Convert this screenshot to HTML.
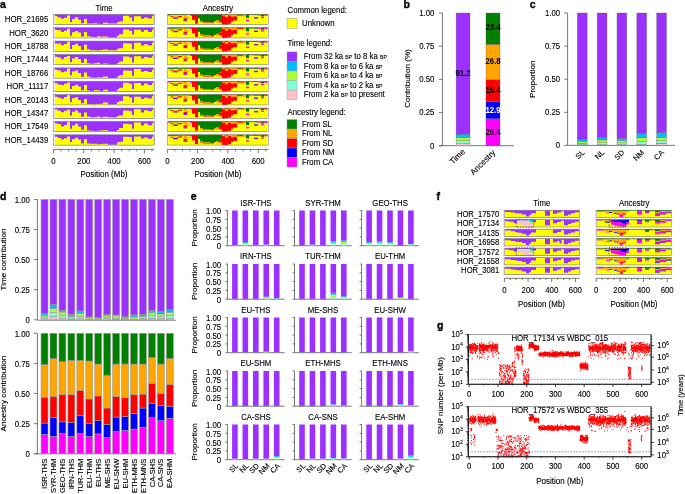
<!DOCTYPE html>
<html><head><meta charset="utf-8"><style>
html,body{margin:0;padding:0;background:#fff;width:685px;height:494px;overflow:hidden}
svg{display:block;will-change:transform}
text{font-family:"Liberation Sans",sans-serif}
</style></head><body>
<svg width="685" height="494" viewBox="0 0 685 494">
<rect width="685" height="494" fill="#fff"/>
<text x="-0.1" y="7.6" font-size="10.5" text-anchor="start" font-weight="bold" fill="#000" stroke="#000" stroke-width="0.35">a</text>
<text transform="translate(104,10.5) scale(0.93,1)" font-size="8.4" text-anchor="middle" font-weight="normal" fill="#000"  stroke="#000" stroke-width="0.12">Time</text>
<text transform="translate(218,10.5) scale(0.93,1)" font-size="8.4" text-anchor="middle" font-weight="normal" fill="#000"  stroke="#000" stroke-width="0.12">Ancestry</text>
<text transform="translate(48.3,22.2) scale(0.93,1)" font-size="8.4" text-anchor="end" font-weight="normal" fill="#000"  stroke="#000" stroke-width="0.12">HOR_21695</text>
<rect x="54.9" y="14.3" width="98.5" height="10.3" fill="#9B30FF" />
<path d="M54.9,24.6 L54.9,16.37 L58,16.37 L58,17.41 L61,17.41 L61,18.65 L64,18.65 L64,17.82 L67,17.82 L67,15.39 L70,15.39 L70,22.09 L72,22.09 L72,18.97 L75,18.97 L75,17.17 L78,17.17 L78,19.82 L81,19.82 L81,23.14 L84,23.14 L84,18.95 L87,18.95 L87,23.56 L90,23.56 L90,23.46 L94,23.46 L94,23.17 L97,23.17 L97,23.73 L100,23.73 L100,23.91 L103,23.91 L103,22.69 L108,22.69 L108,23.53 L117,23.53 L117,22.34 L119,22.34 L119,21.43 L123,21.43 L123,15.77 L129,15.77 L129,17.54 L132,17.54 L132,21.27 L134,21.27 L134,16.21 L141,16.21 L141,18.65 L144,18.65 L144,17.45 L148,17.45 L148,18.45 L152,18.45 L152,15.97 L153.4,15.97 L153.4,24.6 Z" fill="#FFFF00"/>
<rect x="53.5" y="14.3" width="100.8" height="10.3" fill="none" stroke="#7a7a7a" stroke-width="0.6"/>
<rect x="168.2" y="14.3" width="99.4" height="10.3" fill="#FFFF00" />
<rect x="168.2" y="14.3" width="99.4" height="0.72" fill="#008000" />
<rect x="168.2" y="14.3" width="2.35" height="0.82" fill="#008000" />
<rect x="168.2" y="15.12" width="2.35" height="0.62" fill="#FF00FF" />
<rect x="170.5" y="14.3" width="2.55" height="0.82" fill="#008000" />
<rect x="170.5" y="16.15" width="2.55" height="1.03" fill="#FF0000" />
<rect x="173" y="14.3" width="5.05" height="0.82" fill="#008000" />
<rect x="173" y="16.15" width="5.05" height="1.34" fill="#FFA500" />
<rect x="173" y="17.49" width="5.05" height="1.34" fill="#7A12E6" />
<rect x="178" y="14.3" width="4.05" height="0.52" fill="#008000" />
<rect x="178" y="15.85" width="4.05" height="1.24" fill="#FF0000" />
<rect x="182" y="14.3" width="1.55" height="0.52" fill="#008000" />
<rect x="182" y="14.82" width="1.55" height="1.03" fill="#FFA500" />
<rect x="183.5" y="14.3" width="3.55" height="0.82" fill="#008000" />
<rect x="183.5" y="15.12" width="3.55" height="2.58" fill="#FFA500" />
<rect x="183.5" y="18.21" width="3.55" height="2.06" fill="#FF0000" />
<rect x="183.5" y="20.27" width="3.55" height="1.03" fill="#7A12E6" />
<rect x="187" y="14.3" width="3.05" height="0.52" fill="#008000" />
<rect x="187" y="16.88" width="3.05" height="1.03" fill="#FFA500" />
<rect x="190" y="14.3" width="2.05" height="1.55" fill="#FF00FF" />
<rect x="192" y="14.3" width="3.05" height="5.67" fill="#FF0000" />
<rect x="195" y="14.3" width="3.05" height="9.27" fill="#FF0000" />
<rect x="198" y="14.3" width="2.05" height="4.12" fill="#008000" />
<rect x="200" y="14.3" width="3.05" height="6.8" fill="#008000" />
<rect x="200" y="21.1" width="3.05" height="0.62" fill="#FFA500" />
<rect x="200" y="21.72" width="3.05" height="0.52" fill="#FF0000" />
<rect x="203" y="14.3" width="8.05" height="7.73" fill="#008000" />
<rect x="203" y="22.03" width="8.05" height="0.52" fill="#FFA500" />
<rect x="203" y="22.54" width="8.05" height="0.52" fill="#FF0000" />
<rect x="211" y="14.3" width="3.05" height="8.24" fill="#008000" />
<rect x="211" y="22.54" width="3.05" height="0.52" fill="#FF0000" />
<rect x="211" y="23.05" width="3.05" height="0.41" fill="#FFA500" />
<rect x="214" y="14.3" width="2.05" height="7.21" fill="#008000" />
<rect x="214" y="21.51" width="2.05" height="0.62" fill="#FFA500" />
<rect x="216" y="14.3" width="3.05" height="6.18" fill="#008000" />
<rect x="216" y="20.48" width="3.05" height="2.06" fill="#FFA500" />
<rect x="219" y="14.3" width="3.05" height="4.64" fill="#008000" />
<rect x="219" y="18.94" width="3.05" height="3.09" fill="#FF0000" />
<rect x="219" y="22.03" width="3.05" height="1.03" fill="#FFA500" />
<rect x="222" y="14.3" width="3.05" height="1.24" fill="#FFA500" />
<rect x="222" y="15.54" width="3.05" height="9.06" fill="#FF0000" />
<rect x="225" y="14.3" width="3.05" height="0.82" fill="#008000" />
<rect x="225" y="15.12" width="3.05" height="2.06" fill="#FFA500" />
<rect x="225" y="17.18" width="3.05" height="7.42" fill="#FF0000" />
<rect x="228" y="14.3" width="3.05" height="1.24" fill="#FFA500" />
<rect x="228" y="15.54" width="3.05" height="8.24" fill="#FF0000" />
<rect x="231" y="14.3" width="2.05" height="2.58" fill="#FFA500" />
<rect x="231" y="16.88" width="2.05" height="4.64" fill="#FF0000" />
<rect x="233" y="14.3" width="4.05" height="2.06" fill="#FFA500" />
<rect x="233" y="16.36" width="4.05" height="4.12" fill="#FF0000" />
<rect x="237" y="14.3" width="6.05" height="0.62" fill="#008000" />
<rect x="237" y="14.92" width="6.05" height="0.82" fill="#FF0000" />
<rect x="237" y="15.74" width="6.05" height="0.62" fill="#FFA500" />
<rect x="243" y="14.3" width="3.05" height="2.06" fill="#FFA500" />
<rect x="246" y="14.3" width="3.05" height="3.6" fill="#008000" />
<rect x="246" y="19.14" width="3.05" height="0.82" fill="#FFA500" />
<rect x="246" y="19.97" width="3.05" height="1.24" fill="#FF00FF" />
<rect x="249" y="14.3" width="5.05" height="0.52" fill="#FF00FF" />
<rect x="254" y="14.3" width="4.05" height="0.82" fill="#008000" />
<rect x="254" y="17.18" width="4.05" height="1.44" fill="#7A12E6" />
<rect x="258" y="14.3" width="3.05" height="0.62" fill="#FFA500" />
<rect x="258" y="14.92" width="3.05" height="0.62" fill="#FF00FF" />
<rect x="261" y="14.3" width="3.05" height="2.06" fill="#008000" />
<rect x="261" y="16.88" width="3.05" height="1.24" fill="#FF00FF" />
<rect x="264" y="14.3" width="3.65" height="0.62" fill="#FF0000" />
<rect x="264" y="14.92" width="3.65" height="0.82" fill="#FF00FF" />
<rect x="167.3" y="14.3" width="101.2" height="10.3" fill="none" stroke="#7a7a7a" stroke-width="0.6"/>
<text transform="translate(48.3,35.59) scale(0.93,1)" font-size="8.4" text-anchor="end" font-weight="normal" fill="#000"  stroke="#000" stroke-width="0.12">HOR_3620</text>
<rect x="54.9" y="27.69" width="98.5" height="10.3" fill="#9B30FF" />
<path d="M54.9,37.99 L54.9,29.94 L58,29.94 L58,30.27 L61,30.27 L61,32.05 L64,32.05 L64,30.83 L67,30.83 L67,28.76 L70,28.76 L70,35.85 L72,35.85 L72,32.35 L75,32.35 L75,30.94 L78,30.94 L78,32.41 L81,32.41 L81,36.53 L84,36.53 L84,32.04 L87,32.04 L87,36.34 L90,36.34 L90,36.81 L94,36.81 L94,37.21 L97,37.21 L97,36.29 L100,36.29 L100,36.71 L103,36.71 L103,36.56 L108,36.56 L108,37.38 L117,37.38 L117,35.8 L119,35.8 L119,34.23 L123,34.23 L123,29.47 L129,29.47 L129,30.63 L132,30.63 L132,34.51 L134,34.51 L134,29.81 L141,29.81 L141,31.71 L144,31.71 L144,30.05 L148,30.05 L148,32.03 L152,32.03 L152,29.76 L153.4,29.76 L153.4,37.99 Z" fill="#FFFF00"/>
<rect x="53.5" y="27.69" width="100.8" height="10.3" fill="none" stroke="#7a7a7a" stroke-width="0.6"/>
<rect x="168.2" y="27.69" width="99.4" height="10.3" fill="#FFFF00" />
<rect x="168.2" y="27.69" width="99.4" height="0.72" fill="#008000" />
<rect x="168.2" y="27.69" width="2.35" height="0.82" fill="#008000" />
<rect x="168.2" y="28.51" width="2.35" height="0.62" fill="#FF00FF" />
<rect x="170.5" y="27.69" width="2.55" height="0.82" fill="#008000" />
<rect x="170.5" y="29.54" width="2.55" height="1.03" fill="#FF0000" />
<rect x="173" y="27.69" width="5.05" height="0.82" fill="#008000" />
<rect x="173" y="29.54" width="5.05" height="1.34" fill="#FFA500" />
<rect x="173" y="30.88" width="5.05" height="1.34" fill="#7A12E6" />
<rect x="178" y="27.69" width="4.05" height="0.52" fill="#008000" />
<rect x="178" y="29.24" width="4.05" height="1.24" fill="#FF0000" />
<rect x="182" y="27.69" width="1.55" height="0.52" fill="#008000" />
<rect x="182" y="28.21" width="1.55" height="1.03" fill="#FFA500" />
<rect x="183.5" y="27.69" width="3.55" height="0.82" fill="#008000" />
<rect x="183.5" y="28.51" width="3.55" height="2.58" fill="#FFA500" />
<rect x="183.5" y="31.6" width="3.55" height="2.06" fill="#FF0000" />
<rect x="183.5" y="33.66" width="3.55" height="1.03" fill="#7A12E6" />
<rect x="187" y="27.69" width="3.05" height="0.52" fill="#008000" />
<rect x="187" y="30.27" width="3.05" height="1.03" fill="#FFA500" />
<rect x="190" y="27.69" width="2.05" height="1.55" fill="#FF00FF" />
<rect x="192" y="27.69" width="3.05" height="5.67" fill="#FF0000" />
<rect x="195" y="27.69" width="3.05" height="9.27" fill="#FF0000" />
<rect x="198" y="27.69" width="2.05" height="4.12" fill="#008000" />
<rect x="200" y="27.69" width="3.05" height="6.8" fill="#008000" />
<rect x="200" y="34.49" width="3.05" height="0.62" fill="#FFA500" />
<rect x="200" y="35.11" width="3.05" height="0.52" fill="#FF0000" />
<rect x="203" y="27.69" width="8.05" height="7.73" fill="#008000" />
<rect x="203" y="35.41" width="8.05" height="0.52" fill="#FFA500" />
<rect x="203" y="35.93" width="8.05" height="0.52" fill="#FF0000" />
<rect x="211" y="27.69" width="3.05" height="8.24" fill="#008000" />
<rect x="211" y="35.93" width="3.05" height="0.52" fill="#FF0000" />
<rect x="211" y="36.45" width="3.05" height="0.41" fill="#FFA500" />
<rect x="214" y="27.69" width="2.05" height="7.21" fill="#008000" />
<rect x="214" y="34.9" width="2.05" height="0.62" fill="#FFA500" />
<rect x="216" y="27.69" width="3.05" height="6.18" fill="#008000" />
<rect x="216" y="33.87" width="3.05" height="2.06" fill="#FFA500" />
<rect x="219" y="27.69" width="3.05" height="4.64" fill="#008000" />
<rect x="219" y="32.33" width="3.05" height="3.09" fill="#FF0000" />
<rect x="219" y="35.42" width="3.05" height="1.03" fill="#FFA500" />
<rect x="222" y="27.69" width="3.05" height="1.24" fill="#FFA500" />
<rect x="222" y="28.93" width="3.05" height="9.06" fill="#FF0000" />
<rect x="225" y="27.69" width="3.05" height="0.82" fill="#008000" />
<rect x="225" y="28.51" width="3.05" height="2.06" fill="#FFA500" />
<rect x="225" y="30.57" width="3.05" height="7.42" fill="#FF0000" />
<rect x="228" y="27.69" width="3.05" height="1.24" fill="#FFA500" />
<rect x="228" y="28.93" width="3.05" height="8.24" fill="#FF0000" />
<rect x="231" y="27.69" width="2.05" height="2.58" fill="#FFA500" />
<rect x="231" y="30.27" width="2.05" height="4.64" fill="#FF0000" />
<rect x="233" y="27.69" width="4.05" height="2.06" fill="#FFA500" />
<rect x="233" y="29.75" width="4.05" height="4.12" fill="#FF0000" />
<rect x="237" y="27.69" width="6.05" height="0.62" fill="#008000" />
<rect x="237" y="28.31" width="6.05" height="0.82" fill="#FF0000" />
<rect x="237" y="29.13" width="6.05" height="0.62" fill="#FFA500" />
<rect x="243" y="27.69" width="3.05" height="2.06" fill="#FFA500" />
<rect x="246" y="27.69" width="3.05" height="3.6" fill="#008000" />
<rect x="246" y="32.53" width="3.05" height="0.82" fill="#FFA500" />
<rect x="246" y="33.35" width="3.05" height="1.24" fill="#FF00FF" />
<rect x="249" y="27.69" width="5.05" height="0.52" fill="#FF00FF" />
<rect x="254" y="27.69" width="4.05" height="0.82" fill="#008000" />
<rect x="254" y="30.57" width="4.05" height="1.44" fill="#7A12E6" />
<rect x="258" y="27.69" width="3.05" height="0.62" fill="#FFA500" />
<rect x="258" y="28.31" width="3.05" height="0.62" fill="#FF00FF" />
<rect x="261" y="27.69" width="3.05" height="2.06" fill="#008000" />
<rect x="261" y="30.27" width="3.05" height="1.24" fill="#FF00FF" />
<rect x="264" y="27.69" width="3.65" height="0.62" fill="#FF0000" />
<rect x="264" y="28.31" width="3.65" height="0.82" fill="#FF00FF" />
<rect x="167.3" y="27.69" width="101.2" height="10.3" fill="none" stroke="#7a7a7a" stroke-width="0.6"/>
<text transform="translate(48.3,48.98) scale(0.93,1)" font-size="8.4" text-anchor="end" font-weight="normal" fill="#000"  stroke="#000" stroke-width="0.12">HOR_18788</text>
<rect x="54.9" y="41.08" width="98.5" height="10.3" fill="#9B30FF" />
<path d="M54.9,51.38 L54.9,43.5 L58,43.5 L58,43.55 L61,43.55 L61,45.28 L64,45.28 L64,43.98 L67,43.98 L67,41.75 L70,41.75 L70,48.93 L72,48.93 L72,44.96 L75,44.96 L75,43.85 L78,43.85 L78,45.93 L81,45.93 L81,49.89 L84,49.89 L84,44.78 L87,44.78 L87,49.29 L90,49.29 L90,50.18 L94,50.18 L94,50.15 L97,50.15 L97,50.58 L100,50.58 L100,50.1 L103,50.1 L103,49.45 L108,49.45 L108,50.26 L117,50.26 L117,48.82 L119,48.82 L119,48.35 L123,48.35 L123,43.28 L129,43.28 L129,43.55 L132,43.55 L132,49.09 L134,49.09 L134,42.78 L141,42.78 L141,45.4 L144,45.4 L144,44.23 L148,44.23 L148,45.54 L152,45.54 L152,42.81 L153.4,42.81 L153.4,51.38 Z" fill="#FFFF00"/>
<rect x="53.5" y="41.08" width="100.8" height="10.3" fill="none" stroke="#7a7a7a" stroke-width="0.6"/>
<rect x="168.2" y="41.08" width="99.4" height="10.3" fill="#FFFF00" />
<rect x="168.2" y="41.08" width="99.4" height="0.72" fill="#008000" />
<rect x="168.2" y="41.08" width="2.35" height="0.82" fill="#008000" />
<rect x="168.2" y="41.9" width="2.35" height="0.62" fill="#FF00FF" />
<rect x="170.5" y="41.08" width="2.55" height="0.82" fill="#008000" />
<rect x="170.5" y="42.93" width="2.55" height="1.03" fill="#FF0000" />
<rect x="173" y="41.08" width="5.05" height="0.82" fill="#008000" />
<rect x="173" y="42.93" width="5.05" height="1.34" fill="#FFA500" />
<rect x="173" y="44.27" width="5.05" height="1.34" fill="#7A12E6" />
<rect x="178" y="41.08" width="4.05" height="0.52" fill="#008000" />
<rect x="178" y="42.62" width="4.05" height="1.24" fill="#FF0000" />
<rect x="182" y="41.08" width="1.55" height="0.52" fill="#008000" />
<rect x="182" y="41.59" width="1.55" height="1.03" fill="#FFA500" />
<rect x="183.5" y="41.08" width="3.55" height="0.82" fill="#008000" />
<rect x="183.5" y="41.9" width="3.55" height="2.58" fill="#FFA500" />
<rect x="183.5" y="44.99" width="3.55" height="2.06" fill="#FF0000" />
<rect x="183.5" y="47.05" width="3.55" height="1.03" fill="#7A12E6" />
<rect x="187" y="41.08" width="3.05" height="0.52" fill="#008000" />
<rect x="187" y="43.66" width="3.05" height="1.03" fill="#FFA500" />
<rect x="190" y="41.08" width="2.05" height="1.55" fill="#FF00FF" />
<rect x="192" y="41.08" width="3.05" height="5.67" fill="#FF0000" />
<rect x="195" y="41.08" width="3.05" height="9.27" fill="#FF0000" />
<rect x="198" y="41.08" width="2.05" height="4.12" fill="#008000" />
<rect x="200" y="41.08" width="3.05" height="6.8" fill="#008000" />
<rect x="200" y="47.88" width="3.05" height="0.62" fill="#FFA500" />
<rect x="200" y="48.5" width="3.05" height="0.52" fill="#FF0000" />
<rect x="203" y="41.08" width="8.05" height="7.73" fill="#008000" />
<rect x="203" y="48.8" width="8.05" height="0.52" fill="#FFA500" />
<rect x="203" y="49.32" width="8.05" height="0.52" fill="#FF0000" />
<rect x="211" y="41.08" width="3.05" height="8.24" fill="#008000" />
<rect x="211" y="49.32" width="3.05" height="0.52" fill="#FF0000" />
<rect x="211" y="49.84" width="3.05" height="0.41" fill="#FFA500" />
<rect x="214" y="41.08" width="2.05" height="7.21" fill="#008000" />
<rect x="214" y="48.29" width="2.05" height="0.62" fill="#FFA500" />
<rect x="216" y="41.08" width="3.05" height="6.18" fill="#008000" />
<rect x="216" y="47.26" width="3.05" height="2.06" fill="#FFA500" />
<rect x="219" y="41.08" width="3.05" height="4.64" fill="#008000" />
<rect x="219" y="45.71" width="3.05" height="3.09" fill="#FF0000" />
<rect x="219" y="48.8" width="3.05" height="1.03" fill="#FFA500" />
<rect x="222" y="41.08" width="3.05" height="1.24" fill="#FFA500" />
<rect x="222" y="42.32" width="3.05" height="9.06" fill="#FF0000" />
<rect x="225" y="41.08" width="3.05" height="0.82" fill="#008000" />
<rect x="225" y="41.9" width="3.05" height="2.06" fill="#FFA500" />
<rect x="225" y="43.96" width="3.05" height="7.42" fill="#FF0000" />
<rect x="228" y="41.08" width="3.05" height="1.24" fill="#FFA500" />
<rect x="228" y="42.32" width="3.05" height="8.24" fill="#FF0000" />
<rect x="231" y="41.08" width="2.05" height="2.58" fill="#FFA500" />
<rect x="231" y="43.66" width="2.05" height="4.64" fill="#FF0000" />
<rect x="233" y="41.08" width="4.05" height="2.06" fill="#FFA500" />
<rect x="233" y="43.14" width="4.05" height="4.12" fill="#FF0000" />
<rect x="237" y="41.08" width="6.05" height="0.62" fill="#008000" />
<rect x="237" y="41.7" width="6.05" height="0.82" fill="#FF0000" />
<rect x="237" y="42.52" width="6.05" height="0.62" fill="#FFA500" />
<rect x="243" y="41.08" width="3.05" height="2.06" fill="#FFA500" />
<rect x="246" y="41.08" width="3.05" height="3.6" fill="#008000" />
<rect x="246" y="45.92" width="3.05" height="0.82" fill="#FFA500" />
<rect x="246" y="46.74" width="3.05" height="1.24" fill="#FF00FF" />
<rect x="249" y="41.08" width="5.05" height="0.52" fill="#FF00FF" />
<rect x="254" y="41.08" width="4.05" height="0.82" fill="#008000" />
<rect x="254" y="43.96" width="4.05" height="1.44" fill="#7A12E6" />
<rect x="258" y="41.08" width="3.05" height="0.62" fill="#FFA500" />
<rect x="258" y="41.7" width="3.05" height="0.62" fill="#FF00FF" />
<rect x="261" y="41.08" width="3.05" height="2.06" fill="#008000" />
<rect x="261" y="43.66" width="3.05" height="1.24" fill="#FF00FF" />
<rect x="264" y="41.08" width="3.65" height="0.62" fill="#FF0000" />
<rect x="264" y="41.7" width="3.65" height="0.82" fill="#FF00FF" />
<rect x="167.3" y="41.08" width="101.2" height="10.3" fill="none" stroke="#7a7a7a" stroke-width="0.6"/>
<text transform="translate(48.3,62.37) scale(0.93,1)" font-size="8.4" text-anchor="end" font-weight="normal" fill="#000"  stroke="#000" stroke-width="0.12">HOR_17444</text>
<rect x="54.9" y="54.47" width="98.5" height="10.3" fill="#9B30FF" />
<path d="M54.9,64.77 L54.9,56.78 L58,56.78 L58,57.46 L61,57.46 L61,59.14 L64,59.14 L64,57 L67,57 L67,56.12 L70,56.12 L70,62.15 L72,62.15 L72,58.53 L75,58.53 L75,56.88 L78,56.88 L78,59.02 L81,59.02 L81,62.78 L84,62.78 L84,58.86 L87,58.86 L87,63.33 L90,63.33 L90,63.71 L94,63.71 L94,63.27 L97,63.27 L97,62.87 L100,62.87 L100,64.17 L103,64.17 L103,63.42 L108,63.42 L108,64.59 L117,64.59 L117,62.94 L119,62.94 L119,61.49 L123,61.49 L123,56.42 L129,56.42 L129,57.44 L132,57.44 L132,62.5 L134,62.5 L134,56.22 L141,56.22 L141,58.55 L144,58.55 L144,57.07 L148,57.07 L148,57.82 L152,57.82 L152,56.29 L153.4,56.29 L153.4,64.77 Z" fill="#FFFF00"/>
<rect x="53.5" y="54.47" width="100.8" height="10.3" fill="none" stroke="#7a7a7a" stroke-width="0.6"/>
<rect x="168.2" y="54.47" width="99.4" height="10.3" fill="#FFFF00" />
<rect x="168.2" y="54.47" width="99.4" height="0.72" fill="#008000" />
<rect x="168.2" y="54.47" width="2.35" height="0.82" fill="#008000" />
<rect x="168.2" y="55.29" width="2.35" height="0.62" fill="#FF00FF" />
<rect x="170.5" y="54.47" width="2.55" height="0.82" fill="#008000" />
<rect x="170.5" y="56.32" width="2.55" height="1.03" fill="#FF0000" />
<rect x="173" y="54.47" width="5.05" height="0.82" fill="#008000" />
<rect x="173" y="56.32" width="5.05" height="1.34" fill="#FFA500" />
<rect x="173" y="57.66" width="5.05" height="1.34" fill="#7A12E6" />
<rect x="178" y="54.47" width="4.05" height="0.52" fill="#008000" />
<rect x="178" y="56.02" width="4.05" height="1.24" fill="#FF0000" />
<rect x="182" y="54.47" width="1.55" height="0.52" fill="#008000" />
<rect x="182" y="54.98" width="1.55" height="1.03" fill="#FFA500" />
<rect x="183.5" y="54.47" width="3.55" height="0.82" fill="#008000" />
<rect x="183.5" y="55.29" width="3.55" height="2.58" fill="#FFA500" />
<rect x="183.5" y="58.38" width="3.55" height="2.06" fill="#FF0000" />
<rect x="183.5" y="60.44" width="3.55" height="1.03" fill="#7A12E6" />
<rect x="187" y="54.47" width="3.05" height="0.52" fill="#008000" />
<rect x="187" y="57.05" width="3.05" height="1.03" fill="#FFA500" />
<rect x="190" y="54.47" width="2.05" height="1.55" fill="#FF00FF" />
<rect x="192" y="54.47" width="3.05" height="5.67" fill="#FF0000" />
<rect x="195" y="54.47" width="3.05" height="9.27" fill="#FF0000" />
<rect x="198" y="54.47" width="2.05" height="4.12" fill="#008000" />
<rect x="200" y="54.47" width="3.05" height="6.8" fill="#008000" />
<rect x="200" y="61.27" width="3.05" height="0.62" fill="#FFA500" />
<rect x="200" y="61.89" width="3.05" height="0.52" fill="#FF0000" />
<rect x="203" y="54.47" width="8.05" height="7.73" fill="#008000" />
<rect x="203" y="62.2" width="8.05" height="0.52" fill="#FFA500" />
<rect x="203" y="62.71" width="8.05" height="0.52" fill="#FF0000" />
<rect x="211" y="54.47" width="3.05" height="8.24" fill="#008000" />
<rect x="211" y="62.71" width="3.05" height="0.52" fill="#FF0000" />
<rect x="211" y="63.23" width="3.05" height="0.41" fill="#FFA500" />
<rect x="214" y="54.47" width="2.05" height="7.21" fill="#008000" />
<rect x="214" y="61.68" width="2.05" height="0.62" fill="#FFA500" />
<rect x="216" y="54.47" width="3.05" height="6.18" fill="#008000" />
<rect x="216" y="60.65" width="3.05" height="2.06" fill="#FFA500" />
<rect x="219" y="54.47" width="3.05" height="4.64" fill="#008000" />
<rect x="219" y="59.1" width="3.05" height="3.09" fill="#FF0000" />
<rect x="219" y="62.2" width="3.05" height="1.03" fill="#FFA500" />
<rect x="222" y="54.47" width="3.05" height="1.24" fill="#FFA500" />
<rect x="222" y="55.71" width="3.05" height="9.06" fill="#FF0000" />
<rect x="225" y="54.47" width="3.05" height="0.82" fill="#008000" />
<rect x="225" y="55.29" width="3.05" height="2.06" fill="#FFA500" />
<rect x="225" y="57.35" width="3.05" height="7.42" fill="#FF0000" />
<rect x="228" y="54.47" width="3.05" height="1.24" fill="#FFA500" />
<rect x="228" y="55.71" width="3.05" height="8.24" fill="#FF0000" />
<rect x="231" y="54.47" width="2.05" height="2.58" fill="#FFA500" />
<rect x="231" y="57.05" width="2.05" height="4.64" fill="#FF0000" />
<rect x="233" y="54.47" width="4.05" height="2.06" fill="#FFA500" />
<rect x="233" y="56.53" width="4.05" height="4.12" fill="#FF0000" />
<rect x="237" y="54.47" width="6.05" height="0.62" fill="#008000" />
<rect x="237" y="55.09" width="6.05" height="0.82" fill="#FF0000" />
<rect x="237" y="55.91" width="6.05" height="0.62" fill="#FFA500" />
<rect x="243" y="54.47" width="3.05" height="2.06" fill="#FFA500" />
<rect x="246" y="54.47" width="3.05" height="3.6" fill="#008000" />
<rect x="246" y="59.31" width="3.05" height="0.82" fill="#FFA500" />
<rect x="246" y="60.13" width="3.05" height="1.24" fill="#FF00FF" />
<rect x="249" y="54.47" width="5.05" height="0.52" fill="#FF00FF" />
<rect x="254" y="54.47" width="4.05" height="0.82" fill="#008000" />
<rect x="254" y="57.35" width="4.05" height="1.44" fill="#7A12E6" />
<rect x="258" y="54.47" width="3.05" height="0.62" fill="#FFA500" />
<rect x="258" y="55.09" width="3.05" height="0.62" fill="#FF00FF" />
<rect x="261" y="54.47" width="3.05" height="2.06" fill="#008000" />
<rect x="261" y="57.05" width="3.05" height="1.24" fill="#FF00FF" />
<rect x="264" y="54.47" width="3.65" height="0.62" fill="#FF0000" />
<rect x="264" y="55.09" width="3.65" height="0.82" fill="#FF00FF" />
<rect x="167.3" y="54.47" width="101.2" height="10.3" fill="none" stroke="#7a7a7a" stroke-width="0.6"/>
<text transform="translate(48.3,75.76) scale(0.93,1)" font-size="8.4" text-anchor="end" font-weight="normal" fill="#000"  stroke="#000" stroke-width="0.12">HOR_18766</text>
<rect x="54.9" y="67.86" width="98.5" height="10.3" fill="#9B30FF" />
<path d="M54.9,78.16 L54.9,69.69 L58,69.69 L58,70.39 L61,70.39 L61,72.17 L64,72.17 L64,71.4 L67,71.4 L67,68.5 L70,68.5 L70,75.14 L72,75.14 L72,71.52 L75,71.52 L75,70.38 L78,70.38 L78,72.94 L81,72.94 L81,76.74 L84,76.74 L84,72.47 L87,72.47 L87,76.45 L90,76.45 L90,77.47 L94,77.47 L94,77.66 L97,77.66 L97,77.18 L100,77.18 L100,77.55 L103,77.55 L103,76.61 L108,76.61 L108,78.16 L117,78.16 L117,76.61 L119,76.61 L119,75.3 L123,75.3 L123,70.41 L129,70.41 L129,70.71 L132,70.71 L132,75.86 L134,75.86 L134,69.05 L141,69.05 L141,71.63 L144,71.63 L144,70.97 L148,70.97 L148,72.08 L152,72.08 L152,70.11 L153.4,70.11 L153.4,78.16 Z" fill="#FFFF00"/>
<rect x="53.5" y="67.86" width="100.8" height="10.3" fill="none" stroke="#7a7a7a" stroke-width="0.6"/>
<rect x="168.2" y="67.86" width="99.4" height="10.3" fill="#FFFF00" />
<rect x="168.2" y="67.86" width="99.4" height="0.72" fill="#008000" />
<rect x="168.2" y="67.86" width="2.35" height="0.82" fill="#008000" />
<rect x="168.2" y="68.68" width="2.35" height="0.62" fill="#FF00FF" />
<rect x="170.5" y="67.86" width="2.55" height="0.82" fill="#008000" />
<rect x="170.5" y="69.71" width="2.55" height="1.03" fill="#FF0000" />
<rect x="173" y="67.86" width="5.05" height="0.82" fill="#008000" />
<rect x="173" y="69.71" width="5.05" height="1.34" fill="#FFA500" />
<rect x="173" y="71.05" width="5.05" height="1.34" fill="#7A12E6" />
<rect x="178" y="67.86" width="4.05" height="0.52" fill="#008000" />
<rect x="178" y="69.41" width="4.05" height="1.24" fill="#FF0000" />
<rect x="182" y="67.86" width="1.55" height="0.52" fill="#008000" />
<rect x="182" y="68.38" width="1.55" height="1.03" fill="#FFA500" />
<rect x="183.5" y="67.86" width="3.55" height="0.82" fill="#008000" />
<rect x="183.5" y="68.68" width="3.55" height="2.58" fill="#FFA500" />
<rect x="183.5" y="71.77" width="3.55" height="2.06" fill="#FF0000" />
<rect x="183.5" y="73.83" width="3.55" height="1.03" fill="#7A12E6" />
<rect x="187" y="67.86" width="3.05" height="0.52" fill="#008000" />
<rect x="187" y="70.44" width="3.05" height="1.03" fill="#FFA500" />
<rect x="190" y="67.86" width="2.05" height="1.55" fill="#FF00FF" />
<rect x="192" y="67.86" width="3.05" height="5.67" fill="#FF0000" />
<rect x="195" y="67.86" width="3.05" height="9.27" fill="#FF0000" />
<rect x="198" y="67.86" width="2.05" height="4.12" fill="#008000" />
<rect x="200" y="67.86" width="3.05" height="6.8" fill="#008000" />
<rect x="200" y="74.66" width="3.05" height="0.62" fill="#FFA500" />
<rect x="200" y="75.28" width="3.05" height="0.52" fill="#FF0000" />
<rect x="203" y="67.86" width="8.05" height="7.73" fill="#008000" />
<rect x="203" y="75.58" width="8.05" height="0.52" fill="#FFA500" />
<rect x="203" y="76.1" width="8.05" height="0.52" fill="#FF0000" />
<rect x="211" y="67.86" width="3.05" height="8.24" fill="#008000" />
<rect x="211" y="76.1" width="3.05" height="0.52" fill="#FF0000" />
<rect x="211" y="76.61" width="3.05" height="0.41" fill="#FFA500" />
<rect x="214" y="67.86" width="2.05" height="7.21" fill="#008000" />
<rect x="214" y="75.07" width="2.05" height="0.62" fill="#FFA500" />
<rect x="216" y="67.86" width="3.05" height="6.18" fill="#008000" />
<rect x="216" y="74.04" width="3.05" height="2.06" fill="#FFA500" />
<rect x="219" y="67.86" width="3.05" height="4.64" fill="#008000" />
<rect x="219" y="72.5" width="3.05" height="3.09" fill="#FF0000" />
<rect x="219" y="75.59" width="3.05" height="1.03" fill="#FFA500" />
<rect x="222" y="67.86" width="3.05" height="1.24" fill="#FFA500" />
<rect x="222" y="69.1" width="3.05" height="9.06" fill="#FF0000" />
<rect x="225" y="67.86" width="3.05" height="0.82" fill="#008000" />
<rect x="225" y="68.68" width="3.05" height="2.06" fill="#FFA500" />
<rect x="225" y="70.74" width="3.05" height="7.42" fill="#FF0000" />
<rect x="228" y="67.86" width="3.05" height="1.24" fill="#FFA500" />
<rect x="228" y="69.1" width="3.05" height="8.24" fill="#FF0000" />
<rect x="231" y="67.86" width="2.05" height="2.58" fill="#FFA500" />
<rect x="231" y="70.44" width="2.05" height="4.64" fill="#FF0000" />
<rect x="233" y="67.86" width="4.05" height="2.06" fill="#FFA500" />
<rect x="233" y="69.92" width="4.05" height="4.12" fill="#FF0000" />
<rect x="237" y="67.86" width="6.05" height="0.62" fill="#008000" />
<rect x="237" y="68.48" width="6.05" height="0.82" fill="#FF0000" />
<rect x="237" y="69.3" width="6.05" height="0.62" fill="#FFA500" />
<rect x="243" y="67.86" width="3.05" height="2.06" fill="#FFA500" />
<rect x="246" y="67.86" width="3.05" height="3.6" fill="#008000" />
<rect x="246" y="72.7" width="3.05" height="0.82" fill="#FFA500" />
<rect x="246" y="73.53" width="3.05" height="1.24" fill="#FF00FF" />
<rect x="249" y="67.86" width="5.05" height="0.52" fill="#FF00FF" />
<rect x="254" y="67.86" width="4.05" height="0.82" fill="#008000" />
<rect x="254" y="70.74" width="4.05" height="1.44" fill="#7A12E6" />
<rect x="258" y="67.86" width="3.05" height="0.62" fill="#FFA500" />
<rect x="258" y="68.48" width="3.05" height="0.62" fill="#FF00FF" />
<rect x="261" y="67.86" width="3.05" height="2.06" fill="#008000" />
<rect x="261" y="70.44" width="3.05" height="1.24" fill="#FF00FF" />
<rect x="264" y="67.86" width="3.65" height="0.62" fill="#FF0000" />
<rect x="264" y="68.48" width="3.65" height="0.82" fill="#FF00FF" />
<rect x="167.3" y="67.86" width="101.2" height="10.3" fill="none" stroke="#7a7a7a" stroke-width="0.6"/>
<text transform="translate(48.3,89.15) scale(0.93,1)" font-size="8.4" text-anchor="end" font-weight="normal" fill="#000"  stroke="#000" stroke-width="0.12">HOR_11117</text>
<rect x="54.9" y="81.25" width="98.5" height="10.3" fill="#9B30FF" />
<path d="M54.9,91.55 L54.9,83.27 L58,83.27 L58,84.39 L61,84.39 L61,85.35 L64,85.35 L64,83.63 L67,83.63 L67,82.43 L70,82.43 L70,88.89 L72,88.89 L72,85.88 L75,85.88 L75,84.63 L78,84.63 L78,86.39 L81,86.39 L81,90.3 L84,90.3 L84,84.96 L87,84.96 L87,90.42 L90,90.42 L90,90.9 L94,90.9 L94,89.96 L97,89.96 L97,90.18 L100,90.18 L100,90.96 L103,90.96 L103,89.75 L108,89.75 L108,91.55 L117,91.55 L117,89.35 L119,89.35 L119,87.66 L123,87.66 L123,82.86 L129,82.86 L129,83.69 L132,83.69 L132,88.96 L134,88.96 L134,83.06 L141,83.06 L141,85.58 L144,85.58 L144,83.59 L148,83.59 L148,85.12 L152,85.12 L152,82.97 L153.4,82.97 L153.4,91.55 Z" fill="#FFFF00"/>
<rect x="53.5" y="81.25" width="100.8" height="10.3" fill="none" stroke="#7a7a7a" stroke-width="0.6"/>
<rect x="168.2" y="81.25" width="99.4" height="10.3" fill="#FFFF00" />
<rect x="168.2" y="81.25" width="99.4" height="0.72" fill="#008000" />
<rect x="168.2" y="81.25" width="2.35" height="0.82" fill="#008000" />
<rect x="168.2" y="82.07" width="2.35" height="0.62" fill="#FF00FF" />
<rect x="170.5" y="81.25" width="2.55" height="0.82" fill="#008000" />
<rect x="170.5" y="83.1" width="2.55" height="1.03" fill="#FF0000" />
<rect x="173" y="81.25" width="5.05" height="0.82" fill="#008000" />
<rect x="173" y="83.1" width="5.05" height="1.34" fill="#FFA500" />
<rect x="173" y="84.44" width="5.05" height="1.34" fill="#7A12E6" />
<rect x="178" y="81.25" width="4.05" height="0.52" fill="#008000" />
<rect x="178" y="82.8" width="4.05" height="1.24" fill="#FF0000" />
<rect x="182" y="81.25" width="1.55" height="0.52" fill="#008000" />
<rect x="182" y="81.77" width="1.55" height="1.03" fill="#FFA500" />
<rect x="183.5" y="81.25" width="3.55" height="0.82" fill="#008000" />
<rect x="183.5" y="82.07" width="3.55" height="2.58" fill="#FFA500" />
<rect x="183.5" y="85.16" width="3.55" height="2.06" fill="#FF0000" />
<rect x="183.5" y="87.22" width="3.55" height="1.03" fill="#7A12E6" />
<rect x="187" y="81.25" width="3.05" height="0.52" fill="#008000" />
<rect x="187" y="83.83" width="3.05" height="1.03" fill="#FFA500" />
<rect x="190" y="81.25" width="2.05" height="1.55" fill="#FF00FF" />
<rect x="192" y="81.25" width="3.05" height="5.67" fill="#FF0000" />
<rect x="195" y="81.25" width="3.05" height="9.27" fill="#FF0000" />
<rect x="198" y="81.25" width="2.05" height="4.12" fill="#008000" />
<rect x="200" y="81.25" width="3.05" height="6.8" fill="#008000" />
<rect x="200" y="88.05" width="3.05" height="0.62" fill="#FFA500" />
<rect x="200" y="88.67" width="3.05" height="0.52" fill="#FF0000" />
<rect x="203" y="81.25" width="8.05" height="7.73" fill="#008000" />
<rect x="203" y="88.97" width="8.05" height="0.52" fill="#FFA500" />
<rect x="203" y="89.49" width="8.05" height="0.52" fill="#FF0000" />
<rect x="211" y="81.25" width="3.05" height="8.24" fill="#008000" />
<rect x="211" y="89.49" width="3.05" height="0.52" fill="#FF0000" />
<rect x="211" y="90" width="3.05" height="0.41" fill="#FFA500" />
<rect x="214" y="81.25" width="2.05" height="7.21" fill="#008000" />
<rect x="214" y="88.46" width="2.05" height="0.62" fill="#FFA500" />
<rect x="216" y="81.25" width="3.05" height="6.18" fill="#008000" />
<rect x="216" y="87.43" width="3.05" height="2.06" fill="#FFA500" />
<rect x="219" y="81.25" width="3.05" height="4.64" fill="#008000" />
<rect x="219" y="85.89" width="3.05" height="3.09" fill="#FF0000" />
<rect x="219" y="88.98" width="3.05" height="1.03" fill="#FFA500" />
<rect x="222" y="81.25" width="3.05" height="1.24" fill="#FFA500" />
<rect x="222" y="82.49" width="3.05" height="9.06" fill="#FF0000" />
<rect x="225" y="81.25" width="3.05" height="0.82" fill="#008000" />
<rect x="225" y="82.07" width="3.05" height="2.06" fill="#FFA500" />
<rect x="225" y="84.13" width="3.05" height="7.42" fill="#FF0000" />
<rect x="228" y="81.25" width="3.05" height="1.24" fill="#FFA500" />
<rect x="228" y="82.49" width="3.05" height="8.24" fill="#FF0000" />
<rect x="231" y="81.25" width="2.05" height="2.58" fill="#FFA500" />
<rect x="231" y="83.83" width="2.05" height="4.64" fill="#FF0000" />
<rect x="233" y="81.25" width="4.05" height="2.06" fill="#FFA500" />
<rect x="233" y="83.31" width="4.05" height="4.12" fill="#FF0000" />
<rect x="237" y="81.25" width="6.05" height="0.62" fill="#008000" />
<rect x="237" y="81.87" width="6.05" height="0.82" fill="#FF0000" />
<rect x="237" y="82.69" width="6.05" height="0.62" fill="#FFA500" />
<rect x="243" y="81.25" width="3.05" height="2.06" fill="#FFA500" />
<rect x="246" y="81.25" width="3.05" height="3.6" fill="#008000" />
<rect x="246" y="86.09" width="3.05" height="0.82" fill="#FFA500" />
<rect x="246" y="86.92" width="3.05" height="1.24" fill="#FF00FF" />
<rect x="249" y="81.25" width="5.05" height="0.52" fill="#FF00FF" />
<rect x="254" y="81.25" width="4.05" height="0.82" fill="#008000" />
<rect x="254" y="84.13" width="4.05" height="1.44" fill="#7A12E6" />
<rect x="258" y="81.25" width="3.05" height="0.62" fill="#FFA500" />
<rect x="258" y="81.87" width="3.05" height="0.62" fill="#FF00FF" />
<rect x="261" y="81.25" width="3.05" height="2.06" fill="#008000" />
<rect x="261" y="83.83" width="3.05" height="1.24" fill="#FF00FF" />
<rect x="264" y="81.25" width="3.65" height="0.62" fill="#FF0000" />
<rect x="264" y="81.87" width="3.65" height="0.82" fill="#FF00FF" />
<rect x="167.3" y="81.25" width="101.2" height="10.3" fill="none" stroke="#7a7a7a" stroke-width="0.6"/>
<text transform="translate(48.3,102.54) scale(0.93,1)" font-size="8.4" text-anchor="end" font-weight="normal" fill="#000"  stroke="#000" stroke-width="0.12">HOR_20143</text>
<rect x="54.9" y="94.64" width="98.5" height="10.3" fill="#9B30FF" />
<path d="M54.9,104.94 L54.9,96.7 L58,96.7 L58,97.66 L61,97.66 L61,98.79 L64,98.79 L64,97.03 L67,97.03 L67,95.34 L70,95.34 L70,101.88 L72,101.88 L72,98.37 L75,98.37 L75,97.23 L78,97.23 L78,99.92 L81,99.92 L81,103.37 L84,103.37 L84,98.94 L87,98.94 L87,103.98 L90,103.98 L90,104.29 L94,104.29 L94,104.18 L97,104.18 L97,103.9 L100,103.9 L100,103.67 L103,103.67 L103,102.62 L108,102.62 L108,104.49 L117,104.49 L117,102.24 L119,102.24 L119,101.04 L123,101.04 L123,96.14 L129,96.14 L129,97.49 L132,97.49 L132,102.4 L134,102.4 L134,96.63 L141,96.63 L141,98.93 L144,98.93 L144,97.68 L148,97.68 L148,98.4 L152,98.4 L152,96.21 L153.4,96.21 L153.4,104.94 Z" fill="#FFFF00"/>
<rect x="53.5" y="94.64" width="100.8" height="10.3" fill="none" stroke="#7a7a7a" stroke-width="0.6"/>
<rect x="168.2" y="94.64" width="99.4" height="10.3" fill="#FFFF00" />
<rect x="168.2" y="94.64" width="99.4" height="0.72" fill="#008000" />
<rect x="168.2" y="94.64" width="2.35" height="0.82" fill="#008000" />
<rect x="168.2" y="95.46" width="2.35" height="0.62" fill="#FF00FF" />
<rect x="170.5" y="94.64" width="2.55" height="0.82" fill="#008000" />
<rect x="170.5" y="96.49" width="2.55" height="1.03" fill="#FF0000" />
<rect x="173" y="94.64" width="5.05" height="0.82" fill="#008000" />
<rect x="173" y="96.49" width="5.05" height="1.34" fill="#FFA500" />
<rect x="173" y="97.83" width="5.05" height="1.34" fill="#7A12E6" />
<rect x="178" y="94.64" width="4.05" height="0.52" fill="#008000" />
<rect x="178" y="96.19" width="4.05" height="1.24" fill="#FF0000" />
<rect x="182" y="94.64" width="1.55" height="0.52" fill="#008000" />
<rect x="182" y="95.16" width="1.55" height="1.03" fill="#FFA500" />
<rect x="183.5" y="94.64" width="3.55" height="0.82" fill="#008000" />
<rect x="183.5" y="95.46" width="3.55" height="2.58" fill="#FFA500" />
<rect x="183.5" y="98.55" width="3.55" height="2.06" fill="#FF0000" />
<rect x="183.5" y="100.61" width="3.55" height="1.03" fill="#7A12E6" />
<rect x="187" y="94.64" width="3.05" height="0.52" fill="#008000" />
<rect x="187" y="97.22" width="3.05" height="1.03" fill="#FFA500" />
<rect x="190" y="94.64" width="2.05" height="1.55" fill="#FF00FF" />
<rect x="192" y="94.64" width="3.05" height="5.67" fill="#FF0000" />
<rect x="195" y="94.64" width="3.05" height="9.27" fill="#FF0000" />
<rect x="198" y="94.64" width="2.05" height="4.12" fill="#008000" />
<rect x="200" y="94.64" width="3.05" height="6.8" fill="#008000" />
<rect x="200" y="101.44" width="3.05" height="0.62" fill="#FFA500" />
<rect x="200" y="102.06" width="3.05" height="0.52" fill="#FF0000" />
<rect x="203" y="94.64" width="8.05" height="7.73" fill="#008000" />
<rect x="203" y="102.36" width="8.05" height="0.52" fill="#FFA500" />
<rect x="203" y="102.88" width="8.05" height="0.52" fill="#FF0000" />
<rect x="211" y="94.64" width="3.05" height="8.24" fill="#008000" />
<rect x="211" y="102.88" width="3.05" height="0.52" fill="#FF0000" />
<rect x="211" y="103.39" width="3.05" height="0.41" fill="#FFA500" />
<rect x="214" y="94.64" width="2.05" height="7.21" fill="#008000" />
<rect x="214" y="101.85" width="2.05" height="0.62" fill="#FFA500" />
<rect x="216" y="94.64" width="3.05" height="6.18" fill="#008000" />
<rect x="216" y="100.82" width="3.05" height="2.06" fill="#FFA500" />
<rect x="219" y="94.64" width="3.05" height="4.64" fill="#008000" />
<rect x="219" y="99.28" width="3.05" height="3.09" fill="#FF0000" />
<rect x="219" y="102.37" width="3.05" height="1.03" fill="#FFA500" />
<rect x="222" y="94.64" width="3.05" height="1.24" fill="#FFA500" />
<rect x="222" y="95.88" width="3.05" height="9.06" fill="#FF0000" />
<rect x="225" y="94.64" width="3.05" height="0.82" fill="#008000" />
<rect x="225" y="95.46" width="3.05" height="2.06" fill="#FFA500" />
<rect x="225" y="97.52" width="3.05" height="7.42" fill="#FF0000" />
<rect x="228" y="94.64" width="3.05" height="1.24" fill="#FFA500" />
<rect x="228" y="95.88" width="3.05" height="8.24" fill="#FF0000" />
<rect x="231" y="94.64" width="2.05" height="2.58" fill="#FFA500" />
<rect x="231" y="97.22" width="2.05" height="4.64" fill="#FF0000" />
<rect x="233" y="94.64" width="4.05" height="2.06" fill="#FFA500" />
<rect x="233" y="96.7" width="4.05" height="4.12" fill="#FF0000" />
<rect x="237" y="94.64" width="6.05" height="0.62" fill="#008000" />
<rect x="237" y="95.26" width="6.05" height="0.82" fill="#FF0000" />
<rect x="237" y="96.08" width="6.05" height="0.62" fill="#FFA500" />
<rect x="243" y="94.64" width="3.05" height="2.06" fill="#FFA500" />
<rect x="246" y="94.64" width="3.05" height="3.6" fill="#008000" />
<rect x="246" y="99.48" width="3.05" height="0.82" fill="#FFA500" />
<rect x="246" y="100.31" width="3.05" height="1.24" fill="#FF00FF" />
<rect x="249" y="94.64" width="5.05" height="0.52" fill="#FF00FF" />
<rect x="254" y="94.64" width="4.05" height="0.82" fill="#008000" />
<rect x="254" y="97.52" width="4.05" height="1.44" fill="#7A12E6" />
<rect x="258" y="94.64" width="3.05" height="0.62" fill="#FFA500" />
<rect x="258" y="95.26" width="3.05" height="0.62" fill="#FF00FF" />
<rect x="261" y="94.64" width="3.05" height="2.06" fill="#008000" />
<rect x="261" y="97.22" width="3.05" height="1.24" fill="#FF00FF" />
<rect x="264" y="94.64" width="3.65" height="0.62" fill="#FF0000" />
<rect x="264" y="95.26" width="3.65" height="0.82" fill="#FF00FF" />
<rect x="167.3" y="94.64" width="101.2" height="10.3" fill="none" stroke="#7a7a7a" stroke-width="0.6"/>
<text transform="translate(48.3,115.93) scale(0.93,1)" font-size="8.4" text-anchor="end" font-weight="normal" fill="#000"  stroke="#000" stroke-width="0.12">HOR_14347</text>
<rect x="54.9" y="108.03" width="98.5" height="10.3" fill="#9B30FF" />
<path d="M54.9,118.33 L54.9,109.46 L58,109.46 L58,110.73 L61,110.73 L61,112.37 L64,112.37 L64,110.65 L67,110.65 L67,109.68 L70,109.68 L70,115.45 L72,115.45 L72,111.64 L75,111.64 L75,110.57 L78,110.57 L78,112.66 L81,112.66 L81,116.81 L84,116.81 L84,112.55 L87,112.55 L87,116.43 L90,116.43 L90,117.3 L94,117.3 L94,116.93 L97,116.93 L97,116.41 L100,116.41 L100,117.43 L103,117.43 L103,116.7 L108,116.7 L108,117.26 L117,117.26 L117,115.89 L119,115.89 L119,115.44 L123,115.44 L123,110.55 L129,110.55 L129,111.14 L132,111.14 L132,114.95 L134,114.95 L134,109.3 L141,109.3 L141,112.38 L144,112.38 L144,110.3 L148,110.3 L148,111.35 L152,111.35 L152,109.9 L153.4,109.9 L153.4,118.33 Z" fill="#FFFF00"/>
<rect x="53.5" y="108.03" width="100.8" height="10.3" fill="none" stroke="#7a7a7a" stroke-width="0.6"/>
<rect x="168.2" y="108.03" width="99.4" height="10.3" fill="#FFFF00" />
<rect x="168.2" y="108.03" width="99.4" height="0.72" fill="#008000" />
<rect x="168.2" y="108.03" width="2.35" height="0.82" fill="#008000" />
<rect x="168.2" y="108.85" width="2.35" height="0.62" fill="#FF00FF" />
<rect x="170.5" y="108.03" width="2.55" height="0.82" fill="#008000" />
<rect x="170.5" y="109.88" width="2.55" height="1.03" fill="#FF0000" />
<rect x="173" y="108.03" width="5.05" height="0.82" fill="#008000" />
<rect x="173" y="109.88" width="5.05" height="1.34" fill="#FFA500" />
<rect x="173" y="111.22" width="5.05" height="1.34" fill="#7A12E6" />
<rect x="178" y="108.03" width="4.05" height="0.52" fill="#008000" />
<rect x="178" y="109.58" width="4.05" height="1.24" fill="#FF0000" />
<rect x="182" y="108.03" width="1.55" height="0.52" fill="#008000" />
<rect x="182" y="108.55" width="1.55" height="1.03" fill="#FFA500" />
<rect x="183.5" y="108.03" width="3.55" height="0.82" fill="#008000" />
<rect x="183.5" y="108.85" width="3.55" height="2.58" fill="#FFA500" />
<rect x="183.5" y="111.94" width="3.55" height="2.06" fill="#FF0000" />
<rect x="183.5" y="114" width="3.55" height="1.03" fill="#7A12E6" />
<rect x="187" y="108.03" width="3.05" height="0.52" fill="#008000" />
<rect x="187" y="110.61" width="3.05" height="1.03" fill="#FFA500" />
<rect x="190" y="108.03" width="2.05" height="1.55" fill="#FF00FF" />
<rect x="192" y="108.03" width="3.05" height="5.67" fill="#FF0000" />
<rect x="195" y="108.03" width="3.05" height="9.27" fill="#FF0000" />
<rect x="198" y="108.03" width="2.05" height="4.12" fill="#008000" />
<rect x="200" y="108.03" width="3.05" height="6.8" fill="#008000" />
<rect x="200" y="114.83" width="3.05" height="0.62" fill="#FFA500" />
<rect x="200" y="115.45" width="3.05" height="0.52" fill="#FF0000" />
<rect x="203" y="108.03" width="8.05" height="7.73" fill="#008000" />
<rect x="203" y="115.75" width="8.05" height="0.52" fill="#FFA500" />
<rect x="203" y="116.27" width="8.05" height="0.52" fill="#FF0000" />
<rect x="211" y="108.03" width="3.05" height="8.24" fill="#008000" />
<rect x="211" y="116.27" width="3.05" height="0.52" fill="#FF0000" />
<rect x="211" y="116.78" width="3.05" height="0.41" fill="#FFA500" />
<rect x="214" y="108.03" width="2.05" height="7.21" fill="#008000" />
<rect x="214" y="115.24" width="2.05" height="0.62" fill="#FFA500" />
<rect x="216" y="108.03" width="3.05" height="6.18" fill="#008000" />
<rect x="216" y="114.21" width="3.05" height="2.06" fill="#FFA500" />
<rect x="219" y="108.03" width="3.05" height="4.64" fill="#008000" />
<rect x="219" y="112.67" width="3.05" height="3.09" fill="#FF0000" />
<rect x="219" y="115.76" width="3.05" height="1.03" fill="#FFA500" />
<rect x="222" y="108.03" width="3.05" height="1.24" fill="#FFA500" />
<rect x="222" y="109.27" width="3.05" height="9.06" fill="#FF0000" />
<rect x="225" y="108.03" width="3.05" height="0.82" fill="#008000" />
<rect x="225" y="108.85" width="3.05" height="2.06" fill="#FFA500" />
<rect x="225" y="110.91" width="3.05" height="7.42" fill="#FF0000" />
<rect x="228" y="108.03" width="3.05" height="1.24" fill="#FFA500" />
<rect x="228" y="109.27" width="3.05" height="8.24" fill="#FF0000" />
<rect x="231" y="108.03" width="2.05" height="2.58" fill="#FFA500" />
<rect x="231" y="110.61" width="2.05" height="4.64" fill="#FF0000" />
<rect x="233" y="108.03" width="4.05" height="2.06" fill="#FFA500" />
<rect x="233" y="110.09" width="4.05" height="4.12" fill="#FF0000" />
<rect x="237" y="108.03" width="6.05" height="0.62" fill="#008000" />
<rect x="237" y="108.65" width="6.05" height="0.82" fill="#FF0000" />
<rect x="237" y="109.47" width="6.05" height="0.62" fill="#FFA500" />
<rect x="243" y="108.03" width="3.05" height="2.06" fill="#FFA500" />
<rect x="246" y="108.03" width="3.05" height="3.6" fill="#008000" />
<rect x="246" y="112.87" width="3.05" height="0.82" fill="#FFA500" />
<rect x="246" y="113.7" width="3.05" height="1.24" fill="#FF00FF" />
<rect x="249" y="108.03" width="5.05" height="0.52" fill="#FF00FF" />
<rect x="254" y="108.03" width="4.05" height="0.82" fill="#008000" />
<rect x="254" y="110.91" width="4.05" height="1.44" fill="#7A12E6" />
<rect x="258" y="108.03" width="3.05" height="0.62" fill="#FFA500" />
<rect x="258" y="108.65" width="3.05" height="0.62" fill="#FF00FF" />
<rect x="261" y="108.03" width="3.05" height="2.06" fill="#008000" />
<rect x="261" y="110.61" width="3.05" height="1.24" fill="#FF00FF" />
<rect x="264" y="108.03" width="3.65" height="0.62" fill="#FF0000" />
<rect x="264" y="108.65" width="3.65" height="0.82" fill="#FF00FF" />
<rect x="167.3" y="108.03" width="101.2" height="10.3" fill="none" stroke="#7a7a7a" stroke-width="0.6"/>
<text transform="translate(48.3,129.32) scale(0.93,1)" font-size="8.4" text-anchor="end" font-weight="normal" fill="#000"  stroke="#000" stroke-width="0.12">HOR_17549</text>
<rect x="54.9" y="121.42" width="98.5" height="10.3" fill="#9B30FF" />
<path d="M54.9,131.72 L54.9,123.46 L58,123.46 L58,124.04 L61,124.04 L61,126.41 L64,126.41 L64,125.01 L67,125.01 L67,121.97 L70,121.97 L70,128.86 L72,128.86 L72,125.51 L75,125.51 L75,123.77 L78,123.77 L78,126.45 L81,126.45 L81,129.72 L84,129.72 L84,125.14 L87,125.14 L87,130.53 L90,130.53 L90,130.79 L94,130.79 L94,130.95 L97,130.95 L97,130.7 L100,130.7 L100,130.58 L103,130.58 L103,130.27 L108,130.27 L108,131.31 L117,131.31 L117,130.01 L119,130.01 L119,127.92 L123,127.92 L123,123.66 L129,123.66 L129,124.15 L132,124.15 L132,128.73 L134,128.73 L134,122.57 L141,122.57 L141,125.43 L144,125.43 L144,123.58 L148,123.58 L148,125.33 L152,125.33 L152,123.44 L153.4,123.44 L153.4,131.72 Z" fill="#FFFF00"/>
<rect x="53.5" y="121.42" width="100.8" height="10.3" fill="none" stroke="#7a7a7a" stroke-width="0.6"/>
<rect x="168.2" y="121.42" width="99.4" height="10.3" fill="#FFFF00" />
<rect x="168.2" y="121.42" width="99.4" height="0.72" fill="#008000" />
<rect x="168.2" y="121.42" width="2.35" height="0.82" fill="#008000" />
<rect x="168.2" y="122.24" width="2.35" height="0.62" fill="#FF00FF" />
<rect x="170.5" y="121.42" width="2.55" height="0.82" fill="#008000" />
<rect x="170.5" y="123.27" width="2.55" height="1.03" fill="#FF0000" />
<rect x="173" y="121.42" width="5.05" height="0.82" fill="#008000" />
<rect x="173" y="123.27" width="5.05" height="1.34" fill="#FFA500" />
<rect x="173" y="124.61" width="5.05" height="1.34" fill="#7A12E6" />
<rect x="178" y="121.42" width="4.05" height="0.52" fill="#008000" />
<rect x="178" y="122.97" width="4.05" height="1.24" fill="#FF0000" />
<rect x="182" y="121.42" width="1.55" height="0.52" fill="#008000" />
<rect x="182" y="121.94" width="1.55" height="1.03" fill="#FFA500" />
<rect x="183.5" y="121.42" width="3.55" height="0.82" fill="#008000" />
<rect x="183.5" y="122.24" width="3.55" height="2.58" fill="#FFA500" />
<rect x="183.5" y="125.33" width="3.55" height="2.06" fill="#FF0000" />
<rect x="183.5" y="127.39" width="3.55" height="1.03" fill="#7A12E6" />
<rect x="187" y="121.42" width="3.05" height="0.52" fill="#008000" />
<rect x="187" y="124" width="3.05" height="1.03" fill="#FFA500" />
<rect x="190" y="121.42" width="2.05" height="1.55" fill="#FF00FF" />
<rect x="192" y="121.42" width="3.05" height="5.67" fill="#FF0000" />
<rect x="195" y="121.42" width="3.05" height="9.27" fill="#FF0000" />
<rect x="198" y="121.42" width="2.05" height="4.12" fill="#008000" />
<rect x="200" y="121.42" width="3.05" height="6.8" fill="#008000" />
<rect x="200" y="128.22" width="3.05" height="0.62" fill="#FFA500" />
<rect x="200" y="128.84" width="3.05" height="0.52" fill="#FF0000" />
<rect x="203" y="121.42" width="8.05" height="7.73" fill="#008000" />
<rect x="203" y="129.15" width="8.05" height="0.52" fill="#FFA500" />
<rect x="203" y="129.66" width="8.05" height="0.52" fill="#FF0000" />
<rect x="211" y="121.42" width="3.05" height="8.24" fill="#008000" />
<rect x="211" y="129.66" width="3.05" height="0.52" fill="#FF0000" />
<rect x="211" y="130.17" width="3.05" height="0.41" fill="#FFA500" />
<rect x="214" y="121.42" width="2.05" height="7.21" fill="#008000" />
<rect x="214" y="128.63" width="2.05" height="0.62" fill="#FFA500" />
<rect x="216" y="121.42" width="3.05" height="6.18" fill="#008000" />
<rect x="216" y="127.6" width="3.05" height="2.06" fill="#FFA500" />
<rect x="219" y="121.42" width="3.05" height="4.64" fill="#008000" />
<rect x="219" y="126.06" width="3.05" height="3.09" fill="#FF0000" />
<rect x="219" y="129.15" width="3.05" height="1.03" fill="#FFA500" />
<rect x="222" y="121.42" width="3.05" height="1.24" fill="#FFA500" />
<rect x="222" y="122.66" width="3.05" height="9.06" fill="#FF0000" />
<rect x="225" y="121.42" width="3.05" height="0.82" fill="#008000" />
<rect x="225" y="122.24" width="3.05" height="2.06" fill="#FFA500" />
<rect x="225" y="124.3" width="3.05" height="7.42" fill="#FF0000" />
<rect x="228" y="121.42" width="3.05" height="1.24" fill="#FFA500" />
<rect x="228" y="122.66" width="3.05" height="8.24" fill="#FF0000" />
<rect x="231" y="121.42" width="2.05" height="2.58" fill="#FFA500" />
<rect x="231" y="124" width="2.05" height="4.64" fill="#FF0000" />
<rect x="233" y="121.42" width="4.05" height="2.06" fill="#FFA500" />
<rect x="233" y="123.48" width="4.05" height="4.12" fill="#FF0000" />
<rect x="237" y="121.42" width="6.05" height="0.62" fill="#008000" />
<rect x="237" y="122.04" width="6.05" height="0.82" fill="#FF0000" />
<rect x="237" y="122.86" width="6.05" height="0.62" fill="#FFA500" />
<rect x="243" y="121.42" width="3.05" height="2.06" fill="#FFA500" />
<rect x="246" y="121.42" width="3.05" height="3.6" fill="#008000" />
<rect x="246" y="126.26" width="3.05" height="0.82" fill="#FFA500" />
<rect x="246" y="127.09" width="3.05" height="1.24" fill="#FF00FF" />
<rect x="249" y="121.42" width="5.05" height="0.52" fill="#FF00FF" />
<rect x="254" y="121.42" width="4.05" height="0.82" fill="#008000" />
<rect x="254" y="124.3" width="4.05" height="1.44" fill="#7A12E6" />
<rect x="258" y="121.42" width="3.05" height="0.62" fill="#FFA500" />
<rect x="258" y="122.04" width="3.05" height="0.62" fill="#FF00FF" />
<rect x="261" y="121.42" width="3.05" height="2.06" fill="#008000" />
<rect x="261" y="124" width="3.05" height="1.24" fill="#FF00FF" />
<rect x="264" y="121.42" width="3.65" height="0.62" fill="#FF0000" />
<rect x="264" y="122.04" width="3.65" height="0.82" fill="#FF00FF" />
<rect x="167.3" y="121.42" width="101.2" height="10.3" fill="none" stroke="#7a7a7a" stroke-width="0.6"/>
<text transform="translate(48.3,142.71) scale(0.93,1)" font-size="8.4" text-anchor="end" font-weight="normal" fill="#000"  stroke="#000" stroke-width="0.12">HOR_14439</text>
<rect x="54.9" y="134.81" width="98.5" height="10.3" fill="#9B30FF" />
<path d="M54.9,145.11 L54.9,136.63 L58,136.63 L58,138.08 L61,138.08 L61,139.42 L64,139.42 L64,138.19 L67,138.19 L67,136.56 L70,136.56 L70,142.06 L72,142.06 L72,139.33 L75,139.33 L75,137.73 L78,137.73 L78,139.48 L81,139.48 L81,143.5 L84,143.5 L84,139.15 L87,139.15 L87,143.54 L90,143.54 L90,143.81 L94,143.81 L94,143.73 L97,143.73 L97,144.26 L100,144.26 L100,144.01 L103,144.01 L103,143.67 L108,143.67 L108,144.87 L117,144.87 L117,142.61 L119,142.61 L119,141.8 L123,141.8 L123,136.79 L129,136.79 L129,137.17 L132,137.17 L132,141.72 L134,141.72 L134,136.53 L141,136.53 L141,138.58 L144,138.58 L144,137.48 L148,137.48 L148,138.71 L152,138.71 L152,136.63 L153.4,136.63 L153.4,145.11 Z" fill="#FFFF00"/>
<rect x="53.5" y="134.81" width="100.8" height="10.3" fill="none" stroke="#7a7a7a" stroke-width="0.6"/>
<rect x="168.2" y="134.81" width="99.4" height="10.3" fill="#FFFF00" />
<rect x="168.2" y="134.81" width="99.4" height="0.72" fill="#008000" />
<rect x="168.2" y="134.81" width="2.35" height="0.82" fill="#008000" />
<rect x="168.2" y="135.63" width="2.35" height="0.62" fill="#FF00FF" />
<rect x="170.5" y="134.81" width="2.55" height="0.82" fill="#008000" />
<rect x="170.5" y="136.66" width="2.55" height="1.03" fill="#FF0000" />
<rect x="173" y="134.81" width="5.05" height="0.82" fill="#008000" />
<rect x="173" y="136.66" width="5.05" height="1.34" fill="#FFA500" />
<rect x="173" y="138" width="5.05" height="1.34" fill="#7A12E6" />
<rect x="178" y="134.81" width="4.05" height="0.52" fill="#008000" />
<rect x="178" y="136.35" width="4.05" height="1.24" fill="#FF0000" />
<rect x="182" y="134.81" width="1.55" height="0.52" fill="#008000" />
<rect x="182" y="135.32" width="1.55" height="1.03" fill="#FFA500" />
<rect x="183.5" y="134.81" width="3.55" height="0.82" fill="#008000" />
<rect x="183.5" y="135.63" width="3.55" height="2.58" fill="#FFA500" />
<rect x="183.5" y="138.72" width="3.55" height="2.06" fill="#FF0000" />
<rect x="183.5" y="140.78" width="3.55" height="1.03" fill="#7A12E6" />
<rect x="187" y="134.81" width="3.05" height="0.52" fill="#008000" />
<rect x="187" y="137.38" width="3.05" height="1.03" fill="#FFA500" />
<rect x="190" y="134.81" width="2.05" height="1.55" fill="#FF00FF" />
<rect x="192" y="134.81" width="3.05" height="5.67" fill="#FF0000" />
<rect x="195" y="134.81" width="3.05" height="9.27" fill="#FF0000" />
<rect x="198" y="134.81" width="2.05" height="4.12" fill="#008000" />
<rect x="200" y="134.81" width="3.05" height="6.8" fill="#008000" />
<rect x="200" y="141.61" width="3.05" height="0.62" fill="#FFA500" />
<rect x="200" y="142.23" width="3.05" height="0.52" fill="#FF0000" />
<rect x="203" y="134.81" width="8.05" height="7.73" fill="#008000" />
<rect x="203" y="142.53" width="8.05" height="0.52" fill="#FFA500" />
<rect x="203" y="143.05" width="8.05" height="0.52" fill="#FF0000" />
<rect x="211" y="134.81" width="3.05" height="8.24" fill="#008000" />
<rect x="211" y="143.05" width="3.05" height="0.52" fill="#FF0000" />
<rect x="211" y="143.56" width="3.05" height="0.41" fill="#FFA500" />
<rect x="214" y="134.81" width="2.05" height="7.21" fill="#008000" />
<rect x="214" y="142.02" width="2.05" height="0.62" fill="#FFA500" />
<rect x="216" y="134.81" width="3.05" height="6.18" fill="#008000" />
<rect x="216" y="140.99" width="3.05" height="2.06" fill="#FFA500" />
<rect x="219" y="134.81" width="3.05" height="4.64" fill="#008000" />
<rect x="219" y="139.44" width="3.05" height="3.09" fill="#FF0000" />
<rect x="219" y="142.53" width="3.05" height="1.03" fill="#FFA500" />
<rect x="222" y="134.81" width="3.05" height="1.24" fill="#FFA500" />
<rect x="222" y="136.05" width="3.05" height="9.06" fill="#FF0000" />
<rect x="225" y="134.81" width="3.05" height="0.82" fill="#008000" />
<rect x="225" y="135.63" width="3.05" height="2.06" fill="#FFA500" />
<rect x="225" y="137.69" width="3.05" height="7.42" fill="#FF0000" />
<rect x="228" y="134.81" width="3.05" height="1.24" fill="#FFA500" />
<rect x="228" y="136.05" width="3.05" height="8.24" fill="#FF0000" />
<rect x="231" y="134.81" width="2.05" height="2.58" fill="#FFA500" />
<rect x="231" y="137.38" width="2.05" height="4.64" fill="#FF0000" />
<rect x="233" y="134.81" width="4.05" height="2.06" fill="#FFA500" />
<rect x="233" y="136.87" width="4.05" height="4.12" fill="#FF0000" />
<rect x="237" y="134.81" width="6.05" height="0.62" fill="#008000" />
<rect x="237" y="135.43" width="6.05" height="0.82" fill="#FF0000" />
<rect x="237" y="136.25" width="6.05" height="0.62" fill="#FFA500" />
<rect x="243" y="134.81" width="3.05" height="2.06" fill="#FFA500" />
<rect x="246" y="134.81" width="3.05" height="3.6" fill="#008000" />
<rect x="246" y="139.65" width="3.05" height="0.82" fill="#FFA500" />
<rect x="246" y="140.47" width="3.05" height="1.24" fill="#FF00FF" />
<rect x="249" y="134.81" width="5.05" height="0.52" fill="#FF00FF" />
<rect x="254" y="134.81" width="4.05" height="0.82" fill="#008000" />
<rect x="254" y="137.69" width="4.05" height="1.44" fill="#7A12E6" />
<rect x="258" y="134.81" width="3.05" height="0.62" fill="#FFA500" />
<rect x="258" y="135.43" width="3.05" height="0.62" fill="#FF00FF" />
<rect x="261" y="134.81" width="3.05" height="2.06" fill="#008000" />
<rect x="261" y="137.38" width="3.05" height="1.24" fill="#FF00FF" />
<rect x="264" y="134.81" width="3.65" height="0.62" fill="#FF0000" />
<rect x="264" y="135.43" width="3.65" height="0.82" fill="#FF00FF" />
<rect x="167.3" y="134.81" width="101.2" height="10.3" fill="none" stroke="#7a7a7a" stroke-width="0.6"/>
<line x1="53.5" y1="149.4" x2="154.3" y2="149.4" stroke="#555" stroke-width="0.8" />
<line x1="53.5" y1="149.4" x2="53.5" y2="153.4" stroke="#555" stroke-width="0.8" />
<line x1="61.08" y1="149.4" x2="61.08" y2="151.4" stroke="#555" stroke-width="0.8" />
<line x1="68.65" y1="149.4" x2="68.65" y2="151.4" stroke="#555" stroke-width="0.8" />
<line x1="76.22" y1="149.4" x2="76.22" y2="151.4" stroke="#555" stroke-width="0.8" />
<line x1="83.8" y1="149.4" x2="83.8" y2="153.4" stroke="#555" stroke-width="0.8" />
<line x1="91.38" y1="149.4" x2="91.38" y2="151.4" stroke="#555" stroke-width="0.8" />
<line x1="98.95" y1="149.4" x2="98.95" y2="151.4" stroke="#555" stroke-width="0.8" />
<line x1="106.53" y1="149.4" x2="106.53" y2="151.4" stroke="#555" stroke-width="0.8" />
<line x1="114.1" y1="149.4" x2="114.1" y2="153.4" stroke="#555" stroke-width="0.8" />
<line x1="121.67" y1="149.4" x2="121.67" y2="151.4" stroke="#555" stroke-width="0.8" />
<line x1="129.25" y1="149.4" x2="129.25" y2="151.4" stroke="#555" stroke-width="0.8" />
<line x1="136.82" y1="149.4" x2="136.82" y2="151.4" stroke="#555" stroke-width="0.8" />
<line x1="144.4" y1="149.4" x2="144.4" y2="153.4" stroke="#555" stroke-width="0.8" />
<line x1="151.97" y1="149.4" x2="151.97" y2="151.4" stroke="#555" stroke-width="0.8" />
<text transform="translate(53.5,163.6) scale(0.93,1)" font-size="8.4" text-anchor="middle" font-weight="normal" fill="#000"  stroke="#000" stroke-width="0.12">0</text>
<text transform="translate(83.8,163.6) scale(0.93,1)" font-size="8.4" text-anchor="middle" font-weight="normal" fill="#000"  stroke="#000" stroke-width="0.12">200</text>
<text transform="translate(114.1,163.6) scale(0.93,1)" font-size="8.4" text-anchor="middle" font-weight="normal" fill="#000"  stroke="#000" stroke-width="0.12">400</text>
<text transform="translate(144.4,163.6) scale(0.93,1)" font-size="8.4" text-anchor="middle" font-weight="normal" fill="#000"  stroke="#000" stroke-width="0.12">600</text>
<text transform="translate(104,177.3) scale(0.93,1)" font-size="8.6" text-anchor="middle" font-weight="normal" fill="#000"  stroke="#000" stroke-width="0.12">Position (Mb)</text>
<line x1="167.3" y1="149.4" x2="268.5" y2="149.4" stroke="#555" stroke-width="0.8" />
<line x1="167.3" y1="149.4" x2="167.3" y2="153.4" stroke="#555" stroke-width="0.8" />
<line x1="174.88" y1="149.4" x2="174.88" y2="151.4" stroke="#555" stroke-width="0.8" />
<line x1="182.45" y1="149.4" x2="182.45" y2="151.4" stroke="#555" stroke-width="0.8" />
<line x1="190.03" y1="149.4" x2="190.03" y2="151.4" stroke="#555" stroke-width="0.8" />
<line x1="197.6" y1="149.4" x2="197.6" y2="153.4" stroke="#555" stroke-width="0.8" />
<line x1="205.18" y1="149.4" x2="205.18" y2="151.4" stroke="#555" stroke-width="0.8" />
<line x1="212.75" y1="149.4" x2="212.75" y2="151.4" stroke="#555" stroke-width="0.8" />
<line x1="220.33" y1="149.4" x2="220.33" y2="151.4" stroke="#555" stroke-width="0.8" />
<line x1="227.9" y1="149.4" x2="227.9" y2="153.4" stroke="#555" stroke-width="0.8" />
<line x1="235.48" y1="149.4" x2="235.48" y2="151.4" stroke="#555" stroke-width="0.8" />
<line x1="243.05" y1="149.4" x2="243.05" y2="151.4" stroke="#555" stroke-width="0.8" />
<line x1="250.62" y1="149.4" x2="250.62" y2="151.4" stroke="#555" stroke-width="0.8" />
<line x1="258.2" y1="149.4" x2="258.2" y2="153.4" stroke="#555" stroke-width="0.8" />
<line x1="265.77" y1="149.4" x2="265.77" y2="151.4" stroke="#555" stroke-width="0.8" />
<text transform="translate(167.3,163.6) scale(0.93,1)" font-size="8.4" text-anchor="middle" font-weight="normal" fill="#000"  stroke="#000" stroke-width="0.12">0</text>
<text transform="translate(197.6,163.6) scale(0.93,1)" font-size="8.4" text-anchor="middle" font-weight="normal" fill="#000"  stroke="#000" stroke-width="0.12">200</text>
<text transform="translate(227.9,163.6) scale(0.93,1)" font-size="8.4" text-anchor="middle" font-weight="normal" fill="#000"  stroke="#000" stroke-width="0.12">400</text>
<text transform="translate(258.2,163.6) scale(0.93,1)" font-size="8.4" text-anchor="middle" font-weight="normal" fill="#000"  stroke="#000" stroke-width="0.12">600</text>
<text transform="translate(218,177.3) scale(0.93,1)" font-size="8.6" text-anchor="middle" font-weight="normal" fill="#000"  stroke="#000" stroke-width="0.12">Position (Mb)</text>
<text transform="translate(287.5,12.8) scale(0.93,1)" font-size="8.4" text-anchor="start" font-weight="normal" fill="#000"  stroke="#000" stroke-width="0.12">Common legend:</text>
<rect x="287" y="18.3" width="10" height="10" fill="#FFFF00" stroke="#999" stroke-width="0.5"/>
<text transform="translate(302,26.2) scale(0.93,1)" font-size="8.4" text-anchor="start" font-weight="normal" fill="#000"  stroke="#000" stroke-width="0.12">Unknown</text>
<text transform="translate(287.5,46.2) scale(0.93,1)" font-size="8.4" text-anchor="start" font-weight="normal" fill="#000"  stroke="#000" stroke-width="0.12">Time legend:</text>
<rect x="287" y="51.9" width="10" height="9.56" fill="#9B30FF" stroke="#999" stroke-width="0.4"/>
<text transform="translate(303.7,59.1) scale(0.93,1)" font-size="8.4" text-anchor="start" font-weight="normal" fill="#000"  stroke="#000" stroke-width="0.12">From 32 ka <tspan font-size="5.5">BP</tspan> to 8 ka <tspan font-size="5.5">BP</tspan></text>
<rect x="287" y="61.46" width="10" height="9.56" fill="#00BFFF" stroke="#999" stroke-width="0.4"/>
<text transform="translate(303.7,68.66) scale(0.93,1)" font-size="8.4" text-anchor="start" font-weight="normal" fill="#000"  stroke="#000" stroke-width="0.12">From 8 ka <tspan font-size="5.5">BP</tspan> to 6 ka <tspan font-size="5.5">BP</tspan></text>
<rect x="287" y="71.02" width="10" height="9.56" fill="#ADFF2F" stroke="#999" stroke-width="0.4"/>
<text transform="translate(303.7,78.22) scale(0.93,1)" font-size="8.4" text-anchor="start" font-weight="normal" fill="#000"  stroke="#000" stroke-width="0.12">From 6 ka <tspan font-size="5.5">BP</tspan> to 4 ka <tspan font-size="5.5">BP</tspan></text>
<rect x="287" y="80.58" width="10" height="9.56" fill="#7FFFD4" stroke="#999" stroke-width="0.4"/>
<text transform="translate(303.7,87.78) scale(0.93,1)" font-size="8.4" text-anchor="start" font-weight="normal" fill="#000"  stroke="#000" stroke-width="0.12">From 4 ka <tspan font-size="5.5">BP</tspan> to 2 ka <tspan font-size="5.5">BP</tspan></text>
<rect x="287" y="90.14" width="10" height="9.56" fill="#FFC0CB" stroke="#999" stroke-width="0.4"/>
<text transform="translate(303.7,97.34) scale(0.93,1)" font-size="8.4" text-anchor="start" font-weight="normal" fill="#000"  stroke="#000" stroke-width="0.12">From 2 ka <tspan font-size="5.5">BP</tspan> to present</text>
<text transform="translate(287.5,114.9) scale(0.93,1)" font-size="8.4" text-anchor="start" font-weight="normal" fill="#000"  stroke="#000" stroke-width="0.12">Ancestry legend:</text>
<rect x="287" y="119.6" width="10" height="9.48" fill="#008000" stroke="#999" stroke-width="0.4"/>
<text transform="translate(302,126.8) scale(0.93,1)" font-size="8.4" text-anchor="start" font-weight="normal" fill="#000"  stroke="#000" stroke-width="0.12">From SL</text>
<rect x="287" y="129.08" width="10" height="9.48" fill="#FFA500" stroke="#999" stroke-width="0.4"/>
<text transform="translate(302,136.28) scale(0.93,1)" font-size="8.4" text-anchor="start" font-weight="normal" fill="#000"  stroke="#000" stroke-width="0.12">From NL</text>
<rect x="287" y="138.56" width="10" height="9.48" fill="#FF0000" stroke="#999" stroke-width="0.4"/>
<text transform="translate(302,145.76) scale(0.93,1)" font-size="8.4" text-anchor="start" font-weight="normal" fill="#000"  stroke="#000" stroke-width="0.12">From SD</text>
<rect x="287" y="148.04" width="10" height="9.48" fill="#0000FF" stroke="#999" stroke-width="0.4"/>
<text transform="translate(302,155.24) scale(0.93,1)" font-size="8.4" text-anchor="start" font-weight="normal" fill="#000"  stroke="#000" stroke-width="0.12">From NM</text>
<rect x="287" y="157.52" width="10" height="9.48" fill="#FF00FF" stroke="#999" stroke-width="0.4"/>
<text transform="translate(302,164.72) scale(0.93,1)" font-size="8.4" text-anchor="start" font-weight="normal" fill="#000"  stroke="#000" stroke-width="0.12">From CA</text>
<text x="403.6" y="7.6" font-size="10.5" text-anchor="start" font-weight="bold" fill="#000" stroke="#000" stroke-width="0.35">b</text>
<line x1="442.4" y1="13" x2="442.4" y2="145.8" stroke="#555" stroke-width="0.8" />
<line x1="438.9" y1="145.8" x2="442.4" y2="145.8" stroke="#555" stroke-width="0.8" />
<text transform="translate(434.4,148.55) scale(0.93,1)" font-size="8.4" text-anchor="end" font-weight="normal" fill="#000"  stroke="#000" stroke-width="0.12">0</text>
<line x1="438.9" y1="112.6" x2="442.4" y2="112.6" stroke="#555" stroke-width="0.8" />
<text transform="translate(434.4,115.35) scale(0.93,1)" font-size="8.4" text-anchor="end" font-weight="normal" fill="#000"  stroke="#000" stroke-width="0.12">0.25</text>
<line x1="438.9" y1="79.4" x2="442.4" y2="79.4" stroke="#555" stroke-width="0.8" />
<text transform="translate(434.4,82.15) scale(0.93,1)" font-size="8.4" text-anchor="end" font-weight="normal" fill="#000"  stroke="#000" stroke-width="0.12">0.50</text>
<line x1="438.9" y1="46.2" x2="442.4" y2="46.2" stroke="#555" stroke-width="0.8" />
<text transform="translate(434.4,48.95) scale(0.93,1)" font-size="8.4" text-anchor="end" font-weight="normal" fill="#000"  stroke="#000" stroke-width="0.12">0.75</text>
<line x1="438.9" y1="13" x2="442.4" y2="13" stroke="#555" stroke-width="0.8" />
<text transform="translate(434.4,15.75) scale(0.93,1)" font-size="8.4" text-anchor="end" font-weight="normal" fill="#000"  stroke="#000" stroke-width="0.12">1.00</text>
<text fill="#000" stroke="#000" stroke-width="0.12" transform="translate(410.4,78.5) rotate(-90)" font-size="8.1" text-anchor="middle">Contribution (%)</text>
<line x1="439" y1="145.7" x2="514" y2="145.7" stroke="#555" stroke-width="0.8" />
<rect x="456.1" y="143.68" width="13.9" height="2.12" fill="#FFC0CB" stroke="#666" stroke-width="0.35"/>
<rect x="456.1" y="140.75" width="13.9" height="2.92" fill="#7FFFD4" stroke="#666" stroke-width="0.35"/>
<rect x="456.1" y="137.43" width="13.9" height="3.32" fill="#ADFF2F" stroke="#666" stroke-width="0.35"/>
<rect x="456.1" y="134.11" width="13.9" height="3.32" fill="#00BFFF" stroke="#666" stroke-width="0.35"/>
<rect x="456.1" y="13" width="13.9" height="121.11" fill="#9B30FF" stroke="#666" stroke-width="0.35"/>
<rect x="486" y="118.71" width="14" height="27.09" fill="#FF00FF" stroke="#666" stroke-width="0.35"/>
<rect x="486" y="101.58" width="14" height="17.13" fill="#0000FF" stroke="#666" stroke-width="0.35"/>
<rect x="486" y="79.8" width="14" height="21.78" fill="#FF0000" stroke="#666" stroke-width="0.35"/>
<rect x="486" y="44.21" width="14" height="35.59" fill="#FFA500" stroke="#666" stroke-width="0.35"/>
<rect x="486" y="13" width="14" height="31.21" fill="#008000" stroke="#666" stroke-width="0.35"/>
<text transform="translate(463,76.2) scale(0.93,1)" font-size="8.4" text-anchor="middle" font-weight="bold" fill="#000" >91.2</text>
<text transform="translate(493.1,30) scale(0.93,1)" font-size="8.4" text-anchor="middle" font-weight="bold" fill="#000" >23.4</text>
<text transform="translate(493.1,63.8) scale(0.93,1)" font-size="8.4" text-anchor="middle" font-weight="bold" fill="#000" >26.8</text>
<text transform="translate(493.1,93.2) scale(0.93,1)" font-size="8.4" text-anchor="middle" font-weight="bold" fill="#000" >16.4</text>
<text transform="translate(493.1,112.6) scale(0.93,1)" font-size="8.4" text-anchor="middle" font-weight="bold" fill="#fff" >12.9</text>
<text transform="translate(493.1,134.8) scale(0.93,1)" font-size="8.4" text-anchor="middle" font-weight="bold" fill="#000" >20.4</text>
<text fill="#000" stroke="#000" stroke-width="0.12" transform="translate(465.6,152.2) rotate(-45)" font-size="8.2" text-anchor="end">Time</text>
<text fill="#000" stroke="#000" stroke-width="0.12" transform="translate(496,153) rotate(-45)" font-size="8.2" text-anchor="end">Ancestry</text>
<text x="529.7" y="7.5" font-size="10.5" text-anchor="start" font-weight="bold" fill="#000" stroke="#000" stroke-width="0.35">c</text>
<line x1="567.6" y1="13" x2="567.6" y2="145.4" stroke="#555" stroke-width="0.8" />
<line x1="564.1" y1="145.4" x2="567.6" y2="145.4" stroke="#555" stroke-width="0.8" />
<text transform="translate(560.2,148.15) scale(0.93,1)" font-size="8.4" text-anchor="end" font-weight="normal" fill="#000"  stroke="#000" stroke-width="0.12">0</text>
<line x1="564.1" y1="112.3" x2="567.6" y2="112.3" stroke="#555" stroke-width="0.8" />
<text transform="translate(560.2,115.05) scale(0.93,1)" font-size="8.4" text-anchor="end" font-weight="normal" fill="#000"  stroke="#000" stroke-width="0.12">0.25</text>
<line x1="564.1" y1="79.2" x2="567.6" y2="79.2" stroke="#555" stroke-width="0.8" />
<text transform="translate(560.2,81.95) scale(0.93,1)" font-size="8.4" text-anchor="end" font-weight="normal" fill="#000"  stroke="#000" stroke-width="0.12">0.50</text>
<line x1="564.1" y1="46.1" x2="567.6" y2="46.1" stroke="#555" stroke-width="0.8" />
<text transform="translate(560.2,48.85) scale(0.93,1)" font-size="8.4" text-anchor="end" font-weight="normal" fill="#000"  stroke="#000" stroke-width="0.12">0.75</text>
<line x1="564.1" y1="13" x2="567.6" y2="13" stroke="#555" stroke-width="0.8" />
<text transform="translate(560.2,15.75) scale(0.93,1)" font-size="8.4" text-anchor="end" font-weight="normal" fill="#000"  stroke="#000" stroke-width="0.12">1.00</text>
<text fill="#000" stroke="#000" stroke-width="0.12" transform="translate(535,79.3) rotate(-90)" font-size="8.1" text-anchor="middle">Proportion</text>
<line x1="567.6" y1="145.4" x2="675" y2="145.4" stroke="#555" stroke-width="0.8" />
<rect x="577.3" y="144.74" width="9.8" height="0.66" fill="#FFC0CB" stroke="#666" stroke-width="0.35"/>
<rect x="577.3" y="143.15" width="9.8" height="1.59" fill="#7FFFD4" stroke="#666" stroke-width="0.35"/>
<rect x="577.3" y="141.43" width="9.8" height="1.72" fill="#ADFF2F" stroke="#666" stroke-width="0.35"/>
<rect x="577.3" y="139.44" width="9.8" height="1.99" fill="#00BFFF" stroke="#666" stroke-width="0.35"/>
<rect x="577.3" y="13" width="9.8" height="126.44" fill="#9B30FF" stroke="#666" stroke-width="0.35"/>
<text fill="#000" stroke="#000" stroke-width="0.12" transform="translate(585.1,153) rotate(-45)" font-size="7.55" text-anchor="end">SL</text>
<rect x="597.15" y="144.61" width="9.8" height="0.79" fill="#FFC0CB" stroke="#666" stroke-width="0.35"/>
<rect x="597.15" y="142.62" width="9.8" height="1.99" fill="#7FFFD4" stroke="#666" stroke-width="0.35"/>
<rect x="597.15" y="139.97" width="9.8" height="2.65" fill="#ADFF2F" stroke="#666" stroke-width="0.35"/>
<rect x="597.15" y="137.19" width="9.8" height="2.78" fill="#00BFFF" stroke="#666" stroke-width="0.35"/>
<rect x="597.15" y="13" width="9.8" height="124.19" fill="#9B30FF" stroke="#666" stroke-width="0.35"/>
<text fill="#000" stroke="#000" stroke-width="0.12" transform="translate(604.95,153) rotate(-45)" font-size="7.55" text-anchor="end">NL</text>
<rect x="617" y="144.74" width="9.8" height="0.66" fill="#FFC0CB" stroke="#666" stroke-width="0.35"/>
<rect x="617" y="142.88" width="9.8" height="1.85" fill="#7FFFD4" stroke="#666" stroke-width="0.35"/>
<rect x="617" y="140.77" width="9.8" height="2.12" fill="#ADFF2F" stroke="#666" stroke-width="0.35"/>
<rect x="617" y="138.52" width="9.8" height="2.25" fill="#00BFFF" stroke="#666" stroke-width="0.35"/>
<rect x="617" y="13" width="9.8" height="125.52" fill="#9B30FF" stroke="#666" stroke-width="0.35"/>
<text fill="#000" stroke="#000" stroke-width="0.12" transform="translate(624.8,153) rotate(-45)" font-size="7.55" text-anchor="end">SD</text>
<rect x="636.85" y="144.47" width="9.8" height="0.93" fill="#FFC0CB" stroke="#666" stroke-width="0.35"/>
<rect x="636.85" y="141.83" width="9.8" height="2.65" fill="#7FFFD4" stroke="#666" stroke-width="0.35"/>
<rect x="636.85" y="137.85" width="9.8" height="3.97" fill="#ADFF2F" stroke="#666" stroke-width="0.35"/>
<rect x="636.85" y="133.22" width="9.8" height="4.63" fill="#00BFFF" stroke="#666" stroke-width="0.35"/>
<rect x="636.85" y="13" width="9.8" height="120.22" fill="#9B30FF" stroke="#666" stroke-width="0.35"/>
<text fill="#000" stroke="#000" stroke-width="0.12" transform="translate(644.65,153) rotate(-45)" font-size="7.55" text-anchor="end">NM</text>
<rect x="656.7" y="143.15" width="9.8" height="2.25" fill="#FFC0CB" stroke="#666" stroke-width="0.35"/>
<rect x="656.7" y="140.5" width="9.8" height="2.65" fill="#7FFFD4" stroke="#666" stroke-width="0.35"/>
<rect x="656.7" y="137.19" width="9.8" height="3.31" fill="#ADFF2F" stroke="#666" stroke-width="0.35"/>
<rect x="656.7" y="132.42" width="9.8" height="4.77" fill="#00BFFF" stroke="#666" stroke-width="0.35"/>
<rect x="656.7" y="13" width="9.8" height="119.42" fill="#9B30FF" stroke="#666" stroke-width="0.35"/>
<text fill="#000" stroke="#000" stroke-width="0.12" transform="translate(664.5,153) rotate(-45)" font-size="7.55" text-anchor="end">CA</text>
<text x="-0.1" y="199.7" font-size="10.5" text-anchor="start" font-weight="bold" fill="#000" stroke="#000" stroke-width="0.35">d</text>
<line x1="37.4" y1="199.5" x2="37.4" y2="319.8" stroke="#555" stroke-width="0.8" />
<line x1="33.9" y1="319.8" x2="37.4" y2="319.8" stroke="#555" stroke-width="0.8" />
<text transform="translate(29.9,323.4) scale(0.93,1)" font-size="8.4" text-anchor="end" font-weight="normal" fill="#000"  stroke="#000" stroke-width="0.12">0</text>
<line x1="33.9" y1="289.73" x2="37.4" y2="289.73" stroke="#555" stroke-width="0.8" />
<text transform="translate(29.9,293.33) scale(0.93,1)" font-size="8.4" text-anchor="end" font-weight="normal" fill="#000"  stroke="#000" stroke-width="0.12">0.25</text>
<line x1="33.9" y1="259.65" x2="37.4" y2="259.65" stroke="#555" stroke-width="0.8" />
<text transform="translate(29.9,263.25) scale(0.93,1)" font-size="8.4" text-anchor="end" font-weight="normal" fill="#000"  stroke="#000" stroke-width="0.12">0.50</text>
<line x1="33.9" y1="229.57" x2="37.4" y2="229.57" stroke="#555" stroke-width="0.8" />
<text transform="translate(29.9,233.17) scale(0.93,1)" font-size="8.4" text-anchor="end" font-weight="normal" fill="#000"  stroke="#000" stroke-width="0.12">0.75</text>
<line x1="33.9" y1="199.5" x2="37.4" y2="199.5" stroke="#555" stroke-width="0.8" />
<text transform="translate(29.9,203.1) scale(0.93,1)" font-size="8.4" text-anchor="end" font-weight="normal" fill="#000"  stroke="#000" stroke-width="0.12">1.00</text>
<text fill="#000" stroke="#000" stroke-width="0.12" transform="translate(6.2,259.5) rotate(-90)" font-size="8.1" text-anchor="middle">Time contribution</text>
<line x1="37.4" y1="320.2" x2="175.9" y2="320.2" stroke="#555" stroke-width="0.8" />
<rect x="41.05" y="318.6" width="6.95" height="1.2" fill="#FFC0CB" stroke="#999" stroke-width="0.6"/>
<rect x="41.05" y="316.9" width="6.95" height="1.7" fill="#7FFFD4" stroke="#999" stroke-width="0.6"/>
<rect x="41.05" y="315.2" width="6.95" height="1.7" fill="#ADFF2F" stroke="#999" stroke-width="0.6"/>
<rect x="41.05" y="313.7" width="6.95" height="1.5" fill="#00BFFF" stroke="#999" stroke-width="0.6"/>
<rect x="41.05" y="199.5" width="6.95" height="114.2" fill="#9B30FF" stroke="#999" stroke-width="0.6"/>
<rect x="50" y="316.5" width="6.95" height="3.3" fill="#FFC0CB" stroke="#999" stroke-width="0.6"/>
<rect x="50" y="312.6" width="6.95" height="3.9" fill="#7FFFD4" stroke="#999" stroke-width="0.6"/>
<rect x="50" y="308.7" width="6.95" height="3.9" fill="#ADFF2F" stroke="#999" stroke-width="0.6"/>
<rect x="50" y="304.7" width="6.95" height="4" fill="#00BFFF" stroke="#999" stroke-width="0.6"/>
<rect x="50" y="199.5" width="6.95" height="105.2" fill="#9B30FF" stroke="#999" stroke-width="0.6"/>
<rect x="58.95" y="318" width="6.95" height="1.8" fill="#FFC0CB" stroke="#999" stroke-width="0.6"/>
<rect x="58.95" y="315.2" width="6.95" height="2.8" fill="#7FFFD4" stroke="#999" stroke-width="0.6"/>
<rect x="58.95" y="312" width="6.95" height="3.2" fill="#ADFF2F" stroke="#999" stroke-width="0.6"/>
<rect x="58.95" y="310.4" width="6.95" height="1.6" fill="#00BFFF" stroke="#999" stroke-width="0.6"/>
<rect x="58.95" y="199.5" width="6.95" height="110.9" fill="#9B30FF" stroke="#999" stroke-width="0.6"/>
<rect x="67.9" y="319.3" width="6.95" height="0.5" fill="#FFC0CB" stroke="#999" stroke-width="0.6"/>
<rect x="67.9" y="318" width="6.95" height="1.3" fill="#7FFFD4" stroke="#999" stroke-width="0.6"/>
<rect x="67.9" y="316.3" width="6.95" height="1.7" fill="#ADFF2F" stroke="#999" stroke-width="0.6"/>
<rect x="67.9" y="314.3" width="6.95" height="2" fill="#00BFFF" stroke="#999" stroke-width="0.6"/>
<rect x="67.9" y="199.5" width="6.95" height="114.8" fill="#9B30FF" stroke="#999" stroke-width="0.6"/>
<rect x="76.85" y="318.5" width="6.95" height="1.3" fill="#FFC0CB" stroke="#999" stroke-width="0.6"/>
<rect x="76.85" y="316.3" width="6.95" height="2.2" fill="#7FFFD4" stroke="#999" stroke-width="0.6"/>
<rect x="76.85" y="313.7" width="6.95" height="2.6" fill="#ADFF2F" stroke="#999" stroke-width="0.6"/>
<rect x="76.85" y="311" width="6.95" height="2.7" fill="#00BFFF" stroke="#999" stroke-width="0.6"/>
<rect x="76.85" y="199.5" width="6.95" height="111.5" fill="#9B30FF" stroke="#999" stroke-width="0.6"/>
<rect x="85.8" y="319.6" width="6.95" height="0.2" fill="#FFC0CB" stroke="#999" stroke-width="0.6"/>
<rect x="85.8" y="319" width="6.95" height="0.6" fill="#7FFFD4" stroke="#999" stroke-width="0.6"/>
<rect x="85.8" y="317.5" width="6.95" height="1.5" fill="#ADFF2F" stroke="#999" stroke-width="0.6"/>
<rect x="85.8" y="316.9" width="6.95" height="0.6" fill="#00BFFF" stroke="#999" stroke-width="0.6"/>
<rect x="85.8" y="199.5" width="6.95" height="117.4" fill="#9B30FF" stroke="#999" stroke-width="0.6"/>
<rect x="94.75" y="319.6" width="6.95" height="0.2" fill="#FFC0CB" stroke="#999" stroke-width="0.6"/>
<rect x="94.75" y="319" width="6.95" height="0.6" fill="#7FFFD4" stroke="#999" stroke-width="0.6"/>
<rect x="94.75" y="318" width="6.95" height="1" fill="#ADFF2F" stroke="#999" stroke-width="0.6"/>
<rect x="94.75" y="317.6" width="6.95" height="0.4" fill="#00BFFF" stroke="#999" stroke-width="0.6"/>
<rect x="94.75" y="199.5" width="6.95" height="118.1" fill="#9B30FF" stroke="#999" stroke-width="0.6"/>
<rect x="103.7" y="318.5" width="6.95" height="1.3" fill="#FFC0CB" stroke="#999" stroke-width="0.6"/>
<rect x="103.7" y="317" width="6.95" height="1.5" fill="#7FFFD4" stroke="#999" stroke-width="0.6"/>
<rect x="103.7" y="315.5" width="6.95" height="1.5" fill="#ADFF2F" stroke="#999" stroke-width="0.6"/>
<rect x="103.7" y="314.3" width="6.95" height="1.2" fill="#00BFFF" stroke="#999" stroke-width="0.6"/>
<rect x="103.7" y="199.5" width="6.95" height="114.8" fill="#9B30FF" stroke="#999" stroke-width="0.6"/>
<rect x="112.65" y="319.2" width="6.95" height="0.6" fill="#FFC0CB" stroke="#999" stroke-width="0.6"/>
<rect x="112.65" y="318" width="6.95" height="1.2" fill="#7FFFD4" stroke="#999" stroke-width="0.6"/>
<rect x="112.65" y="315.8" width="6.95" height="2.2" fill="#ADFF2F" stroke="#999" stroke-width="0.6"/>
<rect x="112.65" y="315" width="6.95" height="0.8" fill="#00BFFF" stroke="#999" stroke-width="0.6"/>
<rect x="112.65" y="199.5" width="6.95" height="115.5" fill="#9B30FF" stroke="#999" stroke-width="0.6"/>
<rect x="121.6" y="319.6" width="6.95" height="0.2" fill="#FFC0CB" stroke="#999" stroke-width="0.6"/>
<rect x="121.6" y="319" width="6.95" height="0.6" fill="#7FFFD4" stroke="#999" stroke-width="0.6"/>
<rect x="121.6" y="318" width="6.95" height="1" fill="#ADFF2F" stroke="#999" stroke-width="0.6"/>
<rect x="121.6" y="316.7" width="6.95" height="1.3" fill="#00BFFF" stroke="#999" stroke-width="0.6"/>
<rect x="121.6" y="199.5" width="6.95" height="117.2" fill="#9B30FF" stroke="#999" stroke-width="0.6"/>
<rect x="130.55" y="319.6" width="6.95" height="0.2" fill="#FFC0CB" stroke="#999" stroke-width="0.6"/>
<rect x="130.55" y="319" width="6.95" height="0.6" fill="#7FFFD4" stroke="#999" stroke-width="0.6"/>
<rect x="130.55" y="317" width="6.95" height="2" fill="#ADFF2F" stroke="#999" stroke-width="0.6"/>
<rect x="130.55" y="314.9" width="6.95" height="2.1" fill="#00BFFF" stroke="#999" stroke-width="0.6"/>
<rect x="130.55" y="199.5" width="6.95" height="115.4" fill="#9B30FF" stroke="#999" stroke-width="0.6"/>
<rect x="139.5" y="319.6" width="6.95" height="0.2" fill="#FFC0CB" stroke="#999" stroke-width="0.6"/>
<rect x="139.5" y="318.5" width="6.95" height="1.1" fill="#7FFFD4" stroke="#999" stroke-width="0.6"/>
<rect x="139.5" y="316.5" width="6.95" height="2" fill="#ADFF2F" stroke="#999" stroke-width="0.6"/>
<rect x="139.5" y="314.3" width="6.95" height="2.2" fill="#00BFFF" stroke="#999" stroke-width="0.6"/>
<rect x="139.5" y="199.5" width="6.95" height="114.8" fill="#9B30FF" stroke="#999" stroke-width="0.6"/>
<rect x="148.45" y="318.2" width="6.95" height="1.6" fill="#FFC0CB" stroke="#999" stroke-width="0.6"/>
<rect x="148.45" y="315.5" width="6.95" height="2.7" fill="#7FFFD4" stroke="#999" stroke-width="0.6"/>
<rect x="148.45" y="312.8" width="6.95" height="2.7" fill="#ADFF2F" stroke="#999" stroke-width="0.6"/>
<rect x="148.45" y="310.4" width="6.95" height="2.4" fill="#00BFFF" stroke="#999" stroke-width="0.6"/>
<rect x="148.45" y="199.5" width="6.95" height="110.9" fill="#9B30FF" stroke="#999" stroke-width="0.6"/>
<rect x="157.4" y="318.5" width="6.95" height="1.3" fill="#FFC0CB" stroke="#999" stroke-width="0.6"/>
<rect x="157.4" y="316.5" width="6.95" height="2" fill="#7FFFD4" stroke="#999" stroke-width="0.6"/>
<rect x="157.4" y="314" width="6.95" height="2.5" fill="#ADFF2F" stroke="#999" stroke-width="0.6"/>
<rect x="157.4" y="311.6" width="6.95" height="2.4" fill="#00BFFF" stroke="#999" stroke-width="0.6"/>
<rect x="157.4" y="199.5" width="6.95" height="112.1" fill="#9B30FF" stroke="#999" stroke-width="0.6"/>
<rect x="166.35" y="318.3" width="6.95" height="1.5" fill="#FFC0CB" stroke="#999" stroke-width="0.6"/>
<rect x="166.35" y="315.5" width="6.95" height="2.8" fill="#7FFFD4" stroke="#999" stroke-width="0.6"/>
<rect x="166.35" y="312.5" width="6.95" height="3" fill="#ADFF2F" stroke="#999" stroke-width="0.6"/>
<rect x="166.35" y="309.7" width="6.95" height="2.8" fill="#00BFFF" stroke="#999" stroke-width="0.6"/>
<rect x="166.35" y="199.5" width="6.95" height="110.2" fill="#9B30FF" stroke="#999" stroke-width="0.6"/>
<line x1="37.4" y1="333.3" x2="37.4" y2="453.8" stroke="#555" stroke-width="0.8" />
<line x1="33.9" y1="453.8" x2="37.4" y2="453.8" stroke="#555" stroke-width="0.8" />
<text transform="translate(29.9,457.4) scale(0.93,1)" font-size="8.4" text-anchor="end" font-weight="normal" fill="#000"  stroke="#000" stroke-width="0.12">0</text>
<line x1="33.9" y1="423.68" x2="37.4" y2="423.68" stroke="#555" stroke-width="0.8" />
<text transform="translate(29.9,427.28) scale(0.93,1)" font-size="8.4" text-anchor="end" font-weight="normal" fill="#000"  stroke="#000" stroke-width="0.12">0.25</text>
<line x1="33.9" y1="393.55" x2="37.4" y2="393.55" stroke="#555" stroke-width="0.8" />
<text transform="translate(29.9,397.15) scale(0.93,1)" font-size="8.4" text-anchor="end" font-weight="normal" fill="#000"  stroke="#000" stroke-width="0.12">0.50</text>
<line x1="33.9" y1="363.43" x2="37.4" y2="363.43" stroke="#555" stroke-width="0.8" />
<text transform="translate(29.9,367.03) scale(0.93,1)" font-size="8.4" text-anchor="end" font-weight="normal" fill="#000"  stroke="#000" stroke-width="0.12">0.75</text>
<line x1="33.9" y1="333.3" x2="37.4" y2="333.3" stroke="#555" stroke-width="0.8" />
<text transform="translate(29.9,336.9) scale(0.93,1)" font-size="8.4" text-anchor="end" font-weight="normal" fill="#000"  stroke="#000" stroke-width="0.12">1.00</text>
<text fill="#000" stroke="#000" stroke-width="0.12" transform="translate(6.2,393.6) rotate(-90)" font-size="8.1" text-anchor="middle">Ancestry contribution</text>
<line x1="34.7" y1="453.8" x2="175.9" y2="453.8" stroke="#555" stroke-width="0.8" />
<rect x="41.05" y="434.52" width="6.95" height="19.28" fill="#FF00FF" stroke="#999" stroke-width="0.6"/>
<rect x="41.05" y="423.07" width="6.95" height="11.45" fill="#0000FF" stroke="#999" stroke-width="0.6"/>
<rect x="41.05" y="397.17" width="6.95" height="25.91" fill="#FF0000" stroke="#999" stroke-width="0.6"/>
<rect x="41.05" y="364.63" width="6.95" height="32.54" fill="#FFA500" stroke="#999" stroke-width="0.6"/>
<rect x="41.05" y="333.3" width="6.95" height="31.33" fill="#008000" stroke="#999" stroke-width="0.6"/>
<text fill="#000" stroke="#000" stroke-width="0.12" transform="translate(47.12,458.7) rotate(-90)" font-size="7.55" text-anchor="end">ISR-THS</text>
<rect x="50" y="436.33" width="6.95" height="17.47" fill="#FF00FF" stroke="#999" stroke-width="0.6"/>
<rect x="50" y="417.65" width="6.95" height="18.68" fill="#0000FF" stroke="#999" stroke-width="0.6"/>
<rect x="50" y="396.56" width="6.95" height="21.09" fill="#FF0000" stroke="#999" stroke-width="0.6"/>
<rect x="50" y="358.61" width="6.95" height="37.96" fill="#FFA500" stroke="#999" stroke-width="0.6"/>
<rect x="50" y="333.3" width="6.95" height="25.3" fill="#008000" stroke="#999" stroke-width="0.6"/>
<text fill="#000" stroke="#000" stroke-width="0.12" transform="translate(56.08,458.7) rotate(-90)" font-size="7.55" text-anchor="end">SYR-THM</text>
<rect x="58.95" y="433.31" width="6.95" height="20.49" fill="#FF00FF" stroke="#999" stroke-width="0.6"/>
<rect x="58.95" y="421.87" width="6.95" height="11.45" fill="#0000FF" stroke="#999" stroke-width="0.6"/>
<rect x="58.95" y="394.75" width="6.95" height="27.11" fill="#FF0000" stroke="#999" stroke-width="0.6"/>
<rect x="58.95" y="361.62" width="6.95" height="33.14" fill="#FFA500" stroke="#999" stroke-width="0.6"/>
<rect x="58.95" y="333.3" width="6.95" height="28.32" fill="#008000" stroke="#999" stroke-width="0.6"/>
<text fill="#000" stroke="#000" stroke-width="0.12" transform="translate(65.02,458.7) rotate(-90)" font-size="7.55" text-anchor="end">GEO-THS</text>
<rect x="67.9" y="436.33" width="6.95" height="17.47" fill="#FF00FF" stroke="#999" stroke-width="0.6"/>
<rect x="67.9" y="422.47" width="6.95" height="13.86" fill="#0000FF" stroke="#999" stroke-width="0.6"/>
<rect x="67.9" y="394.75" width="6.95" height="27.71" fill="#FF0000" stroke="#999" stroke-width="0.6"/>
<rect x="67.9" y="360.41" width="6.95" height="34.34" fill="#FFA500" stroke="#999" stroke-width="0.6"/>
<rect x="67.9" y="333.3" width="6.95" height="27.11" fill="#008000" stroke="#999" stroke-width="0.6"/>
<text fill="#000" stroke="#000" stroke-width="0.12" transform="translate(73.97,458.7) rotate(-90)" font-size="7.55" text-anchor="end">IRN-THS</text>
<rect x="76.85" y="433.31" width="6.95" height="20.49" fill="#FF00FF" stroke="#999" stroke-width="0.6"/>
<rect x="76.85" y="415.24" width="6.95" height="18.07" fill="#0000FF" stroke="#999" stroke-width="0.6"/>
<rect x="76.85" y="390.54" width="6.95" height="24.7" fill="#FF0000" stroke="#999" stroke-width="0.6"/>
<rect x="76.85" y="360.41" width="6.95" height="30.12" fill="#FFA500" stroke="#999" stroke-width="0.6"/>
<rect x="76.85" y="333.3" width="6.95" height="27.11" fill="#008000" stroke="#999" stroke-width="0.6"/>
<text fill="#000" stroke="#000" stroke-width="0.12" transform="translate(82.92,458.7) rotate(-90)" font-size="7.55" text-anchor="end">TUR-THM</text>
<rect x="85.8" y="436.33" width="6.95" height="17.47" fill="#FF00FF" stroke="#999" stroke-width="0.6"/>
<rect x="85.8" y="423.68" width="6.95" height="12.65" fill="#0000FF" stroke="#999" stroke-width="0.6"/>
<rect x="85.8" y="398.97" width="6.95" height="24.7" fill="#FF0000" stroke="#999" stroke-width="0.6"/>
<rect x="85.8" y="361.02" width="6.95" height="37.96" fill="#FFA500" stroke="#999" stroke-width="0.6"/>
<rect x="85.8" y="333.3" width="6.95" height="27.71" fill="#008000" stroke="#999" stroke-width="0.6"/>
<text fill="#000" stroke="#000" stroke-width="0.12" transform="translate(91.87,458.7) rotate(-90)" font-size="7.55" text-anchor="end">EU-THM</text>
<rect x="94.75" y="433.92" width="6.95" height="19.88" fill="#FF00FF" stroke="#999" stroke-width="0.6"/>
<rect x="94.75" y="420.66" width="6.95" height="13.26" fill="#0000FF" stroke="#999" stroke-width="0.6"/>
<rect x="94.75" y="395.96" width="6.95" height="24.7" fill="#FF0000" stroke="#999" stroke-width="0.6"/>
<rect x="94.75" y="364.03" width="6.95" height="31.93" fill="#FFA500" stroke="#999" stroke-width="0.6"/>
<rect x="94.75" y="333.3" width="6.95" height="30.73" fill="#008000" stroke="#999" stroke-width="0.6"/>
<text fill="#000" stroke="#000" stroke-width="0.12" transform="translate(100.82,458.7) rotate(-90)" font-size="7.55" text-anchor="end">EU-THS</text>
<rect x="103.7" y="437.53" width="6.95" height="16.27" fill="#FF00FF" stroke="#999" stroke-width="0.6"/>
<rect x="103.7" y="424.28" width="6.95" height="13.25" fill="#0000FF" stroke="#999" stroke-width="0.6"/>
<rect x="103.7" y="408.01" width="6.95" height="16.27" fill="#FF0000" stroke="#999" stroke-width="0.6"/>
<rect x="103.7" y="375.48" width="6.95" height="32.54" fill="#FFA500" stroke="#999" stroke-width="0.6"/>
<rect x="103.7" y="333.3" width="6.95" height="42.17" fill="#008000" stroke="#999" stroke-width="0.6"/>
<text fill="#000" stroke="#000" stroke-width="0.12" transform="translate(109.77,458.7) rotate(-90)" font-size="7.55" text-anchor="end">ME-SHS</text>
<rect x="112.65" y="431.51" width="6.95" height="22.29" fill="#FF00FF" stroke="#999" stroke-width="0.6"/>
<rect x="112.65" y="417.05" width="6.95" height="14.46" fill="#0000FF" stroke="#999" stroke-width="0.6"/>
<rect x="112.65" y="396.56" width="6.95" height="20.48" fill="#FF0000" stroke="#999" stroke-width="0.6"/>
<rect x="112.65" y="364.03" width="6.95" height="32.54" fill="#FFA500" stroke="#999" stroke-width="0.6"/>
<rect x="112.65" y="333.3" width="6.95" height="30.73" fill="#008000" stroke="#999" stroke-width="0.6"/>
<text fill="#000" stroke="#000" stroke-width="0.12" transform="translate(118.72,458.7) rotate(-90)" font-size="7.55" text-anchor="end">EU-SHW</text>
<rect x="121.6" y="430.3" width="6.95" height="23.5" fill="#FF00FF" stroke="#999" stroke-width="0.6"/>
<rect x="121.6" y="416.44" width="6.95" height="13.86" fill="#0000FF" stroke="#999" stroke-width="0.6"/>
<rect x="121.6" y="397.77" width="6.95" height="18.68" fill="#FF0000" stroke="#999" stroke-width="0.6"/>
<rect x="121.6" y="364.03" width="6.95" height="33.74" fill="#FFA500" stroke="#999" stroke-width="0.6"/>
<rect x="121.6" y="333.3" width="6.95" height="30.73" fill="#008000" stroke="#999" stroke-width="0.6"/>
<text fill="#000" stroke="#000" stroke-width="0.12" transform="translate(127.67,458.7) rotate(-90)" font-size="7.55" text-anchor="end">EU-SHM</text>
<rect x="130.55" y="429.1" width="6.95" height="24.7" fill="#FF00FF" stroke="#999" stroke-width="0.6"/>
<rect x="130.55" y="413.43" width="6.95" height="15.67" fill="#0000FF" stroke="#999" stroke-width="0.6"/>
<rect x="130.55" y="394.75" width="6.95" height="18.68" fill="#FF0000" stroke="#999" stroke-width="0.6"/>
<rect x="130.55" y="364.03" width="6.95" height="30.73" fill="#FFA500" stroke="#999" stroke-width="0.6"/>
<rect x="130.55" y="333.3" width="6.95" height="30.73" fill="#008000" stroke="#999" stroke-width="0.6"/>
<text fill="#000" stroke="#000" stroke-width="0.12" transform="translate(136.62,458.7) rotate(-90)" font-size="7.55" text-anchor="end">ETH-MHS</text>
<rect x="139.5" y="427.29" width="6.95" height="26.51" fill="#FF00FF" stroke="#999" stroke-width="0.6"/>
<rect x="139.5" y="408.01" width="6.95" height="19.28" fill="#0000FF" stroke="#999" stroke-width="0.6"/>
<rect x="139.5" y="394.15" width="6.95" height="13.86" fill="#FF0000" stroke="#999" stroke-width="0.6"/>
<rect x="139.5" y="364.03" width="6.95" height="30.12" fill="#FFA500" stroke="#999" stroke-width="0.6"/>
<rect x="139.5" y="333.3" width="6.95" height="30.73" fill="#008000" stroke="#999" stroke-width="0.6"/>
<text fill="#000" stroke="#000" stroke-width="0.12" transform="translate(145.57,458.7) rotate(-90)" font-size="7.55" text-anchor="end">ETH-MNS</text>
<rect x="148.45" y="417.65" width="6.95" height="36.15" fill="#FF00FF" stroke="#999" stroke-width="0.6"/>
<rect x="148.45" y="403.19" width="6.95" height="14.46" fill="#0000FF" stroke="#999" stroke-width="0.6"/>
<rect x="148.45" y="383.31" width="6.95" height="19.88" fill="#FF0000" stroke="#999" stroke-width="0.6"/>
<rect x="148.45" y="357.4" width="6.95" height="25.91" fill="#FFA500" stroke="#999" stroke-width="0.6"/>
<rect x="148.45" y="333.3" width="6.95" height="24.1" fill="#008000" stroke="#999" stroke-width="0.6"/>
<text fill="#000" stroke="#000" stroke-width="0.12" transform="translate(154.52,458.7) rotate(-90)" font-size="7.55" text-anchor="end">CA-SHS</text>
<rect x="157.4" y="420.66" width="6.95" height="33.14" fill="#FF00FF" stroke="#999" stroke-width="0.6"/>
<rect x="157.4" y="405.6" width="6.95" height="15.06" fill="#0000FF" stroke="#999" stroke-width="0.6"/>
<rect x="157.4" y="393.55" width="6.95" height="12.05" fill="#FF0000" stroke="#999" stroke-width="0.6"/>
<rect x="157.4" y="364.03" width="6.95" height="29.52" fill="#FFA500" stroke="#999" stroke-width="0.6"/>
<rect x="157.4" y="333.3" width="6.95" height="30.73" fill="#008000" stroke="#999" stroke-width="0.6"/>
<text fill="#000" stroke="#000" stroke-width="0.12" transform="translate(163.47,458.7) rotate(-90)" font-size="7.55" text-anchor="end">CA-SNS</text>
<rect x="166.35" y="418.25" width="6.95" height="35.55" fill="#FF00FF" stroke="#999" stroke-width="0.6"/>
<rect x="166.35" y="406.2" width="6.95" height="12.05" fill="#0000FF" stroke="#999" stroke-width="0.6"/>
<rect x="166.35" y="384.51" width="6.95" height="21.69" fill="#FF0000" stroke="#999" stroke-width="0.6"/>
<rect x="166.35" y="358.6" width="6.95" height="25.91" fill="#FFA500" stroke="#999" stroke-width="0.6"/>
<rect x="166.35" y="333.3" width="6.95" height="25.3" fill="#008000" stroke="#999" stroke-width="0.6"/>
<text fill="#000" stroke="#000" stroke-width="0.12" transform="translate(172.42,458.7) rotate(-90)" font-size="7.55" text-anchor="end">EA-SHM</text>
<text x="190.8" y="199.5" font-size="10.5" text-anchor="start" font-weight="bold" fill="#000" stroke="#000" stroke-width="0.35">e</text>
<line x1="227.4" y1="210.3" x2="227.4" y2="245.7" stroke="#555" stroke-width="0.8" />
<line x1="225.4" y1="245.7" x2="227.4" y2="245.7" stroke="#555" stroke-width="0.8" />
<line x1="225.4" y1="236.9" x2="227.4" y2="236.9" stroke="#555" stroke-width="0.8" />
<line x1="225.4" y1="228.1" x2="227.4" y2="228.1" stroke="#555" stroke-width="0.8" />
<line x1="225.4" y1="219.3" x2="227.4" y2="219.3" stroke="#555" stroke-width="0.8" />
<line x1="225.4" y1="210.5" x2="227.4" y2="210.5" stroke="#555" stroke-width="0.8" />
<text transform="translate(221.2,249.2) scale(0.93,1)" font-size="8.4" text-anchor="end" font-weight="normal" fill="#000"  stroke="#000" stroke-width="0.12">0</text>
<text transform="translate(221.2,240.4) scale(0.93,1)" font-size="8.4" text-anchor="end" font-weight="normal" fill="#000"  stroke="#000" stroke-width="0.12">0.25</text>
<text transform="translate(221.2,231.6) scale(0.93,1)" font-size="8.4" text-anchor="end" font-weight="normal" fill="#000"  stroke="#000" stroke-width="0.12">0.50</text>
<text transform="translate(221.2,222.8) scale(0.93,1)" font-size="8.4" text-anchor="end" font-weight="normal" fill="#000"  stroke="#000" stroke-width="0.12">0.75</text>
<text transform="translate(221.2,214) scale(0.93,1)" font-size="8.4" text-anchor="end" font-weight="normal" fill="#000"  stroke="#000" stroke-width="0.12">1.00</text>
<line x1="227.4" y1="245.7" x2="284.6" y2="245.7" stroke="#555" stroke-width="0.8" />
<text transform="translate(255.9,205.8) scale(0.93,1)" font-size="8.4" text-anchor="middle" font-weight="normal" fill="#000"  stroke="#000" stroke-width="0.12">ISR-THS</text>
<rect x="232.1" y="245.65" width="5.6" height="0.05" fill="#FFC0CB" stroke="none" stroke-width="0"/>
<rect x="232.1" y="245.52" width="5.6" height="0.13" fill="#7FFFD4" stroke="none" stroke-width="0"/>
<rect x="232.1" y="245.33" width="5.6" height="0.18" fill="#ADFF2F" stroke="none" stroke-width="0"/>
<rect x="232.1" y="245.17" width="5.6" height="0.16" fill="#00BFFF" stroke="none" stroke-width="0"/>
<rect x="232.1" y="210.5" width="5.6" height="34.67" fill="#9B30FF" stroke="none" stroke-width="0"/>
<rect x="242.55" y="245.35" width="5.6" height="0.35" fill="#FFC0CB" stroke="none" stroke-width="0"/>
<rect x="242.55" y="244.47" width="5.6" height="0.88" fill="#7FFFD4" stroke="none" stroke-width="0"/>
<rect x="242.55" y="243.24" width="5.6" height="1.23" fill="#ADFF2F" stroke="none" stroke-width="0"/>
<rect x="242.55" y="242.18" width="5.6" height="1.06" fill="#00BFFF" stroke="none" stroke-width="0"/>
<rect x="242.55" y="210.5" width="5.6" height="31.68" fill="#9B30FF" stroke="none" stroke-width="0"/>
<rect x="253" y="245.65" width="5.6" height="0.05" fill="#FFC0CB" stroke="none" stroke-width="0"/>
<rect x="253" y="245.52" width="5.6" height="0.13" fill="#7FFFD4" stroke="none" stroke-width="0"/>
<rect x="253" y="245.33" width="5.6" height="0.18" fill="#ADFF2F" stroke="none" stroke-width="0"/>
<rect x="253" y="245.17" width="5.6" height="0.16" fill="#00BFFF" stroke="none" stroke-width="0"/>
<rect x="253" y="210.5" width="5.6" height="34.67" fill="#9B30FF" stroke="none" stroke-width="0"/>
<rect x="263.45" y="245.59" width="5.6" height="0.11" fill="#FFC0CB" stroke="none" stroke-width="0"/>
<rect x="263.45" y="245.33" width="5.6" height="0.26" fill="#7FFFD4" stroke="none" stroke-width="0"/>
<rect x="263.45" y="244.96" width="5.6" height="0.37" fill="#ADFF2F" stroke="none" stroke-width="0"/>
<rect x="263.45" y="244.64" width="5.6" height="0.32" fill="#00BFFF" stroke="none" stroke-width="0"/>
<rect x="263.45" y="210.5" width="5.6" height="34.14" fill="#9B30FF" stroke="none" stroke-width="0"/>
<rect x="273.9" y="245.52" width="5.6" height="0.18" fill="#008000" stroke="none" stroke-width="0"/>
<rect x="273.9" y="245.35" width="5.6" height="0.18" fill="#7FFFD4" stroke="none" stroke-width="0"/>
<rect x="273.9" y="210.5" width="5.6" height="34.85" fill="#9B30FF" stroke="none" stroke-width="0"/>
<line x1="294.5" y1="210.3" x2="294.5" y2="245.7" stroke="#555" stroke-width="0.8" />
<line x1="292.5" y1="245.7" x2="294.5" y2="245.7" stroke="#555" stroke-width="0.8" />
<line x1="292.5" y1="236.9" x2="294.5" y2="236.9" stroke="#555" stroke-width="0.8" />
<line x1="292.5" y1="228.1" x2="294.5" y2="228.1" stroke="#555" stroke-width="0.8" />
<line x1="292.5" y1="219.3" x2="294.5" y2="219.3" stroke="#555" stroke-width="0.8" />
<line x1="292.5" y1="210.5" x2="294.5" y2="210.5" stroke="#555" stroke-width="0.8" />
<line x1="294.5" y1="245.7" x2="351.7" y2="245.7" stroke="#555" stroke-width="0.8" />
<text transform="translate(323,205.8) scale(0.93,1)" font-size="8.4" text-anchor="middle" font-weight="normal" fill="#000"  stroke="#000" stroke-width="0.12">SYR-THM</text>
<rect x="299.2" y="245.52" width="5.6" height="0.18" fill="#008000" stroke="none" stroke-width="0"/>
<rect x="299.2" y="245.35" width="5.6" height="0.18" fill="#7FFFD4" stroke="none" stroke-width="0"/>
<rect x="299.2" y="210.5" width="5.6" height="34.85" fill="#9B30FF" stroke="none" stroke-width="0"/>
<rect x="309.65" y="245.59" width="5.6" height="0.11" fill="#FFC0CB" stroke="none" stroke-width="0"/>
<rect x="309.65" y="245.33" width="5.6" height="0.26" fill="#7FFFD4" stroke="none" stroke-width="0"/>
<rect x="309.65" y="244.96" width="5.6" height="0.37" fill="#ADFF2F" stroke="none" stroke-width="0"/>
<rect x="309.65" y="244.64" width="5.6" height="0.32" fill="#00BFFF" stroke="none" stroke-width="0"/>
<rect x="309.65" y="210.5" width="5.6" height="34.14" fill="#9B30FF" stroke="none" stroke-width="0"/>
<rect x="320.1" y="245.52" width="5.6" height="0.18" fill="#008000" stroke="none" stroke-width="0"/>
<rect x="320.1" y="245.35" width="5.6" height="0.18" fill="#7FFFD4" stroke="none" stroke-width="0"/>
<rect x="320.1" y="210.5" width="5.6" height="34.85" fill="#9B30FF" stroke="none" stroke-width="0"/>
<rect x="330.55" y="245.28" width="5.6" height="0.42" fill="#FFC0CB" stroke="none" stroke-width="0"/>
<rect x="330.55" y="244.22" width="5.6" height="1.06" fill="#7FFFD4" stroke="none" stroke-width="0"/>
<rect x="330.55" y="242.74" width="5.6" height="1.48" fill="#ADFF2F" stroke="none" stroke-width="0"/>
<rect x="330.55" y="241.48" width="5.6" height="1.27" fill="#00BFFF" stroke="none" stroke-width="0"/>
<rect x="330.55" y="210.5" width="5.6" height="30.98" fill="#9B30FF" stroke="none" stroke-width="0"/>
<rect x="341" y="245.17" width="5.6" height="0.53" fill="#FFC0CB" stroke="none" stroke-width="0"/>
<rect x="341" y="243.85" width="5.6" height="1.32" fill="#7FFFD4" stroke="none" stroke-width="0"/>
<rect x="341" y="242" width="5.6" height="1.85" fill="#ADFF2F" stroke="none" stroke-width="0"/>
<rect x="341" y="240.42" width="5.6" height="1.58" fill="#00BFFF" stroke="none" stroke-width="0"/>
<rect x="341" y="210.5" width="5.6" height="29.92" fill="#9B30FF" stroke="none" stroke-width="0"/>
<line x1="361.6" y1="210.3" x2="361.6" y2="245.7" stroke="#555" stroke-width="0.8" />
<line x1="359.6" y1="245.7" x2="361.6" y2="245.7" stroke="#555" stroke-width="0.8" />
<line x1="359.6" y1="236.9" x2="361.6" y2="236.9" stroke="#555" stroke-width="0.8" />
<line x1="359.6" y1="228.1" x2="361.6" y2="228.1" stroke="#555" stroke-width="0.8" />
<line x1="359.6" y1="219.3" x2="361.6" y2="219.3" stroke="#555" stroke-width="0.8" />
<line x1="359.6" y1="210.5" x2="361.6" y2="210.5" stroke="#555" stroke-width="0.8" />
<line x1="361.6" y1="245.7" x2="418.8" y2="245.7" stroke="#555" stroke-width="0.8" />
<text transform="translate(390.1,205.8) scale(0.93,1)" font-size="8.4" text-anchor="middle" font-weight="normal" fill="#000"  stroke="#000" stroke-width="0.12">GEO-THS</text>
<rect x="366.3" y="245.35" width="5.6" height="0.35" fill="#FFC0CB" stroke="none" stroke-width="0"/>
<rect x="366.3" y="244.47" width="5.6" height="0.88" fill="#7FFFD4" stroke="none" stroke-width="0"/>
<rect x="366.3" y="243.24" width="5.6" height="1.23" fill="#ADFF2F" stroke="none" stroke-width="0"/>
<rect x="366.3" y="242.18" width="5.6" height="1.06" fill="#00BFFF" stroke="none" stroke-width="0"/>
<rect x="366.3" y="210.5" width="5.6" height="31.68" fill="#9B30FF" stroke="none" stroke-width="0"/>
<rect x="376.75" y="245.28" width="5.6" height="0.42" fill="#FFC0CB" stroke="none" stroke-width="0"/>
<rect x="376.75" y="244.22" width="5.6" height="1.06" fill="#7FFFD4" stroke="none" stroke-width="0"/>
<rect x="376.75" y="242.74" width="5.6" height="1.48" fill="#ADFF2F" stroke="none" stroke-width="0"/>
<rect x="376.75" y="241.48" width="5.6" height="1.27" fill="#00BFFF" stroke="none" stroke-width="0"/>
<rect x="376.75" y="210.5" width="5.6" height="30.98" fill="#9B30FF" stroke="none" stroke-width="0"/>
<rect x="387.2" y="245.35" width="5.6" height="0.35" fill="#FFC0CB" stroke="none" stroke-width="0"/>
<rect x="387.2" y="244.47" width="5.6" height="0.88" fill="#7FFFD4" stroke="none" stroke-width="0"/>
<rect x="387.2" y="243.24" width="5.6" height="1.23" fill="#ADFF2F" stroke="none" stroke-width="0"/>
<rect x="387.2" y="242.18" width="5.6" height="1.06" fill="#00BFFF" stroke="none" stroke-width="0"/>
<rect x="387.2" y="210.5" width="5.6" height="31.68" fill="#9B30FF" stroke="none" stroke-width="0"/>
<rect x="397.65" y="245.52" width="5.6" height="0.18" fill="#008000" stroke="none" stroke-width="0"/>
<rect x="397.65" y="245.35" width="5.6" height="0.18" fill="#7FFFD4" stroke="none" stroke-width="0"/>
<rect x="397.65" y="210.5" width="5.6" height="34.85" fill="#9B30FF" stroke="none" stroke-width="0"/>
<rect x="408.1" y="245.52" width="5.6" height="0.18" fill="#FFC0CB" stroke="none" stroke-width="0"/>
<rect x="408.1" y="245.08" width="5.6" height="0.44" fill="#7FFFD4" stroke="none" stroke-width="0"/>
<rect x="408.1" y="244.47" width="5.6" height="0.62" fill="#ADFF2F" stroke="none" stroke-width="0"/>
<rect x="408.1" y="243.94" width="5.6" height="0.53" fill="#00BFFF" stroke="none" stroke-width="0"/>
<rect x="408.1" y="210.5" width="5.6" height="33.44" fill="#9B30FF" stroke="none" stroke-width="0"/>
<text fill="#000" stroke="#000" stroke-width="0.12" transform="translate(197.3,227.9) rotate(-90)" font-size="8.1" text-anchor="middle">Proportion</text>
<line x1="227.4" y1="263.8" x2="227.4" y2="299.2" stroke="#555" stroke-width="0.8" />
<line x1="225.4" y1="299.2" x2="227.4" y2="299.2" stroke="#555" stroke-width="0.8" />
<line x1="225.4" y1="290.4" x2="227.4" y2="290.4" stroke="#555" stroke-width="0.8" />
<line x1="225.4" y1="281.6" x2="227.4" y2="281.6" stroke="#555" stroke-width="0.8" />
<line x1="225.4" y1="272.8" x2="227.4" y2="272.8" stroke="#555" stroke-width="0.8" />
<line x1="225.4" y1="264" x2="227.4" y2="264" stroke="#555" stroke-width="0.8" />
<text transform="translate(221.2,302.7) scale(0.93,1)" font-size="8.4" text-anchor="end" font-weight="normal" fill="#000"  stroke="#000" stroke-width="0.12">0</text>
<text transform="translate(221.2,293.9) scale(0.93,1)" font-size="8.4" text-anchor="end" font-weight="normal" fill="#000"  stroke="#000" stroke-width="0.12">0.25</text>
<text transform="translate(221.2,285.1) scale(0.93,1)" font-size="8.4" text-anchor="end" font-weight="normal" fill="#000"  stroke="#000" stroke-width="0.12">0.50</text>
<text transform="translate(221.2,276.3) scale(0.93,1)" font-size="8.4" text-anchor="end" font-weight="normal" fill="#000"  stroke="#000" stroke-width="0.12">0.75</text>
<text transform="translate(221.2,267.5) scale(0.93,1)" font-size="8.4" text-anchor="end" font-weight="normal" fill="#000"  stroke="#000" stroke-width="0.12">1.00</text>
<line x1="227.4" y1="299.2" x2="284.6" y2="299.2" stroke="#555" stroke-width="0.8" />
<text transform="translate(255.9,259.3) scale(0.93,1)" font-size="8.4" text-anchor="middle" font-weight="normal" fill="#000"  stroke="#000" stroke-width="0.12">IRN-THS</text>
<rect x="232.1" y="299.02" width="5.6" height="0.18" fill="#008000" stroke="none" stroke-width="0"/>
<rect x="232.1" y="298.85" width="5.6" height="0.18" fill="#7FFFD4" stroke="none" stroke-width="0"/>
<rect x="232.1" y="264" width="5.6" height="34.85" fill="#9B30FF" stroke="none" stroke-width="0"/>
<rect x="242.55" y="299.02" width="5.6" height="0.18" fill="#008000" stroke="none" stroke-width="0"/>
<rect x="242.55" y="298.85" width="5.6" height="0.18" fill="#7FFFD4" stroke="none" stroke-width="0"/>
<rect x="242.55" y="264" width="5.6" height="34.85" fill="#9B30FF" stroke="none" stroke-width="0"/>
<rect x="253" y="299.02" width="5.6" height="0.18" fill="#008000" stroke="none" stroke-width="0"/>
<rect x="253" y="298.85" width="5.6" height="0.18" fill="#7FFFD4" stroke="none" stroke-width="0"/>
<rect x="253" y="264" width="5.6" height="34.85" fill="#9B30FF" stroke="none" stroke-width="0"/>
<rect x="263.45" y="298.95" width="5.6" height="0.25" fill="#FFC0CB" stroke="none" stroke-width="0"/>
<rect x="263.45" y="298.34" width="5.6" height="0.62" fill="#7FFFD4" stroke="none" stroke-width="0"/>
<rect x="263.45" y="297.48" width="5.6" height="0.86" fill="#ADFF2F" stroke="none" stroke-width="0"/>
<rect x="263.45" y="296.74" width="5.6" height="0.74" fill="#00BFFF" stroke="none" stroke-width="0"/>
<rect x="263.45" y="264" width="5.6" height="32.74" fill="#9B30FF" stroke="none" stroke-width="0"/>
<rect x="273.9" y="299.09" width="5.6" height="0.11" fill="#FFC0CB" stroke="none" stroke-width="0"/>
<rect x="273.9" y="298.83" width="5.6" height="0.26" fill="#7FFFD4" stroke="none" stroke-width="0"/>
<rect x="273.9" y="298.46" width="5.6" height="0.37" fill="#ADFF2F" stroke="none" stroke-width="0"/>
<rect x="273.9" y="298.14" width="5.6" height="0.32" fill="#00BFFF" stroke="none" stroke-width="0"/>
<rect x="273.9" y="264" width="5.6" height="34.14" fill="#9B30FF" stroke="none" stroke-width="0"/>
<line x1="294.5" y1="263.8" x2="294.5" y2="299.2" stroke="#555" stroke-width="0.8" />
<line x1="292.5" y1="299.2" x2="294.5" y2="299.2" stroke="#555" stroke-width="0.8" />
<line x1="292.5" y1="290.4" x2="294.5" y2="290.4" stroke="#555" stroke-width="0.8" />
<line x1="292.5" y1="281.6" x2="294.5" y2="281.6" stroke="#555" stroke-width="0.8" />
<line x1="292.5" y1="272.8" x2="294.5" y2="272.8" stroke="#555" stroke-width="0.8" />
<line x1="292.5" y1="264" x2="294.5" y2="264" stroke="#555" stroke-width="0.8" />
<line x1="294.5" y1="299.2" x2="351.7" y2="299.2" stroke="#555" stroke-width="0.8" />
<text transform="translate(323,259.3) scale(0.93,1)" font-size="8.4" text-anchor="middle" font-weight="normal" fill="#000"  stroke="#000" stroke-width="0.12">TUR-THM</text>
<rect x="299.2" y="299.02" width="5.6" height="0.18" fill="#008000" stroke="none" stroke-width="0"/>
<rect x="299.2" y="298.85" width="5.6" height="0.18" fill="#7FFFD4" stroke="none" stroke-width="0"/>
<rect x="299.2" y="264" width="5.6" height="34.85" fill="#9B30FF" stroke="none" stroke-width="0"/>
<rect x="309.65" y="299.02" width="5.6" height="0.18" fill="#008000" stroke="none" stroke-width="0"/>
<rect x="309.65" y="298.85" width="5.6" height="0.18" fill="#7FFFD4" stroke="none" stroke-width="0"/>
<rect x="309.65" y="264" width="5.6" height="34.85" fill="#9B30FF" stroke="none" stroke-width="0"/>
<rect x="320.1" y="299.02" width="5.6" height="0.18" fill="#008000" stroke="none" stroke-width="0"/>
<rect x="320.1" y="298.85" width="5.6" height="0.18" fill="#7FFFD4" stroke="none" stroke-width="0"/>
<rect x="320.1" y="264" width="5.6" height="34.85" fill="#9B30FF" stroke="none" stroke-width="0"/>
<rect x="330.55" y="298.57" width="5.6" height="0.63" fill="#FFC0CB" stroke="none" stroke-width="0"/>
<rect x="330.55" y="296.98" width="5.6" height="1.58" fill="#7FFFD4" stroke="none" stroke-width="0"/>
<rect x="330.55" y="294.76" width="5.6" height="2.22" fill="#ADFF2F" stroke="none" stroke-width="0"/>
<rect x="330.55" y="292.86" width="5.6" height="1.9" fill="#00BFFF" stroke="none" stroke-width="0"/>
<rect x="330.55" y="264" width="5.6" height="28.86" fill="#9B30FF" stroke="none" stroke-width="0"/>
<rect x="341" y="298.92" width="5.6" height="0.28" fill="#FFC0CB" stroke="none" stroke-width="0"/>
<rect x="341" y="298.21" width="5.6" height="0.7" fill="#7FFFD4" stroke="none" stroke-width="0"/>
<rect x="341" y="297.23" width="5.6" height="0.99" fill="#ADFF2F" stroke="none" stroke-width="0"/>
<rect x="341" y="296.38" width="5.6" height="0.84" fill="#00BFFF" stroke="none" stroke-width="0"/>
<rect x="341" y="264" width="5.6" height="32.38" fill="#9B30FF" stroke="none" stroke-width="0"/>
<line x1="361.6" y1="263.8" x2="361.6" y2="299.2" stroke="#555" stroke-width="0.8" />
<line x1="359.6" y1="299.2" x2="361.6" y2="299.2" stroke="#555" stroke-width="0.8" />
<line x1="359.6" y1="290.4" x2="361.6" y2="290.4" stroke="#555" stroke-width="0.8" />
<line x1="359.6" y1="281.6" x2="361.6" y2="281.6" stroke="#555" stroke-width="0.8" />
<line x1="359.6" y1="272.8" x2="361.6" y2="272.8" stroke="#555" stroke-width="0.8" />
<line x1="359.6" y1="264" x2="361.6" y2="264" stroke="#555" stroke-width="0.8" />
<line x1="361.6" y1="299.2" x2="418.8" y2="299.2" stroke="#555" stroke-width="0.8" />
<text transform="translate(390.1,259.3) scale(0.93,1)" font-size="8.4" text-anchor="middle" font-weight="normal" fill="#000"  stroke="#000" stroke-width="0.12">EU-THM</text>
<rect x="366.3" y="299.02" width="5.6" height="0.18" fill="#008000" stroke="none" stroke-width="0"/>
<rect x="366.3" y="298.85" width="5.6" height="0.18" fill="#7FFFD4" stroke="none" stroke-width="0"/>
<rect x="366.3" y="264" width="5.6" height="34.85" fill="#9B30FF" stroke="none" stroke-width="0"/>
<rect x="376.75" y="299.02" width="5.6" height="0.18" fill="#008000" stroke="none" stroke-width="0"/>
<rect x="376.75" y="298.85" width="5.6" height="0.18" fill="#7FFFD4" stroke="none" stroke-width="0"/>
<rect x="376.75" y="264" width="5.6" height="34.85" fill="#9B30FF" stroke="none" stroke-width="0"/>
<rect x="387.2" y="299.02" width="5.6" height="0.18" fill="#008000" stroke="none" stroke-width="0"/>
<rect x="387.2" y="298.85" width="5.6" height="0.18" fill="#7FFFD4" stroke="none" stroke-width="0"/>
<rect x="387.2" y="264" width="5.6" height="34.85" fill="#9B30FF" stroke="none" stroke-width="0"/>
<rect x="397.65" y="299.02" width="5.6" height="0.18" fill="#FFC0CB" stroke="none" stroke-width="0"/>
<rect x="397.65" y="298.58" width="5.6" height="0.44" fill="#7FFFD4" stroke="none" stroke-width="0"/>
<rect x="397.65" y="297.97" width="5.6" height="0.62" fill="#ADFF2F" stroke="none" stroke-width="0"/>
<rect x="397.65" y="297.44" width="5.6" height="0.53" fill="#00BFFF" stroke="none" stroke-width="0"/>
<rect x="397.65" y="264" width="5.6" height="33.44" fill="#9B30FF" stroke="none" stroke-width="0"/>
<rect x="408.1" y="299.02" width="5.6" height="0.18" fill="#008000" stroke="none" stroke-width="0"/>
<rect x="408.1" y="298.85" width="5.6" height="0.18" fill="#7FFFD4" stroke="none" stroke-width="0"/>
<rect x="408.1" y="264" width="5.6" height="34.85" fill="#9B30FF" stroke="none" stroke-width="0"/>
<text fill="#000" stroke="#000" stroke-width="0.12" transform="translate(197.3,281.4) rotate(-90)" font-size="8.1" text-anchor="middle">Proportion</text>
<line x1="227.4" y1="317.3" x2="227.4" y2="352.7" stroke="#555" stroke-width="0.8" />
<line x1="225.4" y1="352.7" x2="227.4" y2="352.7" stroke="#555" stroke-width="0.8" />
<line x1="225.4" y1="343.9" x2="227.4" y2="343.9" stroke="#555" stroke-width="0.8" />
<line x1="225.4" y1="335.1" x2="227.4" y2="335.1" stroke="#555" stroke-width="0.8" />
<line x1="225.4" y1="326.3" x2="227.4" y2="326.3" stroke="#555" stroke-width="0.8" />
<line x1="225.4" y1="317.5" x2="227.4" y2="317.5" stroke="#555" stroke-width="0.8" />
<text transform="translate(221.2,356.2) scale(0.93,1)" font-size="8.4" text-anchor="end" font-weight="normal" fill="#000"  stroke="#000" stroke-width="0.12">0</text>
<text transform="translate(221.2,347.4) scale(0.93,1)" font-size="8.4" text-anchor="end" font-weight="normal" fill="#000"  stroke="#000" stroke-width="0.12">0.25</text>
<text transform="translate(221.2,338.6) scale(0.93,1)" font-size="8.4" text-anchor="end" font-weight="normal" fill="#000"  stroke="#000" stroke-width="0.12">0.50</text>
<text transform="translate(221.2,329.8) scale(0.93,1)" font-size="8.4" text-anchor="end" font-weight="normal" fill="#000"  stroke="#000" stroke-width="0.12">0.75</text>
<text transform="translate(221.2,321) scale(0.93,1)" font-size="8.4" text-anchor="end" font-weight="normal" fill="#000"  stroke="#000" stroke-width="0.12">1.00</text>
<line x1="227.4" y1="352.7" x2="284.6" y2="352.7" stroke="#555" stroke-width="0.8" />
<text transform="translate(255.9,312.8) scale(0.93,1)" font-size="8.4" text-anchor="middle" font-weight="normal" fill="#000"  stroke="#000" stroke-width="0.12">EU-THS</text>
<rect x="232.1" y="352.52" width="5.6" height="0.18" fill="#008000" stroke="none" stroke-width="0"/>
<rect x="232.1" y="352.35" width="5.6" height="0.18" fill="#7FFFD4" stroke="none" stroke-width="0"/>
<rect x="232.1" y="317.5" width="5.6" height="34.85" fill="#9B30FF" stroke="none" stroke-width="0"/>
<rect x="242.55" y="352.52" width="5.6" height="0.18" fill="#008000" stroke="none" stroke-width="0"/>
<rect x="242.55" y="352.35" width="5.6" height="0.18" fill="#7FFFD4" stroke="none" stroke-width="0"/>
<rect x="242.55" y="317.5" width="5.6" height="34.85" fill="#9B30FF" stroke="none" stroke-width="0"/>
<rect x="253" y="352.52" width="5.6" height="0.18" fill="#008000" stroke="none" stroke-width="0"/>
<rect x="253" y="352.35" width="5.6" height="0.18" fill="#7FFFD4" stroke="none" stroke-width="0"/>
<rect x="253" y="317.5" width="5.6" height="34.85" fill="#9B30FF" stroke="none" stroke-width="0"/>
<rect x="263.45" y="352.59" width="5.6" height="0.11" fill="#FFC0CB" stroke="none" stroke-width="0"/>
<rect x="263.45" y="352.33" width="5.6" height="0.26" fill="#7FFFD4" stroke="none" stroke-width="0"/>
<rect x="263.45" y="351.96" width="5.6" height="0.37" fill="#ADFF2F" stroke="none" stroke-width="0"/>
<rect x="263.45" y="351.64" width="5.6" height="0.32" fill="#00BFFF" stroke="none" stroke-width="0"/>
<rect x="263.45" y="317.5" width="5.6" height="34.14" fill="#9B30FF" stroke="none" stroke-width="0"/>
<rect x="273.9" y="352.52" width="5.6" height="0.18" fill="#008000" stroke="none" stroke-width="0"/>
<rect x="273.9" y="352.35" width="5.6" height="0.18" fill="#7FFFD4" stroke="none" stroke-width="0"/>
<rect x="273.9" y="317.5" width="5.6" height="34.85" fill="#9B30FF" stroke="none" stroke-width="0"/>
<line x1="294.5" y1="317.3" x2="294.5" y2="352.7" stroke="#555" stroke-width="0.8" />
<line x1="292.5" y1="352.7" x2="294.5" y2="352.7" stroke="#555" stroke-width="0.8" />
<line x1="292.5" y1="343.9" x2="294.5" y2="343.9" stroke="#555" stroke-width="0.8" />
<line x1="292.5" y1="335.1" x2="294.5" y2="335.1" stroke="#555" stroke-width="0.8" />
<line x1="292.5" y1="326.3" x2="294.5" y2="326.3" stroke="#555" stroke-width="0.8" />
<line x1="292.5" y1="317.5" x2="294.5" y2="317.5" stroke="#555" stroke-width="0.8" />
<line x1="294.5" y1="352.7" x2="351.7" y2="352.7" stroke="#555" stroke-width="0.8" />
<text transform="translate(323,312.8) scale(0.93,1)" font-size="8.4" text-anchor="middle" font-weight="normal" fill="#000"  stroke="#000" stroke-width="0.12">ME-SHS</text>
<rect x="299.2" y="352.52" width="5.6" height="0.18" fill="#008000" stroke="none" stroke-width="0"/>
<rect x="299.2" y="352.35" width="5.6" height="0.18" fill="#7FFFD4" stroke="none" stroke-width="0"/>
<rect x="299.2" y="317.5" width="5.6" height="34.85" fill="#9B30FF" stroke="none" stroke-width="0"/>
<rect x="309.65" y="352.52" width="5.6" height="0.18" fill="#008000" stroke="none" stroke-width="0"/>
<rect x="309.65" y="352.35" width="5.6" height="0.18" fill="#7FFFD4" stroke="none" stroke-width="0"/>
<rect x="309.65" y="317.5" width="5.6" height="34.85" fill="#9B30FF" stroke="none" stroke-width="0"/>
<rect x="320.1" y="352.52" width="5.6" height="0.18" fill="#008000" stroke="none" stroke-width="0"/>
<rect x="320.1" y="352.35" width="5.6" height="0.18" fill="#7FFFD4" stroke="none" stroke-width="0"/>
<rect x="320.1" y="317.5" width="5.6" height="34.85" fill="#9B30FF" stroke="none" stroke-width="0"/>
<rect x="330.55" y="352.52" width="5.6" height="0.18" fill="#008000" stroke="none" stroke-width="0"/>
<rect x="330.55" y="352.35" width="5.6" height="0.18" fill="#7FFFD4" stroke="none" stroke-width="0"/>
<rect x="330.55" y="317.5" width="5.6" height="34.85" fill="#9B30FF" stroke="none" stroke-width="0"/>
<rect x="341" y="352.52" width="5.6" height="0.18" fill="#008000" stroke="none" stroke-width="0"/>
<rect x="341" y="352.35" width="5.6" height="0.18" fill="#7FFFD4" stroke="none" stroke-width="0"/>
<rect x="341" y="317.5" width="5.6" height="34.85" fill="#9B30FF" stroke="none" stroke-width="0"/>
<line x1="361.6" y1="317.3" x2="361.6" y2="352.7" stroke="#555" stroke-width="0.8" />
<line x1="359.6" y1="352.7" x2="361.6" y2="352.7" stroke="#555" stroke-width="0.8" />
<line x1="359.6" y1="343.9" x2="361.6" y2="343.9" stroke="#555" stroke-width="0.8" />
<line x1="359.6" y1="335.1" x2="361.6" y2="335.1" stroke="#555" stroke-width="0.8" />
<line x1="359.6" y1="326.3" x2="361.6" y2="326.3" stroke="#555" stroke-width="0.8" />
<line x1="359.6" y1="317.5" x2="361.6" y2="317.5" stroke="#555" stroke-width="0.8" />
<line x1="361.6" y1="352.7" x2="418.8" y2="352.7" stroke="#555" stroke-width="0.8" />
<text transform="translate(390.1,312.8) scale(0.93,1)" font-size="8.4" text-anchor="middle" font-weight="normal" fill="#000"  stroke="#000" stroke-width="0.12">EU-SHW</text>
<rect x="366.3" y="352.52" width="5.6" height="0.18" fill="#008000" stroke="none" stroke-width="0"/>
<rect x="366.3" y="352.35" width="5.6" height="0.18" fill="#7FFFD4" stroke="none" stroke-width="0"/>
<rect x="366.3" y="317.5" width="5.6" height="34.85" fill="#9B30FF" stroke="none" stroke-width="0"/>
<rect x="376.75" y="352.52" width="5.6" height="0.18" fill="#008000" stroke="none" stroke-width="0"/>
<rect x="376.75" y="352.35" width="5.6" height="0.18" fill="#7FFFD4" stroke="none" stroke-width="0"/>
<rect x="376.75" y="317.5" width="5.6" height="34.85" fill="#9B30FF" stroke="none" stroke-width="0"/>
<rect x="387.2" y="352.52" width="5.6" height="0.18" fill="#008000" stroke="none" stroke-width="0"/>
<rect x="387.2" y="352.35" width="5.6" height="0.18" fill="#7FFFD4" stroke="none" stroke-width="0"/>
<rect x="387.2" y="317.5" width="5.6" height="34.85" fill="#9B30FF" stroke="none" stroke-width="0"/>
<rect x="397.65" y="352.52" width="5.6" height="0.18" fill="#008000" stroke="none" stroke-width="0"/>
<rect x="397.65" y="352.35" width="5.6" height="0.18" fill="#7FFFD4" stroke="none" stroke-width="0"/>
<rect x="397.65" y="317.5" width="5.6" height="34.85" fill="#9B30FF" stroke="none" stroke-width="0"/>
<rect x="408.1" y="352.52" width="5.6" height="0.18" fill="#FFC0CB" stroke="none" stroke-width="0"/>
<rect x="408.1" y="352.08" width="5.6" height="0.44" fill="#7FFFD4" stroke="none" stroke-width="0"/>
<rect x="408.1" y="351.47" width="5.6" height="0.62" fill="#ADFF2F" stroke="none" stroke-width="0"/>
<rect x="408.1" y="350.94" width="5.6" height="0.53" fill="#00BFFF" stroke="none" stroke-width="0"/>
<rect x="408.1" y="317.5" width="5.6" height="33.44" fill="#9B30FF" stroke="none" stroke-width="0"/>
<text fill="#000" stroke="#000" stroke-width="0.12" transform="translate(197.3,334.9) rotate(-90)" font-size="8.1" text-anchor="middle">Proportion</text>
<line x1="227.4" y1="370.8" x2="227.4" y2="406.2" stroke="#555" stroke-width="0.8" />
<line x1="225.4" y1="406.2" x2="227.4" y2="406.2" stroke="#555" stroke-width="0.8" />
<line x1="225.4" y1="397.4" x2="227.4" y2="397.4" stroke="#555" stroke-width="0.8" />
<line x1="225.4" y1="388.6" x2="227.4" y2="388.6" stroke="#555" stroke-width="0.8" />
<line x1="225.4" y1="379.8" x2="227.4" y2="379.8" stroke="#555" stroke-width="0.8" />
<line x1="225.4" y1="371" x2="227.4" y2="371" stroke="#555" stroke-width="0.8" />
<text transform="translate(221.2,409.7) scale(0.93,1)" font-size="8.4" text-anchor="end" font-weight="normal" fill="#000"  stroke="#000" stroke-width="0.12">0</text>
<text transform="translate(221.2,400.9) scale(0.93,1)" font-size="8.4" text-anchor="end" font-weight="normal" fill="#000"  stroke="#000" stroke-width="0.12">0.25</text>
<text transform="translate(221.2,392.1) scale(0.93,1)" font-size="8.4" text-anchor="end" font-weight="normal" fill="#000"  stroke="#000" stroke-width="0.12">0.50</text>
<text transform="translate(221.2,383.3) scale(0.93,1)" font-size="8.4" text-anchor="end" font-weight="normal" fill="#000"  stroke="#000" stroke-width="0.12">0.75</text>
<text transform="translate(221.2,374.5) scale(0.93,1)" font-size="8.4" text-anchor="end" font-weight="normal" fill="#000"  stroke="#000" stroke-width="0.12">1.00</text>
<line x1="227.4" y1="406.2" x2="284.6" y2="406.2" stroke="#555" stroke-width="0.8" />
<text transform="translate(255.9,366.3) scale(0.93,1)" font-size="8.4" text-anchor="middle" font-weight="normal" fill="#000"  stroke="#000" stroke-width="0.12">EU-SHM</text>
<rect x="232.1" y="406.02" width="5.6" height="0.18" fill="#008000" stroke="none" stroke-width="0"/>
<rect x="232.1" y="405.85" width="5.6" height="0.18" fill="#7FFFD4" stroke="none" stroke-width="0"/>
<rect x="232.1" y="371" width="5.6" height="34.85" fill="#9B30FF" stroke="none" stroke-width="0"/>
<rect x="242.55" y="406.02" width="5.6" height="0.18" fill="#008000" stroke="none" stroke-width="0"/>
<rect x="242.55" y="405.85" width="5.6" height="0.18" fill="#7FFFD4" stroke="none" stroke-width="0"/>
<rect x="242.55" y="371" width="5.6" height="34.85" fill="#9B30FF" stroke="none" stroke-width="0"/>
<rect x="253" y="406.02" width="5.6" height="0.18" fill="#008000" stroke="none" stroke-width="0"/>
<rect x="253" y="405.85" width="5.6" height="0.18" fill="#7FFFD4" stroke="none" stroke-width="0"/>
<rect x="253" y="371" width="5.6" height="34.85" fill="#9B30FF" stroke="none" stroke-width="0"/>
<rect x="263.45" y="406.02" width="5.6" height="0.18" fill="#008000" stroke="none" stroke-width="0"/>
<rect x="263.45" y="405.85" width="5.6" height="0.18" fill="#7FFFD4" stroke="none" stroke-width="0"/>
<rect x="263.45" y="371" width="5.6" height="34.85" fill="#9B30FF" stroke="none" stroke-width="0"/>
<rect x="273.9" y="406.02" width="5.6" height="0.18" fill="#008000" stroke="none" stroke-width="0"/>
<rect x="273.9" y="405.85" width="5.6" height="0.18" fill="#7FFFD4" stroke="none" stroke-width="0"/>
<rect x="273.9" y="371" width="5.6" height="34.85" fill="#9B30FF" stroke="none" stroke-width="0"/>
<line x1="294.5" y1="370.8" x2="294.5" y2="406.2" stroke="#555" stroke-width="0.8" />
<line x1="292.5" y1="406.2" x2="294.5" y2="406.2" stroke="#555" stroke-width="0.8" />
<line x1="292.5" y1="397.4" x2="294.5" y2="397.4" stroke="#555" stroke-width="0.8" />
<line x1="292.5" y1="388.6" x2="294.5" y2="388.6" stroke="#555" stroke-width="0.8" />
<line x1="292.5" y1="379.8" x2="294.5" y2="379.8" stroke="#555" stroke-width="0.8" />
<line x1="292.5" y1="371" x2="294.5" y2="371" stroke="#555" stroke-width="0.8" />
<line x1="294.5" y1="406.2" x2="351.7" y2="406.2" stroke="#555" stroke-width="0.8" />
<text transform="translate(323,366.3) scale(0.93,1)" font-size="8.4" text-anchor="middle" font-weight="normal" fill="#000"  stroke="#000" stroke-width="0.12">ETH-MHS</text>
<rect x="299.2" y="406.02" width="5.6" height="0.18" fill="#008000" stroke="none" stroke-width="0"/>
<rect x="299.2" y="405.85" width="5.6" height="0.18" fill="#7FFFD4" stroke="none" stroke-width="0"/>
<rect x="299.2" y="371" width="5.6" height="34.85" fill="#9B30FF" stroke="none" stroke-width="0"/>
<rect x="309.65" y="406.02" width="5.6" height="0.18" fill="#008000" stroke="none" stroke-width="0"/>
<rect x="309.65" y="405.85" width="5.6" height="0.18" fill="#7FFFD4" stroke="none" stroke-width="0"/>
<rect x="309.65" y="371" width="5.6" height="34.85" fill="#9B30FF" stroke="none" stroke-width="0"/>
<rect x="320.1" y="406.02" width="5.6" height="0.18" fill="#008000" stroke="none" stroke-width="0"/>
<rect x="320.1" y="405.85" width="5.6" height="0.18" fill="#7FFFD4" stroke="none" stroke-width="0"/>
<rect x="320.1" y="371" width="5.6" height="34.85" fill="#9B30FF" stroke="none" stroke-width="0"/>
<rect x="330.55" y="406.02" width="5.6" height="0.18" fill="#FFC0CB" stroke="none" stroke-width="0"/>
<rect x="330.55" y="405.58" width="5.6" height="0.44" fill="#7FFFD4" stroke="none" stroke-width="0"/>
<rect x="330.55" y="404.97" width="5.6" height="0.62" fill="#ADFF2F" stroke="none" stroke-width="0"/>
<rect x="330.55" y="404.44" width="5.6" height="0.53" fill="#00BFFF" stroke="none" stroke-width="0"/>
<rect x="330.55" y="371" width="5.6" height="33.44" fill="#9B30FF" stroke="none" stroke-width="0"/>
<rect x="341" y="406.13" width="5.6" height="0.07" fill="#FFC0CB" stroke="none" stroke-width="0"/>
<rect x="341" y="405.95" width="5.6" height="0.18" fill="#7FFFD4" stroke="none" stroke-width="0"/>
<rect x="341" y="405.71" width="5.6" height="0.25" fill="#ADFF2F" stroke="none" stroke-width="0"/>
<rect x="341" y="405.5" width="5.6" height="0.21" fill="#00BFFF" stroke="none" stroke-width="0"/>
<rect x="341" y="371" width="5.6" height="34.5" fill="#9B30FF" stroke="none" stroke-width="0"/>
<line x1="361.6" y1="370.8" x2="361.6" y2="406.2" stroke="#555" stroke-width="0.8" />
<line x1="359.6" y1="406.2" x2="361.6" y2="406.2" stroke="#555" stroke-width="0.8" />
<line x1="359.6" y1="397.4" x2="361.6" y2="397.4" stroke="#555" stroke-width="0.8" />
<line x1="359.6" y1="388.6" x2="361.6" y2="388.6" stroke="#555" stroke-width="0.8" />
<line x1="359.6" y1="379.8" x2="361.6" y2="379.8" stroke="#555" stroke-width="0.8" />
<line x1="359.6" y1="371" x2="361.6" y2="371" stroke="#555" stroke-width="0.8" />
<line x1="361.6" y1="406.2" x2="418.8" y2="406.2" stroke="#555" stroke-width="0.8" />
<text transform="translate(390.1,366.3) scale(0.93,1)" font-size="8.4" text-anchor="middle" font-weight="normal" fill="#000"  stroke="#000" stroke-width="0.12">ETH-MNS</text>
<rect x="366.3" y="406.02" width="5.6" height="0.18" fill="#008000" stroke="none" stroke-width="0"/>
<rect x="366.3" y="405.85" width="5.6" height="0.18" fill="#7FFFD4" stroke="none" stroke-width="0"/>
<rect x="366.3" y="371" width="5.6" height="34.85" fill="#9B30FF" stroke="none" stroke-width="0"/>
<rect x="376.75" y="406.02" width="5.6" height="0.18" fill="#008000" stroke="none" stroke-width="0"/>
<rect x="376.75" y="405.85" width="5.6" height="0.18" fill="#7FFFD4" stroke="none" stroke-width="0"/>
<rect x="376.75" y="371" width="5.6" height="34.85" fill="#9B30FF" stroke="none" stroke-width="0"/>
<rect x="387.2" y="406.02" width="5.6" height="0.18" fill="#008000" stroke="none" stroke-width="0"/>
<rect x="387.2" y="405.85" width="5.6" height="0.18" fill="#7FFFD4" stroke="none" stroke-width="0"/>
<rect x="387.2" y="371" width="5.6" height="34.85" fill="#9B30FF" stroke="none" stroke-width="0"/>
<rect x="397.65" y="405.99" width="5.6" height="0.21" fill="#FFC0CB" stroke="none" stroke-width="0"/>
<rect x="397.65" y="405.46" width="5.6" height="0.53" fill="#7FFFD4" stroke="none" stroke-width="0"/>
<rect x="397.65" y="404.72" width="5.6" height="0.74" fill="#ADFF2F" stroke="none" stroke-width="0"/>
<rect x="397.65" y="404.09" width="5.6" height="0.63" fill="#00BFFF" stroke="none" stroke-width="0"/>
<rect x="397.65" y="371" width="5.6" height="33.09" fill="#9B30FF" stroke="none" stroke-width="0"/>
<rect x="408.1" y="406.09" width="5.6" height="0.11" fill="#FFC0CB" stroke="none" stroke-width="0"/>
<rect x="408.1" y="405.83" width="5.6" height="0.26" fill="#7FFFD4" stroke="none" stroke-width="0"/>
<rect x="408.1" y="405.46" width="5.6" height="0.37" fill="#ADFF2F" stroke="none" stroke-width="0"/>
<rect x="408.1" y="405.14" width="5.6" height="0.32" fill="#00BFFF" stroke="none" stroke-width="0"/>
<rect x="408.1" y="371" width="5.6" height="34.14" fill="#9B30FF" stroke="none" stroke-width="0"/>
<text fill="#000" stroke="#000" stroke-width="0.12" transform="translate(197.3,388.4) rotate(-90)" font-size="8.1" text-anchor="middle">Proportion</text>
<line x1="227.4" y1="424.3" x2="227.4" y2="459.7" stroke="#555" stroke-width="0.8" />
<line x1="225.4" y1="459.7" x2="227.4" y2="459.7" stroke="#555" stroke-width="0.8" />
<line x1="225.4" y1="450.9" x2="227.4" y2="450.9" stroke="#555" stroke-width="0.8" />
<line x1="225.4" y1="442.1" x2="227.4" y2="442.1" stroke="#555" stroke-width="0.8" />
<line x1="225.4" y1="433.3" x2="227.4" y2="433.3" stroke="#555" stroke-width="0.8" />
<line x1="225.4" y1="424.5" x2="227.4" y2="424.5" stroke="#555" stroke-width="0.8" />
<text transform="translate(221.2,463.2) scale(0.93,1)" font-size="8.4" text-anchor="end" font-weight="normal" fill="#000"  stroke="#000" stroke-width="0.12">0</text>
<text transform="translate(221.2,454.4) scale(0.93,1)" font-size="8.4" text-anchor="end" font-weight="normal" fill="#000"  stroke="#000" stroke-width="0.12">0.25</text>
<text transform="translate(221.2,445.6) scale(0.93,1)" font-size="8.4" text-anchor="end" font-weight="normal" fill="#000"  stroke="#000" stroke-width="0.12">0.50</text>
<text transform="translate(221.2,436.8) scale(0.93,1)" font-size="8.4" text-anchor="end" font-weight="normal" fill="#000"  stroke="#000" stroke-width="0.12">0.75</text>
<text transform="translate(221.2,428) scale(0.93,1)" font-size="8.4" text-anchor="end" font-weight="normal" fill="#000"  stroke="#000" stroke-width="0.12">1.00</text>
<line x1="227.4" y1="459.7" x2="284.6" y2="459.7" stroke="#555" stroke-width="0.8" />
<text transform="translate(255.9,419.8) scale(0.93,1)" font-size="8.4" text-anchor="middle" font-weight="normal" fill="#000"  stroke="#000" stroke-width="0.12">CA-SHS</text>
<rect x="232.1" y="459.59" width="5.6" height="0.11" fill="#FFC0CB" stroke="none" stroke-width="0"/>
<rect x="232.1" y="459.33" width="5.6" height="0.26" fill="#7FFFD4" stroke="none" stroke-width="0"/>
<rect x="232.1" y="458.96" width="5.6" height="0.37" fill="#ADFF2F" stroke="none" stroke-width="0"/>
<rect x="232.1" y="458.64" width="5.6" height="0.32" fill="#00BFFF" stroke="none" stroke-width="0"/>
<rect x="232.1" y="424.5" width="5.6" height="34.14" fill="#9B30FF" stroke="none" stroke-width="0"/>
<text fill="#000" stroke="#000" stroke-width="0.12" transform="translate(238.8,466.4) rotate(-45)" font-size="7.55" text-anchor="end">SL</text>
<rect x="242.55" y="459.63" width="5.6" height="0.07" fill="#FFC0CB" stroke="none" stroke-width="0"/>
<rect x="242.55" y="459.45" width="5.6" height="0.18" fill="#7FFFD4" stroke="none" stroke-width="0"/>
<rect x="242.55" y="459.21" width="5.6" height="0.25" fill="#ADFF2F" stroke="none" stroke-width="0"/>
<rect x="242.55" y="459" width="5.6" height="0.21" fill="#00BFFF" stroke="none" stroke-width="0"/>
<rect x="242.55" y="424.5" width="5.6" height="34.5" fill="#9B30FF" stroke="none" stroke-width="0"/>
<text fill="#000" stroke="#000" stroke-width="0.12" transform="translate(249.25,466.4) rotate(-45)" font-size="7.55" text-anchor="end">NL</text>
<rect x="253" y="459.59" width="5.6" height="0.11" fill="#FFC0CB" stroke="none" stroke-width="0"/>
<rect x="253" y="459.33" width="5.6" height="0.26" fill="#7FFFD4" stroke="none" stroke-width="0"/>
<rect x="253" y="458.96" width="5.6" height="0.37" fill="#ADFF2F" stroke="none" stroke-width="0"/>
<rect x="253" y="458.64" width="5.6" height="0.32" fill="#00BFFF" stroke="none" stroke-width="0"/>
<rect x="253" y="424.5" width="5.6" height="34.14" fill="#9B30FF" stroke="none" stroke-width="0"/>
<text fill="#000" stroke="#000" stroke-width="0.12" transform="translate(259.7,466.4) rotate(-45)" font-size="7.55" text-anchor="end">SD</text>
<rect x="263.45" y="459.59" width="5.6" height="0.11" fill="#FFC0CB" stroke="none" stroke-width="0"/>
<rect x="263.45" y="459.33" width="5.6" height="0.26" fill="#7FFFD4" stroke="none" stroke-width="0"/>
<rect x="263.45" y="458.96" width="5.6" height="0.37" fill="#ADFF2F" stroke="none" stroke-width="0"/>
<rect x="263.45" y="458.64" width="5.6" height="0.32" fill="#00BFFF" stroke="none" stroke-width="0"/>
<rect x="263.45" y="424.5" width="5.6" height="34.14" fill="#9B30FF" stroke="none" stroke-width="0"/>
<text fill="#000" stroke="#000" stroke-width="0.12" transform="translate(270.15,466.4) rotate(-45)" font-size="7.55" text-anchor="end">NM</text>
<rect x="273.9" y="459.35" width="5.6" height="0.35" fill="#FFC0CB" stroke="none" stroke-width="0"/>
<rect x="273.9" y="458.47" width="5.6" height="0.88" fill="#7FFFD4" stroke="none" stroke-width="0"/>
<rect x="273.9" y="457.24" width="5.6" height="1.23" fill="#ADFF2F" stroke="none" stroke-width="0"/>
<rect x="273.9" y="456.18" width="5.6" height="1.06" fill="#00BFFF" stroke="none" stroke-width="0"/>
<rect x="273.9" y="424.5" width="5.6" height="31.68" fill="#9B30FF" stroke="none" stroke-width="0"/>
<text fill="#000" stroke="#000" stroke-width="0.12" transform="translate(280.6,466.4) rotate(-45)" font-size="7.55" text-anchor="end">CA</text>
<line x1="294.5" y1="424.3" x2="294.5" y2="459.7" stroke="#555" stroke-width="0.8" />
<line x1="292.5" y1="459.7" x2="294.5" y2="459.7" stroke="#555" stroke-width="0.8" />
<line x1="292.5" y1="450.9" x2="294.5" y2="450.9" stroke="#555" stroke-width="0.8" />
<line x1="292.5" y1="442.1" x2="294.5" y2="442.1" stroke="#555" stroke-width="0.8" />
<line x1="292.5" y1="433.3" x2="294.5" y2="433.3" stroke="#555" stroke-width="0.8" />
<line x1="292.5" y1="424.5" x2="294.5" y2="424.5" stroke="#555" stroke-width="0.8" />
<line x1="294.5" y1="459.7" x2="351.7" y2="459.7" stroke="#555" stroke-width="0.8" />
<text transform="translate(323,419.8) scale(0.93,1)" font-size="8.4" text-anchor="middle" font-weight="normal" fill="#000"  stroke="#000" stroke-width="0.12">CA-SNS</text>
<rect x="299.2" y="459.52" width="5.6" height="0.18" fill="#008000" stroke="none" stroke-width="0"/>
<rect x="299.2" y="459.35" width="5.6" height="0.18" fill="#7FFFD4" stroke="none" stroke-width="0"/>
<rect x="299.2" y="424.5" width="5.6" height="34.85" fill="#9B30FF" stroke="none" stroke-width="0"/>
<text fill="#000" stroke="#000" stroke-width="0.12" transform="translate(305.9,466.4) rotate(-45)" font-size="7.55" text-anchor="end">SL</text>
<rect x="309.65" y="459.59" width="5.6" height="0.11" fill="#FFC0CB" stroke="none" stroke-width="0"/>
<rect x="309.65" y="459.33" width="5.6" height="0.26" fill="#7FFFD4" stroke="none" stroke-width="0"/>
<rect x="309.65" y="458.96" width="5.6" height="0.37" fill="#ADFF2F" stroke="none" stroke-width="0"/>
<rect x="309.65" y="458.64" width="5.6" height="0.32" fill="#00BFFF" stroke="none" stroke-width="0"/>
<rect x="309.65" y="424.5" width="5.6" height="34.14" fill="#9B30FF" stroke="none" stroke-width="0"/>
<text fill="#000" stroke="#000" stroke-width="0.12" transform="translate(316.35,466.4) rotate(-45)" font-size="7.55" text-anchor="end">NL</text>
<rect x="320.1" y="459.59" width="5.6" height="0.11" fill="#FFC0CB" stroke="none" stroke-width="0"/>
<rect x="320.1" y="459.33" width="5.6" height="0.26" fill="#7FFFD4" stroke="none" stroke-width="0"/>
<rect x="320.1" y="458.96" width="5.6" height="0.37" fill="#ADFF2F" stroke="none" stroke-width="0"/>
<rect x="320.1" y="458.64" width="5.6" height="0.32" fill="#00BFFF" stroke="none" stroke-width="0"/>
<rect x="320.1" y="424.5" width="5.6" height="34.14" fill="#9B30FF" stroke="none" stroke-width="0"/>
<text fill="#000" stroke="#000" stroke-width="0.12" transform="translate(326.8,466.4) rotate(-45)" font-size="7.55" text-anchor="end">SD</text>
<rect x="330.55" y="459.52" width="5.6" height="0.18" fill="#FFC0CB" stroke="none" stroke-width="0"/>
<rect x="330.55" y="459.08" width="5.6" height="0.44" fill="#7FFFD4" stroke="none" stroke-width="0"/>
<rect x="330.55" y="458.47" width="5.6" height="0.62" fill="#ADFF2F" stroke="none" stroke-width="0"/>
<rect x="330.55" y="457.94" width="5.6" height="0.53" fill="#00BFFF" stroke="none" stroke-width="0"/>
<rect x="330.55" y="424.5" width="5.6" height="33.44" fill="#9B30FF" stroke="none" stroke-width="0"/>
<text fill="#000" stroke="#000" stroke-width="0.12" transform="translate(337.25,466.4) rotate(-45)" font-size="7.55" text-anchor="end">NM</text>
<rect x="341" y="459.56" width="5.6" height="0.14" fill="#FFC0CB" stroke="none" stroke-width="0"/>
<rect x="341" y="459.21" width="5.6" height="0.35" fill="#7FFFD4" stroke="none" stroke-width="0"/>
<rect x="341" y="458.71" width="5.6" height="0.49" fill="#ADFF2F" stroke="none" stroke-width="0"/>
<rect x="341" y="458.29" width="5.6" height="0.42" fill="#00BFFF" stroke="none" stroke-width="0"/>
<rect x="341" y="424.5" width="5.6" height="33.79" fill="#9B30FF" stroke="none" stroke-width="0"/>
<text fill="#000" stroke="#000" stroke-width="0.12" transform="translate(347.7,466.4) rotate(-45)" font-size="7.55" text-anchor="end">CA</text>
<line x1="361.6" y1="424.3" x2="361.6" y2="459.7" stroke="#555" stroke-width="0.8" />
<line x1="359.6" y1="459.7" x2="361.6" y2="459.7" stroke="#555" stroke-width="0.8" />
<line x1="359.6" y1="450.9" x2="361.6" y2="450.9" stroke="#555" stroke-width="0.8" />
<line x1="359.6" y1="442.1" x2="361.6" y2="442.1" stroke="#555" stroke-width="0.8" />
<line x1="359.6" y1="433.3" x2="361.6" y2="433.3" stroke="#555" stroke-width="0.8" />
<line x1="359.6" y1="424.5" x2="361.6" y2="424.5" stroke="#555" stroke-width="0.8" />
<line x1="361.6" y1="459.7" x2="418.8" y2="459.7" stroke="#555" stroke-width="0.8" />
<text transform="translate(390.1,419.8) scale(0.93,1)" font-size="8.4" text-anchor="middle" font-weight="normal" fill="#000"  stroke="#000" stroke-width="0.12">EA-SHM</text>
<rect x="366.3" y="459.52" width="5.6" height="0.18" fill="#008000" stroke="none" stroke-width="0"/>
<rect x="366.3" y="459.35" width="5.6" height="0.18" fill="#7FFFD4" stroke="none" stroke-width="0"/>
<rect x="366.3" y="424.5" width="5.6" height="34.85" fill="#9B30FF" stroke="none" stroke-width="0"/>
<text fill="#000" stroke="#000" stroke-width="0.12" transform="translate(373,466.4) rotate(-45)" font-size="7.55" text-anchor="end">SL</text>
<rect x="376.75" y="459.52" width="5.6" height="0.18" fill="#008000" stroke="none" stroke-width="0"/>
<rect x="376.75" y="459.35" width="5.6" height="0.18" fill="#7FFFD4" stroke="none" stroke-width="0"/>
<rect x="376.75" y="424.5" width="5.6" height="34.85" fill="#9B30FF" stroke="none" stroke-width="0"/>
<text fill="#000" stroke="#000" stroke-width="0.12" transform="translate(383.45,466.4) rotate(-45)" font-size="7.55" text-anchor="end">NL</text>
<rect x="387.2" y="459.52" width="5.6" height="0.18" fill="#008000" stroke="none" stroke-width="0"/>
<rect x="387.2" y="459.35" width="5.6" height="0.18" fill="#7FFFD4" stroke="none" stroke-width="0"/>
<rect x="387.2" y="424.5" width="5.6" height="34.85" fill="#9B30FF" stroke="none" stroke-width="0"/>
<text fill="#000" stroke="#000" stroke-width="0.12" transform="translate(393.9,466.4) rotate(-45)" font-size="7.55" text-anchor="end">SD</text>
<rect x="397.65" y="459.59" width="5.6" height="0.11" fill="#FFC0CB" stroke="none" stroke-width="0"/>
<rect x="397.65" y="459.33" width="5.6" height="0.26" fill="#7FFFD4" stroke="none" stroke-width="0"/>
<rect x="397.65" y="458.96" width="5.6" height="0.37" fill="#ADFF2F" stroke="none" stroke-width="0"/>
<rect x="397.65" y="458.64" width="5.6" height="0.32" fill="#00BFFF" stroke="none" stroke-width="0"/>
<rect x="397.65" y="424.5" width="5.6" height="34.14" fill="#9B30FF" stroke="none" stroke-width="0"/>
<text fill="#000" stroke="#000" stroke-width="0.12" transform="translate(404.35,466.4) rotate(-45)" font-size="7.55" text-anchor="end">NM</text>
<rect x="408.1" y="459.28" width="5.6" height="0.42" fill="#FFC0CB" stroke="none" stroke-width="0"/>
<rect x="408.1" y="458.22" width="5.6" height="1.06" fill="#7FFFD4" stroke="none" stroke-width="0"/>
<rect x="408.1" y="456.74" width="5.6" height="1.48" fill="#ADFF2F" stroke="none" stroke-width="0"/>
<rect x="408.1" y="455.48" width="5.6" height="1.27" fill="#00BFFF" stroke="none" stroke-width="0"/>
<rect x="408.1" y="424.5" width="5.6" height="30.98" fill="#9B30FF" stroke="none" stroke-width="0"/>
<text fill="#000" stroke="#000" stroke-width="0.12" transform="translate(414.8,466.4) rotate(-45)" font-size="7.55" text-anchor="end">CA</text>
<text fill="#000" stroke="#000" stroke-width="0.12" transform="translate(197.3,441.9) rotate(-90)" font-size="8.1" text-anchor="middle">Proportion</text>
<path d="M472.75 349.25h.9v.9h-.9zM476.75 347.5h.9v.9h-.9zM474.75 343.75h.9v.9h-.9zM471 350.5h.9v.9h-.9zM473.5 343.5h.9v.9h-.9zM470 348.5h.9v.9h-.9zM469.75 347.75h.9v.9h-.9zM470.75 346.75h.9v.9h-.9zM469.5 348.75h.9v.9h-.9zM476.5 350h.9v.9h-.9zM470 347.75h.9v.9h-.9zM470 350h.9v.9h-.9zM476.25 345.75h.9v.9h-.9zM477 347.25h.9v.9h-.9zM472.25 353h.9v.9h-.9zM476 346.5h.9v.9h-.9zM470.25 349.25h.9v.9h-.9zM471.75 346h.9v.9h-.9zM470.5 348.5h.9v.9h-.9zM469 344.25h.9v.9h-.9zM473.5 347.5h.9v.9h-.9zM471.5 347h.9v.9h-.9zM474.25 347.75h.9v.9h-.9zM477.25 347h.9v.9h-.9zM475.5 346h.9v.9h-.9zM471 347.25h.9v.9h-.9zM469 346.75h.9v.9h-.9zM469.75 348.5h.9v.9h-.9zM472.5 344h.9v.9h-.9zM471 349h.9v.9h-.9zM470 344.75h.9v.9h-.9zM474.75 348.25h.9v.9h-.9zM469.5 344.25h.9v.9h-.9zM472.5 346h.9v.9h-.9zM469.25 344.5h.9v.9h-.9zM475.75 348h.9v.9h-.9zM469.5 346.5h.9v.9h-.9zM476.25 347.75h.9v.9h-.9zM472.75 348.5h.9v.9h-.9zM476.75 345h.9v.9h-.9zM471 345.25h.9v.9h-.9zM470.75 345.25h.9v.9h-.9zM469.75 346.75h.9v.9h-.9zM470.5 346.5h.9v.9h-.9zM471.5 348.25h.9v.9h-.9zM471.25 344h.9v.9h-.9zM473 346.25h.9v.9h-.9zM469 345.5h.9v.9h-.9zM471 343.75h.9v.9h-.9zM473.5 346.75h.9v.9h-.9zM470.5 351.75h.9v.9h-.9zM469.75 346.25h.9v.9h-.9zM475.75 349.25h.9v.9h-.9zM476 346h.9v.9h-.9zM472.25 350h.9v.9h-.9zM477.25 347.25h.9v.9h-.9zM471.75 345.5h.9v.9h-.9zM474.25 349.75h.9v.9h-.9zM472.25 347.5h.9v.9h-.9zM469.75 346.5h.9v.9h-.9zM469.25 347.25h.9v.9h-.9zM470.25 348.5h.9v.9h-.9zM469.5 344.75h.9v.9h-.9zM474.5 350.5h.9v.9h-.9zM471.25 347h.9v.9h-.9zM472.75 345.5h.9v.9h-.9zM470 348.5h.9v.9h-.9zM477 346.5h.9v.9h-.9zM477.25 348.5h.9v.9h-.9zM477 347.5h.9v.9h-.9zM471.5 347h.9v.9h-.9zM472 347h.9v.9h-.9zM472.75 348.5h.9v.9h-.9zM473 347h.9v.9h-.9zM468.75 347.25h.9v.9h-.9zM472.25 346.25h.9v.9h-.9zM469 345.25h.9v.9h-.9zM470.75 346.75h.9v.9h-.9zM473.75 350.25h.9v.9h-.9zM474.5 347.75h.9v.9h-.9zM475 345.5h.9v.9h-.9zM471.5 348.5h.9v.9h-.9zM477.25 345.25h.9v.9h-.9zM474.25 344.5h.9v.9h-.9zM469.25 345h.9v.9h-.9zM474.25 350.75h.9v.9h-.9zM475 346.75h.9v.9h-.9zM473.25 348h.9v.9h-.9zM473 345.25h.9v.9h-.9zM476 350.25h.9v.9h-.9zM473.75 344.75h.9v.9h-.9zM474.75 349h.9v.9h-.9zM470.75 346h.9v.9h-.9zM471.75 346.75h.9v.9h-.9zM469.75 345.75h.9v.9h-.9zM474.25 349.25h.9v.9h-.9zM474.25 348h.9v.9h-.9zM468.75 349.25h.9v.9h-.9zM475.75 347h.9v.9h-.9zM473.25 349.5h.9v.9h-.9zM474.5 344h.9v.9h-.9zM471 345.75h.9v.9h-.9zM469.5 347.25h.9v.9h-.9zM470.5 343.75h.9v.9h-.9zM475.25 344.75h.9v.9h-.9zM472 347.5h.9v.9h-.9zM473 348.5h.9v.9h-.9zM474 350.25h.9v.9h-.9zM474.25 346h.9v.9h-.9zM471 346.5h.9v.9h-.9zM475.25 348h.9v.9h-.9zM468.75 344.5h.9v.9h-.9zM469.25 347.5h.9v.9h-.9zM474.75 344h.9v.9h-.9zM474.5 347.75h.9v.9h-.9zM472.75 344.75h.9v.9h-.9zM472.75 344h.9v.9h-.9zM470.5 344.25h.9v.9h-.9zM477.25 346.75h.9v.9h-.9zM472.75 347.25h.9v.9h-.9zM475.75 345h.9v.9h-.9zM471 347.5h.9v.9h-.9zM470.5 345.75h.9v.9h-.9zM473.75 347.5h.9v.9h-.9zM470 352h.9v.9h-.9zM470 347.75h.9v.9h-.9zM475.75 351.25h.9v.9h-.9zM474.75 347.25h.9v.9h-.9zM470.75 345.25h.9v.9h-.9zM469 348.5h.9v.9h-.9zM468.75 349.25h.9v.9h-.9zM471.25 347h.9v.9h-.9zM470 348h.9v.9h-.9zM476 345.5h.9v.9h-.9zM468.75 347h.9v.9h-.9zM469.75 350.75h.9v.9h-.9zM476.75 348h.9v.9h-.9zM471.25 351.25h.9v.9h-.9zM472 352.75h.9v.9h-.9zM473.75 342.5h.9v.9h-.9zM471.75 348.5h.9v.9h-.9zM469.25 346.25h.9v.9h-.9zM469.75 346.25h.9v.9h-.9zM476.75 348.5h.9v.9h-.9zM471 347.25h.9v.9h-.9zM470.5 344.75h.9v.9h-.9zM472 343h.9v.9h-.9zM475.75 348.25h.9v.9h-.9zM474.25 343h.9v.9h-.9zM473.5 349.5h.9v.9h-.9zM475 344h.9v.9h-.9zM472.75 346h.9v.9h-.9zM475.25 348h.9v.9h-.9zM469.25 348.25h.9v.9h-.9zM476.75 345.5h.9v.9h-.9zM471.75 345.5h.9v.9h-.9zM471.25 347.5h.9v.9h-.9zM471 352.5h.9v.9h-.9zM474.5 347.75h.9v.9h-.9zM472.25 344.75h.9v.9h-.9zM470.25 346.25h.9v.9h-.9zM476.5 346h.9v.9h-.9zM473 346.25h.9v.9h-.9zM477.25 342.75h.9v.9h-.9zM472.75 346.25h.9v.9h-.9zM469.5 346h.9v.9h-.9zM471.75 345.75h.9v.9h-.9zM471 346.25h.9v.9h-.9zM473.75 344.5h.9v.9h-.9zM472.25 349.25h.9v.9h-.9zM486.5 349h.9v.9h-.9zM485 347.25h.9v.9h-.9zM479.75 348h.9v.9h-.9zM481 342h.9v.9h-.9zM488 349.75h.9v.9h-.9zM482.5 350h.9v.9h-.9zM483.75 347h.9v.9h-.9zM487 345h.9v.9h-.9zM496.75 344.75h.9v.9h-.9zM479 350.25h.9v.9h-.9zM479.25 348h.9v.9h-.9zM487.5 351.25h.9v.9h-.9zM489.75 345h.9v.9h-.9zM496 347h.9v.9h-.9zM494.25 343.75h.9v.9h-.9zM483.25 351.25h.9v.9h-.9zM480.5 345.75h.9v.9h-.9zM491.5 345h.9v.9h-.9zM496.5 347.5h.9v.9h-.9zM493 350h.9v.9h-.9zM487.25 347.5h.9v.9h-.9zM493.25 347.25h.9v.9h-.9zM483 344.5h.9v.9h-.9zM484.25 348.5h.9v.9h-.9zM481 347h.9v.9h-.9zM491.75 344.25h.9v.9h-.9zM480.75 344.75h.9v.9h-.9zM489.5 346h.9v.9h-.9zM486 346.5h.9v.9h-.9zM478.75 344.5h.9v.9h-.9zM484.25 352h.9v.9h-.9zM490.75 345.75h.9v.9h-.9zM495.25 348.5h.9v.9h-.9zM483.25 346.75h.9v.9h-.9zM496.75 347.5h.9v.9h-.9zM479 348.75h.9v.9h-.9zM488 348h.9v.9h-.9zM483.5 349h.9v.9h-.9zM491.25 345.75h.9v.9h-.9zM479.25 347.75h.9v.9h-.9zM485 349.75h.9v.9h-.9zM482.25 345.5h.9v.9h-.9zM493.75 347.25h.9v.9h-.9zM482.5 349.5h.9v.9h-.9zM497 348.5h.9v.9h-.9zM483 343.75h.9v.9h-.9zM482.75 347h.9v.9h-.9zM496.5 348.75h.9v.9h-.9zM488 346.5h.9v.9h-.9zM486.5 345.75h.9v.9h-.9zM491.25 346h.9v.9h-.9zM486 347.5h.9v.9h-.9zM482.5 346h.9v.9h-.9zM479.5 347.25h.9v.9h-.9zM479.75 350.5h.9v.9h-.9zM495.25 344.5h.9v.9h-.9zM492.5 342.5h.9v.9h-.9zM484.75 347h.9v.9h-.9zM482 344h.9v.9h-.9zM479.25 348.25h.9v.9h-.9zM491.25 348.5h.9v.9h-.9zM484.75 345.75h.9v.9h-.9zM481.75 345.5h.9v.9h-.9zM485.25 347h.9v.9h-.9zM496.75 343.5h.9v.9h-.9zM482.5 343.5h.9v.9h-.9zM485.25 345.5h.9v.9h-.9zM486.75 350.5h.9v.9h-.9zM479.5 349h.9v.9h-.9zM496 346.75h.9v.9h-.9zM482.25 349.75h.9v.9h-.9zM479 343.75h.9v.9h-.9zM486.25 345.75h.9v.9h-.9zM479.25 350.25h.9v.9h-.9zM479.25 343h.9v.9h-.9zM483.5 345.25h.9v.9h-.9zM492.75 345.5h.9v.9h-.9zM483.75 348.25h.9v.9h-.9zM496.75 348.25h.9v.9h-.9zM492 348h.9v.9h-.9zM484.5 347h.9v.9h-.9zM492.75 347h.9v.9h-.9zM496 350.25h.9v.9h-.9zM479 350.5h.9v.9h-.9zM483 352h.9v.9h-.9zM496.75 346.25h.9v.9h-.9zM485.75 347h.9v.9h-.9zM488 345h.9v.9h-.9zM496.25 345.5h.9v.9h-.9zM492.5 343.75h.9v.9h-.9zM494.25 346.75h.9v.9h-.9zM484.75 349.75h.9v.9h-.9zM484.5 349.25h.9v.9h-.9zM480 344.5h.9v.9h-.9zM482.25 347h.9v.9h-.9zM479.75 348.5h.9v.9h-.9zM479.25 348.75h.9v.9h-.9zM497.25 347.5h.9v.9h-.9zM495.25 345.5h.9v.9h-.9zM480 347.25h.9v.9h-.9zM480.25 350.25h.9v.9h-.9zM487 347h.9v.9h-.9zM483 349.5h.9v.9h-.9zM491.25 345.75h.9v.9h-.9zM492.75 345.25h.9v.9h-.9zM480.75 349.5h.9v.9h-.9zM494.5 347.75h.9v.9h-.9zM485.5 344.5h.9v.9h-.9zM492.5 346.5h.9v.9h-.9zM483.25 345.5h.9v.9h-.9zM481.5 345h.9v.9h-.9zM484.75 348.75h.9v.9h-.9zM486 344.75h.9v.9h-.9zM483 347.25h.9v.9h-.9zM493.75 350.5h.9v.9h-.9zM480.5 352h.9v.9h-.9zM487.5 345.5h.9v.9h-.9zM496 350.5h.9v.9h-.9zM479.25 347.25h.9v.9h-.9zM482 346h.9v.9h-.9zM497 351h.9v.9h-.9zM485.5 349.25h.9v.9h-.9zM495 348.5h.9v.9h-.9zM493.25 346.5h.9v.9h-.9zM496.5 345h.9v.9h-.9zM490.25 345.5h.9v.9h-.9zM482.75 347.75h.9v.9h-.9zM482.5 346.25h.9v.9h-.9zM483.25 349.5h.9v.9h-.9zM482.5 348.75h.9v.9h-.9zM478.75 348.5h.9v.9h-.9zM482 344.5h.9v.9h-.9zM484.5 346h.9v.9h-.9zM489 343.75h.9v.9h-.9zM479.75 345.5h.9v.9h-.9zM489 345.75h.9v.9h-.9zM490.75 346h.9v.9h-.9zM491.75 346.5h.9v.9h-.9zM486.25 347.5h.9v.9h-.9zM496.5 345.25h.9v.9h-.9zM484.5 348.75h.9v.9h-.9zM486.5 347.75h.9v.9h-.9zM495 345.25h.9v.9h-.9zM482.25 347h.9v.9h-.9zM492.25 347h.9v.9h-.9zM495.75 346.75h.9v.9h-.9zM486.5 346.25h.9v.9h-.9zM495.25 349h.9v.9h-.9zM487.25 346.75h.9v.9h-.9zM489 346.75h.9v.9h-.9zM490.75 346.25h.9v.9h-.9zM490.25 347.5h.9v.9h-.9zM485.5 348.25h.9v.9h-.9zM484 347h.9v.9h-.9zM488.5 346.25h.9v.9h-.9zM487.75 347.5h.9v.9h-.9zM493.75 345.75h.9v.9h-.9zM481 347.25h.9v.9h-.9zM496.5 344.75h.9v.9h-.9zM479.5 347.5h.9v.9h-.9zM496 350.25h.9v.9h-.9zM490.25 344.25h.9v.9h-.9zM494.25 345.25h.9v.9h-.9zM482.75 344h.9v.9h-.9zM486.25 345h.9v.9h-.9zM482 350.25h.9v.9h-.9zM482.75 349h.9v.9h-.9zM485.75 345.75h.9v.9h-.9zM480.75 347h.9v.9h-.9zM495.5 343.75h.9v.9h-.9zM479.25 350.25h.9v.9h-.9zM479.25 348.25h.9v.9h-.9zM494.5 345h.9v.9h-.9zM489 345.25h.9v.9h-.9zM490.5 347.75h.9v.9h-.9zM489.5 345h.9v.9h-.9zM486.5 348.25h.9v.9h-.9zM486.75 348.75h.9v.9h-.9zM479 348.75h.9v.9h-.9zM483 348.5h.9v.9h-.9zM493 346.75h.9v.9h-.9zM482 349.25h.9v.9h-.9zM487.5 346.25h.9v.9h-.9zM486.75 346.5h.9v.9h-.9zM480.25 349.25h.9v.9h-.9zM479.25 346.25h.9v.9h-.9zM490.5 344.25h.9v.9h-.9zM493.25 345.5h.9v.9h-.9zM488.25 344.75h.9v.9h-.9zM485.75 346.25h.9v.9h-.9zM496.5 344.5h.9v.9h-.9zM497.5 344h.9v.9h-.9zM492.5 346.5h.9v.9h-.9zM497.25 348.25h.9v.9h-.9zM487.75 342.75h.9v.9h-.9zM481.75 348.25h.9v.9h-.9zM493.5 346.5h.9v.9h-.9zM485.25 347.25h.9v.9h-.9zM492.75 344.75h.9v.9h-.9zM483.75 343.5h.9v.9h-.9zM494 345.5h.9v.9h-.9zM496 345.25h.9v.9h-.9zM482.5 347.25h.9v.9h-.9zM484.5 344.75h.9v.9h-.9zM479.25 346.5h.9v.9h-.9zM496.25 346h.9v.9h-.9zM491.5 346h.9v.9h-.9zM493.5 347.75h.9v.9h-.9zM480.75 349.75h.9v.9h-.9zM485.25 347.5h.9v.9h-.9zM495 349.5h.9v.9h-.9zM495.25 348h.9v.9h-.9zM480.5 344.25h.9v.9h-.9zM486 347.25h.9v.9h-.9zM493.75 347.5h.9v.9h-.9zM489.5 341h.9v.9h-.9zM485.25 346.75h.9v.9h-.9zM482 349.25h.9v.9h-.9zM492.75 343.5h.9v.9h-.9zM483.25 346h.9v.9h-.9zM490.75 344.5h.9v.9h-.9zM491 347.25h.9v.9h-.9zM484.5 346.5h.9v.9h-.9zM481.25 347h.9v.9h-.9zM490.25 349.25h.9v.9h-.9zM495.5 346h.9v.9h-.9zM481 346.75h.9v.9h-.9zM479 344.25h.9v.9h-.9zM478.5 347.75h.9v.9h-.9zM485.25 346.25h.9v.9h-.9zM482.75 349.25h.9v.9h-.9zM482.5 348.5h.9v.9h-.9zM490.25 348h.9v.9h-.9zM496.25 347h.9v.9h-.9zM483.25 346.5h.9v.9h-.9zM490.75 346.25h.9v.9h-.9zM495 346.75h.9v.9h-.9zM483.5 349h.9v.9h-.9zM478.75 348.5h.9v.9h-.9zM485.25 349h.9v.9h-.9zM490.75 351.5h.9v.9h-.9zM492.5 345.5h.9v.9h-.9zM483.25 346.5h.9v.9h-.9zM488.5 347.5h.9v.9h-.9zM486.25 347h.9v.9h-.9zM493.25 346.25h.9v.9h-.9zM478.75 351.5h.9v.9h-.9zM481.25 348.5h.9v.9h-.9zM482.25 349h.9v.9h-.9zM490.75 348.5h.9v.9h-.9zM494 346.25h.9v.9h-.9zM484.25 345.5h.9v.9h-.9zM479.5 344.25h.9v.9h-.9zM492 349.25h.9v.9h-.9zM478.75 345.25h.9v.9h-.9zM487.25 349.75h.9v.9h-.9zM492.5 348.5h.9v.9h-.9zM480.5 346.75h.9v.9h-.9zM483 345.25h.9v.9h-.9zM492.75 346.5h.9v.9h-.9zM491.75 345.25h.9v.9h-.9zM483.5 349.75h.9v.9h-.9zM489 350.25h.9v.9h-.9zM488.5 345.75h.9v.9h-.9zM483.5 350.25h.9v.9h-.9zM482.75 351h.9v.9h-.9zM495.25 345.5h.9v.9h-.9zM483 347h.9v.9h-.9zM492.75 344h.9v.9h-.9zM484.75 348.25h.9v.9h-.9zM495.25 347.75h.9v.9h-.9zM495.75 345.75h.9v.9h-.9zM490.5 348h.9v.9h-.9zM497 349.75h.9v.9h-.9zM487.5 345.5h.9v.9h-.9zM494.75 349.75h.9v.9h-.9zM486.75 347.5h.9v.9h-.9zM484.25 349.5h.9v.9h-.9zM482.5 347.75h.9v.9h-.9zM495.75 347.5h.9v.9h-.9zM481.25 346h.9v.9h-.9zM496.25 347h.9v.9h-.9zM485 346.75h.9v.9h-.9zM479.25 346.75h.9v.9h-.9zM491.75 349h.9v.9h-.9zM492.5 349.25h.9v.9h-.9zM479.75 348.75h.9v.9h-.9zM494 348h.9v.9h-.9zM494 346.5h.9v.9h-.9zM495 347.5h.9v.9h-.9zM496 346.25h.9v.9h-.9zM482.5 347.25h.9v.9h-.9zM480.75 343.25h.9v.9h-.9zM494 346.25h.9v.9h-.9zM490.5 345.75h.9v.9h-.9zM484 349.5h.9v.9h-.9zM480.5 344.25h.9v.9h-.9zM482.5 345h.9v.9h-.9zM484.5 347.5h.9v.9h-.9zM483.5 346.75h.9v.9h-.9zM484 347.5h.9v.9h-.9zM484.5 349h.9v.9h-.9zM496.75 351h.9v.9h-.9zM490.25 347.25h.9v.9h-.9zM479 348.75h.9v.9h-.9zM493.25 346h.9v.9h-.9zM485 347.75h.9v.9h-.9zM482.75 349.5h.9v.9h-.9zM495 344h.9v.9h-.9zM481.75 345h.9v.9h-.9zM478.5 346h.9v.9h-.9zM497 343.75h.9v.9h-.9zM478.5 349.25h.9v.9h-.9zM493.75 347h.9v.9h-.9zM482 349h.9v.9h-.9zM494.25 347h.9v.9h-.9zM483.5 345.5h.9v.9h-.9zM482.5 347.5h.9v.9h-.9zM491.75 348h.9v.9h-.9zM490.5 347h.9v.9h-.9zM480 346.25h.9v.9h-.9zM493.5 350h.9v.9h-.9zM490.5 348.25h.9v.9h-.9zM486 345.5h.9v.9h-.9zM495.5 343.5h.9v.9h-.9zM479 345h.9v.9h-.9zM482.5 347.5h.9v.9h-.9zM488 342.75h.9v.9h-.9zM485.75 346h.9v.9h-.9zM487.25 348h.9v.9h-.9zM488.5 347h.9v.9h-.9zM490.75 350.5h.9v.9h-.9zM485.25 347.5h.9v.9h-.9zM494.5 346h.9v.9h-.9zM491 347h.9v.9h-.9zM486.75 348.25h.9v.9h-.9zM493.25 348h.9v.9h-.9zM487.25 347.5h.9v.9h-.9zM495.25 347h.9v.9h-.9zM484.25 345.75h.9v.9h-.9zM491.75 346.5h.9v.9h-.9zM481.5 348h.9v.9h-.9zM483.25 348.25h.9v.9h-.9zM481.5 345h.9v.9h-.9zM484.75 345h.9v.9h-.9zM492.25 342h.9v.9h-.9zM480.5 346.25h.9v.9h-.9zM485.75 347.25h.9v.9h-.9zM497.25 346.25h.9v.9h-.9zM486.75 350.25h.9v.9h-.9zM482.25 347.75h.9v.9h-.9zM482.5 347.75h.9v.9h-.9zM486 345h.9v.9h-.9zM493.5 346.5h.9v.9h-.9zM491.75 349.75h.9v.9h-.9zM487.25 347h.9v.9h-.9zM481.25 348.75h.9v.9h-.9zM492.5 348.25h.9v.9h-.9zM495.75 349.5h.9v.9h-.9zM492.75 346h.9v.9h-.9zM486.5 346.5h.9v.9h-.9zM495.25 344h.9v.9h-.9zM493.25 348.25h.9v.9h-.9zM491.5 350.75h.9v.9h-.9zM490.75 348.75h.9v.9h-.9zM490.5 346.5h.9v.9h-.9zM480.5 350h.9v.9h-.9zM492 345.25h.9v.9h-.9zM490.5 347h.9v.9h-.9zM487.25 345h.9v.9h-.9zM490.25 349.5h.9v.9h-.9zM496.25 345.5h.9v.9h-.9zM482 349h.9v.9h-.9zM486 350h.9v.9h-.9zM487.75 346.5h.9v.9h-.9zM488.75 347.25h.9v.9h-.9zM481.5 346h.9v.9h-.9zM488.5 351.75h.9v.9h-.9zM480.5 349.25h.9v.9h-.9zM492.25 348.25h.9v.9h-.9zM483.5 353.25h.9v.9h-.9zM492.5 354.25h.9v.9h-.9zM480.5 350.5h.9v.9h-.9zM474.75 353h.9v.9h-.9zM480 352.25h.9v.9h-.9zM472.25 350.25h.9v.9h-.9zM479 358.5h.9v.9h-.9zM476.75 355.5h.9v.9h-.9zM469.25 355.25h.9v.9h-.9zM480.75 352.75h.9v.9h-.9zM478.75 356.5h.9v.9h-.9zM475.25 352.5h.9v.9h-.9zM495.75 354.25h.9v.9h-.9zM475 352h.9v.9h-.9zM480 357h.9v.9h-.9zM472.5 352h.9v.9h-.9zM492 353.25h.9v.9h-.9zM482.25 354h.9v.9h-.9zM475.25 350.5h.9v.9h-.9zM479 353.25h.9v.9h-.9zM492.25 351.75h.9v.9h-.9zM482.25 356.25h.9v.9h-.9zM484.5 357.75h.9v.9h-.9zM492.75 355.75h.9v.9h-.9zM493.25 356.5h.9v.9h-.9zM479.5 356.75h.9v.9h-.9zM481 357.25h.9v.9h-.9zM468.75 352.5h.9v.9h-.9zM476.75 356.75h.9v.9h-.9zM477.5 354.75h.9v.9h-.9zM481 353.25h.9v.9h-.9zM487.75 355.75h.9v.9h-.9zM495.5 351.5h.9v.9h-.9zM470.5 351.75h.9v.9h-.9zM494.75 352h.9v.9h-.9zM472.75 351.75h.9v.9h-.9zM487 358.75h.9v.9h-.9zM469 350.5h.9v.9h-.9zM487.5 356.75h.9v.9h-.9zM471.75 357.75h.9v.9h-.9zM497.75 353h.9v.9h-.9zM498 357.75h.9v.9h-.9zM498.5 353h.9v.9h-.9zM497.75 352.25h.9v.9h-.9zM498.25 353h.9v.9h-.9zM498.25 352.25h.9v.9h-.9zM509.25 368.75h.9v.9h-.9zM501.5 372.75h.9v.9h-.9zM505.75 371.5h.9v.9h-.9zM504.5 367.5h.9v.9h-.9zM506 381.5h.9v.9h-.9zM502 383h.9v.9h-.9zM505.25 383.75h.9v.9h-.9zM505 383h.9v.9h-.9zM505.25 377.25h.9v.9h-.9zM506 368h.9v.9h-.9zM499 368.75h.9v.9h-.9zM505 376h.9v.9h-.9zM507.5 368.75h.9v.9h-.9zM503.75 379h.9v.9h-.9zM511.25 383.5h.9v.9h-.9zM507.25 374.25h.9v.9h-.9zM499.25 374.75h.9v.9h-.9zM507.75 366h.9v.9h-.9zM503.25 364.5h.9v.9h-.9zM505.5 377.5h.9v.9h-.9zM510.5 383.75h.9v.9h-.9zM508.25 374.5h.9v.9h-.9zM503.25 368h.9v.9h-.9zM503.75 377.75h.9v.9h-.9zM505.75 370.75h.9v.9h-.9zM501.75 378.5h.9v.9h-.9zM504.5 376h.9v.9h-.9zM509.75 381h.9v.9h-.9zM509.75 379.25h.9v.9h-.9zM505.5 381.25h.9v.9h-.9zM505.5 364.75h.9v.9h-.9zM507.5 370h.9v.9h-.9zM503.25 380.75h.9v.9h-.9zM502.75 375.25h.9v.9h-.9zM507.25 370.25h.9v.9h-.9zM499.5 372h.9v.9h-.9zM510.5 376.25h.9v.9h-.9zM499.5 381h.9v.9h-.9zM499 382.5h.9v.9h-.9zM510.75 374.75h.9v.9h-.9zM507.5 370.25h.9v.9h-.9zM510.75 374.75h.9v.9h-.9zM507 374.5h.9v.9h-.9zM508 375h.9v.9h-.9zM507.75 382.25h.9v.9h-.9zM507.5 378.25h.9v.9h-.9zM508.75 383.25h.9v.9h-.9zM501.25 383.75h.9v.9h-.9zM509 366.5h.9v.9h-.9zM507.5 379.75h.9v.9h-.9zM509.5 370.25h.9v.9h-.9zM506.25 381.5h.9v.9h-.9zM502.75 378.75h.9v.9h-.9zM503 378.75h.9v.9h-.9zM507.25 366h.9v.9h-.9zM499.75 375.75h.9v.9h-.9zM499.5 383.25h.9v.9h-.9zM509.5 375.5h.9v.9h-.9zM510.75 378.25h.9v.9h-.9zM499 379.5h.9v.9h-.9zM506.5 365.75h.9v.9h-.9zM511.75 377.75h.9v.9h-.9zM504.25 383.25h.9v.9h-.9zM507.25 382.25h.9v.9h-.9zM501 383.75h.9v.9h-.9zM499 373h.9v.9h-.9zM500.5 365h.9v.9h-.9zM500 368h.9v.9h-.9zM500.5 383.75h.9v.9h-.9zM508.25 381.75h.9v.9h-.9zM508.5 382.5h.9v.9h-.9zM499.5 370.5h.9v.9h-.9zM508.25 368.25h.9v.9h-.9zM508.5 383.5h.9v.9h-.9zM507 372.25h.9v.9h-.9zM505 366h.9v.9h-.9zM502.25 365h.9v.9h-.9zM508.25 383.75h.9v.9h-.9zM499.25 373.75h.9v.9h-.9zM509.5 383.5h.9v.9h-.9zM503 371.75h.9v.9h-.9zM501 368.25h.9v.9h-.9zM505.25 383.75h.9v.9h-.9zM503.75 375.5h.9v.9h-.9zM504.5 373.25h.9v.9h-.9zM500.75 370h.9v.9h-.9zM503.75 374h.9v.9h-.9zM507 379h.9v.9h-.9zM504 370.25h.9v.9h-.9zM511.25 370.25h.9v.9h-.9zM506.25 381h.9v.9h-.9zM499.75 364.75h.9v.9h-.9zM508 369h.9v.9h-.9zM503.25 375h.9v.9h-.9zM511.5 369h.9v.9h-.9zM506.75 380.75h.9v.9h-.9zM504.5 367.25h.9v.9h-.9zM503.75 373h.9v.9h-.9zM506.75 367h.9v.9h-.9zM509.5 381.25h.9v.9h-.9zM499 381.5h.9v.9h-.9zM504.5 375.25h.9v.9h-.9zM509.5 367.25h.9v.9h-.9zM499.5 369h.9v.9h-.9zM509.5 368h.9v.9h-.9zM506.25 381.25h.9v.9h-.9zM510 369.75h.9v.9h-.9zM507.75 366.5h.9v.9h-.9zM503.5 383.5h.9v.9h-.9zM506 370h.9v.9h-.9zM501.5 371.25h.9v.9h-.9zM511 382h.9v.9h-.9zM506.75 373.25h.9v.9h-.9zM505 382.25h.9v.9h-.9zM502.25 371.25h.9v.9h-.9zM509.25 378h.9v.9h-.9zM500 369.75h.9v.9h-.9zM509 382h.9v.9h-.9zM506.5 367h.9v.9h-.9zM510.5 376.75h.9v.9h-.9zM505 375.25h.9v.9h-.9zM501.5 382.5h.9v.9h-.9zM501.25 372.5h.9v.9h-.9zM503.75 375.75h.9v.9h-.9zM504.25 377h.9v.9h-.9zM500.75 383.75h.9v.9h-.9zM511.75 379.75h.9v.9h-.9zM500.25 374.25h.9v.9h-.9zM509 382.75h.9v.9h-.9zM506.75 380.25h.9v.9h-.9zM505.75 383.75h.9v.9h-.9zM499.25 364.25h.9v.9h-.9zM510.25 377.5h.9v.9h-.9zM506.25 381.5h.9v.9h-.9zM509 378.75h.9v.9h-.9zM511.25 370.75h.9v.9h-.9zM509.5 365h.9v.9h-.9zM502.25 383.75h.9v.9h-.9zM501.5 382.5h.9v.9h-.9zM500 383.75h.9v.9h-.9zM506.25 367.75h.9v.9h-.9zM504.75 365.5h.9v.9h-.9zM510.75 383.5h.9v.9h-.9zM506.75 379.25h.9v.9h-.9zM500.5 365.25h.9v.9h-.9zM502.25 375.75h.9v.9h-.9zM507.25 365.25h.9v.9h-.9zM507.5 379.25h.9v.9h-.9zM504.75 382.75h.9v.9h-.9zM511.5 364.25h.9v.9h-.9zM501.75 383.75h.9v.9h-.9zM502.25 380h.9v.9h-.9zM510.5 366.75h.9v.9h-.9zM509.75 383.75h.9v.9h-.9zM509 372.25h.9v.9h-.9zM507.25 364.25h.9v.9h-.9zM499.75 383h.9v.9h-.9zM508.75 365.75h.9v.9h-.9zM507.75 381h.9v.9h-.9zM506.5 371h.9v.9h-.9zM500.25 380.5h.9v.9h-.9zM502.25 383.25h.9v.9h-.9zM505.25 382.75h.9v.9h-.9zM502 383h.9v.9h-.9zM507.75 383.75h.9v.9h-.9zM508.25 382.5h.9v.9h-.9zM499.5 366.25h.9v.9h-.9zM501.75 366h.9v.9h-.9zM510.25 367.25h.9v.9h-.9zM500.75 378.25h.9v.9h-.9zM500.25 366h.9v.9h-.9zM509.75 374.25h.9v.9h-.9zM504.75 380.25h.9v.9h-.9zM509.5 377.75h.9v.9h-.9zM507 383h.9v.9h-.9zM501.75 383.75h.9v.9h-.9zM508.25 376h.9v.9h-.9zM500.75 367.75h.9v.9h-.9zM502.5 379h.9v.9h-.9zM501 381.5h.9v.9h-.9zM509.75 380.5h.9v.9h-.9zM501 377.5h.9v.9h-.9zM503 367h.9v.9h-.9zM500.5 364.5h.9v.9h-.9zM499.75 367.25h.9v.9h-.9zM507.5 382.25h.9v.9h-.9zM505 381.25h.9v.9h-.9zM502.25 382.25h.9v.9h-.9zM503.75 364.25h.9v.9h-.9zM511.75 366.25h.9v.9h-.9zM500.25 381h.9v.9h-.9zM510.5 383.75h.9v.9h-.9zM508.25 381h.9v.9h-.9zM511.5 383.75h.9v.9h-.9zM509.5 380.25h.9v.9h-.9zM500.75 383.75h.9v.9h-.9zM509.75 376.75h.9v.9h-.9zM501.25 378.5h.9v.9h-.9zM510.75 382h.9v.9h-.9zM506.25 383h.9v.9h-.9zM501.25 370.75h.9v.9h-.9zM508.25 382.25h.9v.9h-.9zM500 383.5h.9v.9h-.9zM506.75 377.25h.9v.9h-.9zM502.5 382.25h.9v.9h-.9zM506.75 372.25h.9v.9h-.9zM509.5 375.5h.9v.9h-.9zM501.5 383.5h.9v.9h-.9zM508.5 379h.9v.9h-.9zM508.25 383.75h.9v.9h-.9zM512.5 375.5h.9v.9h-.9zM512.5 362.25h.9v.9h-.9zM512.25 383.5h.9v.9h-.9zM512.75 372h.9v.9h-.9zM512.75 377.25h.9v.9h-.9zM512 363h.9v.9h-.9zM512.25 379.75h.9v.9h-.9zM512.25 369h.9v.9h-.9zM512 371h.9v.9h-.9zM512.25 371h.9v.9h-.9zM512 366h.9v.9h-.9zM512.5 362.25h.9v.9h-.9zM512.25 366h.9v.9h-.9zM512.25 365h.9v.9h-.9zM512 362h.9v.9h-.9zM512.75 371.5h.9v.9h-.9zM512.25 370.5h.9v.9h-.9zM512.25 383.25h.9v.9h-.9zM512.75 378.25h.9v.9h-.9zM512 381.25h.9v.9h-.9zM512 363.5h.9v.9h-.9zM512 381.5h.9v.9h-.9zM512.5 379h.9v.9h-.9zM512 369h.9v.9h-.9zM512.25 370.75h.9v.9h-.9zM514.25 374.5h.9v.9h-.9zM514.5 355.25h.9v.9h-.9zM513.5 373.75h.9v.9h-.9zM514 362h.9v.9h-.9zM513.75 373.75h.9v.9h-.9zM514 373.25h.9v.9h-.9zM514.25 350.75h.9v.9h-.9zM513.5 359.75h.9v.9h-.9zM514.5 372.5h.9v.9h-.9zM514.5 348.25h.9v.9h-.9zM513.75 364.5h.9v.9h-.9zM514.5 361.25h.9v.9h-.9zM514 348.25h.9v.9h-.9zM514.5 367h.9v.9h-.9zM513.75 367.25h.9v.9h-.9zM514 347h.9v.9h-.9zM514.5 349.25h.9v.9h-.9zM514.5 351.25h.9v.9h-.9zM513.5 361.5h.9v.9h-.9zM514.75 348.5h.9v.9h-.9zM513.75 364.5h.9v.9h-.9zM514.25 366.25h.9v.9h-.9zM514 375.5h.9v.9h-.9zM514 361.75h.9v.9h-.9zM513.25 373.25h.9v.9h-.9zM514.75 353.5h.9v.9h-.9zM514.75 357.75h.9v.9h-.9zM514.5 350h.9v.9h-.9zM514.5 376.5h.9v.9h-.9zM514.25 369.25h.9v.9h-.9zM515.25 374.5h.9v.9h-.9zM515 367.25h.9v.9h-.9zM515 374.75h.9v.9h-.9zM515 372.75h.9v.9h-.9zM515.5 374.5h.9v.9h-.9zM514.5 370.25h.9v.9h-.9zM514.25 371h.9v.9h-.9zM515.5 371.75h.9v.9h-.9zM514.5 372.5h.9v.9h-.9zM515 376h.9v.9h-.9zM514.25 376.25h.9v.9h-.9zM514.5 373h.9v.9h-.9zM514.5 375h.9v.9h-.9zM514.25 371.5h.9v.9h-.9zM515.5 370.75h.9v.9h-.9zM515 370.25h.9v.9h-.9zM514.5 369.75h.9v.9h-.9zM514.75 371.5h.9v.9h-.9zM515 372.25h.9v.9h-.9zM514.5 375h.9v.9h-.9zM514.5 371.75h.9v.9h-.9zM514.75 371h.9v.9h-.9zM514.25 373.75h.9v.9h-.9zM515.5 375h.9v.9h-.9zM515 372h.9v.9h-.9zM514.5 366.5h.9v.9h-.9zM514.5 369h.9v.9h-.9zM514.5 376.75h.9v.9h-.9zM515.5 372.75h.9v.9h-.9zM514.25 373.25h.9v.9h-.9zM518.5 348.25h.9v.9h-.9zM517 349h.9v.9h-.9zM521.75 348.25h.9v.9h-.9zM517.75 349.25h.9v.9h-.9zM517.75 349.25h.9v.9h-.9zM521 350.25h.9v.9h-.9zM520.75 350.75h.9v.9h-.9zM520.25 348.5h.9v.9h-.9zM520.5 351h.9v.9h-.9zM520 348h.9v.9h-.9zM521.5 346.25h.9v.9h-.9zM515.75 346h.9v.9h-.9zM520.5 349.75h.9v.9h-.9zM521.75 349.25h.9v.9h-.9zM519.25 350.5h.9v.9h-.9zM521.25 347h.9v.9h-.9zM519.5 349.5h.9v.9h-.9zM518.5 347.25h.9v.9h-.9zM520.25 348.75h.9v.9h-.9zM519.25 346.75h.9v.9h-.9zM518 349.5h.9v.9h-.9zM521 346h.9v.9h-.9zM518.75 349.25h.9v.9h-.9zM517.5 348h.9v.9h-.9zM516.5 350h.9v.9h-.9zM516.25 349.25h.9v.9h-.9zM521.5 349.5h.9v.9h-.9zM521 345.75h.9v.9h-.9zM521.75 347.75h.9v.9h-.9zM521.25 346.75h.9v.9h-.9zM515.75 346.5h.9v.9h-.9zM518.75 347.75h.9v.9h-.9zM521.5 348h.9v.9h-.9zM522 350.25h.9v.9h-.9zM519 350.5h.9v.9h-.9zM518 348.5h.9v.9h-.9zM518 349.5h.9v.9h-.9zM521.5 349h.9v.9h-.9zM520 349h.9v.9h-.9zM518 348.5h.9v.9h-.9zM518.25 350h.9v.9h-.9zM521.25 349h.9v.9h-.9zM521.75 350h.9v.9h-.9zM519.5 348.25h.9v.9h-.9zM522 349.25h.9v.9h-.9zM520.75 346.75h.9v.9h-.9zM516.75 350h.9v.9h-.9zM520.75 344.5h.9v.9h-.9zM518.75 345.75h.9v.9h-.9zM520 346.25h.9v.9h-.9zM520.75 345.25h.9v.9h-.9zM518.25 348.5h.9v.9h-.9zM516.5 348.75h.9v.9h-.9zM518.75 346.5h.9v.9h-.9zM516.75 347.5h.9v.9h-.9zM519.5 346.25h.9v.9h-.9zM517.75 346.25h.9v.9h-.9zM516 348.5h.9v.9h-.9zM518.25 348h.9v.9h-.9zM520 349.5h.9v.9h-.9zM515.75 349.25h.9v.9h-.9zM519.25 345.5h.9v.9h-.9zM519.75 347.75h.9v.9h-.9zM519 346.75h.9v.9h-.9zM517.25 349.5h.9v.9h-.9zM522 349.75h.9v.9h-.9zM519.25 349h.9v.9h-.9zM516.5 348h.9v.9h-.9zM520.5 347.75h.9v.9h-.9zM516.75 347.75h.9v.9h-.9zM519 347.5h.9v.9h-.9zM520.75 350.25h.9v.9h-.9zM516 345.75h.9v.9h-.9zM517.75 348h.9v.9h-.9zM520.25 348.75h.9v.9h-.9zM517.25 347.5h.9v.9h-.9zM516.25 346.75h.9v.9h-.9zM517.75 349.5h.9v.9h-.9zM518.5 348.75h.9v.9h-.9zM521.25 348h.9v.9h-.9zM519.25 346.75h.9v.9h-.9zM519.5 348.75h.9v.9h-.9zM517.25 345h.9v.9h-.9zM521 347.25h.9v.9h-.9zM517.5 346h.9v.9h-.9zM517.5 350h.9v.9h-.9zM519.5 346.5h.9v.9h-.9zM521.5 348.75h.9v.9h-.9zM517.25 350.25h.9v.9h-.9zM517 346.75h.9v.9h-.9zM517.5 347h.9v.9h-.9zM520.75 349.5h.9v.9h-.9zM517.25 347.75h.9v.9h-.9zM516.75 347h.9v.9h-.9zM521.75 348.75h.9v.9h-.9zM516.25 346.5h.9v.9h-.9zM519 349.5h.9v.9h-.9zM516 347.25h.9v.9h-.9zM516.5 347.75h.9v.9h-.9zM517.25 349.5h.9v.9h-.9zM516.75 348.5h.9v.9h-.9zM515.75 347.25h.9v.9h-.9zM519.75 348.75h.9v.9h-.9zM520 347.5h.9v.9h-.9zM516.25 348.75h.9v.9h-.9zM516.5 345.5h.9v.9h-.9zM518.5 347h.9v.9h-.9zM516.5 350.5h.9v.9h-.9zM517.75 348.5h.9v.9h-.9zM521.75 349.75h.9v.9h-.9zM517 346.5h.9v.9h-.9zM517 348.75h.9v.9h-.9zM518.5 346.75h.9v.9h-.9zM517.25 346.5h.9v.9h-.9zM521.25 349.5h.9v.9h-.9zM517.25 349h.9v.9h-.9zM519.5 347.5h.9v.9h-.9zM516.5 345.25h.9v.9h-.9zM518.75 349.5h.9v.9h-.9zM520.5 348.5h.9v.9h-.9zM518.25 354h.9v.9h-.9zM519.25 356.5h.9v.9h-.9zM518.25 358.25h.9v.9h-.9zM517 352.5h.9v.9h-.9zM517.75 354h.9v.9h-.9zM516.75 354.75h.9v.9h-.9zM518 355.25h.9v.9h-.9zM517.75 358.5h.9v.9h-.9zM517.75 357.25h.9v.9h-.9zM516.75 353.5h.9v.9h-.9zM517.75 356h.9v.9h-.9zM521 353h.9v.9h-.9zM520.75 352.5h.9v.9h-.9zM516.75 356.75h.9v.9h-.9zM516.25 353.75h.9v.9h-.9zM522 359.5h.9v.9h-.9zM521.75 355.75h.9v.9h-.9zM522 360.75h.9v.9h-.9zM522 359.5h.9v.9h-.9zM522 361.5h.9v.9h-.9zM521.5 352.5h.9v.9h-.9zM522 355h.9v.9h-.9zM521.5 363.5h.9v.9h-.9zM521.5 361.5h.9v.9h-.9zM521.5 359.25h.9v.9h-.9zM521.5 360h.9v.9h-.9zM522 361.75h.9v.9h-.9zM522 356.75h.9v.9h-.9zM522 360.75h.9v.9h-.9zM521.75 355.25h.9v.9h-.9zM521.75 364h.9v.9h-.9zM522 354.25h.9v.9h-.9zM521.5 363.25h.9v.9h-.9zM522 356.25h.9v.9h-.9zM521.5 360.75h.9v.9h-.9zM523.5 372.75h.9v.9h-.9zM524 369.75h.9v.9h-.9zM527 383.5h.9v.9h-.9zM526.75 380.25h.9v.9h-.9zM527 371.75h.9v.9h-.9zM524.5 383.5h.9v.9h-.9zM528.25 379.75h.9v.9h-.9zM528.25 374.75h.9v.9h-.9zM527 371.75h.9v.9h-.9zM526.5 379.25h.9v.9h-.9zM523 374.75h.9v.9h-.9zM525.25 378.25h.9v.9h-.9zM528.25 383.25h.9v.9h-.9zM527.25 383.75h.9v.9h-.9zM526.75 372.25h.9v.9h-.9zM524.25 377.75h.9v.9h-.9zM528.25 376h.9v.9h-.9zM526 382h.9v.9h-.9zM523.25 380.75h.9v.9h-.9zM525.25 382.5h.9v.9h-.9zM524.5 383.25h.9v.9h-.9zM526.75 375.25h.9v.9h-.9zM524.25 382.25h.9v.9h-.9zM525.75 379.5h.9v.9h-.9zM528.25 380.75h.9v.9h-.9zM524.5 370.5h.9v.9h-.9zM523.5 377.5h.9v.9h-.9zM524.75 372.25h.9v.9h-.9zM526 373.5h.9v.9h-.9zM523.75 375.5h.9v.9h-.9zM526.25 379.25h.9v.9h-.9zM527.25 371.75h.9v.9h-.9zM523.5 381.5h.9v.9h-.9zM524.75 382.5h.9v.9h-.9zM523.25 381.75h.9v.9h-.9zM524 374.75h.9v.9h-.9zM525.5 383.25h.9v.9h-.9zM524.75 379h.9v.9h-.9zM525 383h.9v.9h-.9zM523.25 383.75h.9v.9h-.9zM528.5 373.5h.9v.9h-.9zM523.25 374.25h.9v.9h-.9zM528.5 377.25h.9v.9h-.9zM523.5 378.75h.9v.9h-.9zM525.25 382.75h.9v.9h-.9zM526 383.75h.9v.9h-.9zM528 375.75h.9v.9h-.9zM526.5 369.25h.9v.9h-.9zM526.5 382h.9v.9h-.9zM524.25 383.25h.9v.9h-.9zM523 373h.9v.9h-.9zM527.75 381.5h.9v.9h-.9zM523.75 376h.9v.9h-.9zM527.75 369.5h.9v.9h-.9zM523.75 372.75h.9v.9h-.9zM527.5 373.75h.9v.9h-.9zM524.75 382.75h.9v.9h-.9zM527.5 381.25h.9v.9h-.9zM525 377.5h.9v.9h-.9zM525 371.75h.9v.9h-.9zM524.25 383.75h.9v.9h-.9zM526 376.25h.9v.9h-.9zM527.5 374.5h.9v.9h-.9zM528 369h.9v.9h-.9zM525.75 378.5h.9v.9h-.9zM523.75 381.5h.9v.9h-.9zM526.25 383.5h.9v.9h-.9zM526.75 383h.9v.9h-.9zM525.25 368.5h.9v.9h-.9zM523.25 383.75h.9v.9h-.9zM525.25 382.75h.9v.9h-.9zM527 383.75h.9v.9h-.9zM527.75 371.25h.9v.9h-.9zM527.25 379.75h.9v.9h-.9zM524.5 375.5h.9v.9h-.9zM525.75 379.75h.9v.9h-.9zM524.75 379.5h.9v.9h-.9zM526.75 372h.9v.9h-.9zM528 383h.9v.9h-.9zM524.5 379.5h.9v.9h-.9zM526 380.75h.9v.9h-.9zM524 383.5h.9v.9h-.9zM524.75 379.25h.9v.9h-.9zM528.5 370h.9v.9h-.9zM527.75 368.25h.9v.9h-.9zM528.25 376.25h.9v.9h-.9zM527.5 383.75h.9v.9h-.9zM526.75 376.5h.9v.9h-.9zM524.5 377.25h.9v.9h-.9zM528.25 378.75h.9v.9h-.9zM526.5 381.5h.9v.9h-.9zM524.75 370.5h.9v.9h-.9zM523 382.75h.9v.9h-.9zM526.75 379.25h.9v.9h-.9zM523.25 375.5h.9v.9h-.9zM525 377h.9v.9h-.9zM525.25 378h.9v.9h-.9zM526 380.25h.9v.9h-.9zM523.5 382.75h.9v.9h-.9zM528 377.75h.9v.9h-.9zM523.5 371h.9v.9h-.9zM524.25 383.5h.9v.9h-.9zM525.75 382h.9v.9h-.9zM525.5 377.5h.9v.9h-.9zM524 377.25h.9v.9h-.9zM523.5 378.25h.9v.9h-.9zM526.25 383.5h.9v.9h-.9zM525.25 383.5h.9v.9h-.9zM525.25 371h.9v.9h-.9zM526 374.5h.9v.9h-.9zM532.25 342.25h.9v.9h-.9zM532 342.75h.9v.9h-.9zM529 344.5h.9v.9h-.9zM529.5 346.25h.9v.9h-.9zM533.25 347.25h.9v.9h-.9zM529.25 346h.9v.9h-.9zM532.25 344.25h.9v.9h-.9zM530.25 344.75h.9v.9h-.9zM528.5 346h.9v.9h-.9zM530 345.75h.9v.9h-.9zM532 347.5h.9v.9h-.9zM531.5 344h.9v.9h-.9zM532.75 347.75h.9v.9h-.9zM532.75 346.25h.9v.9h-.9zM529.25 345.25h.9v.9h-.9zM532.25 346.25h.9v.9h-.9zM532 345h.9v.9h-.9zM530.25 345.75h.9v.9h-.9zM532.25 343.25h.9v.9h-.9zM528.75 345.75h.9v.9h-.9zM531.5 344h.9v.9h-.9zM532.5 344.25h.9v.9h-.9zM529 343.5h.9v.9h-.9zM529.75 346h.9v.9h-.9zM529.5 347.5h.9v.9h-.9zM531.5 344.5h.9v.9h-.9zM529 344.5h.9v.9h-.9zM532.5 345h.9v.9h-.9zM529.5 346.25h.9v.9h-.9zM532 345.5h.9v.9h-.9zM530.5 343.5h.9v.9h-.9zM531.25 343.25h.9v.9h-.9zM532 344h.9v.9h-.9zM528.5 348h.9v.9h-.9zM530.25 344.25h.9v.9h-.9zM532.75 344h.9v.9h-.9zM532.5 344.5h.9v.9h-.9zM532.5 345h.9v.9h-.9zM531.75 346.25h.9v.9h-.9zM529.25 344.25h.9v.9h-.9zM532.75 347.25h.9v.9h-.9zM531.5 343.5h.9v.9h-.9zM529 345.5h.9v.9h-.9zM533 344.5h.9v.9h-.9zM531.5 344.5h.9v.9h-.9zM530.25 345h.9v.9h-.9zM530.75 346.25h.9v.9h-.9zM530.25 345.75h.9v.9h-.9zM528.5 346.25h.9v.9h-.9zM528.75 345.75h.9v.9h-.9zM530.75 344.75h.9v.9h-.9zM529.25 345.25h.9v.9h-.9zM531.75 345.25h.9v.9h-.9zM531 344.25h.9v.9h-.9zM529.75 346.5h.9v.9h-.9zM533.25 345.75h.9v.9h-.9zM533.5 343.5h.9v.9h-.9zM532.25 344.75h.9v.9h-.9zM532.75 345h.9v.9h-.9zM531.75 347h.9v.9h-.9zM530.25 345.5h.9v.9h-.9zM532.75 343h.9v.9h-.9zM533.25 345.5h.9v.9h-.9zM532.25 346.25h.9v.9h-.9zM532.25 347h.9v.9h-.9zM530.25 345.25h.9v.9h-.9zM531.25 345.5h.9v.9h-.9zM530.25 345h.9v.9h-.9zM530.25 343.75h.9v.9h-.9zM530.25 345.25h.9v.9h-.9zM529.75 345h.9v.9h-.9zM529.25 344h.9v.9h-.9zM528.5 344.25h.9v.9h-.9zM530.75 346.25h.9v.9h-.9zM531.25 345.5h.9v.9h-.9zM528.75 344.5h.9v.9h-.9zM530 346h.9v.9h-.9zM531.25 343.25h.9v.9h-.9zM533.25 346.75h.9v.9h-.9zM531.5 342.75h.9v.9h-.9zM529 344.5h.9v.9h-.9zM533.5 343.75h.9v.9h-.9zM530.25 345h.9v.9h-.9zM532.75 346.5h.9v.9h-.9zM529 347.75h.9v.9h-.9zM530 345h.9v.9h-.9zM529.75 344.5h.9v.9h-.9zM529.75 345h.9v.9h-.9zM532 345h.9v.9h-.9zM529.5 344h.9v.9h-.9zM531.5 344h.9v.9h-.9zM529.5 346.5h.9v.9h-.9zM532.25 343.5h.9v.9h-.9zM529 345.5h.9v.9h-.9zM532.5 344.25h.9v.9h-.9zM529.25 346h.9v.9h-.9zM529.5 347.75h.9v.9h-.9zM531.75 345.75h.9v.9h-.9zM533 345h.9v.9h-.9zM532.25 344h.9v.9h-.9zM531.75 346.75h.9v.9h-.9zM530.25 344h.9v.9h-.9zM528.75 345.5h.9v.9h-.9zM531.5 345h.9v.9h-.9zM530.25 346.75h.9v.9h-.9zM529.75 345h.9v.9h-.9zM530.75 342.25h.9v.9h-.9zM531.25 345h.9v.9h-.9zM533.5 343.5h.9v.9h-.9zM532 344.5h.9v.9h-.9zM530.25 344.5h.9v.9h-.9zM529.25 344.75h.9v.9h-.9zM532.25 343.25h.9v.9h-.9zM530.5 344h.9v.9h-.9zM531.25 346.5h.9v.9h-.9zM531.75 346h.9v.9h-.9zM531.5 346.25h.9v.9h-.9zM529.75 343.5h.9v.9h-.9zM532 345h.9v.9h-.9zM530 347.25h.9v.9h-.9zM532.25 343.75h.9v.9h-.9zM530 345.25h.9v.9h-.9zM531 344.5h.9v.9h-.9zM528.5 345.5h.9v.9h-.9zM531 346.5h.9v.9h-.9zM530.25 347h.9v.9h-.9zM533.5 345h.9v.9h-.9zM529 343h.9v.9h-.9zM528.75 345h.9v.9h-.9zM531 344.75h.9v.9h-.9zM536.25 346.25h.9v.9h-.9zM535.25 344.75h.9v.9h-.9zM534.25 346.5h.9v.9h-.9zM538 345.5h.9v.9h-.9zM534.25 345.25h.9v.9h-.9zM534.5 347h.9v.9h-.9zM538.25 349.25h.9v.9h-.9zM535 347.5h.9v.9h-.9zM537.25 348.5h.9v.9h-.9zM537.75 347.25h.9v.9h-.9zM534 347.5h.9v.9h-.9zM536.5 348h.9v.9h-.9zM535.5 347.25h.9v.9h-.9zM536.25 347.75h.9v.9h-.9zM535.5 344.75h.9v.9h-.9zM536.5 349h.9v.9h-.9zM534.5 347.5h.9v.9h-.9zM535.5 346.5h.9v.9h-.9zM534.5 346.75h.9v.9h-.9zM536.5 345.5h.9v.9h-.9zM535 346.5h.9v.9h-.9zM536.25 347.5h.9v.9h-.9zM534.25 345.75h.9v.9h-.9zM534.75 349.25h.9v.9h-.9zM537 347h.9v.9h-.9zM535 348.25h.9v.9h-.9zM535.75 346.75h.9v.9h-.9zM536.75 348h.9v.9h-.9zM536.25 349h.9v.9h-.9zM537.75 347h.9v.9h-.9zM534.5 346.5h.9v.9h-.9zM537.25 348.25h.9v.9h-.9zM537.75 346.5h.9v.9h-.9zM538.25 345.25h.9v.9h-.9zM535 346.75h.9v.9h-.9zM538.25 347.25h.9v.9h-.9zM533.5 346.75h.9v.9h-.9zM537 347.75h.9v.9h-.9zM534 346.5h.9v.9h-.9zM534 345.75h.9v.9h-.9zM535 345.75h.9v.9h-.9zM537.75 348.5h.9v.9h-.9zM538.25 346.5h.9v.9h-.9zM537.25 347.25h.9v.9h-.9zM536.75 346h.9v.9h-.9zM534.5 347h.9v.9h-.9zM535.5 347.25h.9v.9h-.9zM538.25 347.25h.9v.9h-.9zM535 347h.9v.9h-.9zM535.75 347.75h.9v.9h-.9zM534 348.25h.9v.9h-.9zM536.75 347h.9v.9h-.9zM534.25 347.5h.9v.9h-.9zM534 349h.9v.9h-.9zM535.25 350.25h.9v.9h-.9zM535.25 347.25h.9v.9h-.9zM534.5 345h.9v.9h-.9zM537 348h.9v.9h-.9zM534.75 347h.9v.9h-.9zM533.75 346.5h.9v.9h-.9zM533.75 348.75h.9v.9h-.9zM536.25 347.5h.9v.9h-.9zM535.25 345.5h.9v.9h-.9zM536.75 347.25h.9v.9h-.9zM536 349.25h.9v.9h-.9zM538.25 348h.9v.9h-.9zM537.75 347.75h.9v.9h-.9zM535 348.75h.9v.9h-.9zM535.5 346.25h.9v.9h-.9zM535.25 347.75h.9v.9h-.9zM535.5 344.75h.9v.9h-.9zM533.5 344h.9v.9h-.9zM536.5 346.5h.9v.9h-.9zM536.5 347.75h.9v.9h-.9zM535.25 347.25h.9v.9h-.9zM534 346.5h.9v.9h-.9zM537.5 346.75h.9v.9h-.9zM533.75 350h.9v.9h-.9zM536.75 348.25h.9v.9h-.9zM536 345.75h.9v.9h-.9zM535 347.25h.9v.9h-.9zM537 347.5h.9v.9h-.9zM537.5 349h.9v.9h-.9zM538.25 347.5h.9v.9h-.9zM534.5 348.75h.9v.9h-.9zM535.25 349h.9v.9h-.9zM537 348.5h.9v.9h-.9zM536.5 346.5h.9v.9h-.9zM536.75 348.25h.9v.9h-.9zM536 345.75h.9v.9h-.9zM534.5 348.25h.9v.9h-.9zM538 348h.9v.9h-.9zM535.75 347.75h.9v.9h-.9zM535.75 349h.9v.9h-.9zM534.5 345.75h.9v.9h-.9zM536 345.25h.9v.9h-.9zM536 349.75h.9v.9h-.9zM534.5 347.75h.9v.9h-.9zM534.25 346.75h.9v.9h-.9zM536.5 348.75h.9v.9h-.9zM537.5 345.5h.9v.9h-.9zM533.75 349h.9v.9h-.9zM535.25 346.25h.9v.9h-.9zM534 349.5h.9v.9h-.9zM534.25 347.5h.9v.9h-.9zM535.25 346.75h.9v.9h-.9zM537.25 348.75h.9v.9h-.9zM533.75 347.5h.9v.9h-.9zM535.25 345.5h.9v.9h-.9zM535.75 347.5h.9v.9h-.9zM558 353.25h.9v.9h-.9zM544.5 355.25h.9v.9h-.9zM566.25 354.5h.9v.9h-.9zM548 352.75h.9v.9h-.9zM553.5 354.25h.9v.9h-.9zM539 352.75h.9v.9h-.9zM546.5 354h.9v.9h-.9zM545.75 353.75h.9v.9h-.9zM567.75 353.75h.9v.9h-.9zM548.25 352.75h.9v.9h-.9zM572.5 352.5h.9v.9h-.9zM573.75 352.75h.9v.9h-.9zM546.5 355.25h.9v.9h-.9zM563.75 352.75h.9v.9h-.9zM553.5 352.5h.9v.9h-.9zM553.5 353.25h.9v.9h-.9zM567.5 354h.9v.9h-.9zM565 352.5h.9v.9h-.9zM571.75 354.25h.9v.9h-.9zM562 352.75h.9v.9h-.9zM576.25 352.75h.9v.9h-.9zM567.5 351h.9v.9h-.9zM553.75 354.25h.9v.9h-.9zM541.25 354.5h.9v.9h-.9zM569.5 354.5h.9v.9h-.9zM558.75 352.75h.9v.9h-.9zM575.5 353.75h.9v.9h-.9zM562.75 354h.9v.9h-.9zM557.25 355.75h.9v.9h-.9zM555.5 353.25h.9v.9h-.9zM557.75 352.75h.9v.9h-.9zM558.5 354.5h.9v.9h-.9zM559.25 353h.9v.9h-.9zM568.75 355h.9v.9h-.9zM554.75 352h.9v.9h-.9zM561 353.25h.9v.9h-.9zM570 353.5h.9v.9h-.9zM547.5 354.25h.9v.9h-.9zM541.5 353.5h.9v.9h-.9zM542 354h.9v.9h-.9zM569.25 354h.9v.9h-.9zM566.25 353.75h.9v.9h-.9zM567.5 354h.9v.9h-.9zM566.75 353.5h.9v.9h-.9zM555.5 357h.9v.9h-.9zM572 355.5h.9v.9h-.9zM574.25 353h.9v.9h-.9zM559.75 353h.9v.9h-.9zM538.5 352.75h.9v.9h-.9zM549 353.75h.9v.9h-.9zM551.25 353.75h.9v.9h-.9zM561.25 351.5h.9v.9h-.9zM559.25 354h.9v.9h-.9zM550.75 353.5h.9v.9h-.9zM574 353h.9v.9h-.9zM549 355.75h.9v.9h-.9zM546.75 352.5h.9v.9h-.9zM553.75 353.25h.9v.9h-.9zM557.5 355h.9v.9h-.9zM553.25 353.5h.9v.9h-.9zM571.25 353h.9v.9h-.9zM561.25 351.5h.9v.9h-.9zM540.5 354.25h.9v.9h-.9zM555.25 352.5h.9v.9h-.9zM561.5 354h.9v.9h-.9zM571 353h.9v.9h-.9zM550.25 354.25h.9v.9h-.9zM562.75 355.5h.9v.9h-.9zM557 352.5h.9v.9h-.9zM574.5 354h.9v.9h-.9zM540.75 355h.9v.9h-.9zM540.25 353h.9v.9h-.9zM573.75 352.5h.9v.9h-.9zM545.75 353h.9v.9h-.9zM576.25 355.5h.9v.9h-.9zM558.75 354.25h.9v.9h-.9zM566 354h.9v.9h-.9zM547 354.5h.9v.9h-.9zM572.75 352.25h.9v.9h-.9zM546.75 351.75h.9v.9h-.9zM542.5 352.25h.9v.9h-.9zM577.5 352.5h.9v.9h-.9zM555.25 354h.9v.9h-.9zM575.5 354.25h.9v.9h-.9zM566.5 353.5h.9v.9h-.9zM567 353.25h.9v.9h-.9zM540 353.25h.9v.9h-.9zM548 354.5h.9v.9h-.9zM562.25 354.25h.9v.9h-.9zM544.75 352.5h.9v.9h-.9zM575.75 354.5h.9v.9h-.9zM544.5 351.75h.9v.9h-.9zM571.25 352.5h.9v.9h-.9zM539.75 353.75h.9v.9h-.9zM554 354.25h.9v.9h-.9zM560.75 354.25h.9v.9h-.9zM542.25 355.25h.9v.9h-.9zM556 353.25h.9v.9h-.9zM566.25 352.25h.9v.9h-.9zM543.25 352.25h.9v.9h-.9zM576.25 351.25h.9v.9h-.9zM560 353.75h.9v.9h-.9zM550.25 354.75h.9v.9h-.9zM558.75 352.25h.9v.9h-.9zM576.5 352.75h.9v.9h-.9zM573.75 353h.9v.9h-.9zM563 354h.9v.9h-.9zM544 353.75h.9v.9h-.9zM549.5 352h.9v.9h-.9zM547.75 355h.9v.9h-.9zM576.25 352.25h.9v.9h-.9zM578 353.25h.9v.9h-.9zM552.5 352.25h.9v.9h-.9zM540.5 354.25h.9v.9h-.9zM552 354.5h.9v.9h-.9zM568.75 353.5h.9v.9h-.9zM545.75 353.5h.9v.9h-.9zM541.25 354.5h.9v.9h-.9zM561.25 352.5h.9v.9h-.9zM570.75 353h.9v.9h-.9zM562.75 354h.9v.9h-.9zM559.5 353.5h.9v.9h-.9zM542.25 354h.9v.9h-.9zM562 354h.9v.9h-.9zM552.75 354.75h.9v.9h-.9zM545 352.5h.9v.9h-.9zM545.25 352.75h.9v.9h-.9zM573 354h.9v.9h-.9zM574.25 354.25h.9v.9h-.9zM542.25 353.5h.9v.9h-.9zM574.5 352.75h.9v.9h-.9zM560.25 352.75h.9v.9h-.9zM543.25 354.25h.9v.9h-.9zM560.25 353.5h.9v.9h-.9zM559.25 354.25h.9v.9h-.9zM555 353.25h.9v.9h-.9zM546.75 353h.9v.9h-.9zM574.25 353h.9v.9h-.9zM559 353.5h.9v.9h-.9zM577 353.75h.9v.9h-.9zM558.5 353.25h.9v.9h-.9zM566.75 355h.9v.9h-.9zM547.75 353.75h.9v.9h-.9zM549.25 354.25h.9v.9h-.9zM539.5 354.75h.9v.9h-.9zM550.25 352.75h.9v.9h-.9zM575 352.5h.9v.9h-.9zM548 353h.9v.9h-.9zM562.75 353.25h.9v.9h-.9zM541 355.25h.9v.9h-.9zM548.5 356h.9v.9h-.9zM540 355.5h.9v.9h-.9zM563.75 354.25h.9v.9h-.9zM552.5 355.5h.9v.9h-.9zM571.75 356h.9v.9h-.9zM538.75 353h.9v.9h-.9zM577 354.5h.9v.9h-.9zM542 353h.9v.9h-.9zM548.5 353.75h.9v.9h-.9zM544.5 355.25h.9v.9h-.9zM552.5 353.25h.9v.9h-.9zM547.25 353h.9v.9h-.9zM552 350h.9v.9h-.9zM570.75 354.25h.9v.9h-.9zM558 355.5h.9v.9h-.9zM575.75 353.75h.9v.9h-.9zM569.25 354h.9v.9h-.9zM564 354.25h.9v.9h-.9zM573 353.5h.9v.9h-.9zM567.75 354h.9v.9h-.9zM552.75 352.25h.9v.9h-.9zM566 351.25h.9v.9h-.9zM569 352.25h.9v.9h-.9zM576.75 352.25h.9v.9h-.9zM575.5 353.75h.9v.9h-.9zM571.25 355.75h.9v.9h-.9zM562.5 355.5h.9v.9h-.9zM570.5 353h.9v.9h-.9zM574.25 354.5h.9v.9h-.9zM560.25 351h.9v.9h-.9zM577.25 351.5h.9v.9h-.9zM570.75 351.75h.9v.9h-.9zM548.75 353.25h.9v.9h-.9zM546.5 354.25h.9v.9h-.9zM557.25 353.5h.9v.9h-.9zM575.75 352.5h.9v.9h-.9zM566.5 354h.9v.9h-.9zM570.5 354.75h.9v.9h-.9zM571 354.75h.9v.9h-.9zM572.25 356h.9v.9h-.9zM555 352.25h.9v.9h-.9zM572.75 352.75h.9v.9h-.9zM552.25 355.25h.9v.9h-.9zM571 354.75h.9v.9h-.9zM538.5 353.75h.9v.9h-.9zM542.75 353.75h.9v.9h-.9zM571.75 355h.9v.9h-.9zM557.25 353h.9v.9h-.9zM552 353.5h.9v.9h-.9zM573 352.75h.9v.9h-.9zM563.75 353.75h.9v.9h-.9zM549.5 353.25h.9v.9h-.9zM567.25 355h.9v.9h-.9zM571.5 353h.9v.9h-.9zM543.25 353.75h.9v.9h-.9zM572.25 354h.9v.9h-.9zM546 354h.9v.9h-.9zM553.25 351h.9v.9h-.9zM547.5 352.5h.9v.9h-.9zM575 354.5h.9v.9h-.9zM554.5 356.25h.9v.9h-.9zM559.25 353.75h.9v.9h-.9zM579 353h.9v.9h-.9zM545 351.75h.9v.9h-.9zM560 353h.9v.9h-.9zM577.25 353.75h.9v.9h-.9zM557 353.25h.9v.9h-.9zM552.75 354.5h.9v.9h-.9zM542.5 355.75h.9v.9h-.9zM559.5 354.25h.9v.9h-.9zM553.75 351.75h.9v.9h-.9zM565.75 354.75h.9v.9h-.9zM541.5 354.5h.9v.9h-.9zM577.75 354.5h.9v.9h-.9zM553.25 354.5h.9v.9h-.9zM553.75 355h.9v.9h-.9zM559.75 354.75h.9v.9h-.9zM558.75 355.75h.9v.9h-.9zM553.25 353.25h.9v.9h-.9zM572.75 353.75h.9v.9h-.9zM566.5 354.75h.9v.9h-.9zM569.25 354h.9v.9h-.9zM575 354h.9v.9h-.9zM539.75 355.5h.9v.9h-.9zM551.75 352h.9v.9h-.9zM575 351.75h.9v.9h-.9zM544.25 354.75h.9v.9h-.9zM540.25 354.5h.9v.9h-.9zM554.5 353.75h.9v.9h-.9zM549.75 355.25h.9v.9h-.9zM569.75 354h.9v.9h-.9zM555.5 352.5h.9v.9h-.9zM578.5 354.75h.9v.9h-.9zM566.25 355.25h.9v.9h-.9zM554 352h.9v.9h-.9zM566.75 354h.9v.9h-.9zM549.75 353h.9v.9h-.9zM572.25 352.5h.9v.9h-.9zM571 354h.9v.9h-.9zM559.5 353.25h.9v.9h-.9zM574.5 352.75h.9v.9h-.9zM545.25 352.25h.9v.9h-.9zM551.25 352.75h.9v.9h-.9zM554 353.25h.9v.9h-.9zM578 353h.9v.9h-.9zM551 353.75h.9v.9h-.9zM577 353.25h.9v.9h-.9zM556.25 352.75h.9v.9h-.9zM542.75 353.75h.9v.9h-.9zM554.25 352.5h.9v.9h-.9zM578 353.75h.9v.9h-.9zM575.75 353h.9v.9h-.9zM556.75 352.75h.9v.9h-.9zM570.25 355h.9v.9h-.9zM551.25 352.75h.9v.9h-.9zM557.75 352.25h.9v.9h-.9zM561.25 354.5h.9v.9h-.9zM549.75 355.25h.9v.9h-.9zM553.25 352.5h.9v.9h-.9zM550.25 354.25h.9v.9h-.9zM564.25 353.75h.9v.9h-.9zM540 351.75h.9v.9h-.9zM572.25 354.5h.9v.9h-.9zM577 354h.9v.9h-.9zM549.25 353.75h.9v.9h-.9zM561 353.25h.9v.9h-.9zM569.25 354.25h.9v.9h-.9zM571.5 354.75h.9v.9h-.9zM543 354.25h.9v.9h-.9zM578 352.25h.9v.9h-.9zM564.5 354.25h.9v.9h-.9zM554.5 355.25h.9v.9h-.9zM577 353.75h.9v.9h-.9zM554.5 354.75h.9v.9h-.9zM571.5 354h.9v.9h-.9zM574.25 353h.9v.9h-.9zM560.25 355.25h.9v.9h-.9zM575.5 353.75h.9v.9h-.9zM543.75 353.75h.9v.9h-.9zM555.25 353.25h.9v.9h-.9zM559 352.75h.9v.9h-.9zM562 355h.9v.9h-.9zM555 354.5h.9v.9h-.9zM573 354h.9v.9h-.9zM570.75 353.25h.9v.9h-.9zM566 354.25h.9v.9h-.9zM569.25 356h.9v.9h-.9zM575.25 353.75h.9v.9h-.9zM568.75 353h.9v.9h-.9zM574.5 355h.9v.9h-.9zM543.75 354.25h.9v.9h-.9zM563.5 355.25h.9v.9h-.9zM549.75 352.25h.9v.9h-.9zM572.25 353h.9v.9h-.9zM549.5 353.5h.9v.9h-.9zM542.25 353h.9v.9h-.9zM566 351.75h.9v.9h-.9zM553 354h.9v.9h-.9zM567 351.75h.9v.9h-.9zM551.75 352.75h.9v.9h-.9zM538.5 354h.9v.9h-.9zM549.75 354h.9v.9h-.9zM540.75 355h.9v.9h-.9zM571.5 353.25h.9v.9h-.9zM540 353.5h.9v.9h-.9zM547.5 354h.9v.9h-.9zM564.25 354.25h.9v.9h-.9zM561.75 352.75h.9v.9h-.9zM547.25 353.5h.9v.9h-.9zM572.75 354.25h.9v.9h-.9zM571.5 354h.9v.9h-.9zM570.25 353.75h.9v.9h-.9zM539.5 354.75h.9v.9h-.9zM541 353.75h.9v.9h-.9zM564.25 354h.9v.9h-.9zM554.75 355h.9v.9h-.9zM559.5 354.25h.9v.9h-.9zM574 354h.9v.9h-.9zM579.25 352.75h.9v.9h-.9zM551.75 356.25h.9v.9h-.9zM578.75 352.5h.9v.9h-.9zM543.75 353.25h.9v.9h-.9zM557 354.25h.9v.9h-.9zM557 355.25h.9v.9h-.9zM552.25 353.25h.9v.9h-.9zM550 352.75h.9v.9h-.9zM546.25 353.75h.9v.9h-.9zM556.25 355h.9v.9h-.9zM546.5 353.75h.9v.9h-.9zM549.25 354.25h.9v.9h-.9zM561.25 354.5h.9v.9h-.9zM569 356.5h.9v.9h-.9zM577.25 352.25h.9v.9h-.9zM568 354.5h.9v.9h-.9zM541 353.5h.9v.9h-.9zM573.75 353.5h.9v.9h-.9zM568 354.25h.9v.9h-.9zM553 354.25h.9v.9h-.9zM545 355.75h.9v.9h-.9zM551 356h.9v.9h-.9zM540.25 353.25h.9v.9h-.9zM575.25 352.75h.9v.9h-.9zM571.5 354.25h.9v.9h-.9zM542.75 353.5h.9v.9h-.9zM544.75 353.5h.9v.9h-.9zM579 354.75h.9v.9h-.9zM575.75 353.25h.9v.9h-.9zM572 354.75h.9v.9h-.9zM543.5 352.5h.9v.9h-.9zM559.25 352.75h.9v.9h-.9zM547 353.75h.9v.9h-.9zM575.75 353.5h.9v.9h-.9zM567.5 350.75h.9v.9h-.9zM556.25 354.75h.9v.9h-.9zM568.5 355h.9v.9h-.9zM573 352.25h.9v.9h-.9zM543.75 353h.9v.9h-.9zM562.5 353.5h.9v.9h-.9zM554 351.75h.9v.9h-.9zM570.75 353.5h.9v.9h-.9zM557.5 351.5h.9v.9h-.9zM560.25 353h.9v.9h-.9zM541.25 354.25h.9v.9h-.9zM574.75 352.25h.9v.9h-.9zM558.25 354h.9v.9h-.9zM548.25 354.25h.9v.9h-.9zM575.5 354h.9v.9h-.9zM562.75 353.25h.9v.9h-.9zM543.5 353.25h.9v.9h-.9zM562.5 352.5h.9v.9h-.9zM564.5 354h.9v.9h-.9zM541 354.75h.9v.9h-.9zM568 352.5h.9v.9h-.9zM554.75 353.25h.9v.9h-.9zM566 353.75h.9v.9h-.9zM565 354.5h.9v.9h-.9zM566.75 354.25h.9v.9h-.9zM575.75 353.5h.9v.9h-.9zM563 353h.9v.9h-.9zM579 353.25h.9v.9h-.9zM547.75 355h.9v.9h-.9zM572.25 352.5h.9v.9h-.9zM564.5 353.75h.9v.9h-.9zM542.25 354h.9v.9h-.9zM578.5 353.5h.9v.9h-.9zM540.25 354h.9v.9h-.9zM548.25 353h.9v.9h-.9zM566 354h.9v.9h-.9zM576.5 355.25h.9v.9h-.9zM549.25 355.5h.9v.9h-.9zM544.75 352h.9v.9h-.9zM542.5 353.5h.9v.9h-.9zM578.25 353.75h.9v.9h-.9zM571.5 354.25h.9v.9h-.9zM545 354.25h.9v.9h-.9zM570.75 353.75h.9v.9h-.9zM575 353.5h.9v.9h-.9zM573.25 353.75h.9v.9h-.9zM561.25 353h.9v.9h-.9zM563.75 354.75h.9v.9h-.9zM562.75 353.5h.9v.9h-.9zM540.5 354h.9v.9h-.9zM560.75 354h.9v.9h-.9zM538.75 352.75h.9v.9h-.9zM569 351.75h.9v.9h-.9zM571.75 353.25h.9v.9h-.9zM557.25 352.5h.9v.9h-.9zM546.75 352.5h.9v.9h-.9zM556 351.5h.9v.9h-.9zM560.75 351.75h.9v.9h-.9zM552.75 352.25h.9v.9h-.9zM573.25 352.75h.9v.9h-.9zM573.25 352.75h.9v.9h-.9zM550.75 353h.9v.9h-.9zM569.75 352.75h.9v.9h-.9zM578.5 352.5h.9v.9h-.9zM570 353.25h.9v.9h-.9zM543 353.75h.9v.9h-.9zM566.75 354.75h.9v.9h-.9zM557 354.5h.9v.9h-.9zM555 354.75h.9v.9h-.9zM576 354.75h.9v.9h-.9zM568.5 353h.9v.9h-.9zM572.75 356h.9v.9h-.9zM567.75 352h.9v.9h-.9zM573.25 353.25h.9v.9h-.9zM556 353.25h.9v.9h-.9zM577 354h.9v.9h-.9zM556.5 354h.9v.9h-.9zM550.75 354.5h.9v.9h-.9zM552.75 353.75h.9v.9h-.9zM556.5 353.25h.9v.9h-.9zM578.75 355h.9v.9h-.9zM569.75 355.75h.9v.9h-.9zM572.75 352h.9v.9h-.9zM549.5 353.75h.9v.9h-.9zM548.5 353.75h.9v.9h-.9zM547.75 353.5h.9v.9h-.9zM574.75 352.75h.9v.9h-.9zM570 354h.9v.9h-.9zM570.25 352.25h.9v.9h-.9zM560.25 354.75h.9v.9h-.9zM542.75 353.25h.9v.9h-.9zM564 354.5h.9v.9h-.9zM553.5 356.25h.9v.9h-.9zM545 354.25h.9v.9h-.9zM560.25 354.5h.9v.9h-.9zM577 354.75h.9v.9h-.9zM555 352.25h.9v.9h-.9zM578 354.5h.9v.9h-.9zM542 353.5h.9v.9h-.9zM575.5 352.75h.9v.9h-.9zM539 353.75h.9v.9h-.9zM579 352h.9v.9h-.9zM545.5 355.25h.9v.9h-.9zM566.75 353h.9v.9h-.9zM569 353.75h.9v.9h-.9zM549 354.5h.9v.9h-.9zM539.5 354h.9v.9h-.9zM549 354.25h.9v.9h-.9zM578 354.5h.9v.9h-.9zM565.25 354.75h.9v.9h-.9zM563 354h.9v.9h-.9zM541 354.5h.9v.9h-.9zM541 352.75h.9v.9h-.9zM544.25 353.5h.9v.9h-.9zM543 356.5h.9v.9h-.9zM566.5 353.5h.9v.9h-.9zM549.5 353.5h.9v.9h-.9zM542.5 354.25h.9v.9h-.9zM550.75 355h.9v.9h-.9zM556.5 352.75h.9v.9h-.9zM568.25 351.5h.9v.9h-.9zM552.5 352.25h.9v.9h-.9zM572.5 351.75h.9v.9h-.9zM547.75 353.25h.9v.9h-.9zM573.5 353.25h.9v.9h-.9zM549.75 355.25h.9v.9h-.9zM538.75 352.75h.9v.9h-.9zM544.75 351.5h.9v.9h-.9zM565.5 355h.9v.9h-.9zM545.75 354.5h.9v.9h-.9zM544.25 351.25h.9v.9h-.9zM554 352h.9v.9h-.9zM565.25 354.25h.9v.9h-.9zM541 354h.9v.9h-.9zM539 353.25h.9v.9h-.9zM578 354h.9v.9h-.9zM553.25 353.75h.9v.9h-.9zM570.75 354.25h.9v.9h-.9zM548.75 354.5h.9v.9h-.9zM543 352.75h.9v.9h-.9zM548.5 353.5h.9v.9h-.9zM554 354.5h.9v.9h-.9zM569.75 353.5h.9v.9h-.9zM547.25 353h.9v.9h-.9zM554 354.75h.9v.9h-.9zM557.75 352.5h.9v.9h-.9zM574 352.25h.9v.9h-.9zM572.75 353.25h.9v.9h-.9zM548 352.5h.9v.9h-.9zM543 353.5h.9v.9h-.9zM557.25 353.75h.9v.9h-.9zM543.25 354h.9v.9h-.9zM558 353.25h.9v.9h-.9zM556.5 353h.9v.9h-.9zM543.25 352.75h.9v.9h-.9zM557.5 353.25h.9v.9h-.9zM576.75 354h.9v.9h-.9zM547.5 353.75h.9v.9h-.9zM569 355.75h.9v.9h-.9zM578 354.5h.9v.9h-.9zM573.5 351.75h.9v.9h-.9zM560 352h.9v.9h-.9zM548.25 352.75h.9v.9h-.9zM547 351.75h.9v.9h-.9zM541.75 354h.9v.9h-.9zM557.25 351.25h.9v.9h-.9zM568.5 352.5h.9v.9h-.9zM551.5 353.25h.9v.9h-.9zM546.75 354.25h.9v.9h-.9zM543.25 354.5h.9v.9h-.9zM578.75 354.25h.9v.9h-.9zM538.75 353.5h.9v.9h-.9zM565.25 354h.9v.9h-.9zM557.75 353.75h.9v.9h-.9zM568.75 354.5h.9v.9h-.9zM558.75 353.75h.9v.9h-.9zM563.25 354h.9v.9h-.9zM571.25 354.25h.9v.9h-.9zM577.25 353.75h.9v.9h-.9zM553.5 355.75h.9v.9h-.9zM575.5 353.25h.9v.9h-.9zM563 353h.9v.9h-.9zM575.5 353h.9v.9h-.9zM539.75 353.25h.9v.9h-.9zM556.25 353.25h.9v.9h-.9zM569 353.25h.9v.9h-.9zM562.25 352.75h.9v.9h-.9zM566.25 354h.9v.9h-.9zM538.75 353h.9v.9h-.9zM558 354h.9v.9h-.9zM559.25 352.5h.9v.9h-.9zM579 354h.9v.9h-.9zM563.75 353.25h.9v.9h-.9zM546.75 351.75h.9v.9h-.9zM579.5 354.5h.9v.9h-.9zM577.75 353.5h.9v.9h-.9zM551.5 354.5h.9v.9h-.9zM565.75 353h.9v.9h-.9zM539.25 354h.9v.9h-.9zM572.25 353.25h.9v.9h-.9zM538.25 354.25h.9v.9h-.9zM557 354.25h.9v.9h-.9zM561.5 353.75h.9v.9h-.9zM548.25 354.25h.9v.9h-.9zM543.25 353h.9v.9h-.9zM544 353.75h.9v.9h-.9zM559.75 355.5h.9v.9h-.9zM540.75 354.75h.9v.9h-.9zM548 353h.9v.9h-.9zM557 352.5h.9v.9h-.9zM555.25 352.5h.9v.9h-.9zM573.75 354.75h.9v.9h-.9zM577.75 354h.9v.9h-.9zM555 351.25h.9v.9h-.9zM540.5 353.25h.9v.9h-.9zM539 354h.9v.9h-.9zM550.25 354.25h.9v.9h-.9zM574 351h.9v.9h-.9zM555.5 355.75h.9v.9h-.9zM571.5 354h.9v.9h-.9zM565.25 354.25h.9v.9h-.9zM548.25 353.75h.9v.9h-.9zM565.5 355.25h.9v.9h-.9zM575.25 354.75h.9v.9h-.9zM578 353.5h.9v.9h-.9zM575.25 353.25h.9v.9h-.9zM561.75 353h.9v.9h-.9zM548.75 352.25h.9v.9h-.9zM548 354.5h.9v.9h-.9zM566.25 352.75h.9v.9h-.9zM541.25 353.75h.9v.9h-.9zM557.75 355.25h.9v.9h-.9zM566 353.5h.9v.9h-.9zM557.75 353.75h.9v.9h-.9zM566.25 354h.9v.9h-.9zM545.75 355.25h.9v.9h-.9zM577.75 353.5h.9v.9h-.9zM556 354.5h.9v.9h-.9zM577.75 353.25h.9v.9h-.9zM577.75 352.5h.9v.9h-.9zM575.25 353.5h.9v.9h-.9zM553 352h.9v.9h-.9zM565.5 353.5h.9v.9h-.9zM547.5 354.25h.9v.9h-.9zM547.25 353.75h.9v.9h-.9zM544 353.5h.9v.9h-.9zM555 354h.9v.9h-.9zM562.25 353.5h.9v.9h-.9zM577 354.5h.9v.9h-.9zM567.25 354h.9v.9h-.9zM556.25 353h.9v.9h-.9zM539 352.5h.9v.9h-.9zM566 353h.9v.9h-.9zM578 352.75h.9v.9h-.9zM569.75 353h.9v.9h-.9zM564.5 355h.9v.9h-.9zM567.25 353h.9v.9h-.9zM569.75 353.75h.9v.9h-.9zM550.75 353.75h.9v.9h-.9zM563 351.75h.9v.9h-.9zM573.25 352.75h.9v.9h-.9zM546.5 354.75h.9v.9h-.9zM539 355.25h.9v.9h-.9zM549.5 354h.9v.9h-.9zM541.25 353h.9v.9h-.9zM567 353.75h.9v.9h-.9zM538.5 353.5h.9v.9h-.9zM567.5 352.75h.9v.9h-.9zM579 353.25h.9v.9h-.9zM576.75 353.5h.9v.9h-.9zM578.25 353h.9v.9h-.9zM559.75 353h.9v.9h-.9zM551.5 354.75h.9v.9h-.9zM549 353h.9v.9h-.9zM540.5 353h.9v.9h-.9zM542 353.25h.9v.9h-.9zM564 354h.9v.9h-.9zM571 354.5h.9v.9h-.9zM568.25 354.25h.9v.9h-.9zM546 352.75h.9v.9h-.9zM576.5 354h.9v.9h-.9zM544.75 353.75h.9v.9h-.9zM566.75 355h.9v.9h-.9zM547.75 352.5h.9v.9h-.9zM571 353.5h.9v.9h-.9zM562.5 354h.9v.9h-.9zM546.25 354.25h.9v.9h-.9zM570.75 355.5h.9v.9h-.9zM547.75 352.25h.9v.9h-.9zM561.5 352.75h.9v.9h-.9zM544 353.25h.9v.9h-.9zM542.75 352.25h.9v.9h-.9zM564.5 353.5h.9v.9h-.9zM555.75 352.75h.9v.9h-.9zM560.25 353.75h.9v.9h-.9zM568 354h.9v.9h-.9zM547.5 354h.9v.9h-.9zM566.75 352.25h.9v.9h-.9zM563.5 353h.9v.9h-.9zM551 354h.9v.9h-.9zM565.5 353.75h.9v.9h-.9zM547.75 353h.9v.9h-.9zM570 353h.9v.9h-.9zM577.75 355.25h.9v.9h-.9zM571 354h.9v.9h-.9zM568 352.75h.9v.9h-.9zM540.5 354h.9v.9h-.9zM540.25 354h.9v.9h-.9zM559.5 352.25h.9v.9h-.9zM574.5 351.75h.9v.9h-.9zM557.25 353.5h.9v.9h-.9zM559.25 353.25h.9v.9h-.9zM559.75 354.75h.9v.9h-.9zM560 352.5h.9v.9h-.9zM570.25 353.25h.9v.9h-.9zM554.25 353.5h.9v.9h-.9zM558.25 353.75h.9v.9h-.9zM547.5 352h.9v.9h-.9zM551.5 355.25h.9v.9h-.9zM570 353.5h.9v.9h-.9zM553.5 356h.9v.9h-.9zM576.75 352.75h.9v.9h-.9zM563.75 352.75h.9v.9h-.9zM564.5 353h.9v.9h-.9zM549.75 350.75h.9v.9h-.9zM575.75 353h.9v.9h-.9zM543.75 355h.9v.9h-.9zM550.75 353.25h.9v.9h-.9zM541.25 353.75h.9v.9h-.9zM556.25 355.5h.9v.9h-.9zM541.75 354h.9v.9h-.9zM578 353.25h.9v.9h-.9zM540.5 354h.9v.9h-.9zM544 352h.9v.9h-.9zM542.75 353h.9v.9h-.9zM560.25 353.5h.9v.9h-.9zM572.5 353.25h.9v.9h-.9zM569.75 353h.9v.9h-.9zM555.75 354h.9v.9h-.9zM548.25 353.25h.9v.9h-.9zM578.25 353h.9v.9h-.9zM568.75 353h.9v.9h-.9zM575 352.75h.9v.9h-.9zM577.75 354.25h.9v.9h-.9zM563.25 354h.9v.9h-.9zM567.75 352.5h.9v.9h-.9zM568.5 353.25h.9v.9h-.9zM577.75 353.25h.9v.9h-.9zM542.75 353.25h.9v.9h-.9zM548.5 354.5h.9v.9h-.9zM548.75 356.75h.9v.9h-.9zM544.5 353h.9v.9h-.9zM573.5 354h.9v.9h-.9zM569 353h.9v.9h-.9zM552.25 353.25h.9v.9h-.9zM572 352.75h.9v.9h-.9zM573.75 353.75h.9v.9h-.9zM569.75 353.75h.9v.9h-.9zM563.25 351.5h.9v.9h-.9zM551.75 355.25h.9v.9h-.9zM573.25 353.25h.9v.9h-.9zM553.25 354.5h.9v.9h-.9zM553.75 354.25h.9v.9h-.9zM542.75 352.75h.9v.9h-.9zM547.75 352.75h.9v.9h-.9zM564.5 354.25h.9v.9h-.9zM574.75 353.75h.9v.9h-.9zM576.25 354.5h.9v.9h-.9zM571.5 352h.9v.9h-.9zM569.25 353.75h.9v.9h-.9zM571.75 353.75h.9v.9h-.9zM554 352h.9v.9h-.9zM572.75 352.75h.9v.9h-.9zM552.25 352.75h.9v.9h-.9zM572 354.75h.9v.9h-.9zM573.25 352h.9v.9h-.9zM574.5 352h.9v.9h-.9zM569 351.75h.9v.9h-.9zM566.25 353.75h.9v.9h-.9zM574 354h.9v.9h-.9zM560.75 354.5h.9v.9h-.9zM570.5 353.5h.9v.9h-.9zM570.5 353.25h.9v.9h-.9zM552.25 354.25h.9v.9h-.9zM548.5 353h.9v.9h-.9zM539.5 353h.9v.9h-.9zM571 353.5h.9v.9h-.9zM541 353.25h.9v.9h-.9zM568.75 353.25h.9v.9h-.9zM554.75 352.5h.9v.9h-.9zM571.25 352.75h.9v.9h-.9zM564.25 354h.9v.9h-.9zM575 356h.9v.9h-.9zM568.5 353.25h.9v.9h-.9zM551.25 352.75h.9v.9h-.9zM542.75 354.75h.9v.9h-.9zM562.5 353h.9v.9h-.9zM558.25 354.75h.9v.9h-.9zM555.5 352.5h.9v.9h-.9zM546.75 354.75h.9v.9h-.9zM553.25 355.5h.9v.9h-.9zM567 351.75h.9v.9h-.9zM543.5 353.5h.9v.9h-.9zM562.5 353.75h.9v.9h-.9zM556 354h.9v.9h-.9zM542 354.75h.9v.9h-.9zM559.75 352.75h.9v.9h-.9zM553 355.25h.9v.9h-.9zM547.5 353.75h.9v.9h-.9zM547.25 355.5h.9v.9h-.9zM574.75 352.5h.9v.9h-.9zM554 353.75h.9v.9h-.9zM567.5 353h.9v.9h-.9zM550.75 354h.9v.9h-.9zM551.75 353.75h.9v.9h-.9zM560.75 354.25h.9v.9h-.9zM559 354h.9v.9h-.9zM577.75 354.25h.9v.9h-.9zM579.5 355.5h.9v.9h-.9zM545.75 354.25h.9v.9h-.9zM575.75 355.25h.9v.9h-.9zM574 354.25h.9v.9h-.9zM553.25 353h.9v.9h-.9zM539.25 354h.9v.9h-.9zM559 351.75h.9v.9h-.9zM577.5 355h.9v.9h-.9zM559.25 352.5h.9v.9h-.9zM544.25 354.25h.9v.9h-.9zM564.25 353.25h.9v.9h-.9zM563 354.75h.9v.9h-.9zM549 353.75h.9v.9h-.9zM559.5 352.5h.9v.9h-.9zM557.5 353.5h.9v.9h-.9zM552.25 353.5h.9v.9h-.9zM567.75 353.75h.9v.9h-.9zM548.75 354.5h.9v.9h-.9zM559.5 353h.9v.9h-.9zM575.5 352.25h.9v.9h-.9zM546.75 355h.9v.9h-.9zM569.25 354.5h.9v.9h-.9zM567.5 353.75h.9v.9h-.9zM572.75 354.5h.9v.9h-.9zM576.25 351.25h.9v.9h-.9zM556.5 352.75h.9v.9h-.9zM541.75 352h.9v.9h-.9zM566.25 352.75h.9v.9h-.9zM544.25 355.25h.9v.9h-.9zM579.25 353.25h.9v.9h-.9zM552.25 353.5h.9v.9h-.9zM546.5 354.5h.9v.9h-.9zM545 355h.9v.9h-.9zM550.75 352.75h.9v.9h-.9zM545 353.5h.9v.9h-.9zM546.25 353.25h.9v.9h-.9zM551.25 354.25h.9v.9h-.9zM558 353.75h.9v.9h-.9zM556.5 352.5h.9v.9h-.9zM577.25 353.75h.9v.9h-.9zM557.75 353.25h.9v.9h-.9zM544.25 352.25h.9v.9h-.9zM545.25 352.25h.9v.9h-.9zM578 353h.9v.9h-.9zM555 354.25h.9v.9h-.9zM552.75 352.75h.9v.9h-.9zM566.75 354.25h.9v.9h-.9zM573.75 353.25h.9v.9h-.9zM561.75 351.5h.9v.9h-.9zM568.25 353.5h.9v.9h-.9zM553 355.25h.9v.9h-.9zM554.75 355.5h.9v.9h-.9zM556 354h.9v.9h-.9zM565.5 352.25h.9v.9h-.9zM568.5 353h.9v.9h-.9zM553.25 353.75h.9v.9h-.9zM573.25 353.25h.9v.9h-.9zM566.25 355h.9v.9h-.9zM552.25 352.5h.9v.9h-.9zM554.75 354h.9v.9h-.9zM545.75 352h.9v.9h-.9zM571.25 352.25h.9v.9h-.9zM539.5 354.25h.9v.9h-.9zM558.75 352.5h.9v.9h-.9zM553.25 353h.9v.9h-.9zM560.25 354.25h.9v.9h-.9zM576.5 354.5h.9v.9h-.9zM552 354.5h.9v.9h-.9zM554.25 355h.9v.9h-.9zM549 354.75h.9v.9h-.9zM553.5 354.5h.9v.9h-.9zM575.75 353h.9v.9h-.9zM560.5 353.75h.9v.9h-.9zM572 352.75h.9v.9h-.9zM545 353.75h.9v.9h-.9zM546.25 353.75h.9v.9h-.9zM540.75 353.5h.9v.9h-.9zM547.75 354.25h.9v.9h-.9zM540.75 353.75h.9v.9h-.9zM568 352h.9v.9h-.9zM575.75 352.5h.9v.9h-.9zM576.25 354h.9v.9h-.9zM542 352.75h.9v.9h-.9zM546.25 354.25h.9v.9h-.9zM569 353h.9v.9h-.9zM542.25 354.5h.9v.9h-.9zM574.25 353.75h.9v.9h-.9zM578.5 355h.9v.9h-.9zM540 353.25h.9v.9h-.9zM539.25 353.5h.9v.9h-.9zM567.5 354h.9v.9h-.9zM545 354h.9v.9h-.9zM545.75 355h.9v.9h-.9zM578.25 354.75h.9v.9h-.9zM553.25 352.5h.9v.9h-.9zM554.5 353.75h.9v.9h-.9zM548.75 353.25h.9v.9h-.9zM579.25 350.75h.9v.9h-.9zM567.25 353.25h.9v.9h-.9zM544.5 353h.9v.9h-.9zM552.75 353.75h.9v.9h-.9zM560 354h.9v.9h-.9zM566.25 352.5h.9v.9h-.9zM570.75 353.5h.9v.9h-.9zM562 355.75h.9v.9h-.9zM563 353h.9v.9h-.9zM552.25 355.75h.9v.9h-.9zM573.75 352h.9v.9h-.9zM576 354.25h.9v.9h-.9zM545.5 354h.9v.9h-.9zM554 353.75h.9v.9h-.9zM571.25 353.75h.9v.9h-.9zM570.75 353.75h.9v.9h-.9zM571.25 353.75h.9v.9h-.9zM555.25 354.25h.9v.9h-.9zM568.25 354.75h.9v.9h-.9zM555.25 351h.9v.9h-.9zM576.5 354.25h.9v.9h-.9zM563.5 354h.9v.9h-.9zM549.5 352.75h.9v.9h-.9zM586.75 365h.9v.9h-.9zM586 368.25h.9v.9h-.9zM587.5 366.25h.9v.9h-.9zM585.5 367h.9v.9h-.9zM581.5 366.5h.9v.9h-.9zM586.25 366.25h.9v.9h-.9zM583.25 366.25h.9v.9h-.9zM580 362.5h.9v.9h-.9zM587 365.75h.9v.9h-.9zM585.5 366.5h.9v.9h-.9zM584 364h.9v.9h-.9zM583 366.75h.9v.9h-.9zM587 363.5h.9v.9h-.9zM580.25 364.5h.9v.9h-.9zM581.75 363.5h.9v.9h-.9zM583 363.75h.9v.9h-.9zM585.25 365.75h.9v.9h-.9zM584.75 363.25h.9v.9h-.9zM580.25 368.25h.9v.9h-.9zM581.25 365.75h.9v.9h-.9zM584.75 366h.9v.9h-.9zM586.75 364.25h.9v.9h-.9zM587 364.25h.9v.9h-.9zM584 365.75h.9v.9h-.9zM586 365.75h.9v.9h-.9zM586.5 367.5h.9v.9h-.9zM582.75 364.25h.9v.9h-.9zM580.5 366.25h.9v.9h-.9zM585.5 364.5h.9v.9h-.9zM579.75 364h.9v.9h-.9zM587.5 368.25h.9v.9h-.9zM580.5 366.5h.9v.9h-.9zM584.5 366.5h.9v.9h-.9zM586 365h.9v.9h-.9zM579.75 366.5h.9v.9h-.9zM586.25 365.75h.9v.9h-.9zM586.75 364.25h.9v.9h-.9zM583.25 365.5h.9v.9h-.9zM585.25 366h.9v.9h-.9zM587 367h.9v.9h-.9zM581 364h.9v.9h-.9zM580.5 363.75h.9v.9h-.9zM581 367h.9v.9h-.9zM580.75 365.75h.9v.9h-.9zM587 368.25h.9v.9h-.9zM581.5 365.25h.9v.9h-.9zM586.75 365.25h.9v.9h-.9zM584.25 362.5h.9v.9h-.9zM587.25 365.5h.9v.9h-.9zM583.75 367.75h.9v.9h-.9zM586.25 366.5h.9v.9h-.9zM586.75 365.5h.9v.9h-.9zM586 366.75h.9v.9h-.9zM581.25 368h.9v.9h-.9zM583.25 364h.9v.9h-.9zM586.75 369.25h.9v.9h-.9zM580.75 366.5h.9v.9h-.9zM582.75 367.5h.9v.9h-.9zM580.75 364.75h.9v.9h-.9zM583.5 364.5h.9v.9h-.9zM581.5 367h.9v.9h-.9zM585.5 364.25h.9v.9h-.9zM584.25 364h.9v.9h-.9zM582.5 363h.9v.9h-.9zM587.25 365h.9v.9h-.9zM584 365.75h.9v.9h-.9zM587.25 367.25h.9v.9h-.9zM582 364.5h.9v.9h-.9zM579.75 365.5h.9v.9h-.9zM581.75 365h.9v.9h-.9zM584.5 369h.9v.9h-.9zM585 367.25h.9v.9h-.9zM582.25 363.75h.9v.9h-.9zM583.75 366.5h.9v.9h-.9zM586.5 366.5h.9v.9h-.9zM584.25 367h.9v.9h-.9zM581.75 364.75h.9v.9h-.9zM587.25 366h.9v.9h-.9zM580 363.75h.9v.9h-.9zM581 365.75h.9v.9h-.9zM583.5 363.75h.9v.9h-.9zM584.75 363.75h.9v.9h-.9zM585 361.5h.9v.9h-.9zM585 367.75h.9v.9h-.9zM585.25 365.25h.9v.9h-.9zM582.75 365.75h.9v.9h-.9zM587.25 366.5h.9v.9h-.9zM579.5 364h.9v.9h-.9zM582.75 364.25h.9v.9h-.9zM586 367h.9v.9h-.9zM579.5 365.5h.9v.9h-.9zM586.25 364.75h.9v.9h-.9zM580.25 364.75h.9v.9h-.9zM586.5 366.25h.9v.9h-.9zM583.5 367.5h.9v.9h-.9zM582.75 362.25h.9v.9h-.9zM585 363.25h.9v.9h-.9zM587.25 364.5h.9v.9h-.9zM580.25 365.75h.9v.9h-.9zM580.75 367h.9v.9h-.9zM582.25 367.75h.9v.9h-.9zM587.5 369h.9v.9h-.9zM587.5 367.25h.9v.9h-.9zM580.75 367.25h.9v.9h-.9zM585.25 367h.9v.9h-.9zM586.75 366.25h.9v.9h-.9zM581.5 365.25h.9v.9h-.9zM580.75 365h.9v.9h-.9zM584.25 365.5h.9v.9h-.9zM583.5 366.5h.9v.9h-.9zM584 367.25h.9v.9h-.9zM583.75 366.25h.9v.9h-.9zM579.5 364.25h.9v.9h-.9zM581.25 365.25h.9v.9h-.9zM585.5 365.5h.9v.9h-.9zM581.5 363h.9v.9h-.9zM580.25 367.25h.9v.9h-.9zM582.25 365.5h.9v.9h-.9zM585.5 365.5h.9v.9h-.9zM586.25 363.5h.9v.9h-.9zM583 369.25h.9v.9h-.9zM584.25 365.75h.9v.9h-.9zM581 365.25h.9v.9h-.9zM582 365.5h.9v.9h-.9zM580.25 366.75h.9v.9h-.9zM582 367h.9v.9h-.9zM583.5 364.75h.9v.9h-.9zM580.75 366.25h.9v.9h-.9zM582 367.25h.9v.9h-.9zM585 362.75h.9v.9h-.9zM583 365.5h.9v.9h-.9zM580.5 365.25h.9v.9h-.9zM586.25 366.25h.9v.9h-.9zM584.5 366.5h.9v.9h-.9zM580 367h.9v.9h-.9zM580.25 365.75h.9v.9h-.9zM585.5 366.25h.9v.9h-.9zM580.75 367.5h.9v.9h-.9zM584.75 367.75h.9v.9h-.9zM580.25 364.75h.9v.9h-.9zM586.75 364.75h.9v.9h-.9zM582.75 365.75h.9v.9h-.9zM581 363.75h.9v.9h-.9zM587.5 364.5h.9v.9h-.9zM582.25 366h.9v.9h-.9zM581.25 363.5h.9v.9h-.9zM582.75 366.25h.9v.9h-.9zM580.75 367.25h.9v.9h-.9zM580 370.25h.9v.9h-.9zM586.75 367h.9v.9h-.9zM580.25 367.5h.9v.9h-.9zM581 365.75h.9v.9h-.9zM584.75 368.5h.9v.9h-.9zM581.75 365.75h.9v.9h-.9zM587 365h.9v.9h-.9zM580.5 367.25h.9v.9h-.9zM583.25 364.25h.9v.9h-.9zM585 364.25h.9v.9h-.9zM584 365.25h.9v.9h-.9zM585.25 365.75h.9v.9h-.9zM586 364.75h.9v.9h-.9zM579.75 365h.9v.9h-.9zM584.25 366h.9v.9h-.9zM585 367.25h.9v.9h-.9zM582.5 366h.9v.9h-.9zM587.25 367h.9v.9h-.9zM583 365h.9v.9h-.9zM585.25 365.75h.9v.9h-.9zM586.5 366.25h.9v.9h-.9zM586.5 366.5h.9v.9h-.9zM585.25 364.75h.9v.9h-.9zM584.75 364.75h.9v.9h-.9zM579.5 364.5h.9v.9h-.9zM586.5 365.5h.9v.9h-.9zM587.5 367h.9v.9h-.9zM585.75 362.75h.9v.9h-.9zM586.5 369h.9v.9h-.9zM584.5 367.75h.9v.9h-.9zM587 366.75h.9v.9h-.9zM583.5 366.25h.9v.9h-.9zM583.25 366.5h.9v.9h-.9zM583.5 364.5h.9v.9h-.9zM584.25 365.5h.9v.9h-.9zM583.5 364.5h.9v.9h-.9zM583.5 367.75h.9v.9h-.9zM581 364.75h.9v.9h-.9zM583.75 366.25h.9v.9h-.9zM585 363.25h.9v.9h-.9zM585.75 367h.9v.9h-.9zM587 366h.9v.9h-.9zM583.5 366.75h.9v.9h-.9zM582.75 365h.9v.9h-.9zM585.25 365h.9v.9h-.9zM585.25 367.25h.9v.9h-.9zM581.25 367h.9v.9h-.9zM582 365.25h.9v.9h-.9zM582.25 365.75h.9v.9h-.9zM581 368.25h.9v.9h-.9zM581.25 365.25h.9v.9h-.9zM585 368h.9v.9h-.9zM612 348.25h.9v.9h-.9zM590.25 349.25h.9v.9h-.9zM601.75 342h.9v.9h-.9zM607.75 346.5h.9v.9h-.9zM613.25 343.75h.9v.9h-.9zM596.75 348.5h.9v.9h-.9zM600.75 344.5h.9v.9h-.9zM615.75 345.25h.9v.9h-.9zM606.5 349h.9v.9h-.9zM606.5 346.25h.9v.9h-.9zM615 344.25h.9v.9h-.9zM620.75 350.25h.9v.9h-.9zM604.5 349.5h.9v.9h-.9zM624.75 346.75h.9v.9h-.9zM595 346.75h.9v.9h-.9zM622.75 346.25h.9v.9h-.9zM620.25 349.75h.9v.9h-.9zM621.5 343.75h.9v.9h-.9zM604.25 346.25h.9v.9h-.9zM602.25 344h.9v.9h-.9zM592.5 345.75h.9v.9h-.9zM603 349h.9v.9h-.9zM610.5 347.75h.9v.9h-.9zM602.75 347.25h.9v.9h-.9zM602.25 345.5h.9v.9h-.9zM616.75 347.5h.9v.9h-.9zM600.5 349h.9v.9h-.9zM595.25 350.5h.9v.9h-.9zM588.75 349h.9v.9h-.9zM599.25 350.5h.9v.9h-.9zM595.5 344.75h.9v.9h-.9zM596.75 351.5h.9v.9h-.9zM610.25 349.5h.9v.9h-.9zM589.5 348.5h.9v.9h-.9zM600.25 349.5h.9v.9h-.9zM607.25 350h.9v.9h-.9zM592.75 347.25h.9v.9h-.9zM603.75 345.75h.9v.9h-.9zM601.75 346.75h.9v.9h-.9zM625.25 348.25h.9v.9h-.9zM597 346.75h.9v.9h-.9zM610.25 349h.9v.9h-.9zM602.25 343.75h.9v.9h-.9zM618.5 346.75h.9v.9h-.9zM598.25 347.25h.9v.9h-.9zM625.25 350.25h.9v.9h-.9zM590 348.75h.9v.9h-.9zM611.5 346.5h.9v.9h-.9zM617.25 346h.9v.9h-.9zM602.75 350h.9v.9h-.9zM618.25 346.25h.9v.9h-.9zM616.5 346.5h.9v.9h-.9zM604.75 346.75h.9v.9h-.9zM605.5 347.75h.9v.9h-.9zM596 346.75h.9v.9h-.9zM591.5 347.75h.9v.9h-.9zM602 350h.9v.9h-.9zM599 346.5h.9v.9h-.9zM614.5 354h.9v.9h-.9zM594.5 348.25h.9v.9h-.9zM607.25 349.75h.9v.9h-.9zM620.5 347.5h.9v.9h-.9zM596 346.25h.9v.9h-.9zM600.75 349.25h.9v.9h-.9zM611.25 349.25h.9v.9h-.9zM591.25 348.5h.9v.9h-.9zM624 348.5h.9v.9h-.9zM612.75 346.75h.9v.9h-.9zM608 348.5h.9v.9h-.9zM620 346h.9v.9h-.9zM600.75 352.5h.9v.9h-.9zM601.75 345h.9v.9h-.9zM603.25 346h.9v.9h-.9zM613 344.75h.9v.9h-.9zM604.75 349h.9v.9h-.9zM617.75 346.75h.9v.9h-.9zM605.25 346.5h.9v.9h-.9zM615.75 349.5h.9v.9h-.9zM589.25 346.5h.9v.9h-.9zM613.75 342h.9v.9h-.9zM613.5 350.25h.9v.9h-.9zM595.5 347.5h.9v.9h-.9zM594.5 349.75h.9v.9h-.9zM597.75 350.5h.9v.9h-.9zM612.25 345.75h.9v.9h-.9zM594.5 345.25h.9v.9h-.9zM607.25 348.75h.9v.9h-.9zM593 345h.9v.9h-.9zM606.25 348.5h.9v.9h-.9zM599.75 348.5h.9v.9h-.9zM613.5 350.75h.9v.9h-.9zM617.5 348.5h.9v.9h-.9zM609.5 347.25h.9v.9h-.9zM619.25 345.25h.9v.9h-.9zM609.5 347.75h.9v.9h-.9zM605 349.75h.9v.9h-.9zM624.5 346.25h.9v.9h-.9zM592 350.5h.9v.9h-.9zM611 342.5h.9v.9h-.9zM624.75 346.5h.9v.9h-.9zM615.5 348.25h.9v.9h-.9zM594.75 343.25h.9v.9h-.9zM619.25 348h.9v.9h-.9zM621.5 347.75h.9v.9h-.9zM604.75 346h.9v.9h-.9zM608.25 350.75h.9v.9h-.9zM620.5 346.25h.9v.9h-.9zM600.75 343h.9v.9h-.9zM589 348h.9v.9h-.9zM590.75 347h.9v.9h-.9zM611.5 346.75h.9v.9h-.9zM599 346.75h.9v.9h-.9zM598.5 343.5h.9v.9h-.9zM620.75 350h.9v.9h-.9zM625.25 351.5h.9v.9h-.9zM598.75 346.25h.9v.9h-.9zM623 346.25h.9v.9h-.9zM596.75 351h.9v.9h-.9zM591.5 345.25h.9v.9h-.9zM611 349h.9v.9h-.9zM620.5 345.5h.9v.9h-.9zM605.5 345h.9v.9h-.9zM617.75 349h.9v.9h-.9zM624 347.25h.9v.9h-.9zM598.75 347.75h.9v.9h-.9zM597.5 352h.9v.9h-.9zM614.25 349h.9v.9h-.9zM596.25 346.75h.9v.9h-.9zM624 349.5h.9v.9h-.9zM607 345.75h.9v.9h-.9zM589 347.5h.9v.9h-.9zM621 351.5h.9v.9h-.9zM601.5 347.25h.9v.9h-.9zM615.75 345.75h.9v.9h-.9zM612.75 350h.9v.9h-.9zM593.75 346.25h.9v.9h-.9zM622.75 350.25h.9v.9h-.9zM617.75 347.25h.9v.9h-.9zM595.5 348h.9v.9h-.9zM618.75 349.75h.9v.9h-.9zM591.5 348.25h.9v.9h-.9zM606.25 344.5h.9v.9h-.9zM602.25 349h.9v.9h-.9zM604.5 348.5h.9v.9h-.9zM588.25 347.25h.9v.9h-.9zM619.25 349.25h.9v.9h-.9zM608.75 350.25h.9v.9h-.9zM592.75 349.5h.9v.9h-.9zM617.25 348.75h.9v.9h-.9zM617.75 343.25h.9v.9h-.9zM613.5 346.75h.9v.9h-.9zM613.5 350h.9v.9h-.9zM624 347.25h.9v.9h-.9zM603.5 346.75h.9v.9h-.9zM607.25 346.75h.9v.9h-.9zM620.75 346.5h.9v.9h-.9zM602.75 346.75h.9v.9h-.9zM609.75 346.5h.9v.9h-.9zM595.25 350.5h.9v.9h-.9zM604.5 347.25h.9v.9h-.9zM607 347.5h.9v.9h-.9zM623 348h.9v.9h-.9zM595.5 344h.9v.9h-.9zM609.5 346.75h.9v.9h-.9zM608.25 347h.9v.9h-.9zM599.5 343.75h.9v.9h-.9zM615.5 347.25h.9v.9h-.9zM612.5 344.75h.9v.9h-.9zM602 348.5h.9v.9h-.9zM612.25 347.5h.9v.9h-.9zM614 346h.9v.9h-.9zM615.75 345.25h.9v.9h-.9zM591.75 345.25h.9v.9h-.9zM590 351.5h.9v.9h-.9zM597.5 346.25h.9v.9h-.9zM591.25 346.75h.9v.9h-.9zM606.5 347.75h.9v.9h-.9zM605.5 345.75h.9v.9h-.9zM602 346.75h.9v.9h-.9zM592.25 351.25h.9v.9h-.9zM596.5 345.75h.9v.9h-.9zM592.25 347.5h.9v.9h-.9zM614.25 346.25h.9v.9h-.9zM596 355h.9v.9h-.9zM589.5 347.5h.9v.9h-.9zM623.25 350h.9v.9h-.9zM602.75 348h.9v.9h-.9zM623.75 346.75h.9v.9h-.9zM607.25 350h.9v.9h-.9zM617 346.75h.9v.9h-.9zM619.25 349h.9v.9h-.9zM603.25 347.5h.9v.9h-.9zM621.75 350.5h.9v.9h-.9zM609.25 345.75h.9v.9h-.9zM605.5 349.25h.9v.9h-.9zM609 348.5h.9v.9h-.9zM620.75 345.75h.9v.9h-.9zM621.25 346.75h.9v.9h-.9zM625 344.5h.9v.9h-.9zM611.75 347.5h.9v.9h-.9zM619.75 348.75h.9v.9h-.9zM599.25 347.5h.9v.9h-.9zM615 348h.9v.9h-.9zM612.25 349.25h.9v.9h-.9zM612.75 348h.9v.9h-.9zM604.75 348h.9v.9h-.9zM600.25 349.25h.9v.9h-.9zM593 348.75h.9v.9h-.9zM613.25 348.5h.9v.9h-.9zM599.5 343.75h.9v.9h-.9zM608.5 347.25h.9v.9h-.9zM615.5 348.75h.9v.9h-.9zM590.75 347.25h.9v.9h-.9zM615.25 347.75h.9v.9h-.9zM602 346.75h.9v.9h-.9zM607 345.75h.9v.9h-.9zM603.75 345.75h.9v.9h-.9zM599.25 345.75h.9v.9h-.9zM624.5 349.5h.9v.9h-.9zM596.75 346h.9v.9h-.9zM624.5 349h.9v.9h-.9zM619.5 344.75h.9v.9h-.9zM602.75 347.5h.9v.9h-.9zM592.25 349.5h.9v.9h-.9zM589.75 352h.9v.9h-.9zM595.75 346.25h.9v.9h-.9zM604.75 347.5h.9v.9h-.9zM593.75 349.5h.9v.9h-.9zM607.5 352.5h.9v.9h-.9zM621.75 345.25h.9v.9h-.9zM597 349.75h.9v.9h-.9zM589.25 348.5h.9v.9h-.9zM604.75 346h.9v.9h-.9zM610.25 348.75h.9v.9h-.9zM614.75 343h.9v.9h-.9zM592.25 345.75h.9v.9h-.9zM599.5 347.75h.9v.9h-.9zM602.25 348h.9v.9h-.9zM592.75 348h.9v.9h-.9zM593.75 347.5h.9v.9h-.9zM596.5 346.75h.9v.9h-.9zM595.5 347.25h.9v.9h-.9zM607.5 345h.9v.9h-.9zM603.75 344.5h.9v.9h-.9zM597.5 347.5h.9v.9h-.9zM589.75 343.5h.9v.9h-.9zM616 343.25h.9v.9h-.9zM603.5 344.5h.9v.9h-.9zM610.5 347h.9v.9h-.9zM590.5 348.5h.9v.9h-.9zM614.25 350.75h.9v.9h-.9zM598.5 349.5h.9v.9h-.9zM606.75 346.75h.9v.9h-.9zM598.75 345.5h.9v.9h-.9zM610 348.25h.9v.9h-.9zM612.25 346h.9v.9h-.9zM591.25 346.75h.9v.9h-.9zM596.75 350.25h.9v.9h-.9zM592.5 350.25h.9v.9h-.9zM615.25 347.75h.9v.9h-.9zM602.25 351.75h.9v.9h-.9zM598.25 345.25h.9v.9h-.9zM625 342.25h.9v.9h-.9zM623.5 352h.9v.9h-.9zM597.75 346.5h.9v.9h-.9zM595.75 350.5h.9v.9h-.9zM625.75 350h.9v.9h-.9zM609 351h.9v.9h-.9zM591 346.75h.9v.9h-.9zM597.75 348.75h.9v.9h-.9zM611.25 346.75h.9v.9h-.9zM615 345.25h.9v.9h-.9zM591.75 348.25h.9v.9h-.9zM606 348.5h.9v.9h-.9zM612.5 348h.9v.9h-.9zM595.25 348.25h.9v.9h-.9zM624.25 349.5h.9v.9h-.9zM602.25 346.25h.9v.9h-.9zM614.25 347.75h.9v.9h-.9zM603.25 351h.9v.9h-.9zM609.5 349h.9v.9h-.9zM623.75 347.75h.9v.9h-.9zM624.5 346.5h.9v.9h-.9zM605.5 354.5h.9v.9h-.9zM619.75 347.5h.9v.9h-.9zM615 344h.9v.9h-.9zM623.5 345.25h.9v.9h-.9zM598.25 351.75h.9v.9h-.9zM617.75 349.5h.9v.9h-.9zM602 347.25h.9v.9h-.9zM618.25 345.25h.9v.9h-.9zM613.25 351.25h.9v.9h-.9zM594.5 346h.9v.9h-.9zM596 345.25h.9v.9h-.9zM600.75 346.75h.9v.9h-.9zM615 347h.9v.9h-.9zM596.5 346.5h.9v.9h-.9zM620 349.25h.9v.9h-.9zM599.5 348h.9v.9h-.9zM588.5 345.5h.9v.9h-.9zM604.5 348h.9v.9h-.9zM620.5 347.5h.9v.9h-.9zM602.25 342h.9v.9h-.9zM596.75 347.75h.9v.9h-.9zM597.5 346.75h.9v.9h-.9zM614.75 347.5h.9v.9h-.9zM610 349.25h.9v.9h-.9zM598.75 347.75h.9v.9h-.9zM624.5 352.5h.9v.9h-.9zM621.5 342.75h.9v.9h-.9zM592.75 347.5h.9v.9h-.9zM614.75 348h.9v.9h-.9zM618.5 348.75h.9v.9h-.9zM618.75 350.25h.9v.9h-.9zM594 349.5h.9v.9h-.9zM603 348h.9v.9h-.9zM595.25 348.5h.9v.9h-.9zM617.5 350.5h.9v.9h-.9zM611.75 351.75h.9v.9h-.9zM618.75 350.75h.9v.9h-.9zM609.5 350h.9v.9h-.9zM602 343h.9v.9h-.9zM592 349.5h.9v.9h-.9zM623.25 344.75h.9v.9h-.9zM612.5 350.5h.9v.9h-.9zM617.25 352.25h.9v.9h-.9zM604.75 351.25h.9v.9h-.9zM600 346.75h.9v.9h-.9zM592.25 350.75h.9v.9h-.9zM597.5 350.5h.9v.9h-.9zM613.75 346.75h.9v.9h-.9zM593.25 348.5h.9v.9h-.9zM606.75 350.5h.9v.9h-.9zM625.5 343h.9v.9h-.9zM604.75 346.75h.9v.9h-.9zM594.5 350.75h.9v.9h-.9zM624.75 347.25h.9v.9h-.9zM605 347h.9v.9h-.9zM588.75 350h.9v.9h-.9zM624 347.5h.9v.9h-.9zM603.75 345.5h.9v.9h-.9zM610.25 350.75h.9v.9h-.9zM597 348.5h.9v.9h-.9zM603 345.25h.9v.9h-.9zM612.5 349.75h.9v.9h-.9zM611 347.75h.9v.9h-.9zM625.5 347h.9v.9h-.9zM588.5 345.75h.9v.9h-.9zM591.5 345.5h.9v.9h-.9zM619.5 346.75h.9v.9h-.9zM614.25 343.5h.9v.9h-.9zM610.25 348.5h.9v.9h-.9zM610 345.5h.9v.9h-.9zM598 347.5h.9v.9h-.9zM611.5 345h.9v.9h-.9zM602.25 346.5h.9v.9h-.9zM606.5 348.5h.9v.9h-.9zM615.5 347h.9v.9h-.9zM618.25 348.5h.9v.9h-.9zM610.75 348.25h.9v.9h-.9zM620.75 344h.9v.9h-.9zM589.75 348h.9v.9h-.9zM621.25 348.5h.9v.9h-.9zM622.75 349.25h.9v.9h-.9zM619.25 346.25h.9v.9h-.9zM609.75 348.75h.9v.9h-.9zM602.25 348.75h.9v.9h-.9zM611.25 344h.9v.9h-.9zM600.5 352.75h.9v.9h-.9zM609.5 349h.9v.9h-.9zM622.5 354h.9v.9h-.9zM589.25 350.5h.9v.9h-.9zM605.5 351h.9v.9h-.9zM624.5 348.75h.9v.9h-.9zM611.5 350.75h.9v.9h-.9zM608.25 347.25h.9v.9h-.9zM614.5 347.25h.9v.9h-.9zM600.25 347.75h.9v.9h-.9zM621 344h.9v.9h-.9zM589.25 346.25h.9v.9h-.9zM612.5 347.25h.9v.9h-.9zM602.5 349.25h.9v.9h-.9zM596.5 348.5h.9v.9h-.9zM610.75 350.25h.9v.9h-.9zM600.25 352.5h.9v.9h-.9zM617.5 350.5h.9v.9h-.9zM624 347.5h.9v.9h-.9zM602.5 345h.9v.9h-.9zM601 347.25h.9v.9h-.9zM609 349h.9v.9h-.9zM617.25 347.25h.9v.9h-.9zM598.25 347.75h.9v.9h-.9zM606.75 346.5h.9v.9h-.9zM619.75 348.25h.9v.9h-.9zM603 352.5h.9v.9h-.9zM590.5 349.25h.9v.9h-.9zM600.5 347h.9v.9h-.9zM599.5 346.75h.9v.9h-.9zM614.5 348.75h.9v.9h-.9zM618.25 348.25h.9v.9h-.9zM607.25 345h.9v.9h-.9zM619 344.5h.9v.9h-.9zM596.25 343.75h.9v.9h-.9zM596.75 349.25h.9v.9h-.9zM588 344.75h.9v.9h-.9zM591.75 350.75h.9v.9h-.9zM617 347.25h.9v.9h-.9zM619.5 350.75h.9v.9h-.9zM625.25 349.75h.9v.9h-.9zM622.75 344h.9v.9h-.9zM599.75 349h.9v.9h-.9zM620 350.75h.9v.9h-.9zM609.5 348h.9v.9h-.9zM608.5 346h.9v.9h-.9zM593.25 344.75h.9v.9h-.9zM597.25 351.25h.9v.9h-.9zM614.25 348.25h.9v.9h-.9zM617.5 348.75h.9v.9h-.9zM617 348h.9v.9h-.9zM598.75 346.75h.9v.9h-.9zM617 351.75h.9v.9h-.9zM594 346.75h.9v.9h-.9zM592 350.25h.9v.9h-.9zM594.25 344h.9v.9h-.9zM590.75 347.75h.9v.9h-.9zM613.25 348.75h.9v.9h-.9zM591.25 347.5h.9v.9h-.9zM621 344.25h.9v.9h-.9zM603.5 348.25h.9v.9h-.9zM601 347.5h.9v.9h-.9zM597.25 346.75h.9v.9h-.9zM617.5 351h.9v.9h-.9zM608 348h.9v.9h-.9zM602.5 348.75h.9v.9h-.9zM599 348.5h.9v.9h-.9zM596.25 344h.9v.9h-.9zM600.25 348.5h.9v.9h-.9zM612 343.25h.9v.9h-.9zM606.25 351.25h.9v.9h-.9zM623.5 344.25h.9v.9h-.9zM605 351.75h.9v.9h-.9zM597.75 349.5h.9v.9h-.9zM597.75 345.5h.9v.9h-.9zM617 346h.9v.9h-.9zM594 354h.9v.9h-.9zM606.25 344.75h.9v.9h-.9zM602.5 345.25h.9v.9h-.9zM602.25 351.75h.9v.9h-.9zM592.75 350h.9v.9h-.9zM622.75 350.5h.9v.9h-.9zM613 348.75h.9v.9h-.9zM599 345.25h.9v.9h-.9zM604.75 352.5h.9v.9h-.9zM622.25 346.75h.9v.9h-.9zM623 353.5h.9v.9h-.9zM593.25 346.75h.9v.9h-.9zM622.75 350.5h.9v.9h-.9zM603.75 351.25h.9v.9h-.9zM625.5 343.25h.9v.9h-.9zM619 347h.9v.9h-.9zM602.25 347h.9v.9h-.9zM616.5 349h.9v.9h-.9zM605.75 349h.9v.9h-.9zM618.25 347h.9v.9h-.9zM615.5 342.5h.9v.9h-.9zM596.5 344.5h.9v.9h-.9zM602.25 350.25h.9v.9h-.9zM621.5 346.25h.9v.9h-.9zM623.75 349h.9v.9h-.9zM592 349.25h.9v.9h-.9zM590.75 350.5h.9v.9h-.9zM605 348h.9v.9h-.9zM625 349.5h.9v.9h-.9zM603.75 346.5h.9v.9h-.9zM594.5 345h.9v.9h-.9zM608.5 348.75h.9v.9h-.9zM604 347.75h.9v.9h-.9zM606.75 345.75h.9v.9h-.9zM604.75 344.75h.9v.9h-.9zM595.75 348h.9v.9h-.9zM590 346.5h.9v.9h-.9zM617.5 346h.9v.9h-.9zM621.5 347.25h.9v.9h-.9zM604.75 343.75h.9v.9h-.9zM608.25 348.25h.9v.9h-.9zM590.5 347.75h.9v.9h-.9zM613.25 348.5h.9v.9h-.9zM622.75 349.75h.9v.9h-.9zM619 348h.9v.9h-.9zM609 347h.9v.9h-.9zM612.75 347.5h.9v.9h-.9zM606.5 347h.9v.9h-.9zM589.25 348h.9v.9h-.9zM598.5 350.75h.9v.9h-.9zM604.75 347.5h.9v.9h-.9zM595 346.25h.9v.9h-.9zM618.75 351h.9v.9h-.9zM601.25 346.75h.9v.9h-.9zM618.5 350.25h.9v.9h-.9zM602.75 349.5h.9v.9h-.9zM609.25 345.5h.9v.9h-.9zM613.5 342h.9v.9h-.9zM608 348.25h.9v.9h-.9zM600.75 348.5h.9v.9h-.9zM596.75 347.5h.9v.9h-.9zM604.75 348h.9v.9h-.9zM620.75 347h.9v.9h-.9zM599.5 351.25h.9v.9h-.9zM596.75 348.25h.9v.9h-.9zM615.25 349.5h.9v.9h-.9zM601.25 347.5h.9v.9h-.9zM618.75 350.5h.9v.9h-.9zM625.25 352.5h.9v.9h-.9zM588.5 343h.9v.9h-.9zM621 345h.9v.9h-.9zM602.75 347.25h.9v.9h-.9zM617 348.25h.9v.9h-.9zM617.5 346.25h.9v.9h-.9zM608.75 347.5h.9v.9h-.9zM589.5 350.25h.9v.9h-.9zM617 347.25h.9v.9h-.9zM588 345.25h.9v.9h-.9zM597.75 349.5h.9v.9h-.9zM612 351h.9v.9h-.9zM604.75 348h.9v.9h-.9zM595.75 351h.9v.9h-.9zM608.25 350.75h.9v.9h-.9zM595.5 349.75h.9v.9h-.9zM599.75 348.25h.9v.9h-.9zM601.25 346.75h.9v.9h-.9zM615.5 349h.9v.9h-.9zM615.5 348.25h.9v.9h-.9zM592.5 347.75h.9v.9h-.9zM591.75 349h.9v.9h-.9zM597.5 349.5h.9v.9h-.9zM621.25 347.75h.9v.9h-.9zM623.5 348.5h.9v.9h-.9zM614.25 344h.9v.9h-.9zM609.25 347.75h.9v.9h-.9zM624 342.25h.9v.9h-.9zM588.5 348.75h.9v.9h-.9zM595.5 346h.9v.9h-.9zM604.25 347.25h.9v.9h-.9zM619.5 348h.9v.9h-.9zM599.75 342.75h.9v.9h-.9zM598.25 347.25h.9v.9h-.9zM596 346h.9v.9h-.9zM592.5 346.25h.9v.9h-.9zM594.75 347.75h.9v.9h-.9zM604.75 344.75h.9v.9h-.9zM599.5 351.5h.9v.9h-.9zM615.25 348.25h.9v.9h-.9zM601 344.25h.9v.9h-.9zM609.25 349.75h.9v.9h-.9zM606 348.25h.9v.9h-.9zM621.5 346.5h.9v.9h-.9zM611 343.5h.9v.9h-.9zM621.5 344.75h.9v.9h-.9zM589.25 348.25h.9v.9h-.9zM608.25 349.25h.9v.9h-.9zM619.5 349.25h.9v.9h-.9zM613 345.5h.9v.9h-.9zM595.25 349.25h.9v.9h-.9zM625 349.25h.9v.9h-.9zM595.25 347.75h.9v.9h-.9zM598.5 348.25h.9v.9h-.9zM592.5 346h.9v.9h-.9zM594.75 345.5h.9v.9h-.9zM618 345h.9v.9h-.9zM620.5 346h.9v.9h-.9zM592.75 347h.9v.9h-.9zM605.75 344h.9v.9h-.9zM623.25 348.75h.9v.9h-.9zM624.25 345.75h.9v.9h-.9zM601 343h.9v.9h-.9zM595.5 348.75h.9v.9h-.9zM608.5 346.75h.9v.9h-.9zM620 348h.9v.9h-.9zM617.25 347.75h.9v.9h-.9zM591.75 350.75h.9v.9h-.9zM624.25 344.5h.9v.9h-.9zM615.25 345.25h.9v.9h-.9zM600 348.5h.9v.9h-.9zM616.25 349.75h.9v.9h-.9zM589.75 345.75h.9v.9h-.9zM618.25 348.5h.9v.9h-.9zM605.75 347h.9v.9h-.9zM608.5 349.5h.9v.9h-.9zM589 348.5h.9v.9h-.9zM620.5 347.5h.9v.9h-.9zM613.5 353h.9v.9h-.9zM623.75 345h.9v.9h-.9zM624 344.75h.9v.9h-.9zM615.5 346h.9v.9h-.9zM611 342.5h.9v.9h-.9zM604.5 347.25h.9v.9h-.9zM610.5 347h.9v.9h-.9zM589.25 349.25h.9v.9h-.9zM622.75 347.75h.9v.9h-.9zM593.25 347h.9v.9h-.9zM625.5 347.75h.9v.9h-.9zM593.5 349.25h.9v.9h-.9zM621.75 349.25h.9v.9h-.9zM593 350.25h.9v.9h-.9zM603.75 347.5h.9v.9h-.9zM603.75 347.75h.9v.9h-.9zM590.25 346.5h.9v.9h-.9zM624 347.75h.9v.9h-.9zM619.75 347.75h.9v.9h-.9zM614.25 348.25h.9v.9h-.9zM606.75 349h.9v.9h-.9zM607.25 347.5h.9v.9h-.9zM618.25 344.5h.9v.9h-.9zM604 344.25h.9v.9h-.9zM598 347.5h.9v.9h-.9zM612.5 345.25h.9v.9h-.9zM609.5 345.5h.9v.9h-.9zM607.25 349.5h.9v.9h-.9zM625.25 347.5h.9v.9h-.9zM600.5 347.25h.9v.9h-.9zM599.75 346h.9v.9h-.9zM589.25 346h.9v.9h-.9zM622.75 352.25h.9v.9h-.9zM614.25 347.25h.9v.9h-.9zM615.5 347.5h.9v.9h-.9zM615.5 349.5h.9v.9h-.9zM595.75 350.5h.9v.9h-.9zM617.25 348.75h.9v.9h-.9zM594.5 350h.9v.9h-.9zM618.25 344.25h.9v.9h-.9zM625 346.5h.9v.9h-.9zM592 346.75h.9v.9h-.9zM615.25 347.75h.9v.9h-.9zM617.5 351h.9v.9h-.9zM607.5 352.25h.9v.9h-.9zM612.5 349.5h.9v.9h-.9zM612.75 350h.9v.9h-.9zM616.5 349h.9v.9h-.9zM609.75 346h.9v.9h-.9zM604 346h.9v.9h-.9zM604.25 349.75h.9v.9h-.9zM602.75 348.5h.9v.9h-.9zM604.25 351.75h.9v.9h-.9zM591.5 343.25h.9v.9h-.9zM588.75 348h.9v.9h-.9zM605 350h.9v.9h-.9zM610.25 348.75h.9v.9h-.9zM588.75 346.5h.9v.9h-.9zM621 346h.9v.9h-.9zM605.5 348.25h.9v.9h-.9zM600.25 343.25h.9v.9h-.9zM619.5 346h.9v.9h-.9zM597.25 347.75h.9v.9h-.9zM618 344.25h.9v.9h-.9zM605.75 349h.9v.9h-.9zM618.25 346.5h.9v.9h-.9zM620.5 347h.9v.9h-.9zM610.5 348.5h.9v.9h-.9zM625.25 348.25h.9v.9h-.9zM593.5 350h.9v.9h-.9zM590.25 347.75h.9v.9h-.9zM618.5 348.5h.9v.9h-.9zM613.25 352.25h.9v.9h-.9zM623.25 347h.9v.9h-.9zM611.25 345.25h.9v.9h-.9zM604 346h.9v.9h-.9zM597.5 344.5h.9v.9h-.9zM592.75 349.25h.9v.9h-.9zM596.75 349.25h.9v.9h-.9zM600.25 345.25h.9v.9h-.9zM604.5 347h.9v.9h-.9zM615.25 349h.9v.9h-.9zM600.5 342.5h.9v.9h-.9zM600.5 349.5h.9v.9h-.9zM611 346h.9v.9h-.9zM611.5 346.25h.9v.9h-.9zM612 348h.9v.9h-.9zM592.75 347.25h.9v.9h-.9zM609.25 346.75h.9v.9h-.9zM611.25 346h.9v.9h-.9zM622 349.5h.9v.9h-.9zM610.25 347.75h.9v.9h-.9zM598.5 347.5h.9v.9h-.9zM598 349h.9v.9h-.9zM604.5 346.5h.9v.9h-.9zM595.25 348.5h.9v.9h-.9zM593 347.25h.9v.9h-.9zM603 345.75h.9v.9h-.9zM616.75 349.75h.9v.9h-.9zM603 346.25h.9v.9h-.9zM617.25 345.75h.9v.9h-.9zM622.75 349h.9v.9h-.9zM597.5 345h.9v.9h-.9zM613.75 348h.9v.9h-.9zM602.5 347.75h.9v.9h-.9zM621.5 346.5h.9v.9h-.9zM601.5 348.5h.9v.9h-.9zM608 350h.9v.9h-.9zM595.75 346.75h.9v.9h-.9zM613.75 345.75h.9v.9h-.9zM608.5 344.25h.9v.9h-.9zM604.5 347.5h.9v.9h-.9zM590.75 347.75h.9v.9h-.9zM619 346.25h.9v.9h-.9zM608.75 348.5h.9v.9h-.9zM599 346.25h.9v.9h-.9zM598.5 350h.9v.9h-.9zM617.75 344.5h.9v.9h-.9zM614.25 345.25h.9v.9h-.9zM592.25 349.75h.9v.9h-.9zM589.75 346.75h.9v.9h-.9zM608 346.25h.9v.9h-.9zM619 349.75h.9v.9h-.9zM597.25 349h.9v.9h-.9zM625 347.75h.9v.9h-.9zM589.75 349.75h.9v.9h-.9zM625 347.75h.9v.9h-.9zM592.5 343.25h.9v.9h-.9zM612.75 350.5h.9v.9h-.9zM599.25 344h.9v.9h-.9zM591.75 346.5h.9v.9h-.9zM625 343.75h.9v.9h-.9zM612.25 348.5h.9v.9h-.9zM598.25 349.25h.9v.9h-.9zM591.25 347h.9v.9h-.9zM611.25 347.75h.9v.9h-.9zM601.25 346.75h.9v.9h-.9zM623 345.5h.9v.9h-.9zM597.5 346h.9v.9h-.9zM612.75 345h.9v.9h-.9zM607.25 345.75h.9v.9h-.9zM592.25 343.5h.9v.9h-.9zM594.5 347.5h.9v.9h-.9zM606 345h.9v.9h-.9zM609 348.25h.9v.9h-.9zM605.75 352.5h.9v.9h-.9zM589.75 347.5h.9v.9h-.9zM600 348h.9v.9h-.9zM593.5 350.75h.9v.9h-.9zM593 350h.9v.9h-.9zM599.25 345.75h.9v.9h-.9zM592.25 350.5h.9v.9h-.9zM614 347h.9v.9h-.9zM594 350h.9v.9h-.9zM613 348.25h.9v.9h-.9zM594.25 346.5h.9v.9h-.9zM603.25 346.25h.9v.9h-.9zM608.75 346h.9v.9h-.9zM608.75 351h.9v.9h-.9zM591.25 345.5h.9v.9h-.9zM600.5 343.5h.9v.9h-.9zM622.75 349.5h.9v.9h-.9zM617 351.5h.9v.9h-.9zM609.75 348.5h.9v.9h-.9zM592.5 347.75h.9v.9h-.9zM621 346.75h.9v.9h-.9zM600.25 350h.9v.9h-.9zM591.75 346.25h.9v.9h-.9zM614.75 346.5h.9v.9h-.9zM621.25 351.5h.9v.9h-.9zM636.75 345.25h.9v.9h-.9zM644 344.75h.9v.9h-.9zM637.75 348.5h.9v.9h-.9zM646.75 346.5h.9v.9h-.9zM639.5 347h.9v.9h-.9zM636.75 349.5h.9v.9h-.9zM640.5 347.75h.9v.9h-.9zM637.5 352.25h.9v.9h-.9zM644 351.25h.9v.9h-.9zM645.25 345.25h.9v.9h-.9zM641.25 348.75h.9v.9h-.9zM647.75 346.25h.9v.9h-.9zM646 348h.9v.9h-.9zM634.25 346.75h.9v.9h-.9zM649.25 343.75h.9v.9h-.9zM640.75 346.75h.9v.9h-.9zM641.25 350h.9v.9h-.9zM641.25 348.25h.9v.9h-.9zM632.25 346.75h.9v.9h-.9zM633.25 348.25h.9v.9h-.9zM643.5 350.25h.9v.9h-.9zM644 350.75h.9v.9h-.9zM648.5 347.25h.9v.9h-.9zM635.25 347.5h.9v.9h-.9zM645.5 346h.9v.9h-.9zM645.5 345.5h.9v.9h-.9zM633.5 352.5h.9v.9h-.9zM645 348.5h.9v.9h-.9zM638.25 349.5h.9v.9h-.9zM649 347.5h.9v.9h-.9zM645.75 348.5h.9v.9h-.9zM644.75 349.5h.9v.9h-.9zM640 347h.9v.9h-.9zM647.5 349.75h.9v.9h-.9zM643.75 350.5h.9v.9h-.9zM646 346.75h.9v.9h-.9zM640.75 347.5h.9v.9h-.9zM648 347.75h.9v.9h-.9zM644.25 352h.9v.9h-.9zM633.5 347.5h.9v.9h-.9zM637 348.5h.9v.9h-.9zM637.75 351.75h.9v.9h-.9zM649.75 348h.9v.9h-.9zM633 348.25h.9v.9h-.9zM632 349.5h.9v.9h-.9zM635.75 348.5h.9v.9h-.9zM639.25 343.25h.9v.9h-.9zM646.75 345.25h.9v.9h-.9zM641.25 349.5h.9v.9h-.9zM642.25 347h.9v.9h-.9zM637.25 342h.9v.9h-.9zM644.5 348.5h.9v.9h-.9zM646.5 346.75h.9v.9h-.9zM637.25 347.25h.9v.9h-.9zM633 353.5h.9v.9h-.9zM646.75 344.5h.9v.9h-.9zM649 347.5h.9v.9h-.9zM631 346h.9v.9h-.9zM636 345h.9v.9h-.9zM636.5 346.75h.9v.9h-.9zM643.5 350.5h.9v.9h-.9zM636.5 348.75h.9v.9h-.9zM644.75 349h.9v.9h-.9zM639.75 351h.9v.9h-.9zM639.5 347.75h.9v.9h-.9zM639.5 347h.9v.9h-.9zM642.5 346h.9v.9h-.9zM647.5 343.5h.9v.9h-.9zM647 346.5h.9v.9h-.9zM634 350h.9v.9h-.9zM635.75 348.25h.9v.9h-.9zM632.75 354.25h.9v.9h-.9zM630.75 349h.9v.9h-.9zM642.25 346h.9v.9h-.9zM632.75 346.5h.9v.9h-.9zM648 349.25h.9v.9h-.9zM637 348.25h.9v.9h-.9zM649.25 346.25h.9v.9h-.9zM642 347.25h.9v.9h-.9zM641 348.5h.9v.9h-.9zM644.75 342.5h.9v.9h-.9zM632.5 348.25h.9v.9h-.9zM637.75 345h.9v.9h-.9zM649 347.75h.9v.9h-.9zM635.5 342.25h.9v.9h-.9zM635.75 346.75h.9v.9h-.9zM641.5 349.5h.9v.9h-.9zM648.5 345.5h.9v.9h-.9zM648.75 346.5h.9v.9h-.9zM646.5 349h.9v.9h-.9zM631 352.25h.9v.9h-.9zM635.5 345h.9v.9h-.9zM637.75 349h.9v.9h-.9zM644.25 348.5h.9v.9h-.9zM643.25 343.5h.9v.9h-.9zM632 344.75h.9v.9h-.9zM644 348.5h.9v.9h-.9zM632 346.75h.9v.9h-.9zM649.75 347h.9v.9h-.9zM646 350h.9v.9h-.9zM649.25 345.25h.9v.9h-.9zM636 349h.9v.9h-.9zM640.5 344h.9v.9h-.9zM643.5 348h.9v.9h-.9zM646.75 350h.9v.9h-.9zM647 346h.9v.9h-.9zM634.5 347.25h.9v.9h-.9zM641 348h.9v.9h-.9zM641.75 344.5h.9v.9h-.9zM639 343.75h.9v.9h-.9zM634.25 350.25h.9v.9h-.9zM639 346h.9v.9h-.9zM630.75 344.75h.9v.9h-.9zM633.25 345.75h.9v.9h-.9zM635.5 346h.9v.9h-.9zM647.5 351.75h.9v.9h-.9zM634 344h.9v.9h-.9zM642.25 347.5h.9v.9h-.9zM637.75 345.25h.9v.9h-.9zM635.25 347.5h.9v.9h-.9zM642 346.25h.9v.9h-.9zM632 347.75h.9v.9h-.9zM644 346.5h.9v.9h-.9zM639 346.75h.9v.9h-.9zM649.5 348.5h.9v.9h-.9zM639.75 346h.9v.9h-.9zM633.75 350.5h.9v.9h-.9zM636.75 345.75h.9v.9h-.9zM646 347.25h.9v.9h-.9zM642.75 346.75h.9v.9h-.9zM639.25 346.75h.9v.9h-.9zM645 348.25h.9v.9h-.9zM643.5 348.5h.9v.9h-.9zM642.5 346.75h.9v.9h-.9zM645.25 350.25h.9v.9h-.9zM643.75 347.25h.9v.9h-.9zM642.25 349h.9v.9h-.9zM639.5 347h.9v.9h-.9zM641.25 342h.9v.9h-.9zM641.25 352h.9v.9h-.9zM637 347.25h.9v.9h-.9zM644.75 344.5h.9v.9h-.9zM635.5 350.75h.9v.9h-.9zM638.25 355.5h.9v.9h-.9zM648.75 350.75h.9v.9h-.9zM647.25 346.5h.9v.9h-.9zM634.5 351.25h.9v.9h-.9zM631.75 342.25h.9v.9h-.9zM636.5 351.25h.9v.9h-.9zM642.75 347.25h.9v.9h-.9zM648.5 347.75h.9v.9h-.9zM632 347.75h.9v.9h-.9zM631.25 348.25h.9v.9h-.9zM640.75 347.5h.9v.9h-.9zM642.75 346.25h.9v.9h-.9zM638.5 343.5h.9v.9h-.9zM649 349.75h.9v.9h-.9zM641 345.25h.9v.9h-.9zM635.75 347.75h.9v.9h-.9zM635.5 347.75h.9v.9h-.9zM636.75 345.75h.9v.9h-.9zM631.25 349.5h.9v.9h-.9zM636.25 350.75h.9v.9h-.9zM632.75 350.25h.9v.9h-.9zM645.5 349.75h.9v.9h-.9zM638.75 346h.9v.9h-.9zM639 342.75h.9v.9h-.9zM648.25 348h.9v.9h-.9zM644.75 348h.9v.9h-.9zM631.25 348.75h.9v.9h-.9zM646.5 349.25h.9v.9h-.9zM636.75 350.5h.9v.9h-.9zM635.75 345.25h.9v.9h-.9zM631 349h.9v.9h-.9zM637.25 348.25h.9v.9h-.9zM649.5 347h.9v.9h-.9zM648 347.5h.9v.9h-.9zM638.75 347.75h.9v.9h-.9zM632.75 348.25h.9v.9h-.9zM645.75 351.75h.9v.9h-.9zM645.75 347.5h.9v.9h-.9zM632.5 347.5h.9v.9h-.9zM646.75 346.5h.9v.9h-.9zM635.25 350h.9v.9h-.9zM647 346.25h.9v.9h-.9zM630.75 346.25h.9v.9h-.9zM649.5 351h.9v.9h-.9zM646 345.75h.9v.9h-.9zM641.75 343.75h.9v.9h-.9zM648.5 348h.9v.9h-.9zM649.25 344.5h.9v.9h-.9zM635 345.75h.9v.9h-.9zM636.75 351.25h.9v.9h-.9zM631.75 342h.9v.9h-.9zM639 342.25h.9v.9h-.9zM640.25 342h.9v.9h-.9zM644.25 351.5h.9v.9h-.9zM637 348.25h.9v.9h-.9zM638.5 347.75h.9v.9h-.9zM647.75 351.25h.9v.9h-.9zM636.5 345.5h.9v.9h-.9zM641.75 350.75h.9v.9h-.9zM638.5 348.5h.9v.9h-.9zM632.5 348h.9v.9h-.9zM636.5 347.25h.9v.9h-.9zM644.5 347.25h.9v.9h-.9zM644.75 348.75h.9v.9h-.9zM644.5 348.75h.9v.9h-.9zM646.5 348.75h.9v.9h-.9zM641.5 348.75h.9v.9h-.9zM638.25 347.75h.9v.9h-.9zM647.25 346.5h.9v.9h-.9zM642.75 346.5h.9v.9h-.9zM635.75 348.25h.9v.9h-.9zM640.5 346h.9v.9h-.9zM641 347h.9v.9h-.9zM640 345.25h.9v.9h-.9zM643 349.25h.9v.9h-.9zM642 347.25h.9v.9h-.9zM630.5 349.75h.9v.9h-.9zM649.5 347.25h.9v.9h-.9zM632.75 348.75h.9v.9h-.9zM635 348.25h.9v.9h-.9zM631 348.75h.9v.9h-.9zM640.25 346h.9v.9h-.9zM638 347.5h.9v.9h-.9zM634.5 346h.9v.9h-.9zM635.25 347.75h.9v.9h-.9zM636.75 349.5h.9v.9h-.9zM636.75 346.5h.9v.9h-.9zM631 345.75h.9v.9h-.9zM640 350.75h.9v.9h-.9zM630.75 347.25h.9v.9h-.9zM639.5 342.75h.9v.9h-.9zM634.5 345.75h.9v.9h-.9zM633 352h.9v.9h-.9zM640.25 348.75h.9v.9h-.9zM636.75 348h.9v.9h-.9zM642.5 349.25h.9v.9h-.9zM642.5 350.5h.9v.9h-.9zM638 347.25h.9v.9h-.9zM646.75 347.5h.9v.9h-.9zM647.25 347h.9v.9h-.9zM645.5 348.25h.9v.9h-.9zM634 348.5h.9v.9h-.9zM647.25 346.5h.9v.9h-.9zM646.5 346.5h.9v.9h-.9zM648.75 349.5h.9v.9h-.9zM635.5 350.75h.9v.9h-.9zM635 349.25h.9v.9h-.9zM638 344.5h.9v.9h-.9zM634.25 345.25h.9v.9h-.9zM633.25 348.25h.9v.9h-.9zM643 344.5h.9v.9h-.9zM640.75 345.5h.9v.9h-.9zM634.75 350.75h.9v.9h-.9zM641 346.75h.9v.9h-.9zM633.5 346.25h.9v.9h-.9zM632 350.5h.9v.9h-.9zM643.25 344h.9v.9h-.9zM632.25 347h.9v.9h-.9zM640.75 344.75h.9v.9h-.9zM631.25 345.25h.9v.9h-.9zM642.25 346h.9v.9h-.9zM632.25 347.5h.9v.9h-.9zM642 349.25h.9v.9h-.9zM640.75 350.5h.9v.9h-.9zM638.25 343h.9v.9h-.9zM638.75 351.75h.9v.9h-.9zM649.75 348.75h.9v.9h-.9zM645.5 351.25h.9v.9h-.9zM643 348.5h.9v.9h-.9zM649 344h.9v.9h-.9zM634.75 348.25h.9v.9h-.9zM641.5 349.25h.9v.9h-.9zM645.75 347h.9v.9h-.9zM634.75 348.25h.9v.9h-.9zM638.75 350.25h.9v.9h-.9zM644.25 348.75h.9v.9h-.9zM649.75 354.5h.9v.9h-.9zM646 348h.9v.9h-.9zM640.25 344.25h.9v.9h-.9zM648.75 349.75h.9v.9h-.9zM631 347h.9v.9h-.9zM639.75 349.5h.9v.9h-.9zM632.75 348h.9v.9h-.9zM640 346.5h.9v.9h-.9zM639.25 347h.9v.9h-.9zM637.25 350.5h.9v.9h-.9zM638 347.75h.9v.9h-.9zM633.25 344.75h.9v.9h-.9zM649.25 347.25h.9v.9h-.9zM636 348.75h.9v.9h-.9zM645 346h.9v.9h-.9zM640 347.5h.9v.9h-.9zM633.25 348h.9v.9h-.9zM634.5 349.25h.9v.9h-.9zM638 346h.9v.9h-.9zM649.25 350.5h.9v.9h-.9zM649.25 346.5h.9v.9h-.9zM643 351.25h.9v.9h-.9zM637 350h.9v.9h-.9zM631.25 345h.9v.9h-.9zM641.75 348.5h.9v.9h-.9zM632 347.75h.9v.9h-.9zM643 349.75h.9v.9h-.9zM636 345.75h.9v.9h-.9zM636 348.75h.9v.9h-.9zM647.75 347.25h.9v.9h-.9zM640 346h.9v.9h-.9zM649.5 346.5h.9v.9h-.9zM646 346.75h.9v.9h-.9zM632 351h.9v.9h-.9zM644.25 345.75h.9v.9h-.9zM646 344.25h.9v.9h-.9zM637.5 344.5h.9v.9h-.9zM646.25 352.25h.9v.9h-.9zM639.75 346.75h.9v.9h-.9zM635.5 346.25h.9v.9h-.9zM631.5 345.5h.9v.9h-.9zM633.75 345.5h.9v.9h-.9zM647.25 349.75h.9v.9h-.9zM633.5 350.25h.9v.9h-.9zM632.75 347.25h.9v.9h-.9zM635.75 344.5h.9v.9h-.9zM640.5 349.25h.9v.9h-.9zM642.25 344h.9v.9h-.9zM642 352h.9v.9h-.9zM631.5 346.75h.9v.9h-.9zM635.25 348.75h.9v.9h-.9zM633.25 350.75h.9v.9h-.9zM639.5 348h.9v.9h-.9zM639.75 345.5h.9v.9h-.9zM641 345h.9v.9h-.9zM636.5 345h.9v.9h-.9zM648.5 352.25h.9v.9h-.9zM649.5 345.75h.9v.9h-.9zM639.25 346.75h.9v.9h-.9zM635.5 347.75h.9v.9h-.9zM633.25 352.5h.9v.9h-.9zM640.25 343h.9v.9h-.9zM639.25 348.75h.9v.9h-.9zM632.75 350.25h.9v.9h-.9zM645.75 347h.9v.9h-.9zM634.25 348.75h.9v.9h-.9zM630.75 341.25h.9v.9h-.9zM642.5 344.5h.9v.9h-.9zM638.75 345.5h.9v.9h-.9zM648.5 347h.9v.9h-.9zM635 343.25h.9v.9h-.9zM631.5 347h.9v.9h-.9zM638 347.25h.9v.9h-.9zM649.25 349.75h.9v.9h-.9zM631.25 344.75h.9v.9h-.9zM640.5 348.75h.9v.9h-.9zM641.75 348h.9v.9h-.9zM639.25 349.75h.9v.9h-.9zM644 344h.9v.9h-.9zM633 347h.9v.9h-.9zM635.75 347.25h.9v.9h-.9zM642.75 342h.9v.9h-.9zM647.25 348.75h.9v.9h-.9zM633 346.75h.9v.9h-.9zM639.75 351.25h.9v.9h-.9zM649.75 348.5h.9v.9h-.9zM634.75 348.25h.9v.9h-.9zM633 350h.9v.9h-.9zM647.25 349.75h.9v.9h-.9zM630.75 341.75h.9v.9h-.9zM635.75 347.25h.9v.9h-.9zM635.75 347h.9v.9h-.9zM646 348.5h.9v.9h-.9zM648 350.5h.9v.9h-.9zM630.75 348.75h.9v.9h-.9zM642.25 350.5h.9v.9h-.9zM640.5 350.25h.9v.9h-.9zM632.75 347h.9v.9h-.9zM632.25 344.5h.9v.9h-.9zM632.75 347.75h.9v.9h-.9zM641.25 343.75h.9v.9h-.9zM637.5 344.75h.9v.9h-.9zM635.25 348.25h.9v.9h-.9zM641.5 346.25h.9v.9h-.9zM639 349.25h.9v.9h-.9zM641.75 344.5h.9v.9h-.9zM634 348h.9v.9h-.9zM641.75 348.75h.9v.9h-.9zM644.25 345.5h.9v.9h-.9zM631 349.5h.9v.9h-.9zM642.25 347.75h.9v.9h-.9zM646.5 350.75h.9v.9h-.9zM636.25 347h.9v.9h-.9zM635.5 350.5h.9v.9h-.9zM635 347.75h.9v.9h-.9zM645.25 349.75h.9v.9h-.9zM635.5 347.75h.9v.9h-.9zM646.75 343.25h.9v.9h-.9zM635.5 350.75h.9v.9h-.9zM632 348h.9v.9h-.9zM647 348h.9v.9h-.9zM630 356.5h.9v.9h-.9zM615.25 353.75h.9v.9h-.9zM598 356.25h.9v.9h-.9zM636.75 353.75h.9v.9h-.9zM624.25 358.25h.9v.9h-.9zM601.5 357h.9v.9h-.9zM590 354h.9v.9h-.9zM623.5 352h.9v.9h-.9zM622.25 352h.9v.9h-.9zM617 355h.9v.9h-.9zM605.5 355.5h.9v.9h-.9zM646 355.25h.9v.9h-.9zM588.25 356.25h.9v.9h-.9zM600.25 354.25h.9v.9h-.9zM619.5 355.25h.9v.9h-.9zM645.25 353.25h.9v.9h-.9zM593.5 358.75h.9v.9h-.9zM631.5 354.5h.9v.9h-.9zM628.5 355.25h.9v.9h-.9zM590.25 355.5h.9v.9h-.9zM639.75 354.5h.9v.9h-.9zM590.75 358h.9v.9h-.9zM644 354.75h.9v.9h-.9zM598.25 353.5h.9v.9h-.9zM645.25 352.5h.9v.9h-.9zM628 352.75h.9v.9h-.9zM593.5 355.5h.9v.9h-.9zM638.25 356.25h.9v.9h-.9zM597 352.5h.9v.9h-.9zM631.5 358.75h.9v.9h-.9zM592 354.75h.9v.9h-.9zM647 354.25h.9v.9h-.9zM642.25 358h.9v.9h-.9zM623.75 357.5h.9v.9h-.9zM608.5 357.75h.9v.9h-.9zM616.75 358.5h.9v.9h-.9zM628.75 354h.9v.9h-.9zM644 353.25h.9v.9h-.9zM592.75 352.5h.9v.9h-.9zM621.5 352h.9v.9h-.9zM618.5 358.25h.9v.9h-.9zM631.5 357.5h.9v.9h-.9zM649 354.75h.9v.9h-.9zM643.75 355.25h.9v.9h-.9zM608.25 354h.9v.9h-.9zM632 355.5h.9v.9h-.9zM605 355.75h.9v.9h-.9zM632.25 357.25h.9v.9h-.9zM597.75 355.25h.9v.9h-.9zM628.75 358.5h.9v.9h-.9zM604.75 351.75h.9v.9h-.9zM604.5 353h.9v.9h-.9zM607 358.25h.9v.9h-.9zM618 352.5h.9v.9h-.9zM636 358.5h.9v.9h-.9zM631.5 354.25h.9v.9h-.9zM618 354h.9v.9h-.9zM620.25 357.5h.9v.9h-.9zM631 358h.9v.9h-.9zM607.25 352.5h.9v.9h-.9zM629.25 372.5h.9v.9h-.9zM629.5 372.75h.9v.9h-.9zM628.75 372h.9v.9h-.9zM627.75 374.5h.9v.9h-.9zM627.75 366.5h.9v.9h-.9zM630 370.75h.9v.9h-.9zM628.25 368.25h.9v.9h-.9zM628.5 368.75h.9v.9h-.9zM629.5 371.25h.9v.9h-.9zM629.75 375.5h.9v.9h-.9zM630 372h.9v.9h-.9zM629.75 368.5h.9v.9h-.9zM628.5 373.75h.9v.9h-.9zM628.75 378h.9v.9h-.9zM630 370.25h.9v.9h-.9zM629 372h.9v.9h-.9zM630 378h.9v.9h-.9zM628.75 370.25h.9v.9h-.9zM629 372.75h.9v.9h-.9zM628.5 376h.9v.9h-.9zM629.5 374.5h.9v.9h-.9zM630.25 367.5h.9v.9h-.9zM630.25 375.5h.9v.9h-.9zM629 377.5h.9v.9h-.9zM628.75 378h.9v.9h-.9zM629 367h.9v.9h-.9zM629.75 374.25h.9v.9h-.9zM628.5 367.25h.9v.9h-.9zM627.75 368.25h.9v.9h-.9zM630 378h.9v.9h-.9zM630.25 370.75h.9v.9h-.9zM628.75 373.5h.9v.9h-.9zM629.25 372.25h.9v.9h-.9zM630 367.75h.9v.9h-.9zM628.5 378.75h.9v.9h-.9zM629.75 370.75h.9v.9h-.9zM629.5 378h.9v.9h-.9zM628 367.75h.9v.9h-.9zM628.75 373h.9v.9h-.9zM630.25 376.5h.9v.9h-.9zM629.5 378h.9v.9h-.9zM629.25 369.75h.9v.9h-.9zM628.25 369.5h.9v.9h-.9zM630.25 368.5h.9v.9h-.9zM629.75 367h.9v.9h-.9zM629.5 372h.9v.9h-.9zM629.75 368.75h.9v.9h-.9zM629.25 370.5h.9v.9h-.9zM628.25 374.75h.9v.9h-.9zM628.5 368.25h.9v.9h-.9zM629.75 375.25h.9v.9h-.9zM630.25 378h.9v.9h-.9zM628 374.75h.9v.9h-.9zM628 367h.9v.9h-.9zM628.75 374h.9v.9h-.9zM630 372.25h.9v.9h-.9zM629.25 373.25h.9v.9h-.9zM629 367h.9v.9h-.9zM628.5 372.25h.9v.9h-.9zM629 377h.9v.9h-.9zM628 372.5h.9v.9h-.9zM629.75 373.5h.9v.9h-.9zM628 367.25h.9v.9h-.9zM628 367.75h.9v.9h-.9zM627.75 370.75h.9v.9h-.9zM628 375.5h.9v.9h-.9zM628.75 369.5h.9v.9h-.9zM628.75 373.75h.9v.9h-.9zM628.75 372.25h.9v.9h-.9zM628.5 367h.9v.9h-.9zM641 369.25h.9v.9h-.9zM641.25 367.5h.9v.9h-.9zM641.5 369.75h.9v.9h-.9zM641.5 367.5h.9v.9h-.9zM641.75 368h.9v.9h-.9zM641.25 367.75h.9v.9h-.9zM641.25 368h.9v.9h-.9zM641.5 367h.9v.9h-.9zM641.5 368h.9v.9h-.9zM641.25 366h.9v.9h-.9zM641.5 365.25h.9v.9h-.9zM641.25 369.5h.9v.9h-.9zM469.5 418.5h.9v.9h-.9zM470 418.25h.9v.9h-.9zM473.5 421.5h.9v.9h-.9zM470.5 415.75h.9v.9h-.9zM470.5 419h.9v.9h-.9zM473.75 418.25h.9v.9h-.9zM473 419.25h.9v.9h-.9zM473.5 416h.9v.9h-.9zM471.75 421.5h.9v.9h-.9zM472 421h.9v.9h-.9zM469.5 422.25h.9v.9h-.9zM471.5 416h.9v.9h-.9zM473.25 416.5h.9v.9h-.9zM475 417.5h.9v.9h-.9zM471.5 421h.9v.9h-.9zM470.5 417.75h.9v.9h-.9zM470.25 417.25h.9v.9h-.9zM472.5 417.25h.9v.9h-.9zM475.5 415.5h.9v.9h-.9zM475.5 420.25h.9v.9h-.9zM474.75 418.25h.9v.9h-.9zM475.75 419.25h.9v.9h-.9zM475 421.25h.9v.9h-.9zM472 421h.9v.9h-.9zM471.75 418h.9v.9h-.9zM470.75 417.5h.9v.9h-.9zM469.75 417.75h.9v.9h-.9zM475 421h.9v.9h-.9zM470.75 420.75h.9v.9h-.9zM474.75 420h.9v.9h-.9zM470.25 420.75h.9v.9h-.9zM471 421.25h.9v.9h-.9zM469.25 421.5h.9v.9h-.9zM474.75 419.25h.9v.9h-.9zM470.25 418.75h.9v.9h-.9zM474.5 417.75h.9v.9h-.9zM470.5 419.75h.9v.9h-.9zM469.25 419.75h.9v.9h-.9zM473.75 420.25h.9v.9h-.9zM472.25 419.25h.9v.9h-.9zM475.5 421.25h.9v.9h-.9zM471.75 417.75h.9v.9h-.9zM472.5 415.5h.9v.9h-.9zM473 418.25h.9v.9h-.9zM471.25 419.5h.9v.9h-.9zM475.5 418.25h.9v.9h-.9zM474.75 421.25h.9v.9h-.9zM472.75 417.5h.9v.9h-.9zM470.25 416.25h.9v.9h-.9zM470 418.75h.9v.9h-.9zM472.75 419h.9v.9h-.9zM470 419.25h.9v.9h-.9zM473.5 423.75h.9v.9h-.9zM473.5 423h.9v.9h-.9zM472.5 414.5h.9v.9h-.9zM472.25 419h.9v.9h-.9zM475 416h.9v.9h-.9zM472.25 418.5h.9v.9h-.9zM470.25 420h.9v.9h-.9zM473 419h.9v.9h-.9zM470.25 419.75h.9v.9h-.9zM473.75 420.5h.9v.9h-.9zM473.25 420.5h.9v.9h-.9zM470.75 423.75h.9v.9h-.9zM473.75 422.5h.9v.9h-.9zM474.75 417h.9v.9h-.9zM474.25 420.5h.9v.9h-.9zM475.25 420.25h.9v.9h-.9zM475.75 417.75h.9v.9h-.9zM474.75 419.75h.9v.9h-.9zM473.75 417.5h.9v.9h-.9zM472 422.25h.9v.9h-.9zM471.5 418.5h.9v.9h-.9zM472.75 422h.9v.9h-.9zM475 419h.9v.9h-.9zM472 419.25h.9v.9h-.9zM469.5 419h.9v.9h-.9zM475 420h.9v.9h-.9zM470.25 417.25h.9v.9h-.9zM473.5 417h.9v.9h-.9zM471.75 421.25h.9v.9h-.9zM475.5 420.75h.9v.9h-.9zM472.5 421.25h.9v.9h-.9zM471.75 419.75h.9v.9h-.9zM473.75 417h.9v.9h-.9zM475.5 417.5h.9v.9h-.9zM474.25 421h.9v.9h-.9zM469.5 419.75h.9v.9h-.9zM469.5 423h.9v.9h-.9zM475 420.25h.9v.9h-.9zM470 419.25h.9v.9h-.9zM472.25 422.75h.9v.9h-.9zM475 418.75h.9v.9h-.9zM472.5 417.75h.9v.9h-.9zM474 420.75h.9v.9h-.9zM475 418.75h.9v.9h-.9zM471.5 420.5h.9v.9h-.9zM472.25 418.75h.9v.9h-.9zM473.75 421h.9v.9h-.9zM472.25 417.25h.9v.9h-.9zM468.75 417.75h.9v.9h-.9zM472.75 419.75h.9v.9h-.9zM475.75 419.25h.9v.9h-.9zM470.25 418.75h.9v.9h-.9zM469.75 418h.9v.9h-.9zM469 421.25h.9v.9h-.9zM470.75 420.5h.9v.9h-.9zM471 419.5h.9v.9h-.9zM475.25 420.5h.9v.9h-.9zM473 418.75h.9v.9h-.9zM469.5 422h.9v.9h-.9zM469.5 419.75h.9v.9h-.9zM472.75 420.5h.9v.9h-.9zM473.25 416.5h.9v.9h-.9zM475.25 420.25h.9v.9h-.9zM470 420h.9v.9h-.9zM473.75 419h.9v.9h-.9zM471.75 420h.9v.9h-.9zM470.75 423h.9v.9h-.9zM472.75 418.5h.9v.9h-.9zM474 419.25h.9v.9h-.9zM473.25 420.75h.9v.9h-.9zM471.5 421.5h.9v.9h-.9zM473.5 419h.9v.9h-.9zM470 418.75h.9v.9h-.9zM471 420.25h.9v.9h-.9zM474.75 417.5h.9v.9h-.9zM475.5 419.5h.9v.9h-.9zM469 418h.9v.9h-.9zM469 419.75h.9v.9h-.9zM491.25 417.75h.9v.9h-.9zM477.5 416.75h.9v.9h-.9zM479.5 419.75h.9v.9h-.9zM486 418.75h.9v.9h-.9zM483.75 419.5h.9v.9h-.9zM494.75 421.5h.9v.9h-.9zM492.75 417.25h.9v.9h-.9zM493.5 415.75h.9v.9h-.9zM487.5 420.5h.9v.9h-.9zM483.25 419.5h.9v.9h-.9zM481.25 418.5h.9v.9h-.9zM483.25 417h.9v.9h-.9zM491.25 422.5h.9v.9h-.9zM479 421h.9v.9h-.9zM492.75 422h.9v.9h-.9zM481.75 419.5h.9v.9h-.9zM490 421.75h.9v.9h-.9zM488 417.75h.9v.9h-.9zM480 420.25h.9v.9h-.9zM477.75 416.25h.9v.9h-.9zM488.75 422.25h.9v.9h-.9zM483.25 420.25h.9v.9h-.9zM486 422.5h.9v.9h-.9zM478.75 418.75h.9v.9h-.9zM486.5 419.5h.9v.9h-.9zM482 416.75h.9v.9h-.9zM481 418.75h.9v.9h-.9zM484 415.25h.9v.9h-.9zM493.25 419.5h.9v.9h-.9zM487.5 420.75h.9v.9h-.9zM477.5 417h.9v.9h-.9zM479.5 420.5h.9v.9h-.9zM486.75 422.25h.9v.9h-.9zM482.5 419.25h.9v.9h-.9zM493.75 419.75h.9v.9h-.9zM492.25 419.75h.9v.9h-.9zM493.5 420.25h.9v.9h-.9zM493 416.5h.9v.9h-.9zM493.25 416h.9v.9h-.9zM481.75 417.75h.9v.9h-.9zM492 420.25h.9v.9h-.9zM493.75 421.25h.9v.9h-.9zM492 414.5h.9v.9h-.9zM487.75 419.5h.9v.9h-.9zM490.75 420.25h.9v.9h-.9zM486.5 421h.9v.9h-.9zM486.5 419h.9v.9h-.9zM492.75 418h.9v.9h-.9zM492.75 420.25h.9v.9h-.9zM486.5 422h.9v.9h-.9zM487.75 419.5h.9v.9h-.9zM485.5 419.5h.9v.9h-.9zM495 418.75h.9v.9h-.9zM478.75 417.25h.9v.9h-.9zM482 419h.9v.9h-.9zM491.75 419.75h.9v.9h-.9zM491.75 418.25h.9v.9h-.9zM494.25 420.5h.9v.9h-.9zM484 423.75h.9v.9h-.9zM487.25 418h.9v.9h-.9zM489.75 419.25h.9v.9h-.9zM482.25 419.25h.9v.9h-.9zM479.25 418.75h.9v.9h-.9zM494.75 420.5h.9v.9h-.9zM489.75 418.25h.9v.9h-.9zM483.25 416.5h.9v.9h-.9zM487 416.25h.9v.9h-.9zM491.75 417.75h.9v.9h-.9zM488 420h.9v.9h-.9zM479.75 421h.9v.9h-.9zM483.25 419.5h.9v.9h-.9zM479.75 421.75h.9v.9h-.9zM481.75 419.75h.9v.9h-.9zM478.25 419.25h.9v.9h-.9zM485.5 416.75h.9v.9h-.9zM479.75 416.5h.9v.9h-.9zM491 418.75h.9v.9h-.9zM487.25 421h.9v.9h-.9zM495.25 420.75h.9v.9h-.9zM495 420.5h.9v.9h-.9zM482 417.75h.9v.9h-.9zM485 419.75h.9v.9h-.9zM483 421.5h.9v.9h-.9zM489.75 422.5h.9v.9h-.9zM480.75 416.25h.9v.9h-.9zM486.5 419.5h.9v.9h-.9zM492.75 417.25h.9v.9h-.9zM491.5 417.75h.9v.9h-.9zM491.5 419.75h.9v.9h-.9zM486 420h.9v.9h-.9zM482.25 420.75h.9v.9h-.9zM485.75 420.5h.9v.9h-.9zM487 422.75h.9v.9h-.9zM482.5 421.5h.9v.9h-.9zM482.25 419h.9v.9h-.9zM492.75 418.5h.9v.9h-.9zM494 418h.9v.9h-.9zM493.75 418h.9v.9h-.9zM493 413.5h.9v.9h-.9zM483 420h.9v.9h-.9zM478.5 419.25h.9v.9h-.9zM477.75 417h.9v.9h-.9zM482 422.25h.9v.9h-.9zM480.25 418.75h.9v.9h-.9zM479.5 419.75h.9v.9h-.9zM479.5 418.5h.9v.9h-.9zM479.25 418.25h.9v.9h-.9zM478.25 423h.9v.9h-.9zM492 417.75h.9v.9h-.9zM482.75 421.5h.9v.9h-.9zM492.25 418.75h.9v.9h-.9zM494.75 419h.9v.9h-.9zM481.5 416.5h.9v.9h-.9zM478.25 421h.9v.9h-.9zM479 420h.9v.9h-.9zM489.5 420.25h.9v.9h-.9zM489.5 419h.9v.9h-.9zM481.25 417.25h.9v.9h-.9zM493.25 421.25h.9v.9h-.9zM488.75 421.5h.9v.9h-.9zM478.5 416.75h.9v.9h-.9zM486.75 421.5h.9v.9h-.9zM488 422.5h.9v.9h-.9zM487 419.25h.9v.9h-.9zM482.5 420.75h.9v.9h-.9zM477.5 419.5h.9v.9h-.9zM486.75 417.25h.9v.9h-.9zM481.25 421.5h.9v.9h-.9zM486.5 421.5h.9v.9h-.9zM485.75 420.5h.9v.9h-.9zM486.5 420.75h.9v.9h-.9zM486.75 423h.9v.9h-.9zM491.5 419.75h.9v.9h-.9zM482 420.25h.9v.9h-.9zM483 420.75h.9v.9h-.9zM482.75 417.5h.9v.9h-.9zM495.5 419.5h.9v.9h-.9zM490 421.25h.9v.9h-.9zM494 418h.9v.9h-.9zM494.75 417h.9v.9h-.9zM484.25 417h.9v.9h-.9zM483.25 421.75h.9v.9h-.9zM480 418.75h.9v.9h-.9zM483.75 421.25h.9v.9h-.9zM485.75 419.75h.9v.9h-.9zM494 423.25h.9v.9h-.9zM491.25 418.5h.9v.9h-.9zM477.5 417.75h.9v.9h-.9zM481 420h.9v.9h-.9zM486 418.25h.9v.9h-.9zM479.75 420.5h.9v.9h-.9zM481.75 421h.9v.9h-.9zM489.75 419.5h.9v.9h-.9zM492.5 419h.9v.9h-.9zM491 418.25h.9v.9h-.9zM482.25 420.5h.9v.9h-.9zM490 416.25h.9v.9h-.9zM489.25 415.5h.9v.9h-.9zM487.25 417.75h.9v.9h-.9zM485 418.75h.9v.9h-.9zM495.25 417.75h.9v.9h-.9zM478.75 417.25h.9v.9h-.9zM495 419.5h.9v.9h-.9zM491 422.75h.9v.9h-.9zM480.75 419.25h.9v.9h-.9zM487.25 418.75h.9v.9h-.9zM478.75 419h.9v.9h-.9zM494 418.25h.9v.9h-.9zM491.75 420.5h.9v.9h-.9zM480.25 414.5h.9v.9h-.9zM480 421.75h.9v.9h-.9zM479.25 417h.9v.9h-.9zM491.75 422.5h.9v.9h-.9zM483.5 420.25h.9v.9h-.9zM478.25 416.75h.9v.9h-.9zM486.5 417.5h.9v.9h-.9zM491.25 418.75h.9v.9h-.9zM481.25 418h.9v.9h-.9zM492.75 419.75h.9v.9h-.9zM490.5 420.25h.9v.9h-.9zM478 420.75h.9v.9h-.9zM491.25 419h.9v.9h-.9zM490.5 419.75h.9v.9h-.9zM478.25 420.5h.9v.9h-.9zM489 419.5h.9v.9h-.9zM492.5 419.5h.9v.9h-.9zM493.75 420.75h.9v.9h-.9zM489.25 417.5h.9v.9h-.9zM494.25 420.75h.9v.9h-.9zM491.25 421.25h.9v.9h-.9zM486.25 417h.9v.9h-.9zM484.75 418.75h.9v.9h-.9zM483.5 420.25h.9v.9h-.9zM483 418.5h.9v.9h-.9zM491 417.75h.9v.9h-.9zM492.75 420.75h.9v.9h-.9zM479.75 422.5h.9v.9h-.9zM491.5 419.75h.9v.9h-.9zM484.5 417h.9v.9h-.9zM488.5 415.25h.9v.9h-.9zM489.25 419.75h.9v.9h-.9zM487.75 418.5h.9v.9h-.9zM484.75 417.25h.9v.9h-.9zM491 421h.9v.9h-.9zM487.75 419.25h.9v.9h-.9zM495.5 420.25h.9v.9h-.9zM488 420.25h.9v.9h-.9zM479 420h.9v.9h-.9zM490.25 419.75h.9v.9h-.9zM482 422h.9v.9h-.9zM486.25 419h.9v.9h-.9zM493.75 422h.9v.9h-.9zM479 419.25h.9v.9h-.9zM488.75 419.75h.9v.9h-.9zM487 417.5h.9v.9h-.9zM489.5 418.5h.9v.9h-.9zM493 417.25h.9v.9h-.9zM491.75 418.25h.9v.9h-.9zM479.5 415.75h.9v.9h-.9zM483.5 422h.9v.9h-.9zM481.25 418.5h.9v.9h-.9zM485 418.25h.9v.9h-.9zM490.25 417h.9v.9h-.9zM494.75 420.25h.9v.9h-.9zM485 419.25h.9v.9h-.9zM485 419.25h.9v.9h-.9zM477.75 417h.9v.9h-.9zM479.5 416.75h.9v.9h-.9zM482.75 421.5h.9v.9h-.9zM478 419.75h.9v.9h-.9zM479.5 420.25h.9v.9h-.9zM479 421h.9v.9h-.9zM486 424.5h.9v.9h-.9zM478.25 414h.9v.9h-.9zM480.75 417.25h.9v.9h-.9zM494.75 418.25h.9v.9h-.9zM491.5 417.5h.9v.9h-.9zM483.75 417.75h.9v.9h-.9zM495 420h.9v.9h-.9zM482 421.75h.9v.9h-.9zM485.25 421.25h.9v.9h-.9zM487.5 419.75h.9v.9h-.9zM479 424.25h.9v.9h-.9zM484.5 416.75h.9v.9h-.9zM486.5 419.25h.9v.9h-.9zM490.75 422.75h.9v.9h-.9zM484.25 419.75h.9v.9h-.9zM488.5 420.5h.9v.9h-.9zM477.75 419h.9v.9h-.9zM483.75 418.25h.9v.9h-.9zM490.75 415.5h.9v.9h-.9zM479 418.75h.9v.9h-.9zM494.5 416.75h.9v.9h-.9zM492.5 420.25h.9v.9h-.9zM494.5 422.75h.9v.9h-.9zM478 418.25h.9v.9h-.9zM491.5 421.25h.9v.9h-.9zM480 422h.9v.9h-.9zM479 421.75h.9v.9h-.9zM489.75 419.75h.9v.9h-.9zM480.5 423.75h.9v.9h-.9zM482 421.5h.9v.9h-.9zM492.25 416.5h.9v.9h-.9zM485.25 420h.9v.9h-.9zM485 420.25h.9v.9h-.9zM478.75 419.25h.9v.9h-.9zM482.5 417.5h.9v.9h-.9zM484 415.75h.9v.9h-.9zM493.25 423h.9v.9h-.9zM493.5 421h.9v.9h-.9zM490.25 420.75h.9v.9h-.9zM487.5 419h.9v.9h-.9zM483 419h.9v.9h-.9zM489 419.75h.9v.9h-.9zM483.5 421.5h.9v.9h-.9zM495.25 418.25h.9v.9h-.9zM495.25 422.25h.9v.9h-.9zM494.75 415.75h.9v.9h-.9zM487 420.5h.9v.9h-.9zM491.75 419.75h.9v.9h-.9zM486.25 419h.9v.9h-.9zM488.75 423.5h.9v.9h-.9zM490 420.25h.9v.9h-.9zM485.75 419.75h.9v.9h-.9zM478.5 417h.9v.9h-.9zM484.25 414.5h.9v.9h-.9zM479.75 420h.9v.9h-.9zM488.25 419h.9v.9h-.9zM481.5 418.75h.9v.9h-.9zM494.25 416.75h.9v.9h-.9zM477.5 419.75h.9v.9h-.9zM486.25 421.75h.9v.9h-.9zM485 417.5h.9v.9h-.9zM486.75 419.25h.9v.9h-.9zM483.5 417.5h.9v.9h-.9zM492.75 419.5h.9v.9h-.9zM492 418.75h.9v.9h-.9zM486.5 421.5h.9v.9h-.9zM492.75 418.25h.9v.9h-.9zM477.5 418.5h.9v.9h-.9zM486.25 423.75h.9v.9h-.9zM494.25 418h.9v.9h-.9zM484.75 420.25h.9v.9h-.9zM491 419.25h.9v.9h-.9zM486.75 417.5h.9v.9h-.9zM478.25 416h.9v.9h-.9zM480.75 425.75h.9v.9h-.9zM480 418.5h.9v.9h-.9zM482.25 419h.9v.9h-.9zM494.25 421h.9v.9h-.9zM477.75 419.25h.9v.9h-.9zM492.75 417.75h.9v.9h-.9zM479.25 421.25h.9v.9h-.9zM495 422.75h.9v.9h-.9zM492 417.25h.9v.9h-.9zM481.25 418.75h.9v.9h-.9zM479.5 419.25h.9v.9h-.9zM487.75 416.25h.9v.9h-.9zM479.75 419.5h.9v.9h-.9zM494.25 418.75h.9v.9h-.9zM491 424h.9v.9h-.9zM495 418.5h.9v.9h-.9zM481 419.25h.9v.9h-.9zM488.75 418h.9v.9h-.9zM488.25 422.5h.9v.9h-.9zM487 419.75h.9v.9h-.9zM483 421.5h.9v.9h-.9zM478.25 423.25h.9v.9h-.9zM486.25 417.25h.9v.9h-.9zM485.25 417h.9v.9h-.9zM492.5 421.75h.9v.9h-.9zM487.75 423.5h.9v.9h-.9zM488.25 416h.9v.9h-.9zM483.5 419.75h.9v.9h-.9zM479.25 418.75h.9v.9h-.9zM494 419.75h.9v.9h-.9zM494.25 421.75h.9v.9h-.9zM488.25 423.25h.9v.9h-.9zM491 420.5h.9v.9h-.9zM478.75 420h.9v.9h-.9zM490.75 420.25h.9v.9h-.9zM487.5 419h.9v.9h-.9zM482.25 419.75h.9v.9h-.9zM488.5 415.5h.9v.9h-.9zM491 418.5h.9v.9h-.9zM485.5 421.25h.9v.9h-.9zM485.25 421.25h.9v.9h-.9zM493.5 416.75h.9v.9h-.9zM482.75 419.75h.9v.9h-.9zM477.5 420.5h.9v.9h-.9zM489.75 419h.9v.9h-.9zM495.5 421h.9v.9h-.9zM490.5 420.75h.9v.9h-.9zM492.75 416.5h.9v.9h-.9zM480 417.5h.9v.9h-.9zM482.25 420.5h.9v.9h-.9zM484.25 421.5h.9v.9h-.9zM482.75 419.75h.9v.9h-.9zM478.5 421.25h.9v.9h-.9zM490 421.5h.9v.9h-.9zM470.75 429.75h.9v.9h-.9zM470.25 441.75h.9v.9h-.9zM470.25 434.75h.9v.9h-.9zM471 440h.9v.9h-.9zM471 443.75h.9v.9h-.9zM470.25 428h.9v.9h-.9zM471.5 442.75h.9v.9h-.9zM471.25 435.5h.9v.9h-.9zM471 430h.9v.9h-.9zM471 428.5h.9v.9h-.9zM471.25 428.75h.9v.9h-.9zM470.25 430.5h.9v.9h-.9zM470.75 428.75h.9v.9h-.9zM471.25 428h.9v.9h-.9zM471.25 437.5h.9v.9h-.9zM474 436.25h.9v.9h-.9zM473.25 439h.9v.9h-.9zM474.25 437h.9v.9h-.9zM473.75 438.25h.9v.9h-.9zM474.5 440.75h.9v.9h-.9zM474.5 434.75h.9v.9h-.9zM473.75 439h.9v.9h-.9zM474 435.5h.9v.9h-.9zM473.5 441.75h.9v.9h-.9zM473.75 437.75h.9v.9h-.9zM473.25 434h.9v.9h-.9zM474 436.75h.9v.9h-.9zM474 444.75h.9v.9h-.9zM473.75 438.5h.9v.9h-.9zM473.25 434h.9v.9h-.9zM496.75 430.25h.9v.9h-.9zM495.5 432h.9v.9h-.9zM496.25 428.75h.9v.9h-.9zM495.75 430h.9v.9h-.9zM496 429.5h.9v.9h-.9zM496.75 429.75h.9v.9h-.9zM497 429h.9v.9h-.9zM495.75 428.75h.9v.9h-.9zM512 442.5h.9v.9h-.9zM527 452.25h.9v.9h-.9zM524.25 454.25h.9v.9h-.9zM517.5 456.25h.9v.9h-.9zM523.25 450.5h.9v.9h-.9zM511 449.25h.9v.9h-.9zM508.25 454.25h.9v.9h-.9zM519 446.25h.9v.9h-.9zM497.75 453.75h.9v.9h-.9zM526.75 453.5h.9v.9h-.9zM505.75 447.5h.9v.9h-.9zM508.5 436.75h.9v.9h-.9zM528.5 455.5h.9v.9h-.9zM503.5 455h.9v.9h-.9zM510.75 453.5h.9v.9h-.9zM518.25 438.75h.9v.9h-.9zM498.5 456.25h.9v.9h-.9zM499.75 453h.9v.9h-.9zM500.5 450.75h.9v.9h-.9zM508 443.5h.9v.9h-.9zM528 435.75h.9v.9h-.9zM510 445.75h.9v.9h-.9zM500.5 446.75h.9v.9h-.9zM525.25 438.75h.9v.9h-.9zM500.75 455.25h.9v.9h-.9zM526 444.25h.9v.9h-.9zM521.25 456h.9v.9h-.9zM516.5 456.25h.9v.9h-.9zM520.5 441.5h.9v.9h-.9zM506.75 456.25h.9v.9h-.9zM520.25 435h.9v.9h-.9zM516.5 452h.9v.9h-.9zM507 441h.9v.9h-.9zM528 452h.9v.9h-.9zM503.25 435.25h.9v.9h-.9zM510.25 450.5h.9v.9h-.9zM506.25 443.5h.9v.9h-.9zM528.5 450h.9v.9h-.9zM524.25 451.5h.9v.9h-.9zM510 441.25h.9v.9h-.9zM528.25 442.75h.9v.9h-.9zM519.25 440.5h.9v.9h-.9zM526.5 436.5h.9v.9h-.9zM513.75 451.75h.9v.9h-.9zM496.25 448.75h.9v.9h-.9zM507.75 456.25h.9v.9h-.9zM529 453h.9v.9h-.9zM527 456.25h.9v.9h-.9zM508 442h.9v.9h-.9zM518.25 445h.9v.9h-.9zM512.25 456h.9v.9h-.9zM523.5 442.5h.9v.9h-.9zM511.75 447.75h.9v.9h-.9zM522.75 449.5h.9v.9h-.9zM511.75 449.75h.9v.9h-.9zM520.5 443.25h.9v.9h-.9zM507.25 442h.9v.9h-.9zM508.5 445h.9v.9h-.9zM508.5 438.25h.9v.9h-.9zM527.25 442h.9v.9h-.9zM508.75 452.25h.9v.9h-.9zM510.5 446.75h.9v.9h-.9zM497.25 448.25h.9v.9h-.9zM526.75 456h.9v.9h-.9zM525.5 447.5h.9v.9h-.9zM529 443.75h.9v.9h-.9zM519.75 442.75h.9v.9h-.9zM510 455.75h.9v.9h-.9zM524.25 439h.9v.9h-.9zM520 454.5h.9v.9h-.9zM512.5 449h.9v.9h-.9zM508 449.5h.9v.9h-.9zM511.25 435.75h.9v.9h-.9zM516.75 435.75h.9v.9h-.9zM526 455h.9v.9h-.9zM521.5 451.75h.9v.9h-.9zM515.75 447.75h.9v.9h-.9zM520.5 453.25h.9v.9h-.9zM518.5 452h.9v.9h-.9zM522 449.5h.9v.9h-.9zM517.25 435.25h.9v.9h-.9zM505.25 456.25h.9v.9h-.9zM525.75 448.75h.9v.9h-.9zM517.5 440.5h.9v.9h-.9zM525.5 451.75h.9v.9h-.9zM528.75 451.5h.9v.9h-.9zM520 440.5h.9v.9h-.9zM508 451h.9v.9h-.9zM508.25 452.5h.9v.9h-.9zM509.75 440h.9v.9h-.9zM498 435.5h.9v.9h-.9zM522.25 448h.9v.9h-.9zM517.25 453.25h.9v.9h-.9zM521.25 439.25h.9v.9h-.9zM508.75 449.25h.9v.9h-.9zM503.25 454h.9v.9h-.9zM524.25 445.75h.9v.9h-.9zM510.75 446h.9v.9h-.9zM502.25 456.25h.9v.9h-.9zM507.75 447.5h.9v.9h-.9zM502.25 448.25h.9v.9h-.9zM506.75 453.75h.9v.9h-.9zM520.5 452.25h.9v.9h-.9zM520.5 443h.9v.9h-.9zM508.5 456.25h.9v.9h-.9zM524 448h.9v.9h-.9zM515.25 444.75h.9v.9h-.9zM514.25 438h.9v.9h-.9zM496.25 436h.9v.9h-.9zM516.5 451.25h.9v.9h-.9zM526 438.5h.9v.9h-.9zM515.75 456.25h.9v.9h-.9zM516.75 451.25h.9v.9h-.9zM515 440.5h.9v.9h-.9zM500.5 440h.9v.9h-.9zM506.25 454h.9v.9h-.9zM497.25 455.75h.9v.9h-.9zM505 448.75h.9v.9h-.9zM527.25 455h.9v.9h-.9zM505.5 452h.9v.9h-.9zM517.25 452.25h.9v.9h-.9zM518.25 455.25h.9v.9h-.9zM497.5 447.5h.9v.9h-.9zM520 455.5h.9v.9h-.9zM497.75 445.25h.9v.9h-.9zM498.25 437.5h.9v.9h-.9zM519 455.25h.9v.9h-.9zM509.5 456.25h.9v.9h-.9zM499 452.25h.9v.9h-.9zM525 438h.9v.9h-.9zM521 446h.9v.9h-.9zM515.5 449h.9v.9h-.9zM517.75 449.5h.9v.9h-.9zM509.25 440.25h.9v.9h-.9zM506 451.25h.9v.9h-.9zM518.5 436.25h.9v.9h-.9zM507.5 450.75h.9v.9h-.9zM509.25 454.5h.9v.9h-.9zM507.75 441.75h.9v.9h-.9zM502.25 449.75h.9v.9h-.9zM505.5 447.5h.9v.9h-.9zM521.75 455.75h.9v.9h-.9zM512.25 455h.9v.9h-.9zM517.5 445h.9v.9h-.9zM503.5 454.25h.9v.9h-.9zM506 452.75h.9v.9h-.9zM525.5 439.25h.9v.9h-.9zM522.25 451.5h.9v.9h-.9zM511.25 454.75h.9v.9h-.9zM511.25 436.75h.9v.9h-.9zM499 451.5h.9v.9h-.9zM502.5 440h.9v.9h-.9zM506 449.5h.9v.9h-.9zM497.75 444.5h.9v.9h-.9zM513 441.5h.9v.9h-.9zM520 443h.9v.9h-.9zM504.75 454h.9v.9h-.9zM515.75 456.25h.9v.9h-.9zM527 443.75h.9v.9h-.9zM512.5 452.25h.9v.9h-.9zM498.5 448h.9v.9h-.9zM521.5 455.75h.9v.9h-.9zM499.25 444.75h.9v.9h-.9zM511.5 441.75h.9v.9h-.9zM509.75 435.5h.9v.9h-.9zM525 453h.9v.9h-.9zM513.75 447.25h.9v.9h-.9zM511 441h.9v.9h-.9zM519.5 440.75h.9v.9h-.9zM504.5 449.25h.9v.9h-.9zM514 447.25h.9v.9h-.9zM496.5 441h.9v.9h-.9zM511 455.25h.9v.9h-.9zM524.25 448h.9v.9h-.9zM520.5 443.25h.9v.9h-.9zM516.75 437.75h.9v.9h-.9zM498 452.75h.9v.9h-.9zM501.5 446h.9v.9h-.9zM503.25 456.25h.9v.9h-.9zM500.5 455h.9v.9h-.9zM514 450.25h.9v.9h-.9zM511.5 456.25h.9v.9h-.9zM513.5 454h.9v.9h-.9zM499 456.25h.9v.9h-.9zM501 451.5h.9v.9h-.9zM501.5 450h.9v.9h-.9zM501.5 443.25h.9v.9h-.9zM525 452.75h.9v.9h-.9zM498.5 436.25h.9v.9h-.9zM498.75 445.75h.9v.9h-.9zM521 449.75h.9v.9h-.9zM525.5 455.25h.9v.9h-.9zM520 438h.9v.9h-.9zM525.75 440h.9v.9h-.9zM510.5 449h.9v.9h-.9zM524 451.75h.9v.9h-.9zM504.5 456.25h.9v.9h-.9zM502.75 455.5h.9v.9h-.9zM526.75 453h.9v.9h-.9zM507.75 436h.9v.9h-.9zM519 450.75h.9v.9h-.9zM499.5 452h.9v.9h-.9zM505.75 436.75h.9v.9h-.9zM510 436h.9v.9h-.9zM505 456.25h.9v.9h-.9zM525.75 456h.9v.9h-.9zM522 447h.9v.9h-.9zM505.5 440.5h.9v.9h-.9zM510.25 435.5h.9v.9h-.9zM514.5 437h.9v.9h-.9zM526.75 452h.9v.9h-.9zM519 443.5h.9v.9h-.9zM517.75 456.25h.9v.9h-.9zM518.75 442.5h.9v.9h-.9zM502.5 455.75h.9v.9h-.9zM498.25 448.25h.9v.9h-.9zM499.5 440h.9v.9h-.9zM509.75 435.25h.9v.9h-.9zM520.25 450.75h.9v.9h-.9zM502 451h.9v.9h-.9zM516.25 439.5h.9v.9h-.9zM525.5 452.75h.9v.9h-.9zM496.75 445.25h.9v.9h-.9zM518.75 445.75h.9v.9h-.9zM522.5 441h.9v.9h-.9zM516.75 440.75h.9v.9h-.9zM500.25 436.75h.9v.9h-.9zM518 455.75h.9v.9h-.9zM501.75 445.75h.9v.9h-.9zM506.25 437h.9v.9h-.9zM505.25 449.75h.9v.9h-.9zM512.75 437h.9v.9h-.9zM506 438.5h.9v.9h-.9zM520 447.75h.9v.9h-.9zM527.25 438.75h.9v.9h-.9zM520.75 448.25h.9v.9h-.9zM497.5 454.5h.9v.9h-.9zM517.5 455.75h.9v.9h-.9zM517.25 452.5h.9v.9h-.9zM508.75 440.75h.9v.9h-.9zM523.75 443h.9v.9h-.9zM510.75 448.5h.9v.9h-.9zM528.75 437.5h.9v.9h-.9zM516.25 456h.9v.9h-.9zM525.75 456.25h.9v.9h-.9zM500 445.5h.9v.9h-.9zM502.5 442.75h.9v.9h-.9zM518.75 455.25h.9v.9h-.9zM526 435h.9v.9h-.9zM517.75 435.5h.9v.9h-.9zM522.5 450h.9v.9h-.9zM523.25 437h.9v.9h-.9zM519 456h.9v.9h-.9zM508.5 444.25h.9v.9h-.9zM508.25 455.25h.9v.9h-.9zM511.25 455.5h.9v.9h-.9zM511.75 455.75h.9v.9h-.9zM520 454.5h.9v.9h-.9zM527 455.75h.9v.9h-.9zM517 445.75h.9v.9h-.9zM502.75 446.25h.9v.9h-.9zM514.25 446.5h.9v.9h-.9zM502.25 449.75h.9v.9h-.9zM523.75 446.5h.9v.9h-.9zM504 452.75h.9v.9h-.9zM525.25 456.25h.9v.9h-.9zM511.75 449h.9v.9h-.9zM510.25 456.25h.9v.9h-.9zM499.5 440.25h.9v.9h-.9zM511 453.5h.9v.9h-.9zM511 456.25h.9v.9h-.9zM498.75 440.5h.9v.9h-.9zM521.25 454.75h.9v.9h-.9zM506.5 456h.9v.9h-.9zM506.5 448.75h.9v.9h-.9zM521 449.25h.9v.9h-.9zM524 435h.9v.9h-.9zM514.75 456.25h.9v.9h-.9zM500.5 445h.9v.9h-.9zM500.25 438.25h.9v.9h-.9zM497.75 456.25h.9v.9h-.9zM529 451.25h.9v.9h-.9zM514.5 447h.9v.9h-.9zM500 452.75h.9v.9h-.9zM508.25 443.25h.9v.9h-.9zM522 444.5h.9v.9h-.9zM502 450.25h.9v.9h-.9zM526.25 455h.9v.9h-.9zM507.5 446.5h.9v.9h-.9zM529 456.25h.9v.9h-.9zM519 450.25h.9v.9h-.9zM513.5 440.25h.9v.9h-.9zM499.25 447h.9v.9h-.9zM506.5 442.75h.9v.9h-.9zM519.75 451h.9v.9h-.9zM501 442.5h.9v.9h-.9zM519.25 447.75h.9v.9h-.9zM520.75 436.75h.9v.9h-.9zM504.25 444.5h.9v.9h-.9zM522.75 453.75h.9v.9h-.9zM526 453h.9v.9h-.9zM527.75 447.25h.9v.9h-.9zM528.25 438.75h.9v.9h-.9zM522 452h.9v.9h-.9zM511.25 447.25h.9v.9h-.9zM522.75 451h.9v.9h-.9zM525.75 454.5h.9v.9h-.9zM513.25 455.5h.9v.9h-.9zM501.75 453.5h.9v.9h-.9zM497.75 447.75h.9v.9h-.9zM516.5 451.5h.9v.9h-.9zM522.5 448.25h.9v.9h-.9zM518.75 456h.9v.9h-.9zM507 456.25h.9v.9h-.9zM501.25 440h.9v.9h-.9zM500.5 447h.9v.9h-.9zM508.5 445h.9v.9h-.9zM525 440.5h.9v.9h-.9zM528 436.25h.9v.9h-.9zM509.25 435.5h.9v.9h-.9zM521.25 453.5h.9v.9h-.9zM507 448.75h.9v.9h-.9zM524 455.75h.9v.9h-.9zM525.5 445h.9v.9h-.9zM515.75 451.25h.9v.9h-.9zM508.75 451.25h.9v.9h-.9zM519.75 450.5h.9v.9h-.9zM519.75 439h.9v.9h-.9zM499 456.25h.9v.9h-.9zM527.25 454.75h.9v.9h-.9zM523 451.25h.9v.9h-.9zM503.5 456.25h.9v.9h-.9zM510.25 447h.9v.9h-.9zM497.75 456.25h.9v.9h-.9zM505.5 439h.9v.9h-.9zM520.75 454h.9v.9h-.9zM509.5 451h.9v.9h-.9zM519.5 453.5h.9v.9h-.9zM507.75 449.25h.9v.9h-.9zM504 450.75h.9v.9h-.9zM520.75 449.25h.9v.9h-.9zM498 452.5h.9v.9h-.9zM515 454.25h.9v.9h-.9zM509 448h.9v.9h-.9zM508 455h.9v.9h-.9zM525 456h.9v.9h-.9zM526 455.75h.9v.9h-.9zM514.5 448.25h.9v.9h-.9zM509.5 446.25h.9v.9h-.9zM525.25 453h.9v.9h-.9zM498 454.75h.9v.9h-.9zM525 447h.9v.9h-.9zM521 451.75h.9v.9h-.9zM506.75 444.5h.9v.9h-.9zM514.75 438h.9v.9h-.9zM501.25 452.5h.9v.9h-.9zM519 438h.9v.9h-.9zM511.5 441.75h.9v.9h-.9zM499.75 446h.9v.9h-.9zM507 444.5h.9v.9h-.9zM506 455h.9v.9h-.9zM505 443.75h.9v.9h-.9zM519.5 438h.9v.9h-.9zM509.75 456h.9v.9h-.9zM522.75 454h.9v.9h-.9zM519.75 449.5h.9v.9h-.9zM510.75 456.25h.9v.9h-.9zM503.5 443h.9v.9h-.9zM511.25 439h.9v.9h-.9zM522.75 448.5h.9v.9h-.9zM528.5 456.25h.9v.9h-.9zM509.25 448.5h.9v.9h-.9zM497.75 439.25h.9v.9h-.9zM501 447.5h.9v.9h-.9zM505 451.75h.9v.9h-.9zM511.5 453.5h.9v.9h-.9zM501.75 445.25h.9v.9h-.9zM516.75 456h.9v.9h-.9zM528.25 455.75h.9v.9h-.9zM503.5 453.5h.9v.9h-.9zM508 449.5h.9v.9h-.9zM526 455.75h.9v.9h-.9zM515 446.25h.9v.9h-.9zM504.5 452.25h.9v.9h-.9zM510.75 438.75h.9v.9h-.9zM521.75 449.75h.9v.9h-.9zM498.25 452.25h.9v.9h-.9zM523 450.75h.9v.9h-.9zM509 446h.9v.9h-.9zM497.5 445.75h.9v.9h-.9zM518.75 455.75h.9v.9h-.9zM509.75 439.75h.9v.9h-.9zM504.75 448.5h.9v.9h-.9zM507.5 448h.9v.9h-.9zM509 452.5h.9v.9h-.9zM526.75 444.5h.9v.9h-.9zM529 452.75h.9v.9h-.9zM511.5 452h.9v.9h-.9zM524.75 452h.9v.9h-.9zM518.5 455h.9v.9h-.9zM514 453.75h.9v.9h-.9zM526.25 452h.9v.9h-.9zM527.5 447.75h.9v.9h-.9zM507.25 448.25h.9v.9h-.9zM526.75 444.5h.9v.9h-.9zM523.25 447.75h.9v.9h-.9zM516.5 455.5h.9v.9h-.9zM523.5 446h.9v.9h-.9zM517.5 453.25h.9v.9h-.9zM521.25 448.75h.9v.9h-.9zM506.75 435.25h.9v.9h-.9zM521.5 444.75h.9v.9h-.9zM523.75 444.5h.9v.9h-.9zM508.75 436.5h.9v.9h-.9zM526 445h.9v.9h-.9zM510.5 449.25h.9v.9h-.9zM497.5 438.75h.9v.9h-.9zM523.5 447h.9v.9h-.9zM511.5 441.25h.9v.9h-.9zM496.75 451.5h.9v.9h-.9zM529.75 418.25h.9v.9h-.9zM531.5 418.25h.9v.9h-.9zM533 418h.9v.9h-.9zM528.5 417h.9v.9h-.9zM532.75 418.75h.9v.9h-.9zM528.75 417.25h.9v.9h-.9zM529 414.75h.9v.9h-.9zM528.75 417.5h.9v.9h-.9zM530 419h.9v.9h-.9zM529.75 417.25h.9v.9h-.9zM531.75 419.75h.9v.9h-.9zM529 420.25h.9v.9h-.9zM530 416.5h.9v.9h-.9zM529.5 416.75h.9v.9h-.9zM528.75 417h.9v.9h-.9zM532.25 418.5h.9v.9h-.9zM532.5 417.25h.9v.9h-.9zM531.5 417.75h.9v.9h-.9zM532.75 418.5h.9v.9h-.9zM530.75 418.75h.9v.9h-.9zM532.5 418.5h.9v.9h-.9zM531 417.75h.9v.9h-.9zM530.75 416.75h.9v.9h-.9zM532.75 415.75h.9v.9h-.9zM531.75 416.25h.9v.9h-.9zM532.25 417.25h.9v.9h-.9zM529.25 419.25h.9v.9h-.9zM531.25 417.5h.9v.9h-.9zM530.25 415.5h.9v.9h-.9zM529.25 417.25h.9v.9h-.9zM531.5 419.5h.9v.9h-.9zM529 417.75h.9v.9h-.9zM533.25 417.5h.9v.9h-.9zM529.5 420h.9v.9h-.9zM532 418.75h.9v.9h-.9zM532 416h.9v.9h-.9zM530.5 416.25h.9v.9h-.9zM530.75 418h.9v.9h-.9zM532 416h.9v.9h-.9zM530.25 415.25h.9v.9h-.9zM533 417h.9v.9h-.9zM531.5 417h.9v.9h-.9zM529.75 418.25h.9v.9h-.9zM532 417.25h.9v.9h-.9zM532.25 417.75h.9v.9h-.9zM528.75 418h.9v.9h-.9zM531.5 415.75h.9v.9h-.9zM531.25 416.5h.9v.9h-.9zM533 416.75h.9v.9h-.9zM532.5 419h.9v.9h-.9zM531 417.5h.9v.9h-.9zM532 417h.9v.9h-.9zM531.75 418.5h.9v.9h-.9zM530.75 418.5h.9v.9h-.9zM533 418h.9v.9h-.9zM533.25 417h.9v.9h-.9zM532.25 414.5h.9v.9h-.9zM530.75 419.75h.9v.9h-.9zM529.25 419h.9v.9h-.9zM530.5 417.5h.9v.9h-.9zM532.5 417.5h.9v.9h-.9zM529.5 414h.9v.9h-.9zM530 417h.9v.9h-.9zM532 418.25h.9v.9h-.9zM530 418.75h.9v.9h-.9zM529.75 416.75h.9v.9h-.9zM532.5 414.75h.9v.9h-.9zM529.25 418.5h.9v.9h-.9zM528.75 419.25h.9v.9h-.9zM531.25 416.75h.9v.9h-.9zM533.25 415.5h.9v.9h-.9zM529.75 417.5h.9v.9h-.9zM530.5 416.25h.9v.9h-.9zM532.25 417h.9v.9h-.9zM530 416.75h.9v.9h-.9zM533 416h.9v.9h-.9zM531.75 416.5h.9v.9h-.9zM529.75 416.5h.9v.9h-.9zM532.5 418.75h.9v.9h-.9zM532.75 416.75h.9v.9h-.9zM530 420.75h.9v.9h-.9zM530 416.25h.9v.9h-.9zM531.25 418h.9v.9h-.9zM531.5 418.25h.9v.9h-.9zM530.5 416.75h.9v.9h-.9zM532 418.75h.9v.9h-.9zM531.25 417.75h.9v.9h-.9zM529.25 418.5h.9v.9h-.9zM530.25 417.5h.9v.9h-.9zM532.25 417.25h.9v.9h-.9zM531 419.5h.9v.9h-.9zM528.75 417.25h.9v.9h-.9zM529.25 417.5h.9v.9h-.9zM532.75 417.75h.9v.9h-.9zM531 415h.9v.9h-.9zM530.5 418h.9v.9h-.9zM530.25 419.5h.9v.9h-.9zM530.75 416.5h.9v.9h-.9zM532 415.25h.9v.9h-.9zM531 417.5h.9v.9h-.9zM532.25 419h.9v.9h-.9zM530.5 417.5h.9v.9h-.9zM533 415.75h.9v.9h-.9zM531.25 417.5h.9v.9h-.9zM529 420h.9v.9h-.9zM529.75 418.5h.9v.9h-.9zM532.25 417.5h.9v.9h-.9zM530 415.5h.9v.9h-.9zM531.5 417.5h.9v.9h-.9zM532.75 417.75h.9v.9h-.9zM536 419.75h.9v.9h-.9zM536.25 418.75h.9v.9h-.9zM537 419.5h.9v.9h-.9zM534.5 419.25h.9v.9h-.9zM536.5 421.5h.9v.9h-.9zM537 418.5h.9v.9h-.9zM535.25 420.25h.9v.9h-.9zM536.5 420h.9v.9h-.9zM536.5 419.5h.9v.9h-.9zM534 417.75h.9v.9h-.9zM538.25 422.5h.9v.9h-.9zM536.75 420.5h.9v.9h-.9zM534.5 420h.9v.9h-.9zM535.25 421.5h.9v.9h-.9zM536.75 419.5h.9v.9h-.9zM534.5 421.5h.9v.9h-.9zM538.25 418.5h.9v.9h-.9zM538 420.5h.9v.9h-.9zM538.25 420.25h.9v.9h-.9zM534.75 419h.9v.9h-.9zM535.75 419.25h.9v.9h-.9zM537 419h.9v.9h-.9zM533.5 420.75h.9v.9h-.9zM537 420.5h.9v.9h-.9zM534.75 420.5h.9v.9h-.9zM533.5 419.5h.9v.9h-.9zM537.75 420.5h.9v.9h-.9zM538 419h.9v.9h-.9zM535.25 420.25h.9v.9h-.9zM535.5 420h.9v.9h-.9zM537.75 418.75h.9v.9h-.9zM538 421.75h.9v.9h-.9zM534.5 419h.9v.9h-.9zM536.5 419.5h.9v.9h-.9zM536 421h.9v.9h-.9zM534.5 418.25h.9v.9h-.9zM536.5 420.25h.9v.9h-.9zM537.25 419.25h.9v.9h-.9zM534.25 419h.9v.9h-.9zM535.5 421.75h.9v.9h-.9zM535.75 419.5h.9v.9h-.9zM536.75 419h.9v.9h-.9zM535.25 420.75h.9v.9h-.9zM534.75 420.25h.9v.9h-.9zM534.25 419.5h.9v.9h-.9zM534.25 421h.9v.9h-.9zM537.75 419.25h.9v.9h-.9zM534.25 419h.9v.9h-.9zM536.25 419.75h.9v.9h-.9zM538 420h.9v.9h-.9zM536.75 419h.9v.9h-.9zM535.5 420.75h.9v.9h-.9zM534 420h.9v.9h-.9zM534.75 417.25h.9v.9h-.9zM537.75 418.25h.9v.9h-.9zM534 422.25h.9v.9h-.9zM535.5 419.25h.9v.9h-.9zM534.75 420.75h.9v.9h-.9zM533.5 421.25h.9v.9h-.9zM534.5 420h.9v.9h-.9zM534.75 420.25h.9v.9h-.9zM537.25 420.25h.9v.9h-.9zM537.75 420.25h.9v.9h-.9zM536.25 419.5h.9v.9h-.9zM535 418.25h.9v.9h-.9zM536.25 418.5h.9v.9h-.9zM534.75 419.75h.9v.9h-.9zM538 417.75h.9v.9h-.9zM535.25 420.5h.9v.9h-.9zM535.75 420.25h.9v.9h-.9zM536.25 420.25h.9v.9h-.9zM536 418h.9v.9h-.9zM533.75 418.75h.9v.9h-.9zM534.25 418.75h.9v.9h-.9zM536 421.25h.9v.9h-.9zM537.75 420.75h.9v.9h-.9zM536.5 419.5h.9v.9h-.9zM537.75 420.25h.9v.9h-.9zM538 421.75h.9v.9h-.9zM536.25 421h.9v.9h-.9zM535.5 419h.9v.9h-.9zM537 418.5h.9v.9h-.9zM537.25 418.5h.9v.9h-.9zM538 420.75h.9v.9h-.9zM535.25 418.5h.9v.9h-.9zM536 419.5h.9v.9h-.9zM537.25 419.75h.9v.9h-.9zM537 419.5h.9v.9h-.9zM534.25 418.75h.9v.9h-.9zM534 421h.9v.9h-.9zM536 419.5h.9v.9h-.9zM538 420.5h.9v.9h-.9zM533.75 418.75h.9v.9h-.9zM536.75 418.25h.9v.9h-.9zM536.5 419h.9v.9h-.9zM533.75 420h.9v.9h-.9zM536 420.5h.9v.9h-.9zM535.25 418.75h.9v.9h-.9zM537.75 420.25h.9v.9h-.9zM536.25 417.75h.9v.9h-.9zM550 426.75h.9v.9h-.9zM550.75 428h.9v.9h-.9zM546.25 428h.9v.9h-.9zM553.25 429h.9v.9h-.9zM543.25 428.25h.9v.9h-.9zM561 428h.9v.9h-.9zM565.25 427.25h.9v.9h-.9zM572 427.5h.9v.9h-.9zM574 426.75h.9v.9h-.9zM555.75 427h.9v.9h-.9zM572.5 428.5h.9v.9h-.9zM542 425h.9v.9h-.9zM575.5 426.25h.9v.9h-.9zM578.25 427h.9v.9h-.9zM568 426.75h.9v.9h-.9zM577.5 428h.9v.9h-.9zM575.5 427.75h.9v.9h-.9zM576 425.75h.9v.9h-.9zM547 429h.9v.9h-.9zM562 426.25h.9v.9h-.9zM576 428.5h.9v.9h-.9zM545.25 427h.9v.9h-.9zM549.5 427h.9v.9h-.9zM575.25 428h.9v.9h-.9zM571.25 428.25h.9v.9h-.9zM538.5 427.75h.9v.9h-.9zM543.25 426.25h.9v.9h-.9zM578 429.75h.9v.9h-.9zM549.75 426.5h.9v.9h-.9zM553.5 428h.9v.9h-.9zM575.75 426.75h.9v.9h-.9zM550 429h.9v.9h-.9zM542.75 427.25h.9v.9h-.9zM546.25 426.75h.9v.9h-.9zM561.75 427.75h.9v.9h-.9zM574.5 426.75h.9v.9h-.9zM553.5 427.25h.9v.9h-.9zM561 427.5h.9v.9h-.9zM539.5 427.75h.9v.9h-.9zM557.5 427.5h.9v.9h-.9zM563.75 428.25h.9v.9h-.9zM572.75 427.75h.9v.9h-.9zM578.25 426.5h.9v.9h-.9zM578.25 429.75h.9v.9h-.9zM553.5 428.5h.9v.9h-.9zM570.75 427.75h.9v.9h-.9zM545.25 427.25h.9v.9h-.9zM560.75 426.25h.9v.9h-.9zM579 427.5h.9v.9h-.9zM554.25 427.5h.9v.9h-.9zM574.25 426.5h.9v.9h-.9zM563 426.75h.9v.9h-.9zM572.75 428.25h.9v.9h-.9zM577.5 426.25h.9v.9h-.9zM578.25 428.5h.9v.9h-.9zM565 427.75h.9v.9h-.9zM568.25 428.25h.9v.9h-.9zM554.25 429h.9v.9h-.9zM567.75 428h.9v.9h-.9zM542.5 426.75h.9v.9h-.9zM561 427h.9v.9h-.9zM550.5 426.75h.9v.9h-.9zM553.5 430h.9v.9h-.9zM560 426h.9v.9h-.9zM561 428.5h.9v.9h-.9zM571.75 426.75h.9v.9h-.9zM559.75 428.5h.9v.9h-.9zM546 427.5h.9v.9h-.9zM547 426.75h.9v.9h-.9zM540 427h.9v.9h-.9zM555.5 428h.9v.9h-.9zM569.5 427.75h.9v.9h-.9zM557 428.25h.9v.9h-.9zM571 428.25h.9v.9h-.9zM566.25 426.5h.9v.9h-.9zM549.25 426.5h.9v.9h-.9zM569 428h.9v.9h-.9zM539.75 427h.9v.9h-.9zM578.75 427h.9v.9h-.9zM576.5 427h.9v.9h-.9zM540.5 428.5h.9v.9h-.9zM566.25 427h.9v.9h-.9zM570.5 426.5h.9v.9h-.9zM541.75 427.75h.9v.9h-.9zM547.25 426.75h.9v.9h-.9zM563.75 427.5h.9v.9h-.9zM575 426.75h.9v.9h-.9zM575 427h.9v.9h-.9zM562.5 427.75h.9v.9h-.9zM540.75 427.25h.9v.9h-.9zM547.25 427.75h.9v.9h-.9zM559 427.75h.9v.9h-.9zM572 426.5h.9v.9h-.9zM555.25 427.5h.9v.9h-.9zM563.5 427.75h.9v.9h-.9zM556.25 429h.9v.9h-.9zM552.25 428.25h.9v.9h-.9zM576.5 428.25h.9v.9h-.9zM560 428.75h.9v.9h-.9zM558.25 428.25h.9v.9h-.9zM558.5 428.25h.9v.9h-.9zM579.5 428.75h.9v.9h-.9zM550.75 430.25h.9v.9h-.9zM571.75 427.5h.9v.9h-.9zM561 427.75h.9v.9h-.9zM555.5 426.75h.9v.9h-.9zM555.75 428.25h.9v.9h-.9zM558 427.25h.9v.9h-.9zM562 426.25h.9v.9h-.9zM567.5 426.5h.9v.9h-.9zM546.25 427.5h.9v.9h-.9zM557.75 427.25h.9v.9h-.9zM566 428.75h.9v.9h-.9zM563.25 426.75h.9v.9h-.9zM540.25 426.25h.9v.9h-.9zM576.25 427h.9v.9h-.9zM567.25 428.25h.9v.9h-.9zM543.75 427.25h.9v.9h-.9zM565 427.5h.9v.9h-.9zM541.75 428.5h.9v.9h-.9zM549.75 428h.9v.9h-.9zM554.75 429.25h.9v.9h-.9zM574.75 427.75h.9v.9h-.9zM546.75 427.25h.9v.9h-.9zM575 427.5h.9v.9h-.9zM550 428h.9v.9h-.9zM554.5 427.75h.9v.9h-.9zM576.25 427.5h.9v.9h-.9zM560.25 427.5h.9v.9h-.9zM561.75 427.25h.9v.9h-.9zM576.75 428h.9v.9h-.9zM574.25 429.5h.9v.9h-.9zM565.75 426.5h.9v.9h-.9zM562.25 427.25h.9v.9h-.9zM555.5 427.5h.9v.9h-.9zM574 427h.9v.9h-.9zM565.75 427.75h.9v.9h-.9zM574.25 426.25h.9v.9h-.9zM544.25 428h.9v.9h-.9zM575.5 428h.9v.9h-.9zM571.25 426.5h.9v.9h-.9zM559.25 427.75h.9v.9h-.9zM551.5 429h.9v.9h-.9zM578.25 425.25h.9v.9h-.9zM579.25 426.5h.9v.9h-.9zM565.5 428.25h.9v.9h-.9zM575.75 429.75h.9v.9h-.9zM571 426.5h.9v.9h-.9zM550 428.5h.9v.9h-.9zM545 426.25h.9v.9h-.9zM548.75 427.25h.9v.9h-.9zM575.75 427h.9v.9h-.9zM579.25 427h.9v.9h-.9zM569 428.75h.9v.9h-.9zM566.5 428.75h.9v.9h-.9zM543.5 427h.9v.9h-.9zM548.25 428h.9v.9h-.9zM565.5 426.75h.9v.9h-.9zM548.25 427.25h.9v.9h-.9zM570.5 425.25h.9v.9h-.9zM576.75 427.25h.9v.9h-.9zM558.5 428.25h.9v.9h-.9zM572.5 427.25h.9v.9h-.9zM558.25 428.25h.9v.9h-.9zM562.5 426.75h.9v.9h-.9zM568.75 427.5h.9v.9h-.9zM565.75 428.75h.9v.9h-.9zM560 427h.9v.9h-.9zM552.5 426h.9v.9h-.9zM570 426.5h.9v.9h-.9zM556.25 427.25h.9v.9h-.9zM566.75 429.5h.9v.9h-.9zM571.5 427.25h.9v.9h-.9zM577 427.5h.9v.9h-.9zM557 427.25h.9v.9h-.9zM542.25 429.25h.9v.9h-.9zM562.5 426h.9v.9h-.9zM552.25 426.5h.9v.9h-.9zM553.75 427.75h.9v.9h-.9zM564.75 425.5h.9v.9h-.9zM550.5 427.5h.9v.9h-.9zM571.25 428.25h.9v.9h-.9zM563.25 427.25h.9v.9h-.9zM578.75 429h.9v.9h-.9zM567 428.75h.9v.9h-.9zM561.75 427.25h.9v.9h-.9zM550 428.25h.9v.9h-.9zM572 425.75h.9v.9h-.9zM578 428h.9v.9h-.9zM554.5 428.75h.9v.9h-.9zM567.25 429h.9v.9h-.9zM569 429.5h.9v.9h-.9zM554 427.5h.9v.9h-.9zM570.5 427.25h.9v.9h-.9zM556 427.75h.9v.9h-.9zM558.75 427.25h.9v.9h-.9zM575.25 427.75h.9v.9h-.9zM569.5 425.75h.9v.9h-.9zM565.5 428.25h.9v.9h-.9zM566 428h.9v.9h-.9zM562.25 426.25h.9v.9h-.9zM553 427.75h.9v.9h-.9zM575.5 428.25h.9v.9h-.9zM565 428.25h.9v.9h-.9zM544.5 426.75h.9v.9h-.9zM557.25 425.5h.9v.9h-.9zM571.25 427.25h.9v.9h-.9zM548 426.25h.9v.9h-.9zM571.25 428.25h.9v.9h-.9zM554.25 428h.9v.9h-.9zM547 427h.9v.9h-.9zM551.25 426h.9v.9h-.9zM542.5 428.25h.9v.9h-.9zM579 426.75h.9v.9h-.9zM554.25 429.75h.9v.9h-.9zM568 425.75h.9v.9h-.9zM557.25 428h.9v.9h-.9zM544.5 427h.9v.9h-.9zM557.75 427.75h.9v.9h-.9zM558 427.75h.9v.9h-.9zM545.5 428.25h.9v.9h-.9zM565.75 428h.9v.9h-.9zM570.5 428.25h.9v.9h-.9zM541.5 427h.9v.9h-.9zM547 429h.9v.9h-.9zM544 428.75h.9v.9h-.9zM578.5 426.5h.9v.9h-.9zM560.5 428h.9v.9h-.9zM566 428h.9v.9h-.9zM568 426.5h.9v.9h-.9zM558.25 428.75h.9v.9h-.9zM543 427h.9v.9h-.9zM557.75 427.75h.9v.9h-.9zM560 426.75h.9v.9h-.9zM567.25 428.75h.9v.9h-.9zM565.75 427.75h.9v.9h-.9zM555.75 426.75h.9v.9h-.9zM538.75 427.5h.9v.9h-.9zM561.75 427.75h.9v.9h-.9zM554.75 428.5h.9v.9h-.9zM552.5 427.5h.9v.9h-.9zM573.75 425.5h.9v.9h-.9zM549.75 428.5h.9v.9h-.9zM543.75 428h.9v.9h-.9zM568.5 430.75h.9v.9h-.9zM575.75 428.25h.9v.9h-.9zM575.5 427.5h.9v.9h-.9zM571.75 427h.9v.9h-.9zM542.75 427.75h.9v.9h-.9zM567.25 428h.9v.9h-.9zM540.5 425.75h.9v.9h-.9zM559.5 426.25h.9v.9h-.9zM556.75 425.75h.9v.9h-.9zM547.5 427.75h.9v.9h-.9zM567.25 428.5h.9v.9h-.9zM551.25 426.75h.9v.9h-.9zM547.75 427.75h.9v.9h-.9zM546 426.75h.9v.9h-.9zM574.25 428.5h.9v.9h-.9zM571.75 426.5h.9v.9h-.9zM566.25 426h.9v.9h-.9zM576.75 425.25h.9v.9h-.9zM572.75 428.5h.9v.9h-.9zM564.75 425.75h.9v.9h-.9zM539.5 428.75h.9v.9h-.9zM560.75 426.25h.9v.9h-.9zM577.25 427h.9v.9h-.9zM578.75 429.5h.9v.9h-.9zM552.5 427.5h.9v.9h-.9zM571.25 427.5h.9v.9h-.9zM542 428.75h.9v.9h-.9zM541.25 427.5h.9v.9h-.9zM564.5 427.25h.9v.9h-.9zM548.5 428.25h.9v.9h-.9zM570 427.75h.9v.9h-.9zM551 427.5h.9v.9h-.9zM577 427.75h.9v.9h-.9zM556.75 426.5h.9v.9h-.9zM574.75 427h.9v.9h-.9zM565.75 428.5h.9v.9h-.9zM539.5 426.5h.9v.9h-.9zM564.5 427h.9v.9h-.9zM544 425.5h.9v.9h-.9zM546 427h.9v.9h-.9zM540.5 427h.9v.9h-.9zM550 427.25h.9v.9h-.9zM562 428h.9v.9h-.9zM559.5 428.25h.9v.9h-.9zM552 428h.9v.9h-.9zM564 427.75h.9v.9h-.9zM538.25 426.75h.9v.9h-.9zM561 427.75h.9v.9h-.9zM546 428.25h.9v.9h-.9zM564.75 427.25h.9v.9h-.9zM570.25 425.75h.9v.9h-.9zM557 430h.9v.9h-.9zM561 428h.9v.9h-.9zM559.25 426.75h.9v.9h-.9zM578.25 425.75h.9v.9h-.9zM551.5 427h.9v.9h-.9zM563 427.75h.9v.9h-.9zM558.75 425.75h.9v.9h-.9zM551 427.5h.9v.9h-.9zM542.25 427.5h.9v.9h-.9zM575.75 426.5h.9v.9h-.9zM565.75 427h.9v.9h-.9zM539.75 426.75h.9v.9h-.9zM578 427.75h.9v.9h-.9zM556.25 428.75h.9v.9h-.9zM542 428.25h.9v.9h-.9zM559.25 427.5h.9v.9h-.9zM568.5 429.25h.9v.9h-.9zM566.25 426.75h.9v.9h-.9zM559.25 426.75h.9v.9h-.9zM540 427.5h.9v.9h-.9zM561.5 428h.9v.9h-.9zM549.25 426h.9v.9h-.9zM563.75 425.25h.9v.9h-.9zM568.5 428.5h.9v.9h-.9zM574.25 428.25h.9v.9h-.9zM541 428h.9v.9h-.9zM562.75 427h.9v.9h-.9zM554.5 426.75h.9v.9h-.9zM549.5 427.75h.9v.9h-.9zM576 427.75h.9v.9h-.9zM553.75 428.5h.9v.9h-.9zM568.5 426.5h.9v.9h-.9zM547.75 426h.9v.9h-.9zM571.5 425.25h.9v.9h-.9zM573.75 426.5h.9v.9h-.9zM539.25 426.25h.9v.9h-.9zM572 425.5h.9v.9h-.9zM550.25 427h.9v.9h-.9zM548.5 428.75h.9v.9h-.9zM566.5 428h.9v.9h-.9zM573.25 427.25h.9v.9h-.9zM567.75 427.5h.9v.9h-.9zM566.5 426.25h.9v.9h-.9zM553.5 427.5h.9v.9h-.9zM577.5 426.25h.9v.9h-.9zM542.25 427.5h.9v.9h-.9zM578.75 426.25h.9v.9h-.9zM579.25 426h.9v.9h-.9zM544 427.5h.9v.9h-.9zM546.75 426.75h.9v.9h-.9zM579.25 426.5h.9v.9h-.9zM578 429h.9v.9h-.9zM566.75 425.75h.9v.9h-.9zM541.5 426.75h.9v.9h-.9zM578.5 428h.9v.9h-.9zM543.75 426.5h.9v.9h-.9zM559.5 428.25h.9v.9h-.9zM545.75 429.25h.9v.9h-.9zM561.25 427.25h.9v.9h-.9zM578.75 429.75h.9v.9h-.9zM543.75 428h.9v.9h-.9zM568.5 429.25h.9v.9h-.9zM552.25 428.75h.9v.9h-.9zM557.25 427.25h.9v.9h-.9zM553.5 428.25h.9v.9h-.9zM573.25 428.25h.9v.9h-.9zM539 428.5h.9v.9h-.9zM569.75 428.25h.9v.9h-.9zM554.25 427h.9v.9h-.9zM544 426.5h.9v.9h-.9zM578 429h.9v.9h-.9zM566 427h.9v.9h-.9zM579.25 426.5h.9v.9h-.9zM538.25 427.75h.9v.9h-.9zM545.25 427h.9v.9h-.9zM549.75 427.75h.9v.9h-.9zM574 427.75h.9v.9h-.9zM556 427.25h.9v.9h-.9zM560 427h.9v.9h-.9zM552.75 428h.9v.9h-.9zM553 427.5h.9v.9h-.9zM559 426.5h.9v.9h-.9zM573 426.75h.9v.9h-.9zM562.5 426.5h.9v.9h-.9zM541.75 426.5h.9v.9h-.9zM544.25 426.25h.9v.9h-.9zM545.75 427.5h.9v.9h-.9zM549.75 425.75h.9v.9h-.9zM544.25 426h.9v.9h-.9zM566 427h.9v.9h-.9zM562.25 428.5h.9v.9h-.9zM552 426.75h.9v.9h-.9zM541.5 429h.9v.9h-.9zM567.25 426.75h.9v.9h-.9zM545.75 426.5h.9v.9h-.9zM558.25 428.5h.9v.9h-.9zM551.75 429h.9v.9h-.9zM540.5 429.75h.9v.9h-.9zM561 426.75h.9v.9h-.9zM563.75 427.25h.9v.9h-.9zM577.25 429h.9v.9h-.9zM577.5 427.5h.9v.9h-.9zM544.25 429.5h.9v.9h-.9zM549.25 427.75h.9v.9h-.9zM573.75 428.75h.9v.9h-.9zM570.25 427.75h.9v.9h-.9zM565.25 427h.9v.9h-.9zM543 428.25h.9v.9h-.9zM554.75 427.5h.9v.9h-.9zM565.25 428.5h.9v.9h-.9zM540.75 428.5h.9v.9h-.9zM575 428.25h.9v.9h-.9zM563.5 429.75h.9v.9h-.9zM565 426.25h.9v.9h-.9zM564.5 428.75h.9v.9h-.9zM540 425.75h.9v.9h-.9zM573.25 427.25h.9v.9h-.9zM554.25 427.25h.9v.9h-.9zM573 426.25h.9v.9h-.9zM569.5 427h.9v.9h-.9zM546.75 427h.9v.9h-.9zM569 427.5h.9v.9h-.9zM555.25 425.25h.9v.9h-.9zM546.25 428h.9v.9h-.9zM574.5 427.25h.9v.9h-.9zM539.25 428.5h.9v.9h-.9zM540 427h.9v.9h-.9zM547.5 425.5h.9v.9h-.9zM555.5 427.75h.9v.9h-.9zM574.25 425.75h.9v.9h-.9zM568.25 428.75h.9v.9h-.9zM561.75 429.25h.9v.9h-.9zM563 427.5h.9v.9h-.9zM578.25 426.5h.9v.9h-.9zM569.25 425.5h.9v.9h-.9zM556.5 427h.9v.9h-.9zM554.5 428.25h.9v.9h-.9zM562 426.75h.9v.9h-.9zM573.25 427.75h.9v.9h-.9zM565.25 426.75h.9v.9h-.9zM565.5 428h.9v.9h-.9zM574.75 426.25h.9v.9h-.9zM572.75 428.5h.9v.9h-.9zM564.5 428.25h.9v.9h-.9zM559.75 427.75h.9v.9h-.9zM578.5 427.25h.9v.9h-.9zM550.75 427.5h.9v.9h-.9zM548.25 427h.9v.9h-.9zM569.75 428h.9v.9h-.9zM546.5 429h.9v.9h-.9zM543.5 425h.9v.9h-.9zM562.25 427.75h.9v.9h-.9zM541 425.75h.9v.9h-.9zM566.25 427.5h.9v.9h-.9zM551.75 424.75h.9v.9h-.9zM565.75 425h.9v.9h-.9zM564.25 427h.9v.9h-.9zM576 427.5h.9v.9h-.9zM569 427.75h.9v.9h-.9zM554 426.75h.9v.9h-.9zM565.5 425.25h.9v.9h-.9zM552.75 426h.9v.9h-.9zM540.75 426.75h.9v.9h-.9zM548.25 426.75h.9v.9h-.9zM569 427.25h.9v.9h-.9zM549.25 426.75h.9v.9h-.9zM571.25 427.5h.9v.9h-.9zM568.5 428.5h.9v.9h-.9zM544 428.75h.9v.9h-.9zM572.5 426.25h.9v.9h-.9zM546 428h.9v.9h-.9zM541.75 427.5h.9v.9h-.9zM551.25 424.75h.9v.9h-.9zM549.75 427.75h.9v.9h-.9zM570.75 427.5h.9v.9h-.9zM570.25 427.5h.9v.9h-.9zM575.25 427.25h.9v.9h-.9zM571.5 427.5h.9v.9h-.9zM577.5 428.25h.9v.9h-.9zM564.75 424.5h.9v.9h-.9zM567 427h.9v.9h-.9zM546 426.25h.9v.9h-.9zM564.5 428.5h.9v.9h-.9zM539.5 427h.9v.9h-.9zM539 425.75h.9v.9h-.9zM546.25 426.25h.9v.9h-.9zM544 427h.9v.9h-.9zM570.5 429.25h.9v.9h-.9zM575.75 427h.9v.9h-.9zM578.25 427h.9v.9h-.9zM571 426.5h.9v.9h-.9zM552 426.5h.9v.9h-.9zM564 427.75h.9v.9h-.9zM548.75 427.75h.9v.9h-.9zM555.75 428.25h.9v.9h-.9zM568 427.25h.9v.9h-.9zM545.5 428h.9v.9h-.9zM547 427.25h.9v.9h-.9zM567.75 429h.9v.9h-.9zM571.5 427.25h.9v.9h-.9zM538.5 426.25h.9v.9h-.9zM552.75 428.25h.9v.9h-.9zM571 428h.9v.9h-.9zM547 429h.9v.9h-.9zM547.5 427h.9v.9h-.9zM565.5 427.75h.9v.9h-.9zM542.75 427.25h.9v.9h-.9zM565.25 426.75h.9v.9h-.9zM573.75 429h.9v.9h-.9zM565.75 427h.9v.9h-.9zM562.75 429.5h.9v.9h-.9zM560.25 427h.9v.9h-.9zM541.75 426.75h.9v.9h-.9zM543 428.25h.9v.9h-.9zM561.5 427h.9v.9h-.9zM572.5 427.75h.9v.9h-.9zM572.5 425.25h.9v.9h-.9zM546.25 428h.9v.9h-.9zM541 427.75h.9v.9h-.9zM547.5 427.5h.9v.9h-.9zM539.5 427.25h.9v.9h-.9zM571.5 426h.9v.9h-.9zM541.25 429h.9v.9h-.9zM539.25 426.75h.9v.9h-.9zM552.5 428.25h.9v.9h-.9zM567.25 428.5h.9v.9h-.9zM544.5 427.75h.9v.9h-.9zM543 428h.9v.9h-.9zM540 429.75h.9v.9h-.9zM547.5 428.25h.9v.9h-.9zM558.5 427.5h.9v.9h-.9zM559 427.5h.9v.9h-.9zM555.5 427h.9v.9h-.9zM571.75 426.75h.9v.9h-.9zM571.75 426.5h.9v.9h-.9zM561.75 429h.9v.9h-.9zM570.5 425.5h.9v.9h-.9zM579.25 427.75h.9v.9h-.9zM556.75 426.25h.9v.9h-.9zM573 428.5h.9v.9h-.9zM559.5 428.5h.9v.9h-.9zM575 427.75h.9v.9h-.9zM545.5 427h.9v.9h-.9zM548.25 425h.9v.9h-.9zM561.25 425.75h.9v.9h-.9zM571.25 428.75h.9v.9h-.9zM547.5 427h.9v.9h-.9zM575 428.5h.9v.9h-.9zM568.75 427h.9v.9h-.9zM574 426.25h.9v.9h-.9zM555.75 427.5h.9v.9h-.9zM572.25 428h.9v.9h-.9zM558 427.25h.9v.9h-.9zM551 427.5h.9v.9h-.9zM552.75 425.75h.9v.9h-.9zM564 427.75h.9v.9h-.9zM570.5 427h.9v.9h-.9zM570.25 428h.9v.9h-.9zM545.5 429h.9v.9h-.9zM559 426.5h.9v.9h-.9zM562.5 429h.9v.9h-.9zM564.25 427.25h.9v.9h-.9zM573 427.25h.9v.9h-.9zM539 427.5h.9v.9h-.9zM567 426.5h.9v.9h-.9zM567 425.75h.9v.9h-.9zM549.5 429.25h.9v.9h-.9zM548.5 426.75h.9v.9h-.9zM542.5 426.75h.9v.9h-.9zM577.75 428.5h.9v.9h-.9zM540.75 428h.9v.9h-.9zM575.75 427.5h.9v.9h-.9zM546.75 425.75h.9v.9h-.9zM549.5 426.75h.9v.9h-.9zM550 426.5h.9v.9h-.9zM561.75 427.75h.9v.9h-.9zM543.75 428.25h.9v.9h-.9zM559.5 428.5h.9v.9h-.9zM553.5 426.75h.9v.9h-.9zM545 426.25h.9v.9h-.9zM564.5 426.25h.9v.9h-.9zM566.5 428.25h.9v.9h-.9zM546.5 428.5h.9v.9h-.9zM576 428.75h.9v.9h-.9zM549 427.75h.9v.9h-.9zM553.75 426.5h.9v.9h-.9zM571.5 427.5h.9v.9h-.9zM543.5 428.25h.9v.9h-.9zM548 428h.9v.9h-.9zM550.75 428.75h.9v.9h-.9zM555 426.5h.9v.9h-.9zM573.75 426.25h.9v.9h-.9zM556.25 425.75h.9v.9h-.9zM571 428.25h.9v.9h-.9zM575 427h.9v.9h-.9zM564.5 427.75h.9v.9h-.9zM567.5 428.75h.9v.9h-.9zM577.75 427.75h.9v.9h-.9zM552.75 430.25h.9v.9h-.9zM550.5 426h.9v.9h-.9zM574.75 428.75h.9v.9h-.9zM556.25 429.75h.9v.9h-.9zM546.75 426.25h.9v.9h-.9zM545.25 427h.9v.9h-.9zM555.5 426.75h.9v.9h-.9zM554 427.75h.9v.9h-.9zM552.5 427.5h.9v.9h-.9zM559.25 426.25h.9v.9h-.9zM575.5 427h.9v.9h-.9zM565.25 425.5h.9v.9h-.9zM558.75 428.25h.9v.9h-.9zM539.25 426.25h.9v.9h-.9zM573 427h.9v.9h-.9zM552 426.25h.9v.9h-.9zM560.5 426.25h.9v.9h-.9zM557.5 426.5h.9v.9h-.9zM562 426.5h.9v.9h-.9zM567.5 427.25h.9v.9h-.9zM572.5 427.75h.9v.9h-.9zM551.5 428.25h.9v.9h-.9zM571.5 427h.9v.9h-.9zM556.5 426.5h.9v.9h-.9zM544.5 427h.9v.9h-.9zM539 426.5h.9v.9h-.9zM556.75 427.25h.9v.9h-.9zM538.25 426h.9v.9h-.9zM560.75 425.75h.9v.9h-.9zM578.5 430h.9v.9h-.9zM566.75 428.25h.9v.9h-.9zM554.25 427h.9v.9h-.9zM571 427.25h.9v.9h-.9zM565.5 427.75h.9v.9h-.9zM564.75 427h.9v.9h-.9zM576.5 427.5h.9v.9h-.9zM560.25 423.75h.9v.9h-.9zM547 426.75h.9v.9h-.9zM576.5 426h.9v.9h-.9zM546.75 427.5h.9v.9h-.9zM547 427h.9v.9h-.9zM547.5 428.25h.9v.9h-.9zM565.5 427h.9v.9h-.9zM548.25 427.5h.9v.9h-.9zM545.25 426.5h.9v.9h-.9zM540.5 427.5h.9v.9h-.9zM566 427.5h.9v.9h-.9zM540.25 429.75h.9v.9h-.9zM563.5 427.25h.9v.9h-.9zM551 428.5h.9v.9h-.9zM551.5 426.75h.9v.9h-.9zM540.5 427.25h.9v.9h-.9zM546.75 427h.9v.9h-.9zM552 426.25h.9v.9h-.9zM546.5 426.5h.9v.9h-.9zM559.25 428h.9v.9h-.9zM568.75 428.75h.9v.9h-.9zM570.5 428.25h.9v.9h-.9zM540 427.25h.9v.9h-.9zM566.75 428h.9v.9h-.9zM541.75 426.75h.9v.9h-.9zM545.75 426.5h.9v.9h-.9zM573.25 428.25h.9v.9h-.9zM573 427.5h.9v.9h-.9zM574.75 426.75h.9v.9h-.9zM548 429.5h.9v.9h-.9zM557.5 429h.9v.9h-.9zM555.75 425.5h.9v.9h-.9zM576.5 428h.9v.9h-.9zM567.5 427.5h.9v.9h-.9zM539.25 427.25h.9v.9h-.9zM576.25 429.5h.9v.9h-.9zM577.75 428h.9v.9h-.9zM548 426.75h.9v.9h-.9zM545.75 427.75h.9v.9h-.9zM549.5 425h.9v.9h-.9zM552.75 427.5h.9v.9h-.9zM558.25 426.5h.9v.9h-.9zM575.25 429.25h.9v.9h-.9zM553.25 427.25h.9v.9h-.9zM576.75 426.25h.9v.9h-.9zM563.5 427h.9v.9h-.9zM559.25 428h.9v.9h-.9zM576 429.25h.9v.9h-.9zM571.5 428.25h.9v.9h-.9zM556.5 428h.9v.9h-.9zM556.5 429h.9v.9h-.9zM559.75 426.75h.9v.9h-.9zM579 429.5h.9v.9h-.9zM553.5 428h.9v.9h-.9zM573.25 428.75h.9v.9h-.9zM548.25 428.25h.9v.9h-.9zM571.25 427.25h.9v.9h-.9zM567.5 427h.9v.9h-.9zM544.25 427.5h.9v.9h-.9zM562.75 427.25h.9v.9h-.9zM541.5 428.5h.9v.9h-.9zM562.5 428.25h.9v.9h-.9zM549.5 428.25h.9v.9h-.9zM552.5 427.25h.9v.9h-.9zM554 425.5h.9v.9h-.9zM567.75 428.25h.9v.9h-.9zM549.75 427.75h.9v.9h-.9zM566 426h.9v.9h-.9zM544.75 429.25h.9v.9h-.9zM549 427h.9v.9h-.9zM554.25 427h.9v.9h-.9zM567.75 426.25h.9v.9h-.9zM544.25 428.25h.9v.9h-.9zM553.75 427h.9v.9h-.9zM562 426.75h.9v.9h-.9zM559 427h.9v.9h-.9zM575.25 426.75h.9v.9h-.9zM564.25 428.25h.9v.9h-.9zM550.5 428h.9v.9h-.9zM569.75 426h.9v.9h-.9zM577.75 427.25h.9v.9h-.9zM564.5 427.25h.9v.9h-.9zM570.5 427.5h.9v.9h-.9zM546 428.75h.9v.9h-.9zM566 426.75h.9v.9h-.9zM550.25 428.5h.9v.9h-.9zM557.5 429.75h.9v.9h-.9zM554.5 428.25h.9v.9h-.9zM566.5 429.5h.9v.9h-.9zM576.5 427h.9v.9h-.9zM548.5 430h.9v.9h-.9zM566 427.25h.9v.9h-.9zM552.25 427h.9v.9h-.9zM577.25 427.75h.9v.9h-.9zM576.5 426.5h.9v.9h-.9zM578.75 427.5h.9v.9h-.9zM572.25 428.5h.9v.9h-.9zM541 427h.9v.9h-.9zM552 427.5h.9v.9h-.9zM548.25 426.75h.9v.9h-.9zM573.25 428.5h.9v.9h-.9zM558.5 428.25h.9v.9h-.9zM540.25 426.75h.9v.9h-.9zM557 424.75h.9v.9h-.9zM576.75 428.25h.9v.9h-.9zM542.25 429.25h.9v.9h-.9zM544.75 426.75h.9v.9h-.9zM541 427.25h.9v.9h-.9zM568.75 427h.9v.9h-.9zM567.5 427.25h.9v.9h-.9zM567.25 427.5h.9v.9h-.9zM571 427.25h.9v.9h-.9zM578.5 427h.9v.9h-.9zM570.75 426.75h.9v.9h-.9zM565.5 427.25h.9v.9h-.9zM545.25 428h.9v.9h-.9zM542 427.25h.9v.9h-.9zM558.25 429.5h.9v.9h-.9zM538.5 428h.9v.9h-.9zM553 426.25h.9v.9h-.9zM545 427h.9v.9h-.9zM552 426h.9v.9h-.9zM565.75 427.75h.9v.9h-.9zM563.25 427h.9v.9h-.9zM578.25 426h.9v.9h-.9zM542 427h.9v.9h-.9zM546.5 428.25h.9v.9h-.9zM565.25 427h.9v.9h-.9zM546.5 428h.9v.9h-.9zM559 427.25h.9v.9h-.9zM579 426.25h.9v.9h-.9zM539.5 428.25h.9v.9h-.9zM545.25 427.25h.9v.9h-.9zM562.5 426.25h.9v.9h-.9zM561.25 427.75h.9v.9h-.9zM567 425.75h.9v.9h-.9zM552 429.75h.9v.9h-.9zM545.5 426.25h.9v.9h-.9zM574.5 428.25h.9v.9h-.9zM544.25 427.25h.9v.9h-.9zM543.75 428h.9v.9h-.9zM543.25 428.25h.9v.9h-.9zM565.25 426.75h.9v.9h-.9zM577 428.75h.9v.9h-.9zM555.25 427h.9v.9h-.9zM554 427.5h.9v.9h-.9zM548.75 427.5h.9v.9h-.9zM568 427h.9v.9h-.9zM556.5 429h.9v.9h-.9zM555.25 427.25h.9v.9h-.9zM579.25 426.75h.9v.9h-.9zM562.5 428.5h.9v.9h-.9zM558.5 426.75h.9v.9h-.9zM550.5 428.5h.9v.9h-.9zM575.25 427h.9v.9h-.9zM575 427.75h.9v.9h-.9zM547.5 426.25h.9v.9h-.9zM577.5 426.75h.9v.9h-.9zM538.75 426.5h.9v.9h-.9zM557.25 427.75h.9v.9h-.9zM544.5 427.5h.9v.9h-.9zM559 428.5h.9v.9h-.9zM540.5 427.25h.9v.9h-.9zM551.75 427.75h.9v.9h-.9zM563 427h.9v.9h-.9zM547.25 429.25h.9v.9h-.9zM539 427.75h.9v.9h-.9zM558.75 429h.9v.9h-.9zM566.75 429.25h.9v.9h-.9zM572.75 428h.9v.9h-.9zM571.75 428.25h.9v.9h-.9zM569.5 430h.9v.9h-.9zM540.25 427.25h.9v.9h-.9zM575.75 428.25h.9v.9h-.9zM571 426.5h.9v.9h-.9zM545.25 427.75h.9v.9h-.9zM539.75 427.5h.9v.9h-.9zM577.75 427.25h.9v.9h-.9zM543.25 426.5h.9v.9h-.9zM576.75 429.5h.9v.9h-.9zM549.5 427.5h.9v.9h-.9zM557.25 427.5h.9v.9h-.9zM567.5 426h.9v.9h-.9zM562 428.25h.9v.9h-.9zM577.5 428h.9v.9h-.9zM539.25 426.75h.9v.9h-.9zM578.25 426h.9v.9h-.9zM573.25 427.5h.9v.9h-.9zM557 425h.9v.9h-.9zM561.75 428.25h.9v.9h-.9zM574.5 428.75h.9v.9h-.9zM575.25 428.5h.9v.9h-.9zM551.25 425.5h.9v.9h-.9zM566.5 426.75h.9v.9h-.9zM550.75 426.25h.9v.9h-.9zM579.25 428h.9v.9h-.9zM578 428.5h.9v.9h-.9zM543 427.5h.9v.9h-.9zM539 429h.9v.9h-.9zM557.25 424.25h.9v.9h-.9zM542.5 424.5h.9v.9h-.9zM564.5 428h.9v.9h-.9zM576.75 427.75h.9v.9h-.9zM562 428h.9v.9h-.9zM544.75 428h.9v.9h-.9zM551.75 426.75h.9v.9h-.9zM558.75 427.25h.9v.9h-.9zM554.5 427.5h.9v.9h-.9zM546.75 428h.9v.9h-.9zM559.75 427.75h.9v.9h-.9zM546.75 428.25h.9v.9h-.9zM543.5 428.25h.9v.9h-.9zM571 426.75h.9v.9h-.9zM548.25 428.5h.9v.9h-.9zM546.75 426h.9v.9h-.9zM540 425.25h.9v.9h-.9zM551.25 428h.9v.9h-.9zM550 428.25h.9v.9h-.9zM570.75 427.25h.9v.9h-.9zM574.75 427.75h.9v.9h-.9zM572.75 428.5h.9v.9h-.9zM576.75 426.75h.9v.9h-.9zM545.5 426h.9v.9h-.9zM578.75 427.25h.9v.9h-.9zM568.75 428.5h.9v.9h-.9zM550.5 426.25h.9v.9h-.9zM541.5 427h.9v.9h-.9zM557 426.75h.9v.9h-.9zM549.25 428.5h.9v.9h-.9zM547 428.75h.9v.9h-.9zM575.5 428h.9v.9h-.9zM545.25 428.5h.9v.9h-.9zM553.75 427.25h.9v.9h-.9zM546 428.5h.9v.9h-.9zM546.25 426.5h.9v.9h-.9zM551.5 430h.9v.9h-.9zM558.25 428h.9v.9h-.9zM552.5 426.25h.9v.9h-.9zM552.5 427.25h.9v.9h-.9zM543 429h.9v.9h-.9zM552.75 427.25h.9v.9h-.9zM568.5 427.75h.9v.9h-.9zM540.25 427.75h.9v.9h-.9zM560 428.5h.9v.9h-.9zM547.75 428.25h.9v.9h-.9zM552.5 427.75h.9v.9h-.9zM560 428.5h.9v.9h-.9zM547.75 428.25h.9v.9h-.9zM538.5 428.25h.9v.9h-.9zM569.25 426.5h.9v.9h-.9zM577 430.5h.9v.9h-.9zM567.25 428.25h.9v.9h-.9zM567.25 427.25h.9v.9h-.9zM555.5 427.75h.9v.9h-.9zM563.25 427h.9v.9h-.9zM567.5 427.5h.9v.9h-.9zM546.75 428h.9v.9h-.9zM564.5 426h.9v.9h-.9zM576.5 425.75h.9v.9h-.9zM564.25 427.5h.9v.9h-.9zM569.75 426h.9v.9h-.9zM552.5 428.25h.9v.9h-.9zM575.75 428.75h.9v.9h-.9zM570.25 428.25h.9v.9h-.9zM575 428.75h.9v.9h-.9zM563 427.75h.9v.9h-.9zM542.75 428.25h.9v.9h-.9zM561.25 427h.9v.9h-.9zM547.5 424.75h.9v.9h-.9zM575.25 427.75h.9v.9h-.9zM562 427h.9v.9h-.9zM582 436h.9v.9h-.9zM580.25 438.25h.9v.9h-.9zM582 436.75h.9v.9h-.9zM583.75 437h.9v.9h-.9zM582 439h.9v.9h-.9zM586 439.5h.9v.9h-.9zM585 438.25h.9v.9h-.9zM579.75 435.25h.9v.9h-.9zM581.25 434.5h.9v.9h-.9zM583.75 437.5h.9v.9h-.9zM586.25 437.5h.9v.9h-.9zM586.75 438.25h.9v.9h-.9zM579.5 439h.9v.9h-.9zM582.5 440.75h.9v.9h-.9zM586.5 438h.9v.9h-.9zM581.75 440h.9v.9h-.9zM580.75 436.5h.9v.9h-.9zM583.75 437.25h.9v.9h-.9zM581 438.75h.9v.9h-.9zM581.75 438.25h.9v.9h-.9zM584.75 437h.9v.9h-.9zM580.5 436.75h.9v.9h-.9zM586.5 437.25h.9v.9h-.9zM586.75 434.75h.9v.9h-.9zM587.25 438.5h.9v.9h-.9zM580 436h.9v.9h-.9zM587.25 438.25h.9v.9h-.9zM580.5 438.5h.9v.9h-.9zM580.25 440.25h.9v.9h-.9zM585.75 435.25h.9v.9h-.9zM582 438h.9v.9h-.9zM583.75 438.25h.9v.9h-.9zM582.5 435.25h.9v.9h-.9zM584.75 436.5h.9v.9h-.9zM587.5 439.5h.9v.9h-.9zM580.5 439.75h.9v.9h-.9zM583.25 436.5h.9v.9h-.9zM584.5 439.25h.9v.9h-.9zM583.25 438.25h.9v.9h-.9zM581.25 438h.9v.9h-.9zM581 437.75h.9v.9h-.9zM585.5 438h.9v.9h-.9zM587.5 439h.9v.9h-.9zM581.25 440.75h.9v.9h-.9zM586.25 440.25h.9v.9h-.9zM581.25 436.25h.9v.9h-.9zM581.75 439.25h.9v.9h-.9zM581.5 438.25h.9v.9h-.9zM585.25 437h.9v.9h-.9zM584.75 442.25h.9v.9h-.9zM582.25 440h.9v.9h-.9zM584.25 437.75h.9v.9h-.9zM586.75 441.75h.9v.9h-.9zM583.25 439.75h.9v.9h-.9zM583 436.75h.9v.9h-.9zM583.25 438h.9v.9h-.9zM579.5 438.75h.9v.9h-.9zM581.5 438h.9v.9h-.9zM586.5 437.5h.9v.9h-.9zM584.25 438.5h.9v.9h-.9zM583.25 437h.9v.9h-.9zM583.75 437.75h.9v.9h-.9zM582.75 438.75h.9v.9h-.9zM584.25 438.5h.9v.9h-.9zM584.25 437.5h.9v.9h-.9zM587 436.25h.9v.9h-.9zM586.5 439.5h.9v.9h-.9zM585.5 439.25h.9v.9h-.9zM583 438.5h.9v.9h-.9zM584 439.5h.9v.9h-.9zM585.25 440h.9v.9h-.9zM582.5 439.25h.9v.9h-.9zM582.25 439h.9v.9h-.9zM583 439.5h.9v.9h-.9zM582.5 438.75h.9v.9h-.9zM586.5 436h.9v.9h-.9zM581 439.25h.9v.9h-.9zM584.5 439.75h.9v.9h-.9zM584.75 438.25h.9v.9h-.9zM582.25 438h.9v.9h-.9zM583.75 440.5h.9v.9h-.9zM584.75 440.75h.9v.9h-.9zM584.75 439.75h.9v.9h-.9zM580.5 436h.9v.9h-.9zM586.5 439.75h.9v.9h-.9zM585 438h.9v.9h-.9zM583.75 437.5h.9v.9h-.9zM580 438.25h.9v.9h-.9zM584.25 438h.9v.9h-.9zM587.5 437h.9v.9h-.9zM583.75 438.5h.9v.9h-.9zM581.25 436.75h.9v.9h-.9zM581.5 435.5h.9v.9h-.9zM585.25 435h.9v.9h-.9zM582.25 435h.9v.9h-.9zM586.5 435.5h.9v.9h-.9zM580.25 436.75h.9v.9h-.9zM587.25 439.5h.9v.9h-.9zM583 438.25h.9v.9h-.9zM584 438h.9v.9h-.9zM581.25 437.25h.9v.9h-.9zM586.5 439h.9v.9h-.9zM582 437.25h.9v.9h-.9zM587 440.5h.9v.9h-.9zM584 439h.9v.9h-.9zM581.25 437.25h.9v.9h-.9zM580.25 438.5h.9v.9h-.9zM586 437h.9v.9h-.9zM579.5 440h.9v.9h-.9zM580.75 438.25h.9v.9h-.9zM585 437.5h.9v.9h-.9zM580.75 435.75h.9v.9h-.9zM586.5 438.5h.9v.9h-.9zM580.75 437.5h.9v.9h-.9zM581 437.25h.9v.9h-.9zM587.25 437.25h.9v.9h-.9zM582.5 440.25h.9v.9h-.9zM580 436.5h.9v.9h-.9zM580.25 437.25h.9v.9h-.9zM580.75 439.25h.9v.9h-.9zM581 438.25h.9v.9h-.9zM582.75 442.25h.9v.9h-.9zM585.25 439.25h.9v.9h-.9zM582 438h.9v.9h-.9zM582.25 438.25h.9v.9h-.9zM580.25 435.5h.9v.9h-.9zM582.5 438.25h.9v.9h-.9zM587.25 438.5h.9v.9h-.9zM584.5 438.75h.9v.9h-.9zM581 439h.9v.9h-.9zM586.25 438h.9v.9h-.9zM586 438.25h.9v.9h-.9zM581 436.25h.9v.9h-.9zM580.25 437.25h.9v.9h-.9zM586.25 437.5h.9v.9h-.9zM580.5 439.25h.9v.9h-.9zM583.5 438.25h.9v.9h-.9zM585 438.5h.9v.9h-.9zM580.5 438.75h.9v.9h-.9zM580 437.5h.9v.9h-.9zM583.75 439.25h.9v.9h-.9zM586.75 435h.9v.9h-.9zM585.25 440.25h.9v.9h-.9zM582 438.25h.9v.9h-.9zM583.25 439.75h.9v.9h-.9zM583 438.5h.9v.9h-.9zM586.25 435.75h.9v.9h-.9zM586.25 438.25h.9v.9h-.9zM582 437.25h.9v.9h-.9zM583.5 437.75h.9v.9h-.9zM585.5 438.5h.9v.9h-.9zM585.75 441.5h.9v.9h-.9zM581.75 436.5h.9v.9h-.9zM582 437.5h.9v.9h-.9zM586.5 436.5h.9v.9h-.9zM585.75 439.25h.9v.9h-.9zM585.25 439.75h.9v.9h-.9zM587 438.25h.9v.9h-.9zM585.75 442.25h.9v.9h-.9zM580.75 440h.9v.9h-.9zM585.75 439.5h.9v.9h-.9zM580.5 438.5h.9v.9h-.9zM584 437.5h.9v.9h-.9zM586.75 438.75h.9v.9h-.9zM587.5 437.5h.9v.9h-.9zM583.25 436.25h.9v.9h-.9zM582.25 437.25h.9v.9h-.9zM587 437.25h.9v.9h-.9zM586.25 436.5h.9v.9h-.9zM583.5 438.75h.9v.9h-.9zM580 440h.9v.9h-.9zM587.5 437.25h.9v.9h-.9zM580 438.5h.9v.9h-.9zM587.25 438.5h.9v.9h-.9zM581 439h.9v.9h-.9zM581 440.25h.9v.9h-.9zM583.25 439h.9v.9h-.9zM582.75 437.75h.9v.9h-.9zM580 439.25h.9v.9h-.9zM583.75 442h.9v.9h-.9zM582.75 439h.9v.9h-.9zM585.5 438.25h.9v.9h-.9zM585 437h.9v.9h-.9zM580.5 437.25h.9v.9h-.9zM585 435h.9v.9h-.9zM580 437.75h.9v.9h-.9zM586.25 437.5h.9v.9h-.9zM585.25 436.5h.9v.9h-.9zM587 437.5h.9v.9h-.9zM585.25 438.75h.9v.9h-.9zM583 437.25h.9v.9h-.9zM587 436.75h.9v.9h-.9zM579.5 438.75h.9v.9h-.9zM586.5 440h.9v.9h-.9zM583.25 438.25h.9v.9h-.9zM580.25 435.25h.9v.9h-.9zM585 438.25h.9v.9h-.9zM580.75 437.75h.9v.9h-.9zM586.25 436.25h.9v.9h-.9zM580.5 435.25h.9v.9h-.9zM623 416.5h.9v.9h-.9zM608.25 418.75h.9v.9h-.9zM610.5 418.25h.9v.9h-.9zM625.5 420.5h.9v.9h-.9zM609.5 419h.9v.9h-.9zM625.5 421.25h.9v.9h-.9zM615.25 421.25h.9v.9h-.9zM621.25 419.5h.9v.9h-.9zM609.25 415h.9v.9h-.9zM616.25 420h.9v.9h-.9zM615.25 417.5h.9v.9h-.9zM615 416h.9v.9h-.9zM591.75 418.75h.9v.9h-.9zM596.25 419.25h.9v.9h-.9zM616.75 419.25h.9v.9h-.9zM602 423.25h.9v.9h-.9zM623.5 418.75h.9v.9h-.9zM604.75 418.5h.9v.9h-.9zM598 420h.9v.9h-.9zM616 424h.9v.9h-.9zM600.25 421.5h.9v.9h-.9zM608.75 420.75h.9v.9h-.9zM608 417.25h.9v.9h-.9zM618.75 416.25h.9v.9h-.9zM617.25 418.25h.9v.9h-.9zM616.25 418.75h.9v.9h-.9zM618.5 423.5h.9v.9h-.9zM604 423.25h.9v.9h-.9zM596.5 421.5h.9v.9h-.9zM602.5 419.5h.9v.9h-.9zM617.5 421.25h.9v.9h-.9zM610.5 416.5h.9v.9h-.9zM589 424.25h.9v.9h-.9zM612.5 420h.9v.9h-.9zM620 424.5h.9v.9h-.9zM589.5 425.25h.9v.9h-.9zM604 418.5h.9v.9h-.9zM599.25 416h.9v.9h-.9zM613 420h.9v.9h-.9zM611.25 420h.9v.9h-.9zM600.5 419.75h.9v.9h-.9zM611.75 416.5h.9v.9h-.9zM596 420h.9v.9h-.9zM590.25 420.5h.9v.9h-.9zM621.5 414.75h.9v.9h-.9zM625.5 422h.9v.9h-.9zM616 422.25h.9v.9h-.9zM608.25 420.75h.9v.9h-.9zM623.5 417.25h.9v.9h-.9zM595.75 420.25h.9v.9h-.9zM608.25 423.25h.9v.9h-.9zM622.75 417.75h.9v.9h-.9zM611.5 417.25h.9v.9h-.9zM593 418.25h.9v.9h-.9zM608.25 418.25h.9v.9h-.9zM605.75 422.75h.9v.9h-.9zM594 415.5h.9v.9h-.9zM606.5 421.5h.9v.9h-.9zM590 420.75h.9v.9h-.9zM603 421.75h.9v.9h-.9zM602.25 420h.9v.9h-.9zM612.5 418.5h.9v.9h-.9zM607.5 423h.9v.9h-.9zM607 418h.9v.9h-.9zM594.25 420h.9v.9h-.9zM613.25 416.75h.9v.9h-.9zM612 419.75h.9v.9h-.9zM617 421.75h.9v.9h-.9zM610 419.75h.9v.9h-.9zM611.75 418.5h.9v.9h-.9zM620 415.75h.9v.9h-.9zM619 421h.9v.9h-.9zM610.25 419.75h.9v.9h-.9zM620.5 417.75h.9v.9h-.9zM598.25 422.5h.9v.9h-.9zM588.75 419.5h.9v.9h-.9zM592.25 418.5h.9v.9h-.9zM617.75 415.75h.9v.9h-.9zM591.25 416.25h.9v.9h-.9zM594.25 414h.9v.9h-.9zM618.25 423.75h.9v.9h-.9zM615.75 422h.9v.9h-.9zM591.75 419.25h.9v.9h-.9zM589.75 423.25h.9v.9h-.9zM623.5 420.25h.9v.9h-.9zM607.75 417.25h.9v.9h-.9zM609 420.5h.9v.9h-.9zM620.25 420h.9v.9h-.9zM607.75 417.5h.9v.9h-.9zM595.25 418.25h.9v.9h-.9zM604.25 420.5h.9v.9h-.9zM594.25 423.5h.9v.9h-.9zM599 416.5h.9v.9h-.9zM595 420.25h.9v.9h-.9zM611 419.75h.9v.9h-.9zM612.75 418.75h.9v.9h-.9zM592.25 417.5h.9v.9h-.9zM624.5 417h.9v.9h-.9zM590.75 419.75h.9v.9h-.9zM590.25 421h.9v.9h-.9zM588.75 416h.9v.9h-.9zM622.25 419.25h.9v.9h-.9zM588.5 419.25h.9v.9h-.9zM603.5 419.25h.9v.9h-.9zM600.25 418.25h.9v.9h-.9zM592 415.75h.9v.9h-.9zM612 417.75h.9v.9h-.9zM593 417h.9v.9h-.9zM595.5 418h.9v.9h-.9zM605 419.75h.9v.9h-.9zM613 416.75h.9v.9h-.9zM592.5 419.75h.9v.9h-.9zM613.25 421h.9v.9h-.9zM602.5 422.5h.9v.9h-.9zM619 417h.9v.9h-.9zM608.5 418.5h.9v.9h-.9zM622.75 419.5h.9v.9h-.9zM602.5 421.25h.9v.9h-.9zM610.5 420.25h.9v.9h-.9zM625.5 419.25h.9v.9h-.9zM605.25 419h.9v.9h-.9zM588.75 418.75h.9v.9h-.9zM622.25 417.75h.9v.9h-.9zM623.75 417.5h.9v.9h-.9zM617 421.25h.9v.9h-.9zM613.5 420.75h.9v.9h-.9zM618.5 419.25h.9v.9h-.9zM603.5 418.25h.9v.9h-.9zM610.5 417.5h.9v.9h-.9zM598 421.75h.9v.9h-.9zM615.5 419h.9v.9h-.9zM588.5 418.75h.9v.9h-.9zM609.75 422h.9v.9h-.9zM609 421h.9v.9h-.9zM595.25 419h.9v.9h-.9zM603.25 416.75h.9v.9h-.9zM606.75 417.5h.9v.9h-.9zM616 421h.9v.9h-.9zM590.25 420.5h.9v.9h-.9zM595.5 419.75h.9v.9h-.9zM595.25 420.75h.9v.9h-.9zM623.25 418.75h.9v.9h-.9zM599.5 420h.9v.9h-.9zM602 419h.9v.9h-.9zM617.5 424.25h.9v.9h-.9zM611.25 421h.9v.9h-.9zM612.25 423.5h.9v.9h-.9zM605 417.75h.9v.9h-.9zM593.25 419h.9v.9h-.9zM590.25 415.75h.9v.9h-.9zM594.75 422h.9v.9h-.9zM605.5 422.25h.9v.9h-.9zM612.75 422.25h.9v.9h-.9zM589.5 418.25h.9v.9h-.9zM603.5 416.75h.9v.9h-.9zM601 420.25h.9v.9h-.9zM611.5 417.25h.9v.9h-.9zM603.75 420h.9v.9h-.9zM619 418.75h.9v.9h-.9zM613.25 421h.9v.9h-.9zM599.25 422.25h.9v.9h-.9zM601.75 416.5h.9v.9h-.9zM622.5 424.25h.9v.9h-.9zM593 419.25h.9v.9h-.9zM603.25 415.25h.9v.9h-.9zM621.5 418.75h.9v.9h-.9zM606.25 425.5h.9v.9h-.9zM602.5 418.5h.9v.9h-.9zM599.5 416.5h.9v.9h-.9zM618.25 415.75h.9v.9h-.9zM608 420.25h.9v.9h-.9zM613.25 424h.9v.9h-.9zM592.25 422.5h.9v.9h-.9zM606 423.5h.9v.9h-.9zM604.25 420.5h.9v.9h-.9zM596.5 420.75h.9v.9h-.9zM613.75 418.5h.9v.9h-.9zM613 419.75h.9v.9h-.9zM607 418.5h.9v.9h-.9zM599.5 419.5h.9v.9h-.9zM614.25 418.25h.9v.9h-.9zM611.5 418h.9v.9h-.9zM616.5 415.5h.9v.9h-.9zM595.25 419.75h.9v.9h-.9zM609 422h.9v.9h-.9zM610.5 421.5h.9v.9h-.9zM602.5 419.5h.9v.9h-.9zM621 416.25h.9v.9h-.9zM613.75 422.75h.9v.9h-.9zM597.5 424.5h.9v.9h-.9zM609.75 418.25h.9v.9h-.9zM588 422.5h.9v.9h-.9zM607.25 419h.9v.9h-.9zM603 421h.9v.9h-.9zM625 422.5h.9v.9h-.9zM610.5 419h.9v.9h-.9zM620 424.25h.9v.9h-.9zM614.5 418.25h.9v.9h-.9zM603.25 421.25h.9v.9h-.9zM590 421h.9v.9h-.9zM606.25 418h.9v.9h-.9zM619.75 419.25h.9v.9h-.9zM624.5 419.25h.9v.9h-.9zM601.25 418.5h.9v.9h-.9zM605 417.25h.9v.9h-.9zM594 416.5h.9v.9h-.9zM608.5 420.25h.9v.9h-.9zM592.5 416.5h.9v.9h-.9zM606.75 419.5h.9v.9h-.9zM595.25 420h.9v.9h-.9zM590.75 418h.9v.9h-.9zM597.25 422.5h.9v.9h-.9zM622 418.5h.9v.9h-.9zM615.5 417.5h.9v.9h-.9zM610.75 419h.9v.9h-.9zM595 419.5h.9v.9h-.9zM623.75 418.25h.9v.9h-.9zM589.75 420.75h.9v.9h-.9zM612 418.25h.9v.9h-.9zM622.75 415.25h.9v.9h-.9zM617.5 419h.9v.9h-.9zM619.5 423.5h.9v.9h-.9zM602.25 419.75h.9v.9h-.9zM614.25 420h.9v.9h-.9zM604.75 415.75h.9v.9h-.9zM605 420h.9v.9h-.9zM614.75 422.5h.9v.9h-.9zM588.25 421.25h.9v.9h-.9zM596.5 419.75h.9v.9h-.9zM622.5 416.25h.9v.9h-.9zM611.75 419.5h.9v.9h-.9zM593.5 423h.9v.9h-.9zM597.75 423h.9v.9h-.9zM603.75 421.5h.9v.9h-.9zM614.25 420.75h.9v.9h-.9zM594.5 418h.9v.9h-.9zM603.75 420.75h.9v.9h-.9zM623 420.25h.9v.9h-.9zM588.5 420h.9v.9h-.9zM623.5 421.75h.9v.9h-.9zM598.75 416.25h.9v.9h-.9zM602.25 419.25h.9v.9h-.9zM619 421h.9v.9h-.9zM613 421.75h.9v.9h-.9zM613.75 420.5h.9v.9h-.9zM612.75 418.5h.9v.9h-.9zM609.5 418.5h.9v.9h-.9zM604.25 419.25h.9v.9h-.9zM591.5 422h.9v.9h-.9zM599.25 420h.9v.9h-.9zM616.25 419.75h.9v.9h-.9zM610.5 420.5h.9v.9h-.9zM625.5 424.75h.9v.9h-.9zM596.75 423.75h.9v.9h-.9zM596.5 420.5h.9v.9h-.9zM594 418.25h.9v.9h-.9zM597.75 423.75h.9v.9h-.9zM617.25 419.75h.9v.9h-.9zM589.5 419.25h.9v.9h-.9zM598 423h.9v.9h-.9zM588.25 419h.9v.9h-.9zM597.75 420.75h.9v.9h-.9zM599.5 418.25h.9v.9h-.9zM622.5 425h.9v.9h-.9zM620 418.25h.9v.9h-.9zM590.25 421.75h.9v.9h-.9zM597 419h.9v.9h-.9zM593.25 418.75h.9v.9h-.9zM600 418h.9v.9h-.9zM620.25 419h.9v.9h-.9zM597.25 424h.9v.9h-.9zM588.75 420h.9v.9h-.9zM615.5 420.25h.9v.9h-.9zM621.5 419.75h.9v.9h-.9zM618 415h.9v.9h-.9zM609.75 416.25h.9v.9h-.9zM612 419.5h.9v.9h-.9zM614.5 419.25h.9v.9h-.9zM615 419.5h.9v.9h-.9zM609.75 419.25h.9v.9h-.9zM599.75 422.25h.9v.9h-.9zM609.25 416h.9v.9h-.9zM592.5 420.75h.9v.9h-.9zM609.5 423.25h.9v.9h-.9zM624 423h.9v.9h-.9zM590.25 419.25h.9v.9h-.9zM599.5 420.5h.9v.9h-.9zM607.25 417.5h.9v.9h-.9zM592.5 420h.9v.9h-.9zM597.5 420.5h.9v.9h-.9zM610 417.75h.9v.9h-.9zM618.5 419.5h.9v.9h-.9zM615.5 420.75h.9v.9h-.9zM616.25 418.75h.9v.9h-.9zM620.75 417.75h.9v.9h-.9zM608.75 418.5h.9v.9h-.9zM614.25 418.5h.9v.9h-.9zM611 415.75h.9v.9h-.9zM618.25 416.5h.9v.9h-.9zM613.25 420.75h.9v.9h-.9zM599.25 420h.9v.9h-.9zM618.5 417.5h.9v.9h-.9zM610.5 420.5h.9v.9h-.9zM607.5 415h.9v.9h-.9zM625 421.75h.9v.9h-.9zM601 422.75h.9v.9h-.9zM625.5 423h.9v.9h-.9zM603.25 419.25h.9v.9h-.9zM607.75 418.75h.9v.9h-.9zM603.75 417.75h.9v.9h-.9zM616 419h.9v.9h-.9zM612.25 418.5h.9v.9h-.9zM606 419.25h.9v.9h-.9zM604.75 420h.9v.9h-.9zM619.25 419.75h.9v.9h-.9zM607.5 421.75h.9v.9h-.9zM603 418.75h.9v.9h-.9zM596.75 419.75h.9v.9h-.9zM621 419h.9v.9h-.9zM609 418h.9v.9h-.9zM614.25 420.75h.9v.9h-.9zM601 421.25h.9v.9h-.9zM588.5 419h.9v.9h-.9zM599 421.75h.9v.9h-.9zM595.75 421h.9v.9h-.9zM600.25 419.75h.9v.9h-.9zM592 418.75h.9v.9h-.9zM600.5 417.25h.9v.9h-.9zM592 419.25h.9v.9h-.9zM603.5 420.25h.9v.9h-.9zM599 418h.9v.9h-.9zM604.75 419h.9v.9h-.9zM614 419.75h.9v.9h-.9zM622 417.5h.9v.9h-.9zM612 421.25h.9v.9h-.9zM617.75 419.25h.9v.9h-.9zM623 419.5h.9v.9h-.9zM602.25 415.25h.9v.9h-.9zM606 418h.9v.9h-.9zM597.25 419.5h.9v.9h-.9zM595.75 417.25h.9v.9h-.9zM600 424.75h.9v.9h-.9zM618.25 420.75h.9v.9h-.9zM595.5 417h.9v.9h-.9zM622.25 422.75h.9v.9h-.9zM618 420h.9v.9h-.9zM607.75 423.25h.9v.9h-.9zM606 419.5h.9v.9h-.9zM609.75 420h.9v.9h-.9zM596.5 418.5h.9v.9h-.9zM624.75 420h.9v.9h-.9zM595 420h.9v.9h-.9zM610 426.5h.9v.9h-.9zM622 420.25h.9v.9h-.9zM590.75 417.5h.9v.9h-.9zM616.25 425.75h.9v.9h-.9zM624 422h.9v.9h-.9zM613.75 417.5h.9v.9h-.9zM618 420.5h.9v.9h-.9zM600.75 423.75h.9v.9h-.9zM618 424.5h.9v.9h-.9zM600.25 423h.9v.9h-.9zM611.5 417.25h.9v.9h-.9zM614.25 422.75h.9v.9h-.9zM593.5 418.5h.9v.9h-.9zM612.5 418h.9v.9h-.9zM589.25 420.25h.9v.9h-.9zM595.25 420.75h.9v.9h-.9zM598.5 423.25h.9v.9h-.9zM623.75 420.75h.9v.9h-.9zM596.75 415.75h.9v.9h-.9zM610.25 417.5h.9v.9h-.9zM622.75 420h.9v.9h-.9zM601.75 420.75h.9v.9h-.9zM596.25 421.5h.9v.9h-.9zM620.5 419.25h.9v.9h-.9zM621.75 416.25h.9v.9h-.9zM624.25 411h.9v.9h-.9zM602.5 415.75h.9v.9h-.9zM615.75 423.5h.9v.9h-.9zM601.75 422.25h.9v.9h-.9zM600.75 422.5h.9v.9h-.9zM606 418.5h.9v.9h-.9zM618 419h.9v.9h-.9zM599.75 420.5h.9v.9h-.9zM614.75 422h.9v.9h-.9zM598.75 416.75h.9v.9h-.9zM597.75 418h.9v.9h-.9zM595.75 422.25h.9v.9h-.9zM621.5 419h.9v.9h-.9zM614.25 422h.9v.9h-.9zM610.75 418.75h.9v.9h-.9zM593 420.5h.9v.9h-.9zM623.5 416.75h.9v.9h-.9zM610.75 418.25h.9v.9h-.9zM618 414h.9v.9h-.9zM596.5 420h.9v.9h-.9zM616.75 419.25h.9v.9h-.9zM596.25 418h.9v.9h-.9zM617.25 423h.9v.9h-.9zM609.25 419.75h.9v.9h-.9zM610.5 419h.9v.9h-.9zM588.5 423.5h.9v.9h-.9zM593.25 420.25h.9v.9h-.9zM604.5 421h.9v.9h-.9zM595.75 420h.9v.9h-.9zM611 419h.9v.9h-.9zM596.5 418.5h.9v.9h-.9zM623.25 418.75h.9v.9h-.9zM609.75 420.25h.9v.9h-.9zM603.5 418h.9v.9h-.9zM612.5 419.25h.9v.9h-.9zM588.75 418h.9v.9h-.9zM601.25 420.25h.9v.9h-.9zM623.75 419h.9v.9h-.9zM605.75 418.75h.9v.9h-.9zM599.75 421h.9v.9h-.9zM623.75 417h.9v.9h-.9zM603.75 417.5h.9v.9h-.9zM620.25 419h.9v.9h-.9zM604.25 418h.9v.9h-.9zM596.5 419h.9v.9h-.9zM601.25 421h.9v.9h-.9zM615.25 416.75h.9v.9h-.9zM589.75 417.25h.9v.9h-.9zM621 416.5h.9v.9h-.9zM617.75 418.25h.9v.9h-.9zM591 416.5h.9v.9h-.9zM613.5 419h.9v.9h-.9zM619.75 415.5h.9v.9h-.9zM605.75 420.5h.9v.9h-.9zM621.75 425h.9v.9h-.9zM612.5 421.25h.9v.9h-.9zM613.75 421h.9v.9h-.9zM593.25 420.5h.9v.9h-.9zM591.5 419.5h.9v.9h-.9zM613.25 421h.9v.9h-.9zM623.75 419h.9v.9h-.9zM599 422.25h.9v.9h-.9zM595 420.25h.9v.9h-.9zM625.5 419.5h.9v.9h-.9zM599.25 424.5h.9v.9h-.9zM622.25 415.25h.9v.9h-.9zM594.75 422.5h.9v.9h-.9zM594 418.75h.9v.9h-.9zM614.5 419.25h.9v.9h-.9zM590 421.75h.9v.9h-.9zM615.5 419.25h.9v.9h-.9zM589.75 420.75h.9v.9h-.9zM599.25 425.25h.9v.9h-.9zM603.25 419.75h.9v.9h-.9zM620 421.75h.9v.9h-.9zM625.5 419.25h.9v.9h-.9zM593.5 417.25h.9v.9h-.9zM609 424.5h.9v.9h-.9zM615.5 416h.9v.9h-.9zM625.5 418.25h.9v.9h-.9zM602.5 423.5h.9v.9h-.9zM613 418h.9v.9h-.9zM622.75 418.25h.9v.9h-.9zM625 418.5h.9v.9h-.9zM603.25 417.25h.9v.9h-.9zM611.5 421.25h.9v.9h-.9zM621.25 420.75h.9v.9h-.9zM605 419.25h.9v.9h-.9zM625 423.25h.9v.9h-.9zM607.5 423h.9v.9h-.9zM596.75 421.75h.9v.9h-.9zM589.75 418.25h.9v.9h-.9zM616.25 423h.9v.9h-.9zM618.25 418.25h.9v.9h-.9zM612.25 415.25h.9v.9h-.9zM623.75 424h.9v.9h-.9zM590.25 421.25h.9v.9h-.9zM594.25 422.75h.9v.9h-.9zM602.5 420.75h.9v.9h-.9zM590.75 419h.9v.9h-.9zM621.5 420.25h.9v.9h-.9zM596.75 420.5h.9v.9h-.9zM597 422.5h.9v.9h-.9zM600.5 419.5h.9v.9h-.9zM598.5 417h.9v.9h-.9zM608.5 420h.9v.9h-.9zM614.25 418.5h.9v.9h-.9zM598 417.5h.9v.9h-.9zM598 420.5h.9v.9h-.9zM615 418h.9v.9h-.9zM615.75 421h.9v.9h-.9zM600.5 417.75h.9v.9h-.9zM589.5 419.75h.9v.9h-.9zM588.25 422.75h.9v.9h-.9zM598.75 420.5h.9v.9h-.9zM603.75 421.5h.9v.9h-.9zM595.25 418.5h.9v.9h-.9zM608.5 420h.9v.9h-.9zM621.25 420.25h.9v.9h-.9zM597.75 421.25h.9v.9h-.9zM613.5 419.5h.9v.9h-.9zM603.25 421.75h.9v.9h-.9zM607.25 420.75h.9v.9h-.9zM591.25 417.25h.9v.9h-.9zM600.5 420h.9v.9h-.9zM620 420.75h.9v.9h-.9zM604 415.75h.9v.9h-.9zM592.5 421.25h.9v.9h-.9zM595.75 420.5h.9v.9h-.9zM625.25 417.25h.9v.9h-.9zM618.5 420.75h.9v.9h-.9zM613.25 420h.9v.9h-.9zM610 418.5h.9v.9h-.9zM595.25 419.5h.9v.9h-.9zM596.25 422.75h.9v.9h-.9zM617.25 417.25h.9v.9h-.9zM624.5 420.25h.9v.9h-.9zM605 417.25h.9v.9h-.9zM601.25 419.5h.9v.9h-.9zM622.5 425.5h.9v.9h-.9zM594.25 420.5h.9v.9h-.9zM602.5 419h.9v.9h-.9zM614.75 419.75h.9v.9h-.9zM589.25 419.25h.9v.9h-.9zM622.75 417.25h.9v.9h-.9zM597 416.25h.9v.9h-.9zM614.25 419.5h.9v.9h-.9zM593.25 415.75h.9v.9h-.9zM623.25 421.75h.9v.9h-.9zM619 423h.9v.9h-.9zM592.75 420.75h.9v.9h-.9zM612.25 421h.9v.9h-.9zM599.75 418h.9v.9h-.9zM591 418.25h.9v.9h-.9zM588.5 423.25h.9v.9h-.9zM607.5 417h.9v.9h-.9zM594.25 419.25h.9v.9h-.9zM624.25 420.75h.9v.9h-.9zM598 417.25h.9v.9h-.9zM622 417.75h.9v.9h-.9zM596.5 419.5h.9v.9h-.9zM616.25 422.75h.9v.9h-.9zM600.5 416.5h.9v.9h-.9zM592.75 420.75h.9v.9h-.9zM593.75 419.5h.9v.9h-.9zM607.75 421h.9v.9h-.9zM594.75 420.5h.9v.9h-.9zM607.75 422.25h.9v.9h-.9zM613.25 418.75h.9v.9h-.9zM593.25 419h.9v.9h-.9zM618 419.75h.9v.9h-.9zM614.5 418.5h.9v.9h-.9zM599.75 418h.9v.9h-.9zM622.75 422.75h.9v.9h-.9zM591.25 417.75h.9v.9h-.9zM589.5 419.25h.9v.9h-.9zM605 416.5h.9v.9h-.9zM621 418.25h.9v.9h-.9zM625.5 422.75h.9v.9h-.9zM624.25 419h.9v.9h-.9zM603 420.25h.9v.9h-.9zM593.5 421.75h.9v.9h-.9zM591.5 421.5h.9v.9h-.9zM591 422.75h.9v.9h-.9zM603.25 419h.9v.9h-.9zM605.75 422h.9v.9h-.9zM614.75 422.25h.9v.9h-.9zM603.75 417.5h.9v.9h-.9zM589.5 415.75h.9v.9h-.9zM595.75 418.5h.9v.9h-.9zM611.5 417h.9v.9h-.9zM591.75 422.75h.9v.9h-.9zM614 420h.9v.9h-.9zM590.75 420h.9v.9h-.9zM602.5 421.5h.9v.9h-.9zM592.75 418h.9v.9h-.9zM618.75 422.25h.9v.9h-.9zM607.5 418h.9v.9h-.9zM591 418.25h.9v.9h-.9zM591.75 419.75h.9v.9h-.9zM602.75 419.75h.9v.9h-.9zM589.75 419h.9v.9h-.9zM589.25 426.5h.9v.9h-.9zM601.75 418h.9v.9h-.9zM599.75 420h.9v.9h-.9zM625.25 417.75h.9v.9h-.9zM613.25 420.75h.9v.9h-.9zM618 419.75h.9v.9h-.9zM602.25 419.5h.9v.9h-.9zM614.25 417.25h.9v.9h-.9zM603.5 420.25h.9v.9h-.9zM602.5 420h.9v.9h-.9zM622.5 420h.9v.9h-.9zM624 419.5h.9v.9h-.9zM600 419.75h.9v.9h-.9zM593.5 419.25h.9v.9h-.9zM608.5 424.25h.9v.9h-.9zM623.5 419.5h.9v.9h-.9zM602.5 418.25h.9v.9h-.9zM605 418h.9v.9h-.9zM616.25 415h.9v.9h-.9zM599 419.5h.9v.9h-.9zM603 418h.9v.9h-.9zM612.75 418.75h.9v.9h-.9zM591 425.25h.9v.9h-.9zM595.5 423.75h.9v.9h-.9zM605.25 416h.9v.9h-.9zM615.25 418.5h.9v.9h-.9zM602.25 422h.9v.9h-.9zM617.25 424.25h.9v.9h-.9zM598.25 425.25h.9v.9h-.9zM624 424.25h.9v.9h-.9zM612.25 419.25h.9v.9h-.9zM609.25 419.25h.9v.9h-.9zM598.75 420.5h.9v.9h-.9zM606.5 419h.9v.9h-.9zM617.5 421h.9v.9h-.9zM591.5 421.25h.9v.9h-.9zM615 417.75h.9v.9h-.9zM607.75 417.75h.9v.9h-.9zM602.5 422.5h.9v.9h-.9zM607.75 423.25h.9v.9h-.9zM599.5 416.75h.9v.9h-.9zM594.75 419.75h.9v.9h-.9zM618.5 418h.9v.9h-.9zM614 419.75h.9v.9h-.9zM621.75 417.25h.9v.9h-.9zM624.25 418.75h.9v.9h-.9zM590.25 414.25h.9v.9h-.9zM625.75 422h.9v.9h-.9zM589.25 414.75h.9v.9h-.9zM614 416h.9v.9h-.9zM609.5 421.5h.9v.9h-.9zM594 419.25h.9v.9h-.9zM620.75 414.25h.9v.9h-.9zM596.5 421.5h.9v.9h-.9zM599.5 417h.9v.9h-.9zM596 419h.9v.9h-.9zM612 420.5h.9v.9h-.9zM603.25 424.25h.9v.9h-.9zM616.25 418.75h.9v.9h-.9zM617.25 415.5h.9v.9h-.9zM618 419.25h.9v.9h-.9zM588 419.25h.9v.9h-.9zM620.75 416h.9v.9h-.9zM608.25 419h.9v.9h-.9zM597.75 420.25h.9v.9h-.9zM619 419.25h.9v.9h-.9zM609.5 421.25h.9v.9h-.9zM604.5 419.75h.9v.9h-.9zM600 422h.9v.9h-.9zM616.75 420.5h.9v.9h-.9zM615 421.75h.9v.9h-.9zM598 421.25h.9v.9h-.9zM601 419.75h.9v.9h-.9zM603.75 418h.9v.9h-.9zM601.25 418.75h.9v.9h-.9zM600.5 424.5h.9v.9h-.9zM620 420h.9v.9h-.9zM599.25 419h.9v.9h-.9zM621.5 419h.9v.9h-.9zM616.75 420h.9v.9h-.9zM603.25 424.5h.9v.9h-.9zM594.5 417.75h.9v.9h-.9zM617 418.5h.9v.9h-.9zM591.25 420.5h.9v.9h-.9zM596.25 419.25h.9v.9h-.9zM609 423h.9v.9h-.9zM600.25 424h.9v.9h-.9zM596.75 418.25h.9v.9h-.9zM589.5 419.25h.9v.9h-.9zM588 417.5h.9v.9h-.9zM605.25 417.75h.9v.9h-.9zM622.25 420.75h.9v.9h-.9zM593.5 419.5h.9v.9h-.9zM614.5 416h.9v.9h-.9zM597 420.25h.9v.9h-.9zM601 422h.9v.9h-.9zM598.75 418.75h.9v.9h-.9zM594 415h.9v.9h-.9zM624.75 419h.9v.9h-.9zM625 422.25h.9v.9h-.9zM595.75 417.25h.9v.9h-.9zM592.25 417.75h.9v.9h-.9zM618 419.75h.9v.9h-.9zM608 419.5h.9v.9h-.9zM608.5 417.25h.9v.9h-.9zM595.5 424.5h.9v.9h-.9zM605 418h.9v.9h-.9zM625.25 420h.9v.9h-.9zM622.75 420.75h.9v.9h-.9zM614.25 421h.9v.9h-.9zM612.75 419.25h.9v.9h-.9zM595.25 421h.9v.9h-.9zM603.75 419.5h.9v.9h-.9zM624.5 422h.9v.9h-.9zM611.25 421.25h.9v.9h-.9zM612.75 421.25h.9v.9h-.9zM596 420.75h.9v.9h-.9zM611 415.5h.9v.9h-.9zM606.5 421.75h.9v.9h-.9zM599.25 420.25h.9v.9h-.9zM606.75 420h.9v.9h-.9zM617.5 418.75h.9v.9h-.9zM595.5 420h.9v.9h-.9zM606.25 424.25h.9v.9h-.9zM592 423.5h.9v.9h-.9zM593 423.75h.9v.9h-.9zM589.25 419.25h.9v.9h-.9zM602.5 420.25h.9v.9h-.9zM594.75 422h.9v.9h-.9zM590.75 419.5h.9v.9h-.9zM608.25 422.5h.9v.9h-.9zM613.75 419.5h.9v.9h-.9zM601.75 422h.9v.9h-.9zM622.75 416.25h.9v.9h-.9zM605.5 418h.9v.9h-.9zM608.25 419.75h.9v.9h-.9zM599.5 414.25h.9v.9h-.9zM600.25 415.25h.9v.9h-.9zM619.25 418h.9v.9h-.9zM590 418.5h.9v.9h-.9zM589.25 418.25h.9v.9h-.9zM606.75 417.5h.9v.9h-.9zM607 422.75h.9v.9h-.9zM625 420.25h.9v.9h-.9zM598 417.75h.9v.9h-.9zM610.75 420.75h.9v.9h-.9zM606.5 419.5h.9v.9h-.9zM624.5 417.5h.9v.9h-.9zM620.5 422h.9v.9h-.9zM606.5 423.25h.9v.9h-.9zM595.75 419.75h.9v.9h-.9zM610.5 421.5h.9v.9h-.9zM606.75 419.75h.9v.9h-.9zM594.75 420.5h.9v.9h-.9zM605 420.5h.9v.9h-.9zM590.25 420.75h.9v.9h-.9zM619 420h.9v.9h-.9zM588.75 419h.9v.9h-.9zM624 421.5h.9v.9h-.9zM600.5 417.75h.9v.9h-.9zM597.25 417h.9v.9h-.9zM618.75 421.5h.9v.9h-.9zM610.25 419.5h.9v.9h-.9zM596.5 419.75h.9v.9h-.9zM597 418.75h.9v.9h-.9zM596.25 418.5h.9v.9h-.9zM605 417.75h.9v.9h-.9zM610.5 423h.9v.9h-.9zM611.25 420.75h.9v.9h-.9zM605.75 419h.9v.9h-.9zM598.5 420.75h.9v.9h-.9zM588.5 415.75h.9v.9h-.9zM603.5 422.25h.9v.9h-.9zM619.75 424.5h.9v.9h-.9zM622 421.75h.9v.9h-.9zM600.5 420.25h.9v.9h-.9zM624 417.5h.9v.9h-.9zM605.75 420h.9v.9h-.9zM602.5 419.25h.9v.9h-.9zM623 423.25h.9v.9h-.9zM621.75 417.75h.9v.9h-.9zM648.75 420h.9v.9h-.9zM636.5 422.25h.9v.9h-.9zM648.75 418.5h.9v.9h-.9zM631.75 423.25h.9v.9h-.9zM643 420.25h.9v.9h-.9zM637 420.75h.9v.9h-.9zM639.25 419.75h.9v.9h-.9zM633.5 418.75h.9v.9h-.9zM639.5 415.75h.9v.9h-.9zM638.75 419.25h.9v.9h-.9zM636 419.75h.9v.9h-.9zM642.25 417.75h.9v.9h-.9zM644.5 423h.9v.9h-.9zM641.75 418.25h.9v.9h-.9zM646.25 420.25h.9v.9h-.9zM631 423.5h.9v.9h-.9zM637.5 416.5h.9v.9h-.9zM633.75 417h.9v.9h-.9zM648.5 420.5h.9v.9h-.9zM644 418.5h.9v.9h-.9zM634.25 421.25h.9v.9h-.9zM642.75 417.75h.9v.9h-.9zM640.5 421.75h.9v.9h-.9zM649.25 423.25h.9v.9h-.9zM642.5 422h.9v.9h-.9zM637.25 418.5h.9v.9h-.9zM646.75 423h.9v.9h-.9zM646.5 420.75h.9v.9h-.9zM644 417.75h.9v.9h-.9zM644 421.25h.9v.9h-.9zM647.75 424h.9v.9h-.9zM636 419.5h.9v.9h-.9zM633.75 418h.9v.9h-.9zM649.25 422h.9v.9h-.9zM642.25 419.75h.9v.9h-.9zM648 418.5h.9v.9h-.9zM635.5 418.25h.9v.9h-.9zM644.5 417.25h.9v.9h-.9zM641.75 416h.9v.9h-.9zM643.5 418.5h.9v.9h-.9zM636.75 417.25h.9v.9h-.9zM645.5 421h.9v.9h-.9zM632.25 421h.9v.9h-.9zM643.75 416.25h.9v.9h-.9zM644.25 420h.9v.9h-.9zM647 420.25h.9v.9h-.9zM631.5 419.5h.9v.9h-.9zM640.25 417.75h.9v.9h-.9zM632.5 420.75h.9v.9h-.9zM637 419.25h.9v.9h-.9zM637.25 416.5h.9v.9h-.9zM631.25 417h.9v.9h-.9zM634.5 418h.9v.9h-.9zM648.75 421.25h.9v.9h-.9zM636.5 422.5h.9v.9h-.9zM638.5 420h.9v.9h-.9zM649.75 423h.9v.9h-.9zM640.5 417.5h.9v.9h-.9zM637.25 416.75h.9v.9h-.9zM631 424h.9v.9h-.9zM642.25 419.75h.9v.9h-.9zM638.5 422.5h.9v.9h-.9zM644.5 418.25h.9v.9h-.9zM634.5 417.5h.9v.9h-.9zM647.25 419.25h.9v.9h-.9zM645.75 422h.9v.9h-.9zM641 420.75h.9v.9h-.9zM645.5 421h.9v.9h-.9zM643 418h.9v.9h-.9zM638.25 419.75h.9v.9h-.9zM645.5 420h.9v.9h-.9zM647 415.75h.9v.9h-.9zM633.75 420h.9v.9h-.9zM635.75 421.5h.9v.9h-.9zM637.5 419h.9v.9h-.9zM638 422.75h.9v.9h-.9zM643.75 419.25h.9v.9h-.9zM647.25 421h.9v.9h-.9zM640.75 422.75h.9v.9h-.9zM634.75 423h.9v.9h-.9zM639.5 419.75h.9v.9h-.9zM638.25 420h.9v.9h-.9zM641 422.25h.9v.9h-.9zM646.75 418.75h.9v.9h-.9zM632.75 420h.9v.9h-.9zM632.25 421.5h.9v.9h-.9zM639.5 418h.9v.9h-.9zM633.75 418h.9v.9h-.9zM639.25 414.75h.9v.9h-.9zM634.75 414h.9v.9h-.9zM639.25 422.5h.9v.9h-.9zM633 421.75h.9v.9h-.9zM647 420.25h.9v.9h-.9zM639 419h.9v.9h-.9zM642.5 422h.9v.9h-.9zM636.5 417h.9v.9h-.9zM646.25 416h.9v.9h-.9zM631.75 421.5h.9v.9h-.9zM638.75 422h.9v.9h-.9zM634.25 420.25h.9v.9h-.9zM642 418.75h.9v.9h-.9zM638.75 418.75h.9v.9h-.9zM649.75 424h.9v.9h-.9zM643.5 415.75h.9v.9h-.9zM643 417.25h.9v.9h-.9zM644.75 421.25h.9v.9h-.9zM639.75 418.5h.9v.9h-.9zM630.75 424h.9v.9h-.9zM648.5 416.5h.9v.9h-.9zM632 419h.9v.9h-.9zM645.25 420.75h.9v.9h-.9zM646.75 419.25h.9v.9h-.9zM635.5 418h.9v.9h-.9zM641.25 421h.9v.9h-.9zM639.25 419.5h.9v.9h-.9zM640.5 421.75h.9v.9h-.9zM635 420.25h.9v.9h-.9zM635.75 418.75h.9v.9h-.9zM636 420.25h.9v.9h-.9zM633.5 421h.9v.9h-.9zM649.25 420.25h.9v.9h-.9zM647.25 420.5h.9v.9h-.9zM645.25 424.25h.9v.9h-.9zM641 423.25h.9v.9h-.9zM633.25 418.75h.9v.9h-.9zM639.5 419.75h.9v.9h-.9zM641.25 419.25h.9v.9h-.9zM632 420.5h.9v.9h-.9zM632.5 423.25h.9v.9h-.9zM645.75 415.75h.9v.9h-.9zM631.5 421h.9v.9h-.9zM635 420.5h.9v.9h-.9zM636.75 419.75h.9v.9h-.9zM635 417.75h.9v.9h-.9zM637.25 422.25h.9v.9h-.9zM644.75 421.25h.9v.9h-.9zM636 416.75h.9v.9h-.9zM636.75 419.25h.9v.9h-.9zM634.75 424.25h.9v.9h-.9zM642.25 416.75h.9v.9h-.9zM644.5 417h.9v.9h-.9zM644 419h.9v.9h-.9zM647.25 419.75h.9v.9h-.9zM649.75 420.5h.9v.9h-.9zM631 419.5h.9v.9h-.9zM648.5 422.25h.9v.9h-.9zM648.75 419.75h.9v.9h-.9zM643 420.75h.9v.9h-.9zM633 420.75h.9v.9h-.9zM636.5 419.25h.9v.9h-.9zM631.5 420.75h.9v.9h-.9zM635.25 420h.9v.9h-.9zM645.5 420.5h.9v.9h-.9zM647.25 416.75h.9v.9h-.9zM642.75 417.5h.9v.9h-.9zM635.25 424.5h.9v.9h-.9zM634.25 414.75h.9v.9h-.9zM636.75 420h.9v.9h-.9zM648.5 418.25h.9v.9h-.9zM647.25 418.75h.9v.9h-.9zM632.5 418.75h.9v.9h-.9zM645.5 421h.9v.9h-.9zM633 422.75h.9v.9h-.9zM641.25 419.75h.9v.9h-.9zM647.25 416.25h.9v.9h-.9zM647 419h.9v.9h-.9zM640.75 419.25h.9v.9h-.9zM639 415.75h.9v.9h-.9zM635.75 419.25h.9v.9h-.9zM646.5 423.5h.9v.9h-.9zM640.25 419.25h.9v.9h-.9zM641.25 419.75h.9v.9h-.9zM631.25 420.5h.9v.9h-.9zM645.5 420.5h.9v.9h-.9zM631 420.25h.9v.9h-.9zM649.75 421.25h.9v.9h-.9zM639.75 424h.9v.9h-.9zM636 420.25h.9v.9h-.9zM649.25 420h.9v.9h-.9zM636 419h.9v.9h-.9zM637.75 420.5h.9v.9h-.9zM648 420.25h.9v.9h-.9zM645.5 420h.9v.9h-.9zM631.5 426.5h.9v.9h-.9zM643.75 418.75h.9v.9h-.9zM638.5 420.75h.9v.9h-.9zM634.5 417.5h.9v.9h-.9zM646.5 420.75h.9v.9h-.9zM635.5 422.75h.9v.9h-.9zM637.25 422h.9v.9h-.9zM635.75 417h.9v.9h-.9zM638.5 418h.9v.9h-.9zM634.5 420.5h.9v.9h-.9zM633 418h.9v.9h-.9zM642 418.75h.9v.9h-.9zM637.5 418.5h.9v.9h-.9zM649.75 420h.9v.9h-.9zM647 421.25h.9v.9h-.9zM648.75 421.75h.9v.9h-.9zM642.75 416.25h.9v.9h-.9zM641.25 417h.9v.9h-.9zM643 421.5h.9v.9h-.9zM648.75 420.75h.9v.9h-.9zM630.75 419.5h.9v.9h-.9zM644.5 424.25h.9v.9h-.9zM649.25 418.75h.9v.9h-.9zM635.5 418.75h.9v.9h-.9zM631 417h.9v.9h-.9zM632.5 418h.9v.9h-.9zM639 418.75h.9v.9h-.9zM634.5 421.25h.9v.9h-.9zM646.75 423.25h.9v.9h-.9zM641.25 419.5h.9v.9h-.9zM644.75 423.75h.9v.9h-.9zM636.75 423.5h.9v.9h-.9zM635.25 421.5h.9v.9h-.9zM637.5 416.75h.9v.9h-.9zM632.75 419.5h.9v.9h-.9zM639.25 419.25h.9v.9h-.9zM647.75 418.75h.9v.9h-.9zM637 416.25h.9v.9h-.9zM642 420.75h.9v.9h-.9zM640 422.25h.9v.9h-.9zM634.25 423h.9v.9h-.9zM641 420h.9v.9h-.9zM634.75 418.25h.9v.9h-.9zM645.75 417.5h.9v.9h-.9zM634 420.75h.9v.9h-.9zM634 420.5h.9v.9h-.9zM647.75 417.75h.9v.9h-.9zM640.75 422.75h.9v.9h-.9zM634 419.5h.9v.9h-.9zM637.75 420.5h.9v.9h-.9zM636.5 419.5h.9v.9h-.9zM641.75 421h.9v.9h-.9zM632 420.75h.9v.9h-.9zM641.5 419.5h.9v.9h-.9zM649.25 419.5h.9v.9h-.9zM644.75 418h.9v.9h-.9zM645.5 420.5h.9v.9h-.9zM647 420h.9v.9h-.9zM636 420.25h.9v.9h-.9zM637.75 422.5h.9v.9h-.9zM634.25 418.5h.9v.9h-.9zM635 417.5h.9v.9h-.9zM633 419.5h.9v.9h-.9zM635 415.5h.9v.9h-.9zM635 419.25h.9v.9h-.9zM640.5 420.25h.9v.9h-.9zM641.25 420h.9v.9h-.9zM646 419.5h.9v.9h-.9zM644.5 416.5h.9v.9h-.9zM641.5 421.5h.9v.9h-.9zM643.5 417.5h.9v.9h-.9zM639 420h.9v.9h-.9zM645 423.5h.9v.9h-.9zM639 418.75h.9v.9h-.9zM636.25 418.5h.9v.9h-.9zM641.5 418h.9v.9h-.9zM633.5 419h.9v.9h-.9zM641 418.5h.9v.9h-.9zM631.75 415.75h.9v.9h-.9zM637.5 419.75h.9v.9h-.9zM638.25 424h.9v.9h-.9zM648.75 417.5h.9v.9h-.9zM637 421.75h.9v.9h-.9zM634.25 420h.9v.9h-.9zM643 420.5h.9v.9h-.9zM635 418.5h.9v.9h-.9zM638.25 416.75h.9v.9h-.9zM631.75 417.25h.9v.9h-.9zM638 416.5h.9v.9h-.9zM645.75 419.75h.9v.9h-.9zM637.25 419.75h.9v.9h-.9zM642.25 419.75h.9v.9h-.9zM649.75 418.5h.9v.9h-.9zM636.75 421h.9v.9h-.9zM649.75 421.75h.9v.9h-.9zM635 416.5h.9v.9h-.9zM644 419h.9v.9h-.9zM646.75 418.5h.9v.9h-.9zM639.75 418.75h.9v.9h-.9zM636 418.75h.9v.9h-.9zM631.5 418.75h.9v.9h-.9zM638.75 419.25h.9v.9h-.9zM632.5 419.25h.9v.9h-.9zM644.25 421h.9v.9h-.9zM646 421.25h.9v.9h-.9zM631.5 424.25h.9v.9h-.9zM631.75 417h.9v.9h-.9zM633.5 421.75h.9v.9h-.9zM632 419.5h.9v.9h-.9zM646.75 419h.9v.9h-.9zM638.75 422.5h.9v.9h-.9zM641.25 422.75h.9v.9h-.9zM636.75 419.75h.9v.9h-.9zM646.25 421.25h.9v.9h-.9zM642 420h.9v.9h-.9zM645.5 421.75h.9v.9h-.9zM641 419.75h.9v.9h-.9zM644 417.75h.9v.9h-.9zM638.5 415.5h.9v.9h-.9zM638.75 423.5h.9v.9h-.9zM634 420.25h.9v.9h-.9zM634.25 420h.9v.9h-.9zM639 419.75h.9v.9h-.9zM633 419h.9v.9h-.9zM647.75 417.75h.9v.9h-.9zM642.5 420.25h.9v.9h-.9zM640.5 416.5h.9v.9h-.9zM630.75 423h.9v.9h-.9zM646.25 418.5h.9v.9h-.9zM649.25 417h.9v.9h-.9zM638 419.5h.9v.9h-.9zM639.25 418.75h.9v.9h-.9zM641 422h.9v.9h-.9zM645.25 417.75h.9v.9h-.9zM640.75 422h.9v.9h-.9zM632.5 420.75h.9v.9h-.9zM645.5 418.75h.9v.9h-.9zM643.5 417.75h.9v.9h-.9zM647.5 417.5h.9v.9h-.9zM647 421.25h.9v.9h-.9zM640.75 418.25h.9v.9h-.9zM638.75 415.25h.9v.9h-.9zM647.75 420.5h.9v.9h-.9zM649.75 415.5h.9v.9h-.9zM637.5 416.25h.9v.9h-.9zM635.75 421.5h.9v.9h-.9zM634.75 421h.9v.9h-.9zM649.5 419.25h.9v.9h-.9zM638.25 418.75h.9v.9h-.9zM646.5 418.75h.9v.9h-.9zM638.5 422h.9v.9h-.9zM633.25 418.5h.9v.9h-.9zM634.75 423.25h.9v.9h-.9zM643.5 418h.9v.9h-.9zM635 421h.9v.9h-.9zM645 421.25h.9v.9h-.9zM630.75 421.25h.9v.9h-.9zM636.75 420h.9v.9h-.9zM640 421h.9v.9h-.9zM645.5 420.5h.9v.9h-.9zM643.75 418.75h.9v.9h-.9zM643.75 423.5h.9v.9h-.9zM637.75 422.75h.9v.9h-.9zM640.5 424h.9v.9h-.9zM637 418.5h.9v.9h-.9zM635.25 422.5h.9v.9h-.9zM645 416.5h.9v.9h-.9zM634.25 417h.9v.9h-.9zM637 425.75h.9v.9h-.9zM645.75 420.75h.9v.9h-.9zM635 422.75h.9v.9h-.9zM630.75 418.25h.9v.9h-.9zM646.5 421.25h.9v.9h-.9zM647 417.5h.9v.9h-.9zM644.5 422.5h.9v.9h-.9zM646.5 415h.9v.9h-.9zM647.5 421.5h.9v.9h-.9zM636.75 418.75h.9v.9h-.9zM634.25 420.25h.9v.9h-.9zM647.25 425h.9v.9h-.9zM637 421.25h.9v.9h-.9zM632 417h.9v.9h-.9zM646.25 416h.9v.9h-.9zM638.75 420h.9v.9h-.9zM648.75 420.25h.9v.9h-.9zM636 419h.9v.9h-.9zM639.75 417.25h.9v.9h-.9zM640 420h.9v.9h-.9zM646 421h.9v.9h-.9zM637 423.5h.9v.9h-.9zM644.75 416.75h.9v.9h-.9zM644.75 419h.9v.9h-.9zM637.25 422h.9v.9h-.9zM640.75 419h.9v.9h-.9zM644 420.75h.9v.9h-.9zM639.75 416.25h.9v.9h-.9zM648.5 421h.9v.9h-.9zM638.5 421.25h.9v.9h-.9zM634.5 419.25h.9v.9h-.9zM636.75 419h.9v.9h-.9zM641.5 416.5h.9v.9h-.9zM644.75 419.75h.9v.9h-.9zM640.75 425.75h.9v.9h-.9zM642.5 422.25h.9v.9h-.9zM637.25 420.25h.9v.9h-.9zM636.5 421h.9v.9h-.9zM639.25 417.25h.9v.9h-.9zM641.25 423h.9v.9h-.9zM641.75 425.5h.9v.9h-.9zM649.75 421h.9v.9h-.9zM641.75 417h.9v.9h-.9zM639.25 421.25h.9v.9h-.9zM649.5 419.25h.9v.9h-.9zM632 418.75h.9v.9h-.9zM637.25 422h.9v.9h-.9zM636.5 417.75h.9v.9h-.9zM641.75 420.5h.9v.9h-.9zM613.75 426.25h.9v.9h-.9zM622.5 427.25h.9v.9h-.9zM594.5 431h.9v.9h-.9zM628.25 431.25h.9v.9h-.9zM620.25 429.25h.9v.9h-.9zM634 428.75h.9v.9h-.9zM591 430h.9v.9h-.9zM608.5 426.5h.9v.9h-.9zM631.75 425h.9v.9h-.9zM647.25 427h.9v.9h-.9zM591 426.25h.9v.9h-.9zM610 426.75h.9v.9h-.9zM598.75 428.25h.9v.9h-.9zM603.25 426.25h.9v.9h-.9zM646.5 428.5h.9v.9h-.9zM619.25 426.5h.9v.9h-.9zM635.25 428.5h.9v.9h-.9zM604.75 426.25h.9v.9h-.9zM607.25 427.5h.9v.9h-.9zM627 427h.9v.9h-.9zM648.25 428.5h.9v.9h-.9zM601.25 428.25h.9v.9h-.9zM643.5 424.75h.9v.9h-.9zM591.75 430h.9v.9h-.9zM602.75 425.5h.9v.9h-.9zM630.75 430h.9v.9h-.9zM637 424.75h.9v.9h-.9zM638.5 428.75h.9v.9h-.9zM638.75 429.25h.9v.9h-.9zM645.75 430.25h.9v.9h-.9zM612.5 429h.9v.9h-.9zM638.75 425.5h.9v.9h-.9zM621 427.25h.9v.9h-.9zM606.25 426.75h.9v.9h-.9zM591 425.75h.9v.9h-.9zM647 427.75h.9v.9h-.9zM616.75 426.75h.9v.9h-.9zM611.5 424.25h.9v.9h-.9zM601.25 427.5h.9v.9h-.9zM630.75 425.75h.9v.9h-.9zM607 430.25h.9v.9h-.9zM630.75 430.25h.9v.9h-.9zM639 431h.9v.9h-.9zM642.5 425h.9v.9h-.9zM619.25 424.5h.9v.9h-.9zM636.25 426.25h.9v.9h-.9zM604 430.5h.9v.9h-.9zM595.25 430.5h.9v.9h-.9zM629.75 426h.9v.9h-.9zM646.5 428.25h.9v.9h-.9zM610.5 424.75h.9v.9h-.9zM637 423.75h.9v.9h-.9zM588.75 424h.9v.9h-.9zM613.5 425.25h.9v.9h-.9zM601 427.25h.9v.9h-.9zM634.5 425.75h.9v.9h-.9zM631 430.5h.9v.9h-.9zM644.5 430.75h.9v.9h-.9zM638.75 427h.9v.9h-.9zM626.5 429.5h.9v.9h-.9zM630 442h.9v.9h-.9zM628.5 439.75h.9v.9h-.9zM629 440.75h.9v.9h-.9zM628.5 447.5h.9v.9h-.9zM628.25 452h.9v.9h-.9zM628.25 450.5h.9v.9h-.9zM629.25 446h.9v.9h-.9zM628 440h.9v.9h-.9zM629.5 445.5h.9v.9h-.9zM628.5 446.75h.9v.9h-.9zM630.25 446.75h.9v.9h-.9zM629.25 439.75h.9v.9h-.9zM629 440.75h.9v.9h-.9zM628 442.75h.9v.9h-.9zM628 448.75h.9v.9h-.9zM628 440.5h.9v.9h-.9zM630.25 441.75h.9v.9h-.9zM629.25 451h.9v.9h-.9zM629.25 440.25h.9v.9h-.9zM629.75 452.5h.9v.9h-.9zM630.5 439.5h.9v.9h-.9zM629.5 452.25h.9v.9h-.9zM629.75 444h.9v.9h-.9zM627.75 446.5h.9v.9h-.9zM627.75 451.75h.9v.9h-.9zM629.75 442h.9v.9h-.9zM628.75 450.5h.9v.9h-.9zM628.5 449.5h.9v.9h-.9zM629.25 448.75h.9v.9h-.9zM630.25 452.25h.9v.9h-.9zM628.5 444h.9v.9h-.9zM629 451.5h.9v.9h-.9zM628.75 448.75h.9v.9h-.9zM630 449.25h.9v.9h-.9zM629.5 443.25h.9v.9h-.9zM629 452h.9v.9h-.9zM629.25 451h.9v.9h-.9zM628.5 439.75h.9v.9h-.9zM628.25 439.25h.9v.9h-.9zM628.25 452.25h.9v.9h-.9zM627.75 441h.9v.9h-.9zM630.25 448.75h.9v.9h-.9zM628.75 448h.9v.9h-.9zM629.5 448.5h.9v.9h-.9zM629 443.5h.9v.9h-.9zM628.5 450.75h.9v.9h-.9zM629.5 443.5h.9v.9h-.9zM627.75 446.5h.9v.9h-.9zM630.25 444.5h.9v.9h-.9zM629.75 439h.9v.9h-.9zM628.25 447.25h.9v.9h-.9zM628.25 440.25h.9v.9h-.9zM629.5 440.5h.9v.9h-.9zM629.75 448h.9v.9h-.9zM629.75 448.75h.9v.9h-.9zM629.25 444h.9v.9h-.9zM630 449.25h.9v.9h-.9zM630 445h.9v.9h-.9zM629.5 451.25h.9v.9h-.9zM629.25 451.25h.9v.9h-.9zM641.25 435.75h.9v.9h-.9zM641 439.5h.9v.9h-.9zM641.25 438.25h.9v.9h-.9zM641.5 435.25h.9v.9h-.9zM641.25 440.25h.9v.9h-.9zM640.75 437h.9v.9h-.9zM640.75 436.75h.9v.9h-.9zM641.25 435.25h.9v.9h-.9zM640.75 439h.9v.9h-.9zM641 440.25h.9v.9h-.9zM641 435.5h.9v.9h-.9zM641 438.25h.9v.9h-.9z" fill="#ff0000"/>
<text x="436.6" y="199.7" font-size="10.5" text-anchor="start" font-weight="bold" fill="#000" stroke="#000" stroke-width="0.35">f</text>
<text transform="translate(541.9,206) scale(0.93,1)" font-size="8.4" text-anchor="middle" font-weight="normal" fill="#000"  stroke="#000" stroke-width="0.12">Time</text>
<text transform="translate(634.2,206.2) scale(0.93,1)" font-size="8.4" text-anchor="middle" font-weight="normal" fill="#000"  stroke="#000" stroke-width="0.12">Ancestry</text>
<text transform="translate(499.3,216.6) scale(0.91,1)" font-size="8.4" text-anchor="end" font-weight="normal" fill="#000"  stroke="#000" stroke-width="0.12">HOR_17570</text>
<rect x="504.8" y="210.2" width="74.3" height="7.3" fill="#9B30FF" />
<path d="M504.8,217.5 L504.8,211.88 L511,211.88 L511,212.54 L515,212.54 L515,213.19 L518,213.19 L518,213.48 L522,213.48 L522,214.51 L526,214.51 L526,216.48 L529,216.48 L529,215.31 L531,215.31 L531,213.19 L536,213.19 L536,210.42 L545,210.42 L545,215.82 L550,215.82 L550,210.35 L553,210.35 L553,213.85 L557,213.85 L557,212.54 L561,212.54 L561,211.22 L564,211.22 L564,215.82 L568,215.82 L568,214.58 L571,214.58 L571,213.19 L575,213.19 L575,212.32 L579.1,212.32 L579.1,217.5 Z" fill="#FFFF00"/>
<rect x="504.1" y="210.2" width="75.6" height="7.3" fill="none" stroke="#7a7a7a" stroke-width="0.6"/>
<rect x="596.8" y="210.2" width="74.4" height="7.3" fill="#FFFF00" />
<rect x="596.8" y="210.2" width="74.4" height="0.51" fill="#008000" />
<rect x="596.8" y="210.2" width="6.25" height="0.73" fill="#008000" />
<rect x="596.8" y="211.29" width="6.25" height="0.58" fill="#FF00FF" />
<rect x="603" y="210.2" width="3.05" height="0.58" fill="#008000" />
<rect x="603" y="210.78" width="3.05" height="1.24" fill="#FFA500" />
<rect x="606" y="210.2" width="3.05" height="0.58" fill="#008000" />
<rect x="606" y="210.78" width="3.05" height="1.24" fill="#FFA500" />
<rect x="606" y="212.61" width="3.05" height="0.88" fill="#FF00FF" />
<rect x="609" y="210.2" width="3.05" height="0.58" fill="#008000" />
<rect x="609" y="210.78" width="3.05" height="1.24" fill="#FFA500" />
<rect x="609" y="212.03" width="3.05" height="0.88" fill="#0000FF" />
<rect x="612" y="210.2" width="2.05" height="0.58" fill="#008000" />
<rect x="612" y="210.78" width="2.05" height="1.82" fill="#FFA500" />
<rect x="614" y="210.2" width="3.05" height="0.58" fill="#008000" />
<rect x="614" y="210.78" width="3.05" height="1.82" fill="#FFA500" />
<rect x="614" y="212.97" width="3.05" height="0.88" fill="#0000FF" />
<rect x="617" y="210.2" width="3.05" height="0.58" fill="#008000" />
<rect x="617" y="210.78" width="3.05" height="3.29" fill="#FFA500" />
<rect x="617" y="214.07" width="3.05" height="0.88" fill="#FF00FF" />
<rect x="620" y="210.2" width="3.05" height="0.58" fill="#008000" />
<rect x="620" y="210.78" width="3.05" height="3.65" fill="#FFA500" />
<rect x="620" y="214.43" width="3.05" height="1.46" fill="#FF0000" />
<rect x="620" y="215.89" width="3.05" height="1.24" fill="#FF00FF" />
<rect x="623" y="210.2" width="3.05" height="0.73" fill="#008000" />
<rect x="623" y="210.93" width="3.05" height="2.55" fill="#FFA500" />
<rect x="623" y="213.48" width="3.05" height="0.88" fill="#FF0000" />
<rect x="623" y="214.36" width="3.05" height="0.73" fill="#FF00FF" />
<rect x="626" y="210.2" width="3.05" height="1.09" fill="#008000" />
<rect x="626" y="211.29" width="3.05" height="0.88" fill="#FFA500" />
<rect x="637" y="210.2" width="5.05" height="1.09" fill="#0000FF" />
<rect x="637" y="211.29" width="5.05" height="3.29" fill="#FF00FF" />
<rect x="645" y="210.2" width="4.05" height="1.82" fill="#008000" />
<rect x="645" y="212.02" width="4.05" height="1.09" fill="#FF00FF" />
<rect x="649" y="210.2" width="2.05" height="1.09" fill="#008000" />
<rect x="649" y="211.29" width="2.05" height="0.73" fill="#FFA500" />
<rect x="651" y="210.2" width="4.05" height="0.58" fill="#008000" />
<rect x="651" y="210.78" width="4.05" height="0.58" fill="#FFA500" />
<rect x="655" y="210.2" width="5.05" height="2.19" fill="#008000" />
<rect x="655" y="212.39" width="5.05" height="0.73" fill="#FFA500" />
<rect x="655" y="213.12" width="5.05" height="1.82" fill="#FF00FF" />
<rect x="655" y="214.94" width="5.05" height="0.73" fill="#0000FF" />
<rect x="660" y="210.2" width="6.05" height="1.09" fill="#008000" />
<rect x="660" y="211.29" width="6.05" height="0.73" fill="#FFA500" />
<rect x="660" y="212.02" width="6.05" height="1.82" fill="#FF00FF" />
<rect x="660" y="213.85" width="6.05" height="0.58" fill="#0000FF" />
<rect x="666" y="210.2" width="5.25" height="0.73" fill="#008000" />
<rect x="666" y="210.93" width="5.25" height="0.58" fill="#FFA500" />
<rect x="666" y="211.51" width="5.25" height="1.09" fill="#FF00FF" />
<rect x="666" y="212.61" width="5.25" height="0.58" fill="#0000FF" />
<rect x="596.1" y="210.2" width="75.6" height="7.3" fill="none" stroke="#7a7a7a" stroke-width="0.6"/>
<text transform="translate(499.3,226.08) scale(0.91,1)" font-size="8.4" text-anchor="end" font-weight="normal" fill="#000"  stroke="#000" stroke-width="0.12">HOR_17134</text>
<rect x="504.8" y="219.68" width="74.3" height="7.3" fill="#9B30FF" />
<path d="M504.8,226.98 L504.8,221.14 L509,221.14 L509,221.87 L516,221.87 L516,224.21 L518.5,224.21 L518.5,219.68 L533,219.68 L533,219.83 L545,219.83 L545,225.3 L550,225.3 L550,219.83 L553,219.83 L553,223.33 L557,223.33 L557,222.02 L561,222.02 L561,220.7 L564,220.7 L564,225.3 L568,225.3 L568,224.06 L571,224.06 L571,222.67 L575,222.67 L575,221.8 L579.1,221.8 L579.1,226.98 Z" fill="#FFFF00"/>
<rect x="516.5" y="219.68" width="17" height="7.3" fill="#FFC0CB" />
<rect x="516.5" y="219.68" width="13.5" height="0.88" fill="#9B30FF" />
<rect x="517" y="220.56" width="13" height="1.31" fill="#7FFFD4" />
<rect x="530" y="219.68" width="3.5" height="2.55" fill="#00BFFF" />
<rect x="530" y="222.23" width="3.5" height="1.82" fill="#ADFF2F" />
<path d="M516.5,222.96 L516.5,226.98 L527,226.98 Z" fill="#FFFF00"/>
<rect x="513.5" y="220.77" width="3" height="2.19" fill="#9B30FF" />
<rect x="533.5" y="219.68" width="2.5" height="2.55" fill="#9B30FF" />
<rect x="516.1" y="219.48" width="17.6" height="7.7" fill="none" stroke="#000" stroke-width="0.8" stroke-dasharray="1,1.7"/>
<rect x="504.1" y="219.68" width="75.6" height="7.3" fill="none" stroke="#7a7a7a" stroke-width="0.6"/>
<rect x="596.8" y="219.68" width="74.4" height="7.3" fill="#FFFF00" />
<rect x="596.8" y="219.68" width="74.4" height="0.51" fill="#008000" />
<rect x="596.8" y="219.68" width="4.25" height="0.44" fill="#008000" />
<rect x="596.8" y="220.12" width="4.25" height="0.36" fill="#FFA500" />
<rect x="596.8" y="220.48" width="4.25" height="0.36" fill="#FF00FF" />
<rect x="601" y="219.68" width="4.05" height="0.44" fill="#008000" />
<rect x="601" y="220.7" width="4.05" height="0.58" fill="#FFA500" />
<rect x="605" y="219.68" width="2.05" height="0.58" fill="#008000" />
<rect x="605" y="220.26" width="2.05" height="1.09" fill="#FFA500" />
<rect x="605" y="221.36" width="2.05" height="1.09" fill="#0000FF" />
<rect x="607" y="219.68" width="2.05" height="0.58" fill="#008000" />
<rect x="607" y="220.26" width="2.05" height="0.73" fill="#FFA500" />
<rect x="607" y="221.72" width="2.05" height="1.09" fill="#0000FF" />
<rect x="609" y="219.68" width="2.05" height="0.73" fill="#FFA500" />
<rect x="609" y="220.41" width="2.05" height="1.82" fill="#FF00FF" />
<rect x="611" y="219.68" width="2.05" height="0.58" fill="#FFA500" />
<rect x="611" y="220.26" width="2.05" height="1.46" fill="#0000FF" />
<rect x="611" y="221.72" width="2.05" height="2.92" fill="#FF00FF" />
<rect x="613" y="219.68" width="2.05" height="0.58" fill="#FFA500" />
<rect x="613" y="220.26" width="2.05" height="1.61" fill="#0000FF" />
<rect x="613" y="221.87" width="2.05" height="3.29" fill="#FF00FF" />
<rect x="615" y="219.68" width="2.05" height="0.44" fill="#FFA500" />
<rect x="615" y="220.12" width="2.05" height="1.82" fill="#0000FF" />
<rect x="615" y="221.94" width="2.05" height="3.8" fill="#FF00FF" />
<rect x="617" y="219.68" width="2.05" height="0.44" fill="#FFA500" />
<rect x="617" y="220.12" width="2.05" height="1.82" fill="#0000FF" />
<rect x="617" y="221.94" width="2.05" height="4.23" fill="#FF00FF" />
<rect x="619" y="219.68" width="2.05" height="0.44" fill="#FFA500" />
<rect x="619" y="220.12" width="2.05" height="2.19" fill="#0000FF" />
<rect x="619" y="222.31" width="2.05" height="4.09" fill="#FF00FF" />
<rect x="621" y="219.68" width="2.05" height="0.44" fill="#FFA500" />
<rect x="621" y="220.12" width="2.05" height="3.29" fill="#0000FF" />
<rect x="621" y="223.4" width="2.05" height="3.29" fill="#FF00FF" />
<rect x="623" y="219.68" width="2.05" height="0.44" fill="#FFA500" />
<rect x="623" y="220.12" width="2.05" height="3.65" fill="#0000FF" />
<rect x="623" y="223.77" width="2.05" height="3.07" fill="#FF00FF" />
<rect x="625" y="219.68" width="1.05" height="0.44" fill="#FFA500" />
<rect x="625" y="220.12" width="1.05" height="4.02" fill="#0000FF" />
<rect x="625" y="224.13" width="1.05" height="2.85" fill="#FF00FF" />
<rect x="626" y="219.68" width="3.05" height="2.55" fill="#0000FF" />
<rect x="626" y="222.23" width="3.05" height="2.19" fill="#FF00FF" />
<rect x="637" y="219.68" width="5.05" height="1.09" fill="#0000FF" />
<rect x="637" y="220.77" width="5.05" height="3.29" fill="#FF00FF" />
<rect x="645" y="219.68" width="4.05" height="1.46" fill="#008000" />
<rect x="645" y="221.14" width="4.05" height="1.09" fill="#FF00FF" />
<rect x="649" y="219.68" width="2.05" height="0.88" fill="#008000" />
<rect x="649" y="220.56" width="2.05" height="0.58" fill="#FFA500" />
<rect x="651" y="219.68" width="4.05" height="0.36" fill="#008000" />
<rect x="651" y="220.04" width="4.05" height="0.36" fill="#FFA500" />
<rect x="655" y="219.68" width="5.05" height="2.19" fill="#008000" />
<rect x="655" y="221.87" width="5.05" height="0.36" fill="#0000FF" />
<rect x="655" y="222.23" width="5.05" height="1.46" fill="#FF00FF" />
<rect x="655" y="223.69" width="5.05" height="0.73" fill="#FFA500" />
<rect x="660" y="219.68" width="6.05" height="0.73" fill="#008000" />
<rect x="660" y="220.41" width="6.05" height="0.58" fill="#FFA500" />
<rect x="660" y="220.99" width="6.05" height="1.82" fill="#FF00FF" />
<rect x="666" y="219.68" width="5.25" height="0.36" fill="#008000" />
<rect x="666" y="220.04" width="5.25" height="0.36" fill="#0000FF" />
<rect x="666" y="220.41" width="5.25" height="0.73" fill="#FF00FF" />
<path d="M609,224.06 L609,226.98 L616,226.98 Z" fill="#FFFF00"/>
<rect x="609" y="219.48" width="17" height="7.7" fill="none" stroke="#000" stroke-width="0.8" stroke-dasharray="1,1.7"/>
<rect x="596.1" y="219.68" width="75.6" height="7.3" fill="none" stroke="#7a7a7a" stroke-width="0.6"/>
<text transform="translate(499.3,235.56) scale(0.91,1)" font-size="8.4" text-anchor="end" font-weight="normal" fill="#000"  stroke="#000" stroke-width="0.12">HOR_14135</text>
<rect x="504.8" y="229.16" width="74.3" height="7.3" fill="#9B30FF" />
<path d="M504.8,236.46 L504.8,230.62 L511,230.62 L511,231.35 L515,231.35 L515,232.15 L518,232.15 L518,232.66 L522,232.66 L522,233.69 L526,233.69 L526,235.44 L529,235.44 L529,234.27 L531,234.27 L531,232.44 L536,232.44 L536,229.31 L553,229.31 L553,233.18 L557,233.18 L557,232.08 L561,232.08 L561,230.18 L564,230.18 L564,234.42 L568,234.42 L568,233.54 L571,233.54 L571,232.44 L575,232.44 L575,231.35 L579.1,231.35 L579.1,236.46 Z" fill="#FFFF00"/>
<rect x="504.1" y="229.16" width="75.6" height="7.3" fill="none" stroke="#7a7a7a" stroke-width="0.6"/>
<rect x="596.8" y="229.16" width="74.4" height="7.3" fill="#FFFF00" />
<rect x="596.8" y="229.16" width="74.4" height="0.51" fill="#008000" />
<rect x="596.8" y="229.16" width="6.25" height="0.73" fill="#008000" />
<rect x="596.8" y="230.25" width="6.25" height="0.58" fill="#FF00FF" />
<rect x="603" y="229.16" width="3.05" height="0.58" fill="#008000" />
<rect x="603" y="229.74" width="3.05" height="1.24" fill="#FFA500" />
<rect x="606" y="229.16" width="3.05" height="0.58" fill="#008000" />
<rect x="606" y="229.74" width="3.05" height="1.24" fill="#FFA500" />
<rect x="606" y="231.57" width="3.05" height="0.88" fill="#FF00FF" />
<rect x="609" y="229.16" width="3.05" height="0.58" fill="#008000" />
<rect x="609" y="229.74" width="3.05" height="1.24" fill="#FFA500" />
<rect x="609" y="230.99" width="3.05" height="0.88" fill="#0000FF" />
<rect x="612" y="229.16" width="2.05" height="0.58" fill="#008000" />
<rect x="612" y="229.74" width="2.05" height="1.82" fill="#FFA500" />
<rect x="614" y="229.16" width="3.05" height="0.58" fill="#008000" />
<rect x="614" y="229.74" width="3.05" height="1.82" fill="#FFA500" />
<rect x="614" y="231.93" width="3.05" height="0.88" fill="#0000FF" />
<rect x="617" y="229.16" width="3.05" height="0.58" fill="#008000" />
<rect x="617" y="229.74" width="3.05" height="3.29" fill="#FFA500" />
<rect x="617" y="233.03" width="3.05" height="0.88" fill="#FF00FF" />
<rect x="620" y="229.16" width="3.05" height="0.58" fill="#008000" />
<rect x="620" y="229.74" width="3.05" height="2.92" fill="#FFA500" />
<rect x="620" y="232.66" width="3.05" height="2.19" fill="#FF0000" />
<rect x="620" y="234.85" width="3.05" height="0.88" fill="#FF00FF" />
<rect x="623" y="229.16" width="3.05" height="0.73" fill="#008000" />
<rect x="623" y="229.89" width="3.05" height="2.55" fill="#FFA500" />
<rect x="623" y="232.44" width="3.05" height="0.88" fill="#FF0000" />
<rect x="623" y="233.32" width="3.05" height="0.73" fill="#FF00FF" />
<rect x="626" y="229.16" width="3.05" height="1.09" fill="#008000" />
<rect x="626" y="230.25" width="3.05" height="0.88" fill="#FFA500" />
<rect x="645" y="229.16" width="4.05" height="1.82" fill="#008000" />
<rect x="645" y="230.98" width="4.05" height="1.09" fill="#FF00FF" />
<rect x="649" y="229.16" width="2.05" height="1.09" fill="#008000" />
<rect x="649" y="230.25" width="2.05" height="0.73" fill="#FFA500" />
<rect x="651" y="229.16" width="4.05" height="0.58" fill="#008000" />
<rect x="651" y="229.74" width="4.05" height="0.58" fill="#FFA500" />
<rect x="655" y="229.16" width="5.05" height="2.19" fill="#008000" />
<rect x="655" y="231.35" width="5.05" height="0.73" fill="#FFA500" />
<rect x="655" y="232.08" width="5.05" height="1.46" fill="#FF00FF" />
<rect x="655" y="233.54" width="5.05" height="0.73" fill="#FF0000" />
<rect x="660" y="229.16" width="6.05" height="1.09" fill="#008000" />
<rect x="660" y="230.25" width="6.05" height="0.73" fill="#FFA500" />
<rect x="660" y="230.98" width="6.05" height="1.82" fill="#FF00FF" />
<rect x="660" y="232.81" width="6.05" height="0.58" fill="#0000FF" />
<rect x="666" y="229.16" width="5.25" height="0.73" fill="#008000" />
<rect x="666" y="229.89" width="5.25" height="0.58" fill="#FFA500" />
<rect x="666" y="230.47" width="5.25" height="1.09" fill="#FF00FF" />
<rect x="666" y="231.57" width="5.25" height="0.58" fill="#0000FF" />
<rect x="596.1" y="229.16" width="75.6" height="7.3" fill="none" stroke="#7a7a7a" stroke-width="0.6"/>
<text transform="translate(499.3,245.04) scale(0.91,1)" font-size="8.4" text-anchor="end" font-weight="normal" fill="#000"  stroke="#000" stroke-width="0.12">HOR_16958</text>
<rect x="504.8" y="238.64" width="74.3" height="7.3" fill="#9B30FF" />
<path d="M504.8,245.94 L504.8,240.32 L511,240.32 L511,240.98 L515,240.98 L515,241.63 L518,241.63 L518,241.92 L522,241.92 L522,242.95 L526,242.95 L526,244.92 L529,244.92 L529,243.75 L531,243.75 L531,241.63 L536,241.63 L536,238.86 L545,238.86 L545,244.26 L550,244.26 L550,238.79 L553,238.79 L553,242.29 L557,242.29 L557,240.98 L559.5,240.98 L559.5,243.38 L561.5,243.38 L561.5,239.66 L564,239.66 L564,244.26 L568,244.26 L568,243.02 L571,243.02 L571,241.63 L575,241.63 L575,240.76 L579.1,240.76 L579.1,245.94 Z" fill="#FFFF00"/>
<rect x="504.1" y="238.64" width="75.6" height="7.3" fill="none" stroke="#7a7a7a" stroke-width="0.6"/>
<rect x="596.8" y="238.64" width="74.4" height="7.3" fill="#FFFF00" />
<rect x="596.8" y="238.64" width="74.4" height="0.51" fill="#008000" />
<rect x="596.8" y="238.64" width="6.25" height="0.73" fill="#008000" />
<rect x="596.8" y="239.73" width="6.25" height="0.58" fill="#FF00FF" />
<rect x="603" y="238.64" width="3.05" height="0.58" fill="#008000" />
<rect x="603" y="239.22" width="3.05" height="1.24" fill="#FFA500" />
<rect x="606" y="238.64" width="3.05" height="0.58" fill="#008000" />
<rect x="606" y="239.22" width="3.05" height="1.24" fill="#FFA500" />
<rect x="606" y="241.05" width="3.05" height="0.88" fill="#FF00FF" />
<rect x="609" y="238.64" width="3.05" height="0.58" fill="#008000" />
<rect x="609" y="239.22" width="3.05" height="1.24" fill="#FFA500" />
<rect x="609" y="240.47" width="3.05" height="0.88" fill="#0000FF" />
<rect x="612" y="238.64" width="2.05" height="0.58" fill="#008000" />
<rect x="612" y="239.22" width="2.05" height="1.82" fill="#FFA500" />
<rect x="614" y="238.64" width="3.05" height="0.58" fill="#008000" />
<rect x="614" y="239.22" width="3.05" height="1.82" fill="#FFA500" />
<rect x="614" y="241.41" width="3.05" height="0.88" fill="#0000FF" />
<rect x="617" y="238.64" width="3.05" height="0.58" fill="#008000" />
<rect x="617" y="239.22" width="3.05" height="3.29" fill="#FFA500" />
<rect x="617" y="242.51" width="3.05" height="0.88" fill="#FF00FF" />
<rect x="620" y="238.64" width="3.05" height="0.58" fill="#008000" />
<rect x="620" y="239.22" width="3.05" height="3.65" fill="#FFA500" />
<rect x="620" y="242.87" width="3.05" height="1.46" fill="#FF0000" />
<rect x="620" y="244.33" width="3.05" height="1.24" fill="#FF00FF" />
<rect x="623" y="238.64" width="3.05" height="0.73" fill="#008000" />
<rect x="623" y="239.37" width="3.05" height="2.55" fill="#FFA500" />
<rect x="623" y="241.92" width="3.05" height="0.88" fill="#FF0000" />
<rect x="623" y="242.8" width="3.05" height="0.73" fill="#FF00FF" />
<rect x="626" y="238.64" width="3.05" height="1.09" fill="#008000" />
<rect x="626" y="239.73" width="3.05" height="0.88" fill="#FFA500" />
<rect x="637" y="238.64" width="5.05" height="1.09" fill="#0000FF" />
<rect x="637" y="239.73" width="5.05" height="3.29" fill="#FF00FF" />
<rect x="645" y="238.64" width="4.05" height="1.82" fill="#008000" />
<rect x="645" y="240.46" width="4.05" height="1.09" fill="#FF00FF" />
<rect x="649" y="238.64" width="2.05" height="1.09" fill="#008000" />
<rect x="649" y="239.73" width="2.05" height="0.73" fill="#FFA500" />
<rect x="651" y="238.64" width="4.05" height="0.58" fill="#008000" />
<rect x="651" y="239.22" width="4.05" height="0.58" fill="#FFA500" />
<rect x="655" y="238.64" width="5.05" height="2.19" fill="#008000" />
<rect x="655" y="240.83" width="5.05" height="0.73" fill="#FFA500" />
<rect x="655" y="241.56" width="5.05" height="1.82" fill="#FF00FF" />
<rect x="655" y="243.38" width="5.05" height="0.73" fill="#0000FF" />
<rect x="660" y="238.64" width="6.05" height="1.09" fill="#008000" />
<rect x="660" y="239.73" width="6.05" height="0.73" fill="#FFA500" />
<rect x="660" y="240.46" width="6.05" height="1.82" fill="#FF00FF" />
<rect x="660" y="242.29" width="6.05" height="0.58" fill="#0000FF" />
<rect x="666" y="238.64" width="5.25" height="0.73" fill="#008000" />
<rect x="666" y="239.37" width="5.25" height="0.58" fill="#FFA500" />
<rect x="666" y="239.95" width="5.25" height="1.09" fill="#FF00FF" />
<rect x="666" y="241.05" width="5.25" height="0.58" fill="#0000FF" />
<rect x="596.1" y="238.64" width="75.6" height="7.3" fill="none" stroke="#7a7a7a" stroke-width="0.6"/>
<text transform="translate(499.3,254.52) scale(0.91,1)" font-size="8.4" text-anchor="end" font-weight="normal" fill="#000"  stroke="#000" stroke-width="0.12">HOR_17572</text>
<rect x="504.8" y="248.12" width="74.3" height="7.3" fill="#9B30FF" />
<path d="M504.8,255.42 L504.8,249.58 L509,249.58 L509,250.31 L516,250.31 L516,252.65 L518.5,252.65 L518.5,248.12 L533,248.12 L533,248.27 L545,248.27 L545,253.74 L550,253.74 L550,248.27 L553,248.27 L553,251.77 L557,251.77 L557,250.46 L561,250.46 L561,249.14 L564,249.14 L564,253.74 L568,253.74 L568,252.5 L571,252.5 L571,251.11 L575,251.11 L575,250.24 L579.1,250.24 L579.1,255.42 Z" fill="#FFFF00"/>
<rect x="516.5" y="248.12" width="17" height="7.3" fill="#FFC0CB" />
<rect x="516.5" y="248.12" width="13.5" height="0.88" fill="#9B30FF" />
<rect x="517" y="249" width="13" height="1.31" fill="#7FFFD4" />
<rect x="530" y="248.12" width="3.5" height="2.55" fill="#00BFFF" />
<rect x="530" y="250.68" width="3.5" height="1.82" fill="#ADFF2F" />
<path d="M516.5,251.41 L516.5,255.42 L527,255.42 Z" fill="#FFFF00"/>
<rect x="513.5" y="249.22" width="3" height="2.19" fill="#9B30FF" />
<rect x="533.5" y="248.12" width="2.5" height="2.55" fill="#9B30FF" />
<rect x="516.1" y="247.92" width="17.6" height="7.7" fill="none" stroke="#000" stroke-width="0.8" stroke-dasharray="1,1.7"/>
<rect x="504.1" y="248.12" width="75.6" height="7.3" fill="none" stroke="#7a7a7a" stroke-width="0.6"/>
<rect x="596.8" y="248.12" width="74.4" height="7.3" fill="#FFFF00" />
<rect x="596.8" y="248.12" width="74.4" height="0.51" fill="#008000" />
<rect x="596.8" y="248.12" width="4.25" height="0.44" fill="#008000" />
<rect x="596.8" y="248.56" width="4.25" height="0.36" fill="#FFA500" />
<rect x="596.8" y="248.92" width="4.25" height="0.36" fill="#FF00FF" />
<rect x="601" y="248.12" width="4.05" height="0.44" fill="#008000" />
<rect x="601" y="249.14" width="4.05" height="0.58" fill="#FFA500" />
<rect x="605" y="248.12" width="2.05" height="0.58" fill="#008000" />
<rect x="605" y="248.7" width="2.05" height="1.09" fill="#FFA500" />
<rect x="605" y="249.8" width="2.05" height="1.09" fill="#0000FF" />
<rect x="607" y="248.12" width="2.05" height="0.58" fill="#008000" />
<rect x="607" y="248.7" width="2.05" height="0.73" fill="#FFA500" />
<rect x="607" y="250.16" width="2.05" height="1.09" fill="#0000FF" />
<rect x="609" y="248.12" width="2.05" height="0.73" fill="#FFA500" />
<rect x="609" y="248.85" width="2.05" height="1.82" fill="#FF00FF" />
<rect x="611" y="248.12" width="2.05" height="0.58" fill="#FFA500" />
<rect x="611" y="248.7" width="2.05" height="1.46" fill="#0000FF" />
<rect x="611" y="250.16" width="2.05" height="2.92" fill="#FF00FF" />
<rect x="613" y="248.12" width="2.05" height="0.58" fill="#FFA500" />
<rect x="613" y="248.7" width="2.05" height="1.61" fill="#0000FF" />
<rect x="613" y="250.31" width="2.05" height="3.29" fill="#FF00FF" />
<rect x="615" y="248.12" width="2.05" height="0.44" fill="#FFA500" />
<rect x="615" y="248.56" width="2.05" height="1.82" fill="#0000FF" />
<rect x="615" y="250.38" width="2.05" height="3.8" fill="#FF00FF" />
<rect x="617" y="248.12" width="2.05" height="0.44" fill="#FFA500" />
<rect x="617" y="248.56" width="2.05" height="1.82" fill="#0000FF" />
<rect x="617" y="250.38" width="2.05" height="4.23" fill="#FF00FF" />
<rect x="619" y="248.12" width="2.05" height="0.44" fill="#FFA500" />
<rect x="619" y="248.56" width="2.05" height="2.19" fill="#0000FF" />
<rect x="619" y="250.75" width="2.05" height="4.09" fill="#FF00FF" />
<rect x="621" y="248.12" width="2.05" height="0.44" fill="#FFA500" />
<rect x="621" y="248.56" width="2.05" height="3.29" fill="#0000FF" />
<rect x="621" y="251.84" width="2.05" height="3.29" fill="#FF00FF" />
<rect x="623" y="248.12" width="2.05" height="0.44" fill="#FFA500" />
<rect x="623" y="248.56" width="2.05" height="3.65" fill="#0000FF" />
<rect x="623" y="252.21" width="2.05" height="3.07" fill="#FF00FF" />
<rect x="625" y="248.12" width="1.05" height="0.44" fill="#FFA500" />
<rect x="625" y="248.56" width="1.05" height="4.02" fill="#0000FF" />
<rect x="625" y="252.57" width="1.05" height="2.85" fill="#FF00FF" />
<rect x="626" y="248.12" width="3.05" height="2.55" fill="#0000FF" />
<rect x="626" y="250.68" width="3.05" height="2.19" fill="#FF00FF" />
<rect x="637" y="248.12" width="5.05" height="1.09" fill="#0000FF" />
<rect x="637" y="249.22" width="5.05" height="3.29" fill="#FF00FF" />
<rect x="645" y="248.12" width="4.05" height="1.46" fill="#008000" />
<rect x="645" y="249.58" width="4.05" height="1.09" fill="#FF00FF" />
<rect x="649" y="248.12" width="2.05" height="0.88" fill="#008000" />
<rect x="649" y="249" width="2.05" height="0.58" fill="#FFA500" />
<rect x="651" y="248.12" width="4.05" height="0.36" fill="#008000" />
<rect x="651" y="248.49" width="4.05" height="0.36" fill="#FFA500" />
<rect x="655" y="248.12" width="5.05" height="2.19" fill="#008000" />
<rect x="655" y="250.31" width="5.05" height="0.36" fill="#0000FF" />
<rect x="655" y="250.68" width="5.05" height="1.46" fill="#FF00FF" />
<rect x="655" y="252.14" width="5.05" height="0.73" fill="#FFA500" />
<rect x="660" y="248.12" width="6.05" height="0.73" fill="#008000" />
<rect x="660" y="248.85" width="6.05" height="0.58" fill="#FFA500" />
<rect x="660" y="249.43" width="6.05" height="1.82" fill="#FF00FF" />
<rect x="666" y="248.12" width="5.25" height="0.36" fill="#008000" />
<rect x="666" y="248.49" width="5.25" height="0.36" fill="#0000FF" />
<rect x="666" y="248.85" width="5.25" height="0.73" fill="#FF00FF" />
<path d="M609,252.5 L609,255.42 L616,255.42 Z" fill="#FFFF00"/>
<rect x="609" y="247.92" width="17" height="7.7" fill="none" stroke="#000" stroke-width="0.8" stroke-dasharray="1,1.7"/>
<rect x="596.1" y="248.12" width="75.6" height="7.3" fill="none" stroke="#7a7a7a" stroke-width="0.6"/>
<text transform="translate(499.3,264) scale(0.91,1)" font-size="8.4" text-anchor="end" font-weight="normal" fill="#000"  stroke="#000" stroke-width="0.12">HOR_21558</text>
<rect x="504.8" y="257.6" width="74.3" height="7.3" fill="#9B30FF" />
<path d="M504.8,264.9 L504.8,259.28 L511,259.28 L511,259.94 L515,259.94 L515,260.59 L518,260.59 L518,260.89 L522,260.89 L522,261.91 L526,261.91 L526,263.88 L529,263.88 L529,262.71 L531,262.71 L531,260.59 L536,260.59 L536,257.82 L545,257.82 L545,263.22 L550,263.22 L550,257.75 L553,257.75 L553,261.25 L557,261.25 L557,259.94 L561,259.94 L561,258.62 L564,258.62 L564,263.22 L568,263.22 L568,261.98 L571,261.98 L571,260.59 L575,260.59 L575,259.72 L579.1,259.72 L579.1,264.9 Z" fill="#FFFF00"/>
<rect x="504.1" y="257.6" width="75.6" height="7.3" fill="none" stroke="#7a7a7a" stroke-width="0.6"/>
<rect x="596.8" y="257.6" width="74.4" height="7.3" fill="#FFFF00" />
<rect x="596.8" y="257.6" width="74.4" height="0.51" fill="#008000" />
<rect x="596.8" y="257.6" width="6.25" height="0.73" fill="#008000" />
<rect x="596.8" y="258.7" width="6.25" height="0.58" fill="#FF00FF" />
<rect x="603" y="257.6" width="3.05" height="0.58" fill="#008000" />
<rect x="603" y="258.18" width="3.05" height="1.24" fill="#FFA500" />
<rect x="606" y="257.6" width="3.05" height="0.58" fill="#008000" />
<rect x="606" y="258.18" width="3.05" height="1.24" fill="#FFA500" />
<rect x="606" y="260.01" width="3.05" height="0.88" fill="#FF00FF" />
<rect x="609" y="257.6" width="3.05" height="0.58" fill="#008000" />
<rect x="609" y="258.18" width="3.05" height="1.24" fill="#FFA500" />
<rect x="609" y="259.43" width="3.05" height="0.88" fill="#0000FF" />
<rect x="612" y="257.6" width="2.05" height="0.58" fill="#008000" />
<rect x="612" y="258.18" width="2.05" height="1.82" fill="#FFA500" />
<rect x="614" y="257.6" width="3.05" height="0.58" fill="#008000" />
<rect x="614" y="258.18" width="3.05" height="1.82" fill="#FFA500" />
<rect x="614" y="260.37" width="3.05" height="0.88" fill="#0000FF" />
<rect x="617" y="257.6" width="3.05" height="0.58" fill="#008000" />
<rect x="617" y="258.18" width="3.05" height="3.29" fill="#FFA500" />
<rect x="617" y="261.47" width="3.05" height="0.88" fill="#FF00FF" />
<rect x="620" y="257.6" width="3.05" height="0.58" fill="#008000" />
<rect x="620" y="258.18" width="3.05" height="3.65" fill="#FFA500" />
<rect x="620" y="261.83" width="3.05" height="1.46" fill="#FF0000" />
<rect x="620" y="263.29" width="3.05" height="1.24" fill="#FF00FF" />
<rect x="623" y="257.6" width="3.05" height="0.73" fill="#008000" />
<rect x="623" y="258.33" width="3.05" height="2.55" fill="#FFA500" />
<rect x="623" y="260.89" width="3.05" height="0.88" fill="#FF0000" />
<rect x="623" y="261.76" width="3.05" height="0.73" fill="#FF00FF" />
<rect x="626" y="257.6" width="3.05" height="1.09" fill="#008000" />
<rect x="626" y="258.7" width="3.05" height="0.88" fill="#FFA500" />
<rect x="637" y="257.6" width="5.05" height="1.09" fill="#0000FF" />
<rect x="637" y="258.7" width="5.05" height="3.29" fill="#FF00FF" />
<rect x="645" y="257.6" width="4.05" height="1.82" fill="#008000" />
<rect x="645" y="259.43" width="4.05" height="1.09" fill="#FF00FF" />
<rect x="649" y="257.6" width="2.05" height="1.09" fill="#008000" />
<rect x="649" y="258.7" width="2.05" height="0.73" fill="#FFA500" />
<rect x="651" y="257.6" width="4.05" height="0.58" fill="#008000" />
<rect x="651" y="258.18" width="4.05" height="0.58" fill="#FFA500" />
<rect x="655" y="257.6" width="5.05" height="2.19" fill="#008000" />
<rect x="655" y="259.79" width="5.05" height="0.73" fill="#FFA500" />
<rect x="655" y="260.52" width="5.05" height="1.82" fill="#FF00FF" />
<rect x="655" y="262.35" width="5.05" height="0.73" fill="#0000FF" />
<rect x="660" y="257.6" width="6.05" height="1.09" fill="#008000" />
<rect x="660" y="258.7" width="6.05" height="0.73" fill="#FFA500" />
<rect x="660" y="259.43" width="6.05" height="1.82" fill="#FF00FF" />
<rect x="660" y="261.25" width="6.05" height="0.58" fill="#0000FF" />
<rect x="666" y="257.6" width="5.25" height="0.73" fill="#008000" />
<rect x="666" y="258.33" width="5.25" height="0.58" fill="#FFA500" />
<rect x="666" y="258.91" width="5.25" height="1.09" fill="#FF00FF" />
<rect x="666" y="260.01" width="5.25" height="0.58" fill="#0000FF" />
<rect x="596.1" y="257.6" width="75.6" height="7.3" fill="none" stroke="#7a7a7a" stroke-width="0.6"/>
<text transform="translate(499.3,273.48) scale(0.91,1)" font-size="8.4" text-anchor="end" font-weight="normal" fill="#000"  stroke="#000" stroke-width="0.12">HOR_3081</text>
<rect x="504.8" y="267.08" width="74.3" height="7.3" fill="#9B30FF" />
<path d="M504.8,274.38 L504.8,268.76 L511,268.76 L511,269.42 L515,269.42 L515,270.07 L518,270.07 L518,270.37 L522,270.37 L522,271.39 L526,271.39 L526,273.36 L529,273.36 L529,272.19 L531,272.19 L531,270.07 L536,270.07 L536,267.3 L545,267.3 L545,272.7 L550,272.7 L550,267.23 L553,267.23 L553,270.73 L557,270.73 L557,269.42 L561,269.42 L561,268.1 L564,268.1 L564,272.7 L568,272.7 L568,271.46 L571,271.46 L571,270.07 L575,270.07 L575,269.2 L579.1,269.2 L579.1,274.38 Z" fill="#FFFF00"/>
<rect x="504.1" y="267.08" width="75.6" height="7.3" fill="none" stroke="#7a7a7a" stroke-width="0.6"/>
<rect x="596.8" y="267.08" width="74.4" height="7.3" fill="#FFFF00" />
<rect x="596.8" y="267.08" width="74.4" height="0.51" fill="#008000" />
<rect x="596.8" y="267.08" width="6.25" height="0.73" fill="#008000" />
<rect x="596.8" y="268.18" width="6.25" height="0.58" fill="#FF00FF" />
<rect x="603" y="267.08" width="3.05" height="0.58" fill="#008000" />
<rect x="603" y="267.66" width="3.05" height="1.24" fill="#FFA500" />
<rect x="606" y="267.08" width="3.05" height="0.58" fill="#008000" />
<rect x="606" y="267.66" width="3.05" height="1.24" fill="#FFA500" />
<rect x="606" y="269.49" width="3.05" height="0.88" fill="#FF00FF" />
<rect x="609" y="267.08" width="3.05" height="0.58" fill="#008000" />
<rect x="609" y="267.66" width="3.05" height="1.24" fill="#FFA500" />
<rect x="609" y="268.9" width="3.05" height="0.88" fill="#0000FF" />
<rect x="612" y="267.08" width="2.05" height="0.58" fill="#008000" />
<rect x="612" y="267.66" width="2.05" height="1.82" fill="#FFA500" />
<rect x="614" y="267.08" width="3.05" height="0.58" fill="#008000" />
<rect x="614" y="267.66" width="3.05" height="1.82" fill="#FFA500" />
<rect x="614" y="269.85" width="3.05" height="0.88" fill="#0000FF" />
<rect x="617" y="267.08" width="3.05" height="0.58" fill="#008000" />
<rect x="617" y="267.66" width="3.05" height="3.29" fill="#FFA500" />
<rect x="617" y="270.95" width="3.05" height="0.88" fill="#FF00FF" />
<rect x="620" y="267.08" width="3.05" height="0.58" fill="#008000" />
<rect x="620" y="267.66" width="3.05" height="3.65" fill="#FFA500" />
<rect x="620" y="271.31" width="3.05" height="1.46" fill="#FF0000" />
<rect x="620" y="272.77" width="3.05" height="1.24" fill="#FF00FF" />
<rect x="623" y="267.08" width="3.05" height="0.73" fill="#008000" />
<rect x="623" y="267.81" width="3.05" height="2.55" fill="#FFA500" />
<rect x="623" y="270.37" width="3.05" height="0.88" fill="#FF0000" />
<rect x="623" y="271.24" width="3.05" height="0.73" fill="#FF00FF" />
<rect x="626" y="267.08" width="3.05" height="1.09" fill="#008000" />
<rect x="626" y="268.18" width="3.05" height="0.88" fill="#FFA500" />
<rect x="637" y="267.08" width="5.05" height="1.09" fill="#0000FF" />
<rect x="637" y="268.18" width="5.05" height="3.29" fill="#FF00FF" />
<rect x="645" y="267.08" width="4.05" height="1.82" fill="#008000" />
<rect x="645" y="268.9" width="4.05" height="1.09" fill="#FF00FF" />
<rect x="649" y="267.08" width="2.05" height="1.09" fill="#008000" />
<rect x="649" y="268.18" width="2.05" height="0.73" fill="#FFA500" />
<rect x="651" y="267.08" width="4.05" height="0.58" fill="#008000" />
<rect x="651" y="267.66" width="4.05" height="0.58" fill="#FFA500" />
<rect x="655" y="267.08" width="5.05" height="2.19" fill="#008000" />
<rect x="655" y="269.27" width="5.05" height="0.73" fill="#FFA500" />
<rect x="655" y="270" width="5.05" height="1.82" fill="#FF00FF" />
<rect x="655" y="271.82" width="5.05" height="0.73" fill="#0000FF" />
<rect x="660" y="267.08" width="6.05" height="1.09" fill="#008000" />
<rect x="660" y="268.18" width="6.05" height="0.73" fill="#FFA500" />
<rect x="660" y="268.91" width="6.05" height="1.82" fill="#FF00FF" />
<rect x="660" y="270.73" width="6.05" height="0.58" fill="#0000FF" />
<rect x="666" y="267.08" width="5.25" height="0.73" fill="#008000" />
<rect x="666" y="267.81" width="5.25" height="0.58" fill="#FFA500" />
<rect x="666" y="268.39" width="5.25" height="1.09" fill="#FF00FF" />
<rect x="666" y="269.49" width="5.25" height="0.58" fill="#0000FF" />
<rect x="596.1" y="267.08" width="75.6" height="7.3" fill="none" stroke="#7a7a7a" stroke-width="0.6"/>
<line x1="504.4" y1="278.3" x2="579.6" y2="278.3" stroke="#555" stroke-width="0.8" />
<line x1="504.4" y1="278.3" x2="504.4" y2="282.1" stroke="#555" stroke-width="0.8" />
<line x1="510.31" y1="278.3" x2="510.31" y2="280.1" stroke="#555" stroke-width="0.8" />
<line x1="516.23" y1="278.3" x2="516.23" y2="280.1" stroke="#555" stroke-width="0.8" />
<line x1="522.14" y1="278.3" x2="522.14" y2="280.1" stroke="#555" stroke-width="0.8" />
<line x1="528.06" y1="278.3" x2="528.06" y2="282.1" stroke="#555" stroke-width="0.8" />
<line x1="533.98" y1="278.3" x2="533.98" y2="280.1" stroke="#555" stroke-width="0.8" />
<line x1="539.89" y1="278.3" x2="539.89" y2="280.1" stroke="#555" stroke-width="0.8" />
<line x1="545.8" y1="278.3" x2="545.8" y2="280.1" stroke="#555" stroke-width="0.8" />
<line x1="551.72" y1="278.3" x2="551.72" y2="282.1" stroke="#555" stroke-width="0.8" />
<line x1="557.63" y1="278.3" x2="557.63" y2="280.1" stroke="#555" stroke-width="0.8" />
<line x1="563.55" y1="278.3" x2="563.55" y2="280.1" stroke="#555" stroke-width="0.8" />
<line x1="569.46" y1="278.3" x2="569.46" y2="280.1" stroke="#555" stroke-width="0.8" />
<line x1="575.38" y1="278.3" x2="575.38" y2="282.1" stroke="#555" stroke-width="0.8" />
<text transform="translate(504.4,293.4) scale(0.93,1)" font-size="8.4" text-anchor="middle" font-weight="normal" fill="#000"  stroke="#000" stroke-width="0.12">0</text>
<text transform="translate(528.06,293.4) scale(0.93,1)" font-size="8.4" text-anchor="middle" font-weight="normal" fill="#000"  stroke="#000" stroke-width="0.12">200</text>
<text transform="translate(551.72,293.4) scale(0.93,1)" font-size="8.4" text-anchor="middle" font-weight="normal" fill="#000"  stroke="#000" stroke-width="0.12">400</text>
<text transform="translate(575.38,293.4) scale(0.93,1)" font-size="8.4" text-anchor="middle" font-weight="normal" fill="#000"  stroke="#000" stroke-width="0.12">600</text>
<text transform="translate(541.5,306.5) scale(0.93,1)" font-size="8.6" text-anchor="middle" font-weight="normal" fill="#000"  stroke="#000" stroke-width="0.12">Position (Mb)</text>
<line x1="596.2" y1="278.3" x2="671.8" y2="278.3" stroke="#555" stroke-width="0.8" />
<line x1="596.2" y1="278.3" x2="596.2" y2="282.1" stroke="#555" stroke-width="0.8" />
<line x1="602.12" y1="278.3" x2="602.12" y2="280.1" stroke="#555" stroke-width="0.8" />
<line x1="608.03" y1="278.3" x2="608.03" y2="280.1" stroke="#555" stroke-width="0.8" />
<line x1="613.95" y1="278.3" x2="613.95" y2="280.1" stroke="#555" stroke-width="0.8" />
<line x1="619.86" y1="278.3" x2="619.86" y2="282.1" stroke="#555" stroke-width="0.8" />
<line x1="625.78" y1="278.3" x2="625.78" y2="280.1" stroke="#555" stroke-width="0.8" />
<line x1="631.69" y1="278.3" x2="631.69" y2="280.1" stroke="#555" stroke-width="0.8" />
<line x1="637.61" y1="278.3" x2="637.61" y2="280.1" stroke="#555" stroke-width="0.8" />
<line x1="643.52" y1="278.3" x2="643.52" y2="282.1" stroke="#555" stroke-width="0.8" />
<line x1="649.44" y1="278.3" x2="649.44" y2="280.1" stroke="#555" stroke-width="0.8" />
<line x1="655.35" y1="278.3" x2="655.35" y2="280.1" stroke="#555" stroke-width="0.8" />
<line x1="661.27" y1="278.3" x2="661.27" y2="280.1" stroke="#555" stroke-width="0.8" />
<line x1="667.18" y1="278.3" x2="667.18" y2="282.1" stroke="#555" stroke-width="0.8" />
<text transform="translate(596.2,293.4) scale(0.93,1)" font-size="8.4" text-anchor="middle" font-weight="normal" fill="#000"  stroke="#000" stroke-width="0.12">0</text>
<text transform="translate(619.86,293.4) scale(0.93,1)" font-size="8.4" text-anchor="middle" font-weight="normal" fill="#000"  stroke="#000" stroke-width="0.12">200</text>
<text transform="translate(643.52,293.4) scale(0.93,1)" font-size="8.4" text-anchor="middle" font-weight="normal" fill="#000"  stroke="#000" stroke-width="0.12">400</text>
<text transform="translate(667.18,293.4) scale(0.93,1)" font-size="8.4" text-anchor="middle" font-weight="normal" fill="#000"  stroke="#000" stroke-width="0.12">600</text>
<text transform="translate(634,306.5) scale(0.93,1)" font-size="8.6" text-anchor="middle" font-weight="normal" fill="#000"  stroke="#000" stroke-width="0.12">Position (Mb)</text>
<text x="437" y="329.1" font-size="10.5" text-anchor="start" font-weight="bold" fill="#000" stroke="#000" stroke-width="0.35">g</text>
<rect x="468.3" y="334.4" width="182.8" height="49.9" fill="none" stroke="#888" stroke-width="0.8"/>
<line x1="468.3" y1="334.4" x2="468.3" y2="384.3" stroke="#111" stroke-width="1.1" />
<line x1="468.3" y1="384.3" x2="651.1" y2="384.3" stroke="#111" stroke-width="1.1" />
<line x1="651.1" y1="334.4" x2="651.1" y2="384.3" stroke="#111" stroke-width="1.0" />
<line x1="468.3" y1="379.31" x2="651.1" y2="379.31" stroke="#6f6ff5" stroke-width="0.8" stroke-dasharray="1.6,1.4"/>
<line x1="465.8" y1="384.3" x2="468.3" y2="384.3" stroke="#111" stroke-width="0.8" />
<text transform="translate(462.8,387) scale(0.93,1)" font-size="8.4" text-anchor="end" font-weight="normal" fill="#000"  stroke="#000" stroke-width="0.12">10<tspan font-size="5.6" dy="-3.2">1</tspan></text>
<line x1="465.8" y1="371.82" x2="468.3" y2="371.82" stroke="#111" stroke-width="0.8" />
<text transform="translate(462.8,374.52) scale(0.93,1)" font-size="8.4" text-anchor="end" font-weight="normal" fill="#000"  stroke="#000" stroke-width="0.12">10<tspan font-size="5.6" dy="-3.2">2</tspan></text>
<line x1="465.8" y1="359.35" x2="468.3" y2="359.35" stroke="#111" stroke-width="0.8" />
<text transform="translate(462.8,362.05) scale(0.93,1)" font-size="8.4" text-anchor="end" font-weight="normal" fill="#000"  stroke="#000" stroke-width="0.12">10<tspan font-size="5.6" dy="-3.2">3</tspan></text>
<line x1="465.8" y1="346.88" x2="468.3" y2="346.88" stroke="#111" stroke-width="0.8" />
<text transform="translate(462.8,349.57) scale(0.93,1)" font-size="8.4" text-anchor="end" font-weight="normal" fill="#000"  stroke="#000" stroke-width="0.12">10<tspan font-size="5.6" dy="-3.2">4</tspan></text>
<line x1="465.8" y1="334.4" x2="468.3" y2="334.4" stroke="#111" stroke-width="0.8" />
<text transform="translate(462.8,337.1) scale(0.93,1)" font-size="8.4" text-anchor="end" font-weight="normal" fill="#000"  stroke="#000" stroke-width="0.12">10<tspan font-size="5.6" dy="-3.2">5</tspan></text>
<line x1="467" y1="380.54" x2="468.3" y2="380.54" stroke="#111" stroke-width="0.5" />
<line x1="467" y1="378.35" x2="468.3" y2="378.35" stroke="#111" stroke-width="0.5" />
<line x1="467" y1="376.79" x2="468.3" y2="376.79" stroke="#111" stroke-width="0.5" />
<line x1="467" y1="375.58" x2="468.3" y2="375.58" stroke="#111" stroke-width="0.5" />
<line x1="467" y1="374.59" x2="468.3" y2="374.59" stroke="#111" stroke-width="0.5" />
<line x1="467" y1="373.76" x2="468.3" y2="373.76" stroke="#111" stroke-width="0.5" />
<line x1="467" y1="373.03" x2="468.3" y2="373.03" stroke="#111" stroke-width="0.5" />
<line x1="467" y1="372.4" x2="468.3" y2="372.4" stroke="#111" stroke-width="0.5" />
<line x1="467" y1="368.07" x2="468.3" y2="368.07" stroke="#111" stroke-width="0.5" />
<line x1="467" y1="365.87" x2="468.3" y2="365.87" stroke="#111" stroke-width="0.5" />
<line x1="467" y1="364.31" x2="468.3" y2="364.31" stroke="#111" stroke-width="0.5" />
<line x1="467" y1="363.11" x2="468.3" y2="363.11" stroke="#111" stroke-width="0.5" />
<line x1="467" y1="362.12" x2="468.3" y2="362.12" stroke="#111" stroke-width="0.5" />
<line x1="467" y1="361.28" x2="468.3" y2="361.28" stroke="#111" stroke-width="0.5" />
<line x1="467" y1="360.56" x2="468.3" y2="360.56" stroke="#111" stroke-width="0.5" />
<line x1="467" y1="359.92" x2="468.3" y2="359.92" stroke="#111" stroke-width="0.5" />
<line x1="467" y1="355.59" x2="468.3" y2="355.59" stroke="#111" stroke-width="0.5" />
<line x1="467" y1="353.4" x2="468.3" y2="353.4" stroke="#111" stroke-width="0.5" />
<line x1="467" y1="351.84" x2="468.3" y2="351.84" stroke="#111" stroke-width="0.5" />
<line x1="467" y1="350.63" x2="468.3" y2="350.63" stroke="#111" stroke-width="0.5" />
<line x1="467" y1="349.64" x2="468.3" y2="349.64" stroke="#111" stroke-width="0.5" />
<line x1="467" y1="348.81" x2="468.3" y2="348.81" stroke="#111" stroke-width="0.5" />
<line x1="467" y1="348.08" x2="468.3" y2="348.08" stroke="#111" stroke-width="0.5" />
<line x1="467" y1="347.45" x2="468.3" y2="347.45" stroke="#111" stroke-width="0.5" />
<line x1="467" y1="343.12" x2="468.3" y2="343.12" stroke="#111" stroke-width="0.5" />
<line x1="467" y1="340.92" x2="468.3" y2="340.92" stroke="#111" stroke-width="0.5" />
<line x1="467" y1="339.36" x2="468.3" y2="339.36" stroke="#111" stroke-width="0.5" />
<line x1="467" y1="338.16" x2="468.3" y2="338.16" stroke="#111" stroke-width="0.5" />
<line x1="467" y1="337.17" x2="468.3" y2="337.17" stroke="#111" stroke-width="0.5" />
<line x1="467" y1="336.33" x2="468.3" y2="336.33" stroke="#111" stroke-width="0.5" />
<line x1="467" y1="335.61" x2="468.3" y2="335.61" stroke="#111" stroke-width="0.5" />
<line x1="467" y1="334.97" x2="468.3" y2="334.97" stroke="#111" stroke-width="0.5" />
<line x1="651.1" y1="345.6" x2="653.9" y2="345.6" stroke="#111" stroke-width="0.8" />
<text transform="translate(657.3,348.3) scale(0.93,1)" font-size="8.4" text-anchor="start" font-weight="normal" fill="#000"  stroke="#000" stroke-width="0.12">10<tspan font-size="5.6" dy="-3.2">6</tspan></text>
<line x1="651.1" y1="357.1" x2="653.9" y2="357.1" stroke="#111" stroke-width="0.8" />
<text transform="translate(657.3,359.8) scale(0.93,1)" font-size="8.4" text-anchor="start" font-weight="normal" fill="#000"  stroke="#000" stroke-width="0.12">10<tspan font-size="5.6" dy="-3.2">5</tspan></text>
<line x1="651.1" y1="370" x2="653.9" y2="370" stroke="#111" stroke-width="0.8" />
<text transform="translate(657.3,372.7) scale(0.93,1)" font-size="8.4" text-anchor="start" font-weight="normal" fill="#000"  stroke="#000" stroke-width="0.12">10<tspan font-size="5.6" dy="-3.2">4</tspan></text>
<line x1="651.1" y1="382.4" x2="653.9" y2="382.4" stroke="#111" stroke-width="0.8" />
<text transform="translate(657.3,385.1) scale(0.93,1)" font-size="8.4" text-anchor="start" font-weight="normal" fill="#000"  stroke="#000" stroke-width="0.12">10<tspan font-size="5.6" dy="-3.2">3</tspan></text>
<line x1="651.1" y1="336.4" x2="652.4" y2="336.4" stroke="#111" stroke-width="0.5" />
<line x1="651.1" y1="339.45" x2="652.4" y2="339.45" stroke="#111" stroke-width="0.5" />
<line x1="651.1" y1="342.5" x2="652.4" y2="342.5" stroke="#111" stroke-width="0.5" />
<line x1="651.1" y1="345.55" x2="652.4" y2="345.55" stroke="#111" stroke-width="0.5" />
<line x1="651.1" y1="348.6" x2="652.4" y2="348.6" stroke="#111" stroke-width="0.5" />
<line x1="651.1" y1="351.65" x2="652.4" y2="351.65" stroke="#111" stroke-width="0.5" />
<line x1="651.1" y1="354.7" x2="652.4" y2="354.7" stroke="#111" stroke-width="0.5" />
<line x1="651.1" y1="357.75" x2="652.4" y2="357.75" stroke="#111" stroke-width="0.5" />
<line x1="651.1" y1="360.8" x2="652.4" y2="360.8" stroke="#111" stroke-width="0.5" />
<line x1="651.1" y1="363.85" x2="652.4" y2="363.85" stroke="#111" stroke-width="0.5" />
<line x1="651.1" y1="366.9" x2="652.4" y2="366.9" stroke="#111" stroke-width="0.5" />
<line x1="651.1" y1="369.95" x2="652.4" y2="369.95" stroke="#111" stroke-width="0.5" />
<line x1="651.1" y1="373" x2="652.4" y2="373" stroke="#111" stroke-width="0.5" />
<line x1="651.1" y1="376.05" x2="652.4" y2="376.05" stroke="#111" stroke-width="0.5" />
<line x1="651.1" y1="379.1" x2="652.4" y2="379.1" stroke="#111" stroke-width="0.5" />
<line x1="651.1" y1="382.15" x2="652.4" y2="382.15" stroke="#111" stroke-width="0.5" />
<line x1="469.2" y1="384.3" x2="469.2" y2="387.1" stroke="#111" stroke-width="0.8" />
<text transform="translate(469.2,396.7) scale(0.93,1)" font-size="8.4" text-anchor="middle" font-weight="normal" fill="#000"  stroke="#000" stroke-width="0.12">0</text>
<line x1="497.95" y1="384.3" x2="497.95" y2="387.1" stroke="#111" stroke-width="0.8" />
<text transform="translate(497.95,396.7) scale(0.93,1)" font-size="8.4" text-anchor="middle" font-weight="normal" fill="#000"  stroke="#000" stroke-width="0.12">100</text>
<line x1="526.7" y1="384.3" x2="526.7" y2="387.1" stroke="#111" stroke-width="0.8" />
<text transform="translate(526.7,396.7) scale(0.93,1)" font-size="8.4" text-anchor="middle" font-weight="normal" fill="#000"  stroke="#000" stroke-width="0.12">200</text>
<line x1="555.45" y1="384.3" x2="555.45" y2="387.1" stroke="#111" stroke-width="0.8" />
<text transform="translate(555.45,396.7) scale(0.93,1)" font-size="8.4" text-anchor="middle" font-weight="normal" fill="#000"  stroke="#000" stroke-width="0.12">300</text>
<line x1="584.2" y1="384.3" x2="584.2" y2="387.1" stroke="#111" stroke-width="0.8" />
<text transform="translate(584.2,396.7) scale(0.93,1)" font-size="8.4" text-anchor="middle" font-weight="normal" fill="#000"  stroke="#000" stroke-width="0.12">400</text>
<line x1="612.95" y1="384.3" x2="612.95" y2="387.1" stroke="#111" stroke-width="0.8" />
<text transform="translate(612.95,396.7) scale(0.93,1)" font-size="8.4" text-anchor="middle" font-weight="normal" fill="#000"  stroke="#000" stroke-width="0.12">500</text>
<line x1="641.7" y1="384.3" x2="641.7" y2="387.1" stroke="#111" stroke-width="0.8" />
<text transform="translate(641.7,396.7) scale(0.93,1)" font-size="8.4" text-anchor="middle" font-weight="normal" fill="#000"  stroke="#000" stroke-width="0.12">600</text>
<line x1="483.57" y1="384.3" x2="483.57" y2="385.8" stroke="#111" stroke-width="0.5" />
<line x1="512.33" y1="384.3" x2="512.33" y2="385.8" stroke="#111" stroke-width="0.5" />
<line x1="541.08" y1="384.3" x2="541.08" y2="385.8" stroke="#111" stroke-width="0.5" />
<line x1="569.82" y1="384.3" x2="569.82" y2="385.8" stroke="#111" stroke-width="0.5" />
<line x1="598.58" y1="384.3" x2="598.58" y2="385.8" stroke="#111" stroke-width="0.5" />
<line x1="627.33" y1="384.3" x2="627.33" y2="385.8" stroke="#111" stroke-width="0.5" />
<text transform="translate(559.8,340.7) scale(0.93,1)" font-size="8.4" text-anchor="middle" font-weight="normal" fill="#000"  stroke="#000" stroke-width="0.12">HOR_17134 vs WBDC_015</text>
<rect x="468.3" y="406.6" width="182.8" height="50.2" fill="none" stroke="#888" stroke-width="0.8"/>
<line x1="468.3" y1="406.6" x2="468.3" y2="456.8" stroke="#111" stroke-width="1.1" />
<line x1="468.3" y1="456.8" x2="651.1" y2="456.8" stroke="#111" stroke-width="1.1" />
<line x1="651.1" y1="406.6" x2="651.1" y2="456.8" stroke="#111" stroke-width="1.0" />
<line x1="468.3" y1="451.78" x2="651.1" y2="451.78" stroke="#6f6ff5" stroke-width="0.8" stroke-dasharray="1.6,1.4"/>
<line x1="465.8" y1="456.8" x2="468.3" y2="456.8" stroke="#111" stroke-width="0.8" />
<text transform="translate(462.8,459.5) scale(0.93,1)" font-size="8.4" text-anchor="end" font-weight="normal" fill="#000"  stroke="#000" stroke-width="0.12">10<tspan font-size="5.6" dy="-3.2">1</tspan></text>
<line x1="465.8" y1="444.25" x2="468.3" y2="444.25" stroke="#111" stroke-width="0.8" />
<text transform="translate(462.8,446.95) scale(0.93,1)" font-size="8.4" text-anchor="end" font-weight="normal" fill="#000"  stroke="#000" stroke-width="0.12">10<tspan font-size="5.6" dy="-3.2">2</tspan></text>
<line x1="465.8" y1="431.7" x2="468.3" y2="431.7" stroke="#111" stroke-width="0.8" />
<text transform="translate(462.8,434.4) scale(0.93,1)" font-size="8.4" text-anchor="end" font-weight="normal" fill="#000"  stroke="#000" stroke-width="0.12">10<tspan font-size="5.6" dy="-3.2">3</tspan></text>
<line x1="465.8" y1="419.15" x2="468.3" y2="419.15" stroke="#111" stroke-width="0.8" />
<text transform="translate(462.8,421.85) scale(0.93,1)" font-size="8.4" text-anchor="end" font-weight="normal" fill="#000"  stroke="#000" stroke-width="0.12">10<tspan font-size="5.6" dy="-3.2">4</tspan></text>
<line x1="465.8" y1="406.6" x2="468.3" y2="406.6" stroke="#111" stroke-width="0.8" />
<text transform="translate(462.8,409.3) scale(0.93,1)" font-size="8.4" text-anchor="end" font-weight="normal" fill="#000"  stroke="#000" stroke-width="0.12">10<tspan font-size="5.6" dy="-3.2">5</tspan></text>
<line x1="467" y1="453.02" x2="468.3" y2="453.02" stroke="#111" stroke-width="0.5" />
<line x1="467" y1="450.81" x2="468.3" y2="450.81" stroke="#111" stroke-width="0.5" />
<line x1="467" y1="449.24" x2="468.3" y2="449.24" stroke="#111" stroke-width="0.5" />
<line x1="467" y1="448.03" x2="468.3" y2="448.03" stroke="#111" stroke-width="0.5" />
<line x1="467" y1="447.03" x2="468.3" y2="447.03" stroke="#111" stroke-width="0.5" />
<line x1="467" y1="446.19" x2="468.3" y2="446.19" stroke="#111" stroke-width="0.5" />
<line x1="467" y1="445.47" x2="468.3" y2="445.47" stroke="#111" stroke-width="0.5" />
<line x1="467" y1="444.82" x2="468.3" y2="444.82" stroke="#111" stroke-width="0.5" />
<line x1="467" y1="440.47" x2="468.3" y2="440.47" stroke="#111" stroke-width="0.5" />
<line x1="467" y1="438.26" x2="468.3" y2="438.26" stroke="#111" stroke-width="0.5" />
<line x1="467" y1="436.69" x2="468.3" y2="436.69" stroke="#111" stroke-width="0.5" />
<line x1="467" y1="435.48" x2="468.3" y2="435.48" stroke="#111" stroke-width="0.5" />
<line x1="467" y1="434.48" x2="468.3" y2="434.48" stroke="#111" stroke-width="0.5" />
<line x1="467" y1="433.64" x2="468.3" y2="433.64" stroke="#111" stroke-width="0.5" />
<line x1="467" y1="432.92" x2="468.3" y2="432.92" stroke="#111" stroke-width="0.5" />
<line x1="467" y1="432.27" x2="468.3" y2="432.27" stroke="#111" stroke-width="0.5" />
<line x1="467" y1="427.92" x2="468.3" y2="427.92" stroke="#111" stroke-width="0.5" />
<line x1="467" y1="425.71" x2="468.3" y2="425.71" stroke="#111" stroke-width="0.5" />
<line x1="467" y1="424.14" x2="468.3" y2="424.14" stroke="#111" stroke-width="0.5" />
<line x1="467" y1="422.93" x2="468.3" y2="422.93" stroke="#111" stroke-width="0.5" />
<line x1="467" y1="421.93" x2="468.3" y2="421.93" stroke="#111" stroke-width="0.5" />
<line x1="467" y1="421.09" x2="468.3" y2="421.09" stroke="#111" stroke-width="0.5" />
<line x1="467" y1="420.37" x2="468.3" y2="420.37" stroke="#111" stroke-width="0.5" />
<line x1="467" y1="419.72" x2="468.3" y2="419.72" stroke="#111" stroke-width="0.5" />
<line x1="467" y1="415.37" x2="468.3" y2="415.37" stroke="#111" stroke-width="0.5" />
<line x1="467" y1="413.16" x2="468.3" y2="413.16" stroke="#111" stroke-width="0.5" />
<line x1="467" y1="411.59" x2="468.3" y2="411.59" stroke="#111" stroke-width="0.5" />
<line x1="467" y1="410.38" x2="468.3" y2="410.38" stroke="#111" stroke-width="0.5" />
<line x1="467" y1="409.38" x2="468.3" y2="409.38" stroke="#111" stroke-width="0.5" />
<line x1="467" y1="408.54" x2="468.3" y2="408.54" stroke="#111" stroke-width="0.5" />
<line x1="467" y1="407.82" x2="468.3" y2="407.82" stroke="#111" stroke-width="0.5" />
<line x1="467" y1="407.17" x2="468.3" y2="407.17" stroke="#111" stroke-width="0.5" />
<line x1="651.1" y1="417.87" x2="653.9" y2="417.87" stroke="#111" stroke-width="0.8" />
<text transform="translate(657.3,420.57) scale(0.93,1)" font-size="8.4" text-anchor="start" font-weight="normal" fill="#000"  stroke="#000" stroke-width="0.12">10<tspan font-size="5.6" dy="-3.2">6</tspan></text>
<line x1="651.1" y1="429.44" x2="653.9" y2="429.44" stroke="#111" stroke-width="0.8" />
<text transform="translate(657.3,432.14) scale(0.93,1)" font-size="8.4" text-anchor="start" font-weight="normal" fill="#000"  stroke="#000" stroke-width="0.12">10<tspan font-size="5.6" dy="-3.2">5</tspan></text>
<line x1="651.1" y1="442.41" x2="653.9" y2="442.41" stroke="#111" stroke-width="0.8" />
<text transform="translate(657.3,445.11) scale(0.93,1)" font-size="8.4" text-anchor="start" font-weight="normal" fill="#000"  stroke="#000" stroke-width="0.12">10<tspan font-size="5.6" dy="-3.2">4</tspan></text>
<line x1="651.1" y1="454.89" x2="653.9" y2="454.89" stroke="#111" stroke-width="0.8" />
<text transform="translate(657.3,457.59) scale(0.93,1)" font-size="8.4" text-anchor="start" font-weight="normal" fill="#000"  stroke="#000" stroke-width="0.12">10<tspan font-size="5.6" dy="-3.2">3</tspan></text>
<line x1="651.1" y1="408.6" x2="652.4" y2="408.6" stroke="#111" stroke-width="0.5" />
<line x1="651.1" y1="411.65" x2="652.4" y2="411.65" stroke="#111" stroke-width="0.5" />
<line x1="651.1" y1="414.7" x2="652.4" y2="414.7" stroke="#111" stroke-width="0.5" />
<line x1="651.1" y1="417.75" x2="652.4" y2="417.75" stroke="#111" stroke-width="0.5" />
<line x1="651.1" y1="420.8" x2="652.4" y2="420.8" stroke="#111" stroke-width="0.5" />
<line x1="651.1" y1="423.85" x2="652.4" y2="423.85" stroke="#111" stroke-width="0.5" />
<line x1="651.1" y1="426.9" x2="652.4" y2="426.9" stroke="#111" stroke-width="0.5" />
<line x1="651.1" y1="429.95" x2="652.4" y2="429.95" stroke="#111" stroke-width="0.5" />
<line x1="651.1" y1="433" x2="652.4" y2="433" stroke="#111" stroke-width="0.5" />
<line x1="651.1" y1="436.05" x2="652.4" y2="436.05" stroke="#111" stroke-width="0.5" />
<line x1="651.1" y1="439.1" x2="652.4" y2="439.1" stroke="#111" stroke-width="0.5" />
<line x1="651.1" y1="442.15" x2="652.4" y2="442.15" stroke="#111" stroke-width="0.5" />
<line x1="651.1" y1="445.2" x2="652.4" y2="445.2" stroke="#111" stroke-width="0.5" />
<line x1="651.1" y1="448.25" x2="652.4" y2="448.25" stroke="#111" stroke-width="0.5" />
<line x1="651.1" y1="451.3" x2="652.4" y2="451.3" stroke="#111" stroke-width="0.5" />
<line x1="651.1" y1="454.35" x2="652.4" y2="454.35" stroke="#111" stroke-width="0.5" />
<line x1="469.2" y1="456.8" x2="469.2" y2="459.6" stroke="#111" stroke-width="0.8" />
<text transform="translate(469.2,469.2) scale(0.93,1)" font-size="8.4" text-anchor="middle" font-weight="normal" fill="#000"  stroke="#000" stroke-width="0.12">0</text>
<line x1="497.95" y1="456.8" x2="497.95" y2="459.6" stroke="#111" stroke-width="0.8" />
<text transform="translate(497.95,469.2) scale(0.93,1)" font-size="8.4" text-anchor="middle" font-weight="normal" fill="#000"  stroke="#000" stroke-width="0.12">100</text>
<line x1="526.7" y1="456.8" x2="526.7" y2="459.6" stroke="#111" stroke-width="0.8" />
<text transform="translate(526.7,469.2) scale(0.93,1)" font-size="8.4" text-anchor="middle" font-weight="normal" fill="#000"  stroke="#000" stroke-width="0.12">200</text>
<line x1="555.45" y1="456.8" x2="555.45" y2="459.6" stroke="#111" stroke-width="0.8" />
<text transform="translate(555.45,469.2) scale(0.93,1)" font-size="8.4" text-anchor="middle" font-weight="normal" fill="#000"  stroke="#000" stroke-width="0.12">300</text>
<line x1="584.2" y1="456.8" x2="584.2" y2="459.6" stroke="#111" stroke-width="0.8" />
<text transform="translate(584.2,469.2) scale(0.93,1)" font-size="8.4" text-anchor="middle" font-weight="normal" fill="#000"  stroke="#000" stroke-width="0.12">400</text>
<line x1="612.95" y1="456.8" x2="612.95" y2="459.6" stroke="#111" stroke-width="0.8" />
<text transform="translate(612.95,469.2) scale(0.93,1)" font-size="8.4" text-anchor="middle" font-weight="normal" fill="#000"  stroke="#000" stroke-width="0.12">500</text>
<line x1="641.7" y1="456.8" x2="641.7" y2="459.6" stroke="#111" stroke-width="0.8" />
<text transform="translate(641.7,469.2) scale(0.93,1)" font-size="8.4" text-anchor="middle" font-weight="normal" fill="#000"  stroke="#000" stroke-width="0.12">600</text>
<line x1="483.57" y1="456.8" x2="483.57" y2="458.3" stroke="#111" stroke-width="0.5" />
<line x1="512.33" y1="456.8" x2="512.33" y2="458.3" stroke="#111" stroke-width="0.5" />
<line x1="541.08" y1="456.8" x2="541.08" y2="458.3" stroke="#111" stroke-width="0.5" />
<line x1="569.82" y1="456.8" x2="569.82" y2="458.3" stroke="#111" stroke-width="0.5" />
<line x1="598.58" y1="456.8" x2="598.58" y2="458.3" stroke="#111" stroke-width="0.5" />
<line x1="627.33" y1="456.8" x2="627.33" y2="458.3" stroke="#111" stroke-width="0.5" />
<text transform="translate(559.8,412.9) scale(0.93,1)" font-size="8.4" text-anchor="middle" font-weight="normal" fill="#000"  stroke="#000" stroke-width="0.12">HOR_17572 vs WBDC_355</text>
<text fill="#000" stroke="#000" stroke-width="0.12" transform="translate(442.9,395.7) rotate(-90)" font-size="7.9" text-anchor="middle">SNP number (per Mb)</text>
<text fill="#000" stroke="#000" stroke-width="0.12" transform="translate(682.6,395.2) rotate(-90)" font-size="7.5" text-anchor="middle">Time (years)</text>
<text transform="translate(559.8,483.6) scale(0.93,1)" font-size="8.6" text-anchor="middle" font-weight="normal" fill="#000"  stroke="#000" stroke-width="0.12">Position (Mb)</text>
</svg></body></html>
